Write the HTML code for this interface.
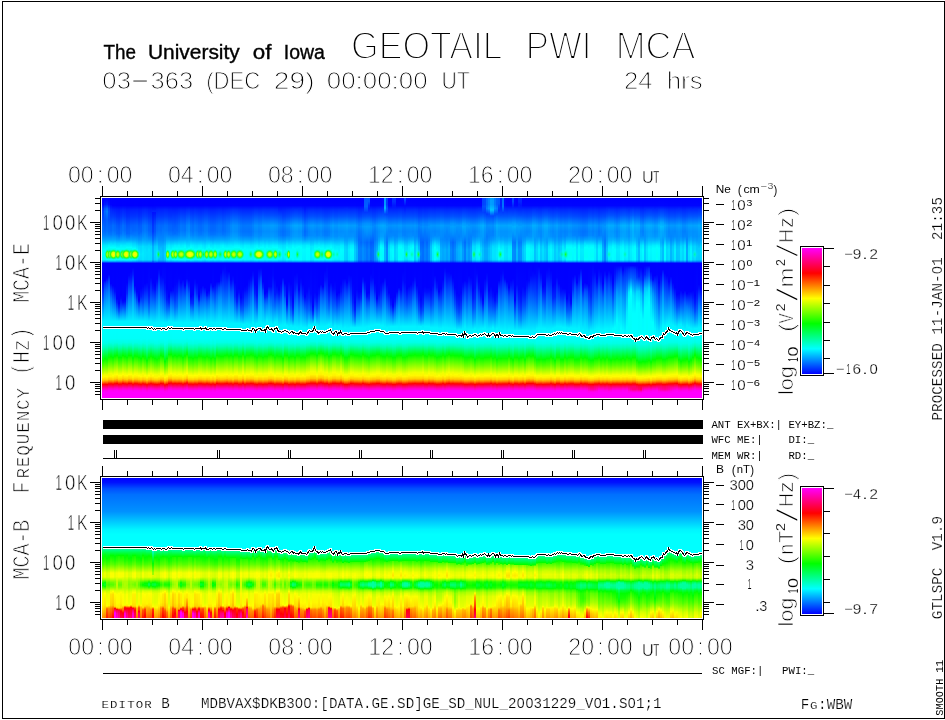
<!DOCTYPE html>
<html><head><meta charset="utf-8"><title>GEOTAIL PWI MCA</title>
<style>
html,body{margin:0;padding:0;background:#fff}
body{width:945px;height:720px;position:relative;overflow:hidden;font-family:"Liberation Sans",sans-serif}
.p{position:absolute;left:102px;width:600px;overflow:hidden}
.p i{position:absolute;top:0;width:2px;height:100%;display:block}
#p1{top:198px;height:200px}
#p2{top:478px;height:140px}
svg{position:absolute;left:0;top:0}
text{font-family:"Liberation Sans",sans-serif;fill:#000}
.m{font-family:"Liberation Mono",monospace}
</style></head><body>
<div class="p" id="p1">
<i style="left:0px;background:linear-gradient(#00f 0.5px,#0007ff 6.5px,#002eff 10.5px,#003eff 13.5px,#0048ff 19.5px,#006aff 28.5px,#006eff 33.5px,#0081ff 37.5px,#00a1ff 41.5px,#00e9ff 47.5px,#00fbff 51.5px,#00f5ff 61.5px,#00d8ff 62.5px,#009fff 63.5px,#003fff 64.5px,#00f 65.5px,#00f 82.5px,#0016ff 89.5px,#004bff 99.5px,#00f2ff 123.5px,#00f2ff 128.5px,#0ff 129.5px,#00fff9 141.5px,#00ffe8 145.5px,#00ffb2 150.5px,#00ff23 159.5px,#07ff00 162.5px,#5cff00 168.5px,#f5ff00 177.5px,#fff700 179.5px,#ffc400 182.5px,#ff7100 184.5px,#ff0800 186.5px,#ff00a9 190.5px,#ff00e4 192.5px,#ff00fe 194.5px,#f0f 199.5px)"></i>
<i style="left:2px;background:linear-gradient(#0002ff 0.5px,#001aff 6.5px,#05f 10.5px,#0069ff 13.5px,#0056ff 21.5px,#0069ff 32.5px,#0079ff 36.5px,#00a0ff 41.5px,#00e9ff 47.5px,#00feff 51.5px,#00fff4 56.5px,#00f7ff 61.5px,#00d8ff 62.5px,#009fff 63.5px,#003fff 64.5px,#00f 65.5px,#00f 82.5px,#002aff 85.5px,#0059ff 91.5px,#00c5ff 112.5px,#00f2ff 123.5px,#00f2ff 128.5px,#0ff 129.5px,#00fff8 141.5px,#00ffe5 145.5px,#00ffb5 149.5px,#00ff1f 158.5px,#00ff03 160.5px,#0bff00 161.5px,#5cff00 167.5px,#efff00 176.5px,#fffc00 178.5px,#ffd300 181.5px,#ffb600 182.5px,#ff8f00 183.5px,#ff2c00 185.5px,#ff0007 186.5px,#ff0064 188.5px,#ff00b3 190.5px,#ff00ea 192.5px,#f0f 194.5px,#f0f 199.5px)"></i>
<i style="left:4px;background:linear-gradient(#0003ff 0.5px,#0021ff 6.5px,#0064ff 10.5px,#007bff 13.5px,#005fff 21.5px,#006fff 32.5px,#0084ff 37.5px,#00a4ff 41.5px,#00ecff 47.5px,#00fffc 50.5px,#00ffd8 54.5px,#00ffd3 56.5px,#00ffdb 58.5px,#00fffc 61.5px,#00deff 62.5px,#00a2ff 63.5px,#0040ff 64.5px,#00f 65.5px,#00f 79.5px,#000dff 81.5px,#0029ff 83.5px,#04f 86.5px,#07f 94.5px,#00b5ff 107.5px,#00f2ff 123.5px,#00f2ff 128.5px,#0ff 129.5px,#00fff8 141.5px,#00ffe6 145.5px,#00ffb7 149.5px,#00ff24 158.5px,#06ff00 161.5px,#58ff00 167.5px,#edff00 176.5px,#fffd00 178.5px,#fff300 179.5px,#ffd500 181.5px,#ffba00 182.5px,#ff6400 184.5px,#ff0004 186.5px,#ff0061 188.5px,#ff00b0 190.5px,#ff00e9 192.5px,#f0f 194.5px,#f0f 199.5px)"></i>
<i style="left:6px;background:linear-gradient(#0001ff 0.5px,#0010ff 6.5px,#0040ff 10.5px,#0051ff 13.5px,#0051ff 21.5px,#06f 28.5px,#006bff 33.5px,#0079ff 36.5px,#00a4ff 41.5px,#00f4ff 47.5px,#00fffc 49.5px,#00ffc6 54.5px,#00ffc1 56.5px,#00ffc9 58.5px,#00fff2 61.5px,#00e6ff 62.5px,#00a8ff 63.5px,#0042ff 64.5px,#00f 65.5px,#00f 76.5px,#003cff 82.5px,#006aff 89.5px,#00a2ff 101.5px,#00deff 117.5px,#00f2ff 123.5px,#00f2ff 128.5px,#0ff 129.5px,#00fff9 140.5px,#00ffe7 144.5px,#00ffb7 148.5px,#00ff25 156.5px,#08ff00 159.5px,#74ff00 167.5px,#edff00 175.5px,#fff600 178.5px,#ffc700 181.5px,#ff7b00 183.5px,#ff1600 185.5px,#ff001c 186.5px,#ff0075 188.5px,#ff00c0 190.5px,#ff00f2 192.5px,#f0f 194.5px,#f0f 199.5px)"></i>
<i style="left:8px;background:linear-gradient(#00f 0.5px,#0002ff 6.5px,#0027ff 11.5px,#003bff 18.5px,#0062ff 27.5px,#0067ff 32.5px,#0078ff 36.5px,#00a3ff 41.5px,#00dbff 45.5px,#00fffe 49.5px,#00ffc5 54.5px,#00ffbf 56.5px,#00ffc8 58.5px,#00fff4 61.5px,#00e4ff 62.5px,#00a6ff 63.5px,#0041ff 64.5px,#00f 65.5px,#00f 85.5px,#0045ff 93.5px,#0076ff 100.5px,#00f2ff 123.5px,#00f2ff 128.5px,#0ff 129.5px,#00fff9 140.5px,#00ffe7 144.5px,#00ffb6 148.5px,#0f2 156.5px,#00ff05 158.5px,#0aff00 159.5px,#84ff00 168.5px,#ef0 175.5px,#fff500 178.5px,#ffc700 181.5px,#ff7900 183.5px,#ff1400 185.5px,#ff001e 186.5px,#ff0076 188.5px,#ff00c2 190.5px,#ff00f3 192.5px,#f0f 194.5px,#f0f 199.5px)"></i>
<i style="left:10px;background:linear-gradient(#00f 0.5px,#0001ff 7.5px,#0021ff 11.5px,#003cff 18.5px,#006cff 27.5px,#0070ff 32.5px,#0086ff 37.5px,#00a6ff 41.5px,#00efff 47.5px,#00feff 49.5px,#00fff6 50.5px,#00ffc0 54.5px,#00ffba 56.5px,#00ffc4 58.5px,#00fff4 61.5px,#00e3ff 62.5px,#00a5ff 63.5px,#0040ff 64.5px,#00f 65.5px,#0001ff 87.5px,#00f2ff 123.5px,#00f2ff 128.5px,#0ff 129.5px,#00fff9 140.5px,#00ffe1 145.5px,#00ffae 149.5px,#00ff64 153.5px,#00ff03 159.5px,#4cff00 165.5px,#e7ff00 175.5px,#fdff00 177.5px,#fe0 179.5px,#ffcf00 181.5px,#ff8500 183.5px,#ff2000 185.5px,#ff0013 186.5px,#ff006d 188.5px,#f0b 190.5px,#ff00ef 192.5px,#f0f 194.5px,#f0f 199.5px)"></i>
<i style="left:12px;background:linear-gradient(#00f 0.5px,#0001ff 7.5px,#001eff 11.5px,#0038ff 18.5px,#06f 27.5px,#006bff 32.5px,#007cff 36.5px,#00a5ff 41.5px,#00dbff 45.5px,#00fffe 49.5px,#00ffc2 54.5px,#0fb 56.5px,#00ffc5 58.5px,#00fff3 61.5px,#00e5ff 62.5px,#00a7ff 63.5px,#0041ff 64.5px,#00f 65.5px,#00f 74.5px,#00f 88.5px,#000dff 93.5px,#00f2ff 123.5px,#00f2ff 128.5px,#0ff 129.5px,#00fff9 140.5px,#00ffe5 144.5px,#00ffc0 147.5px,#00ff0a 157.5px,#05ff00 158.5px,#e6ff00 174.5px,#fbff00 176.5px,#fff100 178.5px,#ffd500 180.5px,#ffbe00 181.5px,#ff6f00 183.5px,#ff0b00 185.5px,#ff0026 186.5px,#ff00a3 189.5px,#ff00c6 190.5px,#ff00f4 192.5px,#f0f 194.5px,#f0f 199.5px)"></i>
<i style="left:14px;background:linear-gradient(#00f 0.5px,#00f 7.5px,#001bff 11.5px,#0030ff 18.5px,#005aff 27.5px,#006aff 35.5px,#009bff 41.5px,#00d3ff 45.5px,#00fffe 50.5px,#00ffce 54.5px,#00ffc7 56.5px,#00ffd1 58.5px,#00fffd 61.5px,#00dcff 62.5px,#00a0ff 63.5px,#003fff 64.5px,#00f 65.5px,#0002ff 100.5px,#001dff 104.5px,#00f2ff 123.5px,#00f2ff 128.5px,#0ff 129.5px,#00fff8 140.5px,#00ffe4 144.5px,#00ffab 148.5px,#00ff31 154.5px,#02ff00 157.5px,#d3ff00 172.5px,#ff0 176.5px,#ffd100 180.5px,#ff8f00 182.5px,#ff3100 184.5px,#f00 185.5px,#f0a 189.5px,#ff00e4 191.5px,#ff00f6 192.5px,#ff00fe 193.5px,#f0f 199.5px)"></i>
<i style="left:16px;background:linear-gradient(#00f 0.5px,#00f 7.5px,#0019ff 11.5px,#002eff 18.5px,#05f 27.5px,#06f 35.5px,#007aff 38.5px,#09f 41.5px,#00d4ff 45.5px,#00fffe 50.5px,#00ffd4 54.5px,#00ffcd 56.5px,#00ffd7 58.5px,#00fffe 61.5px,#00dcff 62.5px,#00a1ff 63.5px,#003fff 64.5px,#00f 65.5px,#0001ff 105.5px,#0026ff 109.5px,#0058ff 113.5px,#00f2ff 123.5px,#00f2ff 128.5px,#0ff 129.5px,#00fff9 140.5px,#00ffe1 145.5px,#00ffad 149.5px,#00ff2f 156.5px,#00ff02 159.5px,#4eff00 165.5px,#e8ff00 175.5px,#fdff00 177.5px,#ffed00 179.5px,#ffce00 181.5px,#ff8400 183.5px,#ff1f00 185.5px,#ff0015 186.5px,#ff006f 188.5px,#ff00bc 190.5px,#ff00f0 192.5px,#f0f 194.5px,#f0f 199.5px)"></i>
<i style="left:18px;background:linear-gradient(#00f 0.5px,#00f 7.5px,#001dff 11.5px,#0034ff 18.5px,#0060ff 27.5px,#0071ff 35.5px,#00a1ff 41.5px,#00f0ff 47.5px,#00fff9 50.5px,#00ffd1 54.5px,#00ffcb 56.5px,#00ffd5 58.5px,#00fff9 61.5px,#00e1ff 62.5px,#00a5ff 63.5px,#0041ff 64.5px,#00f 65.5px,#00f 97.5px,#0008ff 100.5px,#002aff 105.5px,#0057ff 110.5px,#00f2ff 123.5px,#00f2ff 128.5px,#0ff 129.5px,#00fff9 140.5px,#00ffe0 145.5px,#0fa 149.5px,#00ff2b 156.5px,#02ff00 159.5px,#7dff00 168.5px,#eaff00 175.5px,#feff00 177.5px,#ffeb00 179.5px,#ffcb00 181.5px,#ff8000 183.5px,#ff1b00 185.5px,#ff0018 186.5px,#ff0071 188.5px,#ff00be 190.5px,#ff00f1 192.5px,#f0f 194.5px,#f0f 199.5px)"></i>
<i style="left:20px;background:linear-gradient(#00f 0.5px,#0001ff 7.5px,#0021ff 11.5px,#003cff 18.5px,#006eff 27.5px,#0072ff 32.5px,#08f 37.5px,#00a6ff 41.5px,#00ecff 47.5px,#00fffa 50.5px,#00ffc8 54.5px,#00ffc2 56.5px,#0fc 58.5px,#00fff9 61.5px,#00dfff 62.5px,#00a2ff 63.5px,#0040ff 64.5px,#00f 65.5px,#00f 75.5px,#0003ff 102.5px,#01f 104.5px,#006fff 111.5px,#00f2ff 123.5px,#00f2ff 128.5px,#0ff 129.5px,#00fff9 140.5px,#00ffe4 144.5px,#00ffbc 147.5px,#00ff01 157.5px,#ecff00 174.5px,#feff00 176.5px,#ffd100 180.5px,#ff9100 182.5px,#ff0200 185.5px,#ff00a9 189.5px,#ff00ca 190.5px,#ff00f6 192.5px,#ff00fe 193.5px,#f0f 199.5px)"></i>
<i style="left:22px;background:linear-gradient(#00f 0.5px,#0001ff 7.5px,#001eff 11.5px,#0038ff 18.5px,#06f 27.5px,#006bff 32.5px,#007cff 36.5px,#00a3ff 41.5px,#0ef 47.5px,#00fff7 50.5px,#00ffc2 54.5px,#0fb 56.5px,#00ffc5 58.5px,#00fff5 61.5px,#00e2ff 62.5px,#00a5ff 63.5px,#0040ff 64.5px,#00f 65.5px,#0001ff 101.5px,#000cff 103.5px,#00f2ff 123.5px,#00f2ff 128.5px,#0ff 129.5px,#00fff9 140.5px,#00ffe7 144.5px,#00ffb4 148.5px,#00ff2f 155.5px,#0f0 158.5px,#f1ff00 175.5px,#fffc00 177.5px,#ffe600 179.5px,#ffc300 181.5px,#ff7500 183.5px,#ff1000 185.5px,#f02 186.5px,#ff0079 188.5px,#ff00c4 190.5px,#ff00f4 192.5px,#f0f 194.5px,#f0f 199.5px)"></i>
<i style="left:24px;background:linear-gradient(#00f 0.5px,#00f 7.5px,#0019ff 11.5px,#002dff 18.5px,#05f 27.5px,#0065ff 35.5px,#0086ff 39.5px,#0af 42.5px,#00dcff 45.5px,#00fffd 49.5px,#00ffc8 53.5px,#00ffb8 55.5px,#00ffc1 58.5px,#00fff1 61.5px,#00e6ff 62.5px,#00a7ff 63.5px,#0041ff 64.5px,#00f 65.5px,#00f 84.5px,#0026ff 95.5px,#00f2ff 123.5px,#00f2ff 128.5px,#0ff 129.5px,#00fff9 140.5px,#00ffe8 144.5px,#00ffb9 148.5px,#00ff2a 156.5px,#03ff00 159.5px,#7eff00 168.5px,#eaff00 175.5px,#ff0 177.5px,#fc0 181.5px,#ff8000 183.5px,#ff1b00 185.5px,#ff0018 186.5px,#ff0072 188.5px,#ff00bf 190.5px,#ff00f2 192.5px,#f0f 194.5px,#f0f 199.5px)"></i>
<i style="left:26px;background:linear-gradient(#00f 0.5px,#00f 7.5px,#001aff 11.5px,#002eff 18.5px,#0057ff 27.5px,#0067ff 35.5px,#007cff 38.5px,#009eff 41.5px,#0df 45.5px,#00fffc 49.5px,#00ffc8 54.5px,#00ffc1 56.5px,#00ffcb 58.5px,#00fff3 61.5px,#00e5ff 62.5px,#00a8ff 63.5px,#0042ff 64.5px,#00f 65.5px,#00f 74.5px,#0003ff 77.5px,#0067ff 95.5px,#00f2ff 123.5px,#00f2ff 128.5px,#0ff 129.5px,#00fff9 140.5px,#00ffe4 144.5px,#00ffbc 147.5px,#00ff20 155.5px,#0f0 157.5px,#d2ff00 172.5px,#feff00 176.5px,#ffd100 180.5px,#ff9000 182.5px,#ff0100 185.5px,#ff00a9 189.5px,#ff00ca 190.5px,#ff00f6 192.5px,#ff00fe 193.5px,#f0f 199.5px)"></i>
<i style="left:28px;background:linear-gradient(#00f 0.5px,#00f 7.5px,#001cff 11.5px,#0034ff 18.5px,#005fff 27.5px,#0070ff 35.5px,#00a1ff 41.5px,#00dbff 45.5px,#00fffe 49.5px,#00ffc7 54.5px,#00ffc1 56.5px,#00ffca 58.5px,#00fff4 61.5px,#00e4ff 62.5px,#00a6ff 63.5px,#0041ff 64.5px,#00f 65.5px,#00f 73.5px,#0012ff 79.5px,#00f2ff 123.5px,#00f2ff 128.5px,#0ff 129.5px,#00fff9 140.5px,#00ffe4 144.5px,#00ffbd 147.5px,#00ff03 157.5px,#ebff00 174.5px,#feff00 176.5px,#ffe100 179.5px,#ffd200 180.5px,#ffb700 181.5px,#ff6700 183.5px,#ff0400 185.5px,#ff00a7 189.5px,#ff00c9 190.5px,#ff00f5 192.5px,#ff00fe 193.5px,#f0f 199.5px)"></i>
<i style="left:30px;background:linear-gradient(#00f 0.5px,#00f 7.5px,#001dff 11.5px,#0034ff 18.5px,#0060ff 27.5px,#0065ff 32.5px,#0076ff 36.5px,#009dff 41.5px,#00d2ff 45.5px,#0ff 50.5px,#00ffcd 54.5px,#00ffc7 56.5px,#00ffd1 58.5px,#00fffd 61.5px,#00dcff 62.5px,#00a0ff 63.5px,#003eff 64.5px,#00f 65.5px,#00f 69.5px,#0019ff 76.5px,#005aff 85.5px,#00a7ff 102.5px,#00f2ff 123.5px,#00f2ff 128.5px,#0ff 129.5px,#00fff9 140.5px,#00ffe3 145.5px,#00ffb1 149.5px,#00ff08 159.5px,#06ff00 160.5px,#48ff00 165.5px,#e4ff00 175.5px,#fcff00 177.5px,#fff000 179.5px,#ffd000 181.5px,#ff8900 183.5px,#ff2400 185.5px,#ff000f 186.5px,#ff006a 188.5px,#ff00b8 190.5px,#f0e 192.5px,#f0f 194.5px,#f0f 199.5px)"></i>
<i style="left:32px;background:linear-gradient(#00f 0.5px,#0001ff 7.5px,#001dff 11.5px,#0035ff 18.5px,#0062ff 27.5px,#0067ff 32.5px,#007cff 37.5px,#009eff 41.5px,#00d1ff 45.5px,#0ff 50.5px,#00ffc9 54.5px,#00ffc3 56.5px,#0fc 58.5px,#00fffd 61.5px,#00dbff 62.5px,#009fff 63.5px,#003eff 64.5px,#00f 65.5px,#00f 75.5px,#00f 87.5px,#0023ff 92.5px,#0052ff 96.5px,#0080ff 102.5px,#00f2ff 123.5px,#00f2ff 128.5px,#0ff 129.5px,#00fff9 140.5px,#00ffe6 144.5px,#00ffb1 148.5px,#00ff09 157.5px,#06ff00 158.5px,#e7ff00 174.5px,#fcff00 176.5px,#fff200 178.5px,#ffd500 180.5px,#ffbd00 181.5px,#ff6e00 183.5px,#ff0a00 185.5px,#ff0026 186.5px,#ff00a3 189.5px,#ff00c6 190.5px,#ff00f4 192.5px,#f0f 194.5px,#f0f 199.5px)"></i>
<i style="left:34px;background:linear-gradient(#00f 0.5px,#0001ff 7.5px,#001eff 11.5px,#0037ff 18.5px,#0064ff 27.5px,#0069ff 32.5px,#007dff 37.5px,#009aff 41.5px,#00daff 47.5px,#00fffb 52.5px,#00ffe6 54.5px,#00ffdf 56.5px,#00fff5 59.5px,#00efff 61.5px,#00ceff 62.5px,#0096ff 63.5px,#003bff 64.5px,#00f 65.5px,#00f 93.5px,#0019ff 97.5px,#007cff 107.5px,#00d6ff 119.5px,#00f2ff 123.5px,#00f2ff 128.5px,#0ff 129.5px,#00fff9 140.5px,#00ffe6 144.5px,#00ffb3 148.5px,#00ff2d 155.5px,#03ff00 158.5px,#f2ff00 175.5px,#fffb00 177.5px,#ffe500 179.5px,#ffc000 181.5px,#ff7200 183.5px,#ff0d00 185.5px,#ff0024 186.5px,#ff007b 188.5px,#ff00c5 190.5px,#ff00f4 192.5px,#f0f 194.5px,#f0f 199.5px)"></i>
<i style="left:36px;background:linear-gradient(#00f 0.5px,#00f 7.5px,#001bff 11.5px,#0030ff 18.5px,#005aff 27.5px,#006aff 35.5px,#0090ff 41.5px,#00d8ff 48.5px,#00f5ff 56.5px,#00deff 61.5px,#00c2ff 62.5px,#008fff 63.5px,#0038ff 64.5px,#00f 65.5px,#00f 101.5px,#0015ff 103.5px,#0038ff 105.5px,#006bff 109.5px,#00c6ff 118.5px,#00f2ff 123.5px,#00f2ff 128.5px,#0ff 129.5px,#00fff9 140.5px,#00ffe0 145.5px,#00ffab 149.5px,#00ff1c 157.5px,#01ff00 159.5px,#0fff00 160.5px,#7cff00 168.5px,#e9ff00 175.5px,#feff00 177.5px,#fff700 178.5px,#fc0 181.5px,#ff8100 183.5px,#ff1d00 185.5px,#ff0016 186.5px,#ff0070 188.5px,#ff00bd 190.5px,#ff00f0 192.5px,#f0f 194.5px,#f0f 199.5px)"></i>
<i style="left:38px;background:linear-gradient(#00f 0.5px,#00f 7.5px,#001cff 11.5px,#03f 18.5px,#005eff 27.5px,#0065ff 33.5px,#0092ff 41.5px,#00d7ff 48.5px,#00e4ff 56.5px,#00dcff 61.5px,#00c1ff 62.5px,#008eff 63.5px,#0038ff 64.5px,#00f 65.5px,#0001ff 90.5px,#001fff 98.5px,#0069ff 106.5px,#00f2ff 123.5px,#00f2ff 128.5px,#0ff 129.5px,#00fff8 141.5px,#00ffe4 145.5px,#00ffb3 149.5px,#00ff2a 157.5px,#01ff00 160.5px,#60ff00 167.5px,#f1ff00 176.5px,#fffb00 178.5px,#ffd200 181.5px,#ff8c00 183.5px,#ff2800 185.5px,#ff000b 186.5px,#ff0067 188.5px,#ff00b5 190.5px,#ff00ec 192.5px,#f0f 194.5px,#f0f 199.5px)"></i>
<i style="left:40px;background:linear-gradient(#00f 0.5px,#0001ff 7.5px,#0021ff 11.5px,#003dff 18.5px,#006fff 27.5px,#0073ff 32.5px,#008bff 38.5px,#00a7ff 42.5px,#00e0ff 48.5px,#00eaff 55.5px,#00e4ff 61.5px,#00c9ff 62.5px,#0094ff 63.5px,#003bff 64.5px,#00f 65.5px,#0003ff 88.5px,#001bff 95.5px,#004fff 104.5px,#0095ff 113.5px,#00f2ff 123.5px,#00f2ff 128.5px,#0ff 129.5px,#00fff9 140.5px,#00ffe7 144.5px,#00ffb5 148.5px,#00ff30 155.5px,#00ff01 158.5px,#1cff00 160.5px,#f0ff00 175.5px,#fff400 178.5px,#ffc400 181.5px,#ff7600 183.5px,#f10 185.5px,#ff0021 186.5px,#ff0079 188.5px,#ff00c3 190.5px,#ff00f4 192.5px,#f0f 194.5px,#f0f 199.5px)"></i>
<i style="left:42px;background:linear-gradient(#00f 0.5px,#0001ff 7.5px,#0023ff 11.5px,#0040ff 18.5px,#0074ff 27.5px,#007bff 33.5px,#009eff 41.5px,#00d9ff 48.5px,#00e2ff 51.5px,#00e3ff 57.5px,#0df 61.5px,#00c3ff 62.5px,#0090ff 63.5px,#0039ff 64.5px,#00f 65.5px,#00f 85.5px,#0018ff 91.5px,#004cff 100.5px,#00f2ff 123.5px,#00f2ff 128.5px,#0ff 129.5px,#00fff9 140.5px,#00ffe1 145.5px,#00ffad 149.5px,#0f1 158.5px,#0bff00 160.5px,#78ff00 168.5px,#e7ff00 175.5px,#fdff00 177.5px,#fff800 178.5px,#ffcd00 181.5px,#ff8400 183.5px,#ff2000 185.5px,#ff0013 186.5px,#ff006e 188.5px,#f0b 190.5px,#ff00ef 192.5px,#f0f 194.5px,#f0f 199.5px)"></i>
<i style="left:44px;background:linear-gradient(#00f 0.5px,#0001ff 7.5px,#0021ff 11.5px,#003cff 18.5px,#006eff 27.5px,#0072ff 32.5px,#0089ff 38.5px,#00a1ff 42.5px,#00d7ff 48.5px,#00e1ff 54.5px,#00dbff 61.5px,#00c1ff 62.5px,#008eff 63.5px,#0038ff 64.5px,#00f 65.5px,#0001ff 84.5px,#001dff 91.5px,#0054ff 101.5px,#0ef 123.5px,#00f2ff 128.5px,#0ff 130.5px,#00fff9 141.5px,#00ffe0 146.5px,#00ffb2 150.5px,#00ff25 159.5px,#05ff00 162.5px,#5aff00 168.5px,#f4ff00 177.5px,#fff700 179.5px,#ffc600 182.5px,#ff7200 184.5px,#ff0900 186.5px,#ff0029 187.5px,#ff00a8 190.5px,#ff00e3 192.5px,#ff00fe 194.5px,#f0f 199.5px)"></i>
<i style="left:46px;background:linear-gradient(#00f 0.5px,#00f 7.5px,#001cff 11.5px,#03f 18.5px,#005fff 27.5px,#0063ff 32.5px,#07f 37.5px,#0094ff 41.5px,#00d4ff 47.5px,#00e4ff 51.5px,#00dfff 61.5px,#00c4ff 62.5px,#0091ff 63.5px,#0039ff 64.5px,#00f 65.5px,#0007ff 89.5px,#001fff 97.5px,#0042ff 104.5px,#008eff 114.5px,#00ecff 123.5px,#00f2ff 128.5px,#0ff 130.5px,#00fff9 140.5px,#00ffe0 145.5px,#0fa 149.5px,#00ff2a 156.5px,#02ff00 159.5px,#7dff00 168.5px,#eaff00 175.5px,#ff0 177.5px,#fff700 178.5px,#ffcb00 181.5px,#ff8000 183.5px,#ff1b00 185.5px,#ff0018 186.5px,#ff0071 188.5px,#ff00be 190.5px,#ff00f1 192.5px,#f0f 194.5px,#f0f 199.5px)"></i>
<i style="left:48px;background:linear-gradient(#00f 0.5px,#00f 7.5px,#001aff 11.5px,#0030ff 18.5px,#0059ff 27.5px,#0061ff 33.5px,#0072ff 37.5px,#0090ff 41.5px,#00d7ff 48.5px,#00e1ff 55.5px,#00dcff 61.5px,#00c1ff 62.5px,#008fff 63.5px,#0038ff 64.5px,#00f 65.5px,#0001ff 79.5px,#003eff 95.5px,#0087ff 108.5px,#0ef 123.5px,#00f2ff 128.5px,#0ff 130.5px,#00fff9 140.5px,#00ffe6 144.5px,#00ffb2 148.5px,#00ff29 155.5px,#06ff00 158.5px,#f3ff00 175.5px,#fff200 178.5px,#ffbd00 181.5px,#ff6f00 183.5px,#ff0a00 185.5px,#ff0026 186.5px,#ff00a3 189.5px,#ff00c6 190.5px,#ff00f4 192.5px,#f0f 194.5px,#f0f 199.5px)"></i>
<i style="left:50px;background:linear-gradient(#00f 0.5px,#00f 7.5px,#0023ff 13.5px,#0010ff 14.5px,#0038ff 28.5px,#003dff 33.5px,#0069ff 41.5px,#00adff 48.5px,#00b6ff 51.5px,#00b7ff 58.5px,#00b1ff 61.5px,#0097ff 62.5px,#00f 65.5px,#00f 84.5px,#0013ff 90.5px,#00efff 124.5px,#00f2ff 129.5px,#0ff 131.5px,#00fff9 140.5px,#00ffe8 144.5px,#0fa 149.5px,#00ff0c 158.5px,#02ff00 159.5px,#2bff00 162.5px,#eaff00 175.5px,#ff0 177.5px,#fff700 178.5px,#fc0 181.5px,#ff8100 183.5px,#ff1b00 185.5px,#ff0018 186.5px,#ff0071 188.5px,#ff00be 190.5px,#ff00f1 192.5px,#f0f 194.5px,#f0f 199.5px)"></i>
<i style="left:52px;background:linear-gradient(#00f 0.5px,#0001ff 7.5px,#0023ff 13.5px,#0013ff 14.5px,#0015ff 15.5px,#004bff 27.5px,#0053ff 33.5px,#0065ff 37.5px,#0083ff 41.5px,#0cf 48.5px,#00d6ff 51.5px,#00d7ff 56.5px,#00d1ff 61.5px,#00b5ff 62.5px,#0080ff 63.5px,#00f 65.5px,#00f 87.5px,#000fff 91.5px,#00efff 124.5px,#00f2ff 129.5px,#0ff 131.5px,#00fff8 141.5px,#00ffe5 145.5px,#00ffb4 149.5px,#00ff2b 157.5px,#0f0 160.5px,#1cff00 162.5px,#6fff00 168.5px,#f1ff00 176.5px,#fff200 179.5px,#ffd200 181.5px,#ffb400 182.5px,#ff8d00 183.5px,#ff2900 185.5px,#ff000a 186.5px,#f06 188.5px,#ff00b5 190.5px,#ff00ec 192.5px,#f0f 194.5px,#f0f 199.5px)"></i>
<i style="left:54px;background:linear-gradient(#00f 0.5px,#0001ff 7.5px,#001eff 11.5px,#0037ff 18.5px,#0065ff 27.5px,#006aff 32.5px,#007dff 37.5px,#0094ff 41.5px,#00d4ff 48.5px,#00eaff 56.5px,#00daff 61.5px,#00bfff 62.5px,#008cff 63.5px,#0037ff 64.5px,#00f 65.5px,#00f 80.5px,#000aff 83.5px,#00f2ff 124.5px,#00f2ff 129.5px,#0ff 130.5px,#00fff8 141.5px,#00ffe6 145.5px,#00ffb6 149.5px,#00ff21 158.5px,#08ff00 161.5px,#5aff00 167.5px,#ef0 176.5px,#fff300 179.5px,#ffd400 181.5px,#ffb800 182.5px,#ff9100 183.5px,#ff0005 186.5px,#ff0062 188.5px,#ff00b2 190.5px,#ff00e9 192.5px,#f0f 194.5px,#f0f 199.5px)"></i>
<i style="left:56px;background:linear-gradient(#00f 0.5px,#0001ff 7.5px,#0020ff 11.5px,#003aff 18.5px,#006bff 27.5px,#006fff 32.5px,#008aff 41.5px,#00b5ff 48.5px,#00d1ff 56.5px,#00bdff 61.5px,#00a4ff 62.5px,#0078ff 63.5px,#002fff 64.5px,#00f 65.5px,#00f 70.5px,#0010ff 75.5px,#0052ff 87.5px,#00acff 107.5px,#00f2ff 124.5px,#00f2ff 129.5px,#0ff 130.5px,#00fff9 140.5px,#00ffe2 145.5px,#00ffae 149.5px,#00ff14 158.5px,#08ff00 160.5px,#67ff00 167.5px,#e5ff00 175.5px,#fff900 178.5px,#ffce00 181.5px,#ff8600 183.5px,#ff2300 185.5px,#ff0010 186.5px,#ff006b 188.5px,#ff00b9 190.5px,#f0e 192.5px,#f0f 194.5px,#f0f 199.5px)"></i>
<i style="left:58px;background:linear-gradient(#00f 0.5px,#0001ff 7.5px,#001fff 11.5px,#0039ff 18.5px,#0068ff 27.5px,#006cff 32.5px,#0089ff 41.5px,#00beff 50.5px,#00c3ff 56.5px,#0bf 61.5px,#00a5ff 62.5px,#0079ff 63.5px,#0030ff 64.5px,#00f 65.5px,#00f 76.5px,#001eff 85.5px,#00efff 124.5px,#00f2ff 129.5px,#0ff 131.5px,#00fff9 140.5px,#00ffe5 144.5px,#00ffae 148.5px,#00ff23 155.5px,#00ff03 157.5px,#0cff00 158.5px,#eaff00 174.5px,#fdff00 176.5px,#fff000 178.5px,#ffd300 180.5px,#ffb800 181.5px,#ff6800 183.5px,#ff0500 185.5px,#ff00a7 189.5px,#ff00c8 190.5px,#ff00f5 192.5px,#ff00fe 193.5px,#f0f 199.5px)"></i>
<i style="left:60px;background:linear-gradient(#00f 0.5px,#0001ff 7.5px,#0020ff 11.5px,#003aff 18.5px,#006aff 27.5px,#0080ff 38.5px,#008dff 42.5px,#00b3ff 48.5px,#0bf 54.5px,#00b7ff 61.5px,#00a1ff 62.5px,#07f 63.5px,#002fff 64.5px,#00f 65.5px,#0007ff 79.5px,#0049ff 96.5px,#0096ff 110.5px,#00f2ff 124.5px,#00f2ff 129.5px,#0ff 130.5px,#00fff9 140.5px,#00ffe6 144.5px,#00ffb3 148.5px,#00ff2c 155.5px,#03ff00 158.5px,#f2ff00 175.5px,#fff300 178.5px,#ffc000 181.5px,#ff7200 183.5px,#ff0d00 185.5px,#ff0024 186.5px,#ff007b 188.5px,#ff00c5 190.5px,#ff00f4 192.5px,#f0f 194.5px,#f0f 199.5px)"></i>
<i style="left:62px;background:linear-gradient(#00f 0.5px,#0001ff 7.5px,#02f 11.5px,#003eff 18.5px,#0071ff 27.5px,#0075ff 32.5px,#08f 38.5px,#0097ff 42.5px,#00c1ff 48.5px,#00d3ff 56.5px,#00c7ff 61.5px,#00aeff 62.5px,#0080ff 63.5px,#03f 64.5px,#00f 65.5px,#0008ff 84.5px,#001fff 92.5px,#0043ff 100.5px,#008dff 112.5px,#0ef 124.5px,#00f2ff 129.5px,#0ff 131.5px,#00fff9 141.5px,#00ffe4 146.5px,#00ffab 151.5px,#00ff23 160.5px,#07ff00 163.5px,#50ff00 168.5px,#f0ff00 177.5px,#fffa00 179.5px,#fc0 182.5px,#ff7c00 184.5px,#ff1300 186.5px,#ff0021 187.5px,#ff007a 189.5px,#ff00c5 191.5px,#ff00f4 193.5px,#f0f 195.5px,#f0f 199.5px)"></i>
<i style="left:64px;background:linear-gradient(#00f 0.5px,#0001ff 7.5px,#0021ff 11.5px,#003dff 18.5px,#006fff 27.5px,#0073ff 32.5px,#0087ff 37.5px,#00a2ff 41.5px,#00e2ff 47.5px,#00fff9 52.5px,#00ffe5 56.5px,#00ffec 58.5px,#00feff 60.5px,#00f5ff 61.5px,#00d4ff 62.5px,#009bff 63.5px,#003dff 64.5px,#00f 65.5px,#00f 90.5px,#001aff 101.5px,#006aff 111.5px,#0ef 124.5px,#00f2ff 129.5px,#0ff 131.5px,#00fff8 141.5px,#00ffe5 145.5px,#00ffb7 149.5px,#00ff06 160.5px,#59ff00 167.5px,#edff00 176.5px,#fffc00 178.5px,#ffd400 181.5px,#ffb900 182.5px,#ff9100 183.5px,#ff2f00 185.5px,#ff0005 186.5px,#ff0062 188.5px,#ff00b1 190.5px,#ff00e9 192.5px,#f0f 194.5px,#f0f 199.5px)"></i>
<i style="left:66px;background:linear-gradient(#00f 0.5px,#0001ff 7.5px,#001eff 11.5px,#0038ff 18.5px,#06f 27.5px,#006bff 32.5px,#007bff 36.5px,#00a2ff 41.5px,#00ebff 47.5px,#00fff9 51.5px,#00ffe0 56.5px,#00fdff 61.5px,#00dcff 62.5px,#00a1ff 63.5px,#003fff 64.5px,#00f 65.5px,#0003ff 98.5px,#02f 104.5px,#0ef 123.5px,#00f2ff 128.5px,#0ff 130.5px,#00fff7 140.5px,#00ffe0 144.5px,#00ffa5 148.5px,#00ff06 156.5px,#daff00 172.5px,#fffc00 176.5px,#ffe900 178.5px,#ffc700 180.5px,#ff8500 182.5px,#ff2800 184.5px,#ff0009 185.5px,#ff00b0 189.5px,#ff00e8 191.5px,#ff00fe 193.5px,#f0f 199.5px)"></i>
<i style="left:68px;background:linear-gradient(#00f 0.5px,#0001ff 7.5px,#001eff 11.5px,#0036ff 18.5px,#0064ff 27.5px,#0068ff 32.5px,#007dff 37.5px,#009dff 41.5px,#00e2ff 47.5px,#00fffd 52.5px,#00ffec 56.5px,#00fffa 59.5px,#00f3ff 61.5px,#00d3ff 62.5px,#009bff 63.5px,#003dff 64.5px,#00f 65.5px,#0003ff 92.5px,#0056ff 101.5px,#00c8ff 117.5px,#00efff 123.5px,#00f2ff 128.5px,#0ff 130.5px,#00fff7 140.5px,#00ffde 144.5px,#00ffb3 147.5px,#00ff35 153.5px,#02ff00 156.5px,#bf0 169.5px,#fdff00 175.5px,#ffe500 178.5px,#ffc400 180.5px,#ff7e00 182.5px,#ff2000 184.5px,#f01 185.5px,#ff00b5 189.5px,#ff00eb 191.5px,#f0f 193.5px,#f0f 199.5px)"></i>
<i style="left:70px;background:linear-gradient(#00f 0.5px,#0001ff 7.5px,#001cff 11.5px,#005fff 27.5px,#0063ff 32.5px,#0073ff 36.5px,#009cff 41.5px,#00e7ff 47.5px,#00fdff 50.5px,#00fff7 51.5px,#00ffd9 54.5px,#00ffd4 56.5px,#00ffdc 58.5px,#00feff 61.5px,#00daff 62.5px,#009fff 63.5px,#003eff 64.5px,#00f 65.5px,#00f 88.5px,#000aff 92.5px,#00f2ff 124.5px,#00f2ff 129.5px,#0ff 130.5px,#00fff9 140.5px,#00ffe6 144.5px,#00ffb2 148.5px,#00ff2a 155.5px,#05ff00 158.5px,#f3ff00 175.5px,#fffb00 177.5px,#ffd500 180.5px,#ffbe00 181.5px,#ff7000 183.5px,#ff0b00 185.5px,#ff0026 186.5px,#ff007c 188.5px,#ff00c5 190.5px,#ff00f4 192.5px,#f0f 194.5px,#f0f 199.5px)"></i>
<i style="left:72px;background:linear-gradient(#00f 0.5px,#0001ff 7.5px,#001cff 11.5px,#005dff 27.5px,#006cff 35.5px,#009eff 41.5px,#00efff 47.5px,#00fff9 50.5px,#00ffcf 54.5px,#00ffc9 56.5px,#00ffd1 58.5px,#00fff8 61.5px,#00e1ff 62.5px,#00a4ff 63.5px,#0040ff 64.5px,#00f 65.5px,#00f 75.5px,#0003ff 86.5px,#001aff 95.5px,#003cff 102.5px,#0069ff 109.5px,#00a2ff 116.5px,#00f2ff 124.5px,#00f2ff 129.5px,#0ff 130.5px,#00fff9 140.5px,#00ffe5 144.5px,#00ffbd 147.5px,#00ff04 157.5px,#eaff00 174.5px,#fdff00 176.5px,#fff000 178.5px,#ffd300 180.5px,#ffb900 181.5px,#ff6900 183.5px,#ff0500 185.5px,#ff00a6 189.5px,#ff00c8 190.5px,#ff00f5 192.5px,#ff00fe 193.5px,#f0f 199.5px)"></i>
<i style="left:74px;background:linear-gradient(#00f 0.5px,#0001ff 7.5px,#001dff 11.5px,#0062ff 27.5px,#06f 32.5px,#0076ff 36.5px,#009fff 41.5px,#00ecff 47.5px,#00fffd 50.5px,#00ffda 54.5px,#00ffd4 56.5px,#00ffdc 58.5px,#00fffe 61.5px,#0df 62.5px,#00a2ff 63.5px,#0040ff 64.5px,#00f 65.5px,#0002ff 83.5px,#001cff 93.5px,#006dff 108.5px,#00f2ff 124.5px,#00f2ff 129.5px,#0ff 130.5px,#00fff9 140.5px,#00ffe6 144.5px,#00ffb2 148.5px,#00ff2c 155.5px,#04ff00 158.5px,#e5ff00 174.5px,#fffb00 177.5px,#ffd600 180.5px,#ffbf00 181.5px,#ff7100 183.5px,#ff0c00 185.5px,#ff0025 186.5px,#ff007c 188.5px,#ff00c5 190.5px,#ff00f4 192.5px,#f0f 194.5px,#f0f 199.5px)"></i>
<i style="left:76px;background:linear-gradient(#00f 0.5px,#0001ff 7.5px,#0020ff 11.5px,#006aff 27.5px,#0070ff 33.5px,#0083ff 37.5px,#00a5ff 41.5px,#00f1ff 47.5px,#00fff7 50.5px,#00ffcd 54.5px,#00ffc6 56.5px,#00ffd0 58.5px,#00fff7 61.5px,#00e3ff 62.5px,#00a5ff 63.5px,#0041ff 64.5px,#00f 65.5px,#00f 75.5px,#0003ff 80.5px,#0023ff 87.5px,#00f2ff 124.5px,#00f2ff 129.5px,#0ff 130.5px,#00fff9 140.5px,#00ffe6 144.5px,#00ffbe 147.5px,#00ff05 157.5px,#e9ff00 174.5px,#fdff00 176.5px,#fff000 178.5px,#ffd300 180.5px,#ffba00 181.5px,#ff6a00 183.5px,#ff0600 185.5px,#ff00a6 189.5px,#ff00c8 190.5px,#ff00f5 192.5px,#f0f 194.5px,#f0f 199.5px)"></i>
<i style="left:78px;background:linear-gradient(#00f 0.5px,#0002ff 7.5px,#0024ff 11.5px,#0076ff 27.5px,#0079ff 32.5px,#008dff 37.5px,#00a8ff 41.5px,#00eaff 47.5px,#00fffb 50.5px,#00ffc6 54.5px,#00ffc0 56.5px,#00ffca 58.5px,#00fff9 61.5px,#00dfff 62.5px,#00a2ff 63.5px,#003fff 64.5px,#00f 65.5px,#00f 75.5px,#0003ff 84.5px,#00f2ff 124.5px,#00f2ff 129.5px,#0ff 130.5px,#00fff9 140.5px,#00ffe6 144.5px,#00ffbf 147.5px,#00ff09 157.5px,#06ff00 158.5px,#e7ff00 174.5px,#fcff00 176.5px,#fff100 178.5px,#ffd500 180.5px,#ffbd00 181.5px,#ff6e00 183.5px,#ff0a00 185.5px,#ff0027 186.5px,#ff00a3 189.5px,#ff00c6 190.5px,#ff00f4 192.5px,#f0f 194.5px,#f0f 199.5px)"></i>
<i style="left:80px;background:linear-gradient(#00f 0.5px,#0002ff 7.5px,#0023ff 11.5px,#0073ff 27.5px,#0076ff 32.5px,#008aff 37.5px,#00a8ff 41.5px,#0ef 47.5px,#00fff9 50.5px,#00ffcb 54.5px,#00ffc4 56.5px,#00ffcf 58.5px,#00fff8 61.5px,#00e1ff 62.5px,#00a4ff 63.5px,#0040ff 64.5px,#00f 65.5px,#00f 81.5px,#00f0ff 124.5px,#00f2ff 129.5px,#0ff 131.5px,#00fff9 140.5px,#00ffe1 145.5px,#00ffae 149.5px,#00ff63 153.5px,#00ff03 159.5px,#4cff00 165.5px,#e7ff00 175.5px,#fdff00 177.5px,#fe0 179.5px,#ffce00 181.5px,#ff8500 183.5px,#ff2000 185.5px,#ff0013 186.5px,#ff006e 188.5px,#f0b 190.5px,#ff00ef 192.5px,#f0f 194.5px,#f0f 199.5px)"></i>
<i style="left:82px;background:linear-gradient(#00f 0.5px,#0002ff 7.5px,#02f 11.5px,#0071ff 27.5px,#0073ff 32.5px,#08f 37.5px,#00a9ff 41.5px,#00f4ff 47.5px,#00fffd 49.5px,#00ffd4 54.5px,#00ffcd 56.5px,#00ffd7 58.5px,#00fff8 61.5px,#00e4ff 62.5px,#00a7ff 63.5px,#0042ff 64.5px,#00f 65.5px,#00f 74.5px,#0002ff 87.5px,#002cff 91.5px,#0067ff 99.5px,#00f2ff 124.5px,#00f2ff 129.5px,#0ff 130.5px,#00fff9 140.5px,#00ffe5 144.5px,#00ffbf 147.5px,#00ff08 157.5px,#07ff00 158.5px,#e7ff00 174.5px,#fcff00 176.5px,#fff100 178.5px,#ffd500 180.5px,#ffbc00 181.5px,#ff6d00 183.5px,#ff0900 185.5px,#ff0027 186.5px,#ff00a4 189.5px,#ff00c6 190.5px,#ff00f5 192.5px,#f0f 194.5px,#f0f 199.5px)"></i>
<i style="left:84px;background:linear-gradient(#00f 0.5px,#0002ff 7.5px,#0027ff 11.5px,#0082ff 27.5px,#0084ff 32.5px,#009aff 38.5px,#00b2ff 42.5px,#00e4ff 47.5px,#00fffb 51.5px,#00ffd9 54.5px,#00ffd2 56.5px,#00ffdc 58.5px,#00faff 61.5px,#00d7ff 62.5px,#009dff 63.5px,#003dff 64.5px,#00f 65.5px,#0003ff 80.5px,#0047ff 88.5px,#0087ff 99.5px,#00e7ff 121.5px,#00f2ff 124.5px,#00f2ff 129.5px,#0ff 130.5px,#00fff9 139.5px,#00ffe8 143.5px,#00ffb2 147.5px,#00ff1d 154.5px,#05ff00 156.5px,#bfff00 169.5px,#feff00 175.5px,#fff000 177.5px,#ffc300 180.5px,#ff7c00 182.5px,#ff1c00 184.5px,#ff0014 185.5px,#ff00b7 189.5px,#ff00ec 191.5px,#f0f 193.5px,#f0f 199.5px)"></i>
<i style="left:86px;background:linear-gradient(#00f 0.5px,#0003ff 7.5px,#0029ff 11.5px,#08f 27.5px,#008cff 33.5px,#00aeff 41.5px,#00feff 50.5px,#00fff3 51.5px,#00ffca 54.5px,#00ffc3 56.5px,#00ffcd 58.5px,#00fffe 61.5px,#00daff 62.5px,#009eff 63.5px,#003eff 64.5px,#00f 65.5px,#0002ff 82.5px,#001eff 88.5px,#0059ff 95.5px,#00a5ff 108.5px,#00f2ff 124.5px,#00f2ff 129.5px,#0ff 130.5px,#00fff9 140.5px,#00ffe2 145.5px,#00ffae 149.5px,#00ff05 159.5px,#59ff00 166.5px,#e6ff00 175.5px,#fdff00 177.5px,#fe0 179.5px,#ffce00 181.5px,#ff8600 183.5px,#ff2100 185.5px,#ff0012 186.5px,#ff006c 188.5px,#ff00ba 190.5px,#ff00ef 192.5px,#f0f 194.5px,#f0f 199.5px)"></i>
<i style="left:88px;background:linear-gradient(#00f 0.5px,#0002ff 7.5px,#0023ff 11.5px,#0075ff 27.5px,#07f 32.5px,#008bff 37.5px,#0af 41.5px,#00f2ff 47.5px,#00fffd 49.5px,#00ffc6 53.5px,#00ffb6 55.5px,#00ffbf 58.5px,#00fff0 61.5px,#00e6ff 62.5px,#00a7ff 63.5px,#0041ff 64.5px,#00f 65.5px,#00f 98.5px,#0031ff 105.5px,#0080ff 111.5px,#00dbff 121.5px,#00f2ff 124.5px,#00f2ff 129.5px,#0ff 130.5px,#00fff9 140.5px,#00ffe1 145.5px,#00ffae 149.5px,#00ff64 153.5px,#00ff03 159.5px,#4cff00 165.5px,#e7ff00 175.5px,#fdff00 177.5px,#fe0 179.5px,#ffcf00 181.5px,#ff8500 183.5px,#ff2000 185.5px,#ff0013 186.5px,#ff006d 188.5px,#f0b 190.5px,#ff00ef 192.5px,#f0f 194.5px,#f0f 199.5px)"></i>
<i style="left:90px;background:linear-gradient(#00f 0.5px,#0002ff 7.5px,#02f 11.5px,#006fff 27.5px,#0074ff 33.5px,#0085ff 37.5px,#00a5ff 41.5px,#00efff 47.5px,#00fff9 50.5px,#00ffce 54.5px,#00ffc7 56.5px,#00ffd1 58.5px,#00fff9 61.5px,#00e1ff 62.5px,#00a4ff 63.5px,#0040ff 64.5px,#00f 65.5px,#00f 96.5px,#002fff 105.5px,#008eff 113.5px,#00f2ff 124.5px,#00f2ff 129.5px,#0ff 130.5px,#00fff8 141.5px,#00ffe4 145.5px,#00ffb2 149.5px,#00ff29 157.5px,#02ff00 160.5px,#52ff00 166.5px,#fbff00 177.5px,#fff100 179.5px,#ffd200 181.5px,#ff8c00 183.5px,#ff2800 185.5px,#ff000c 186.5px,#ff0067 188.5px,#ff00b6 190.5px,#ff00ec 192.5px,#f0f 194.5px,#f0f 199.5px)"></i>
<i style="left:92px;background:linear-gradient(#00f 0.5px,#0002ff 7.5px,#0025ff 11.5px,#0079ff 27.5px,#007bff 32.5px,#008dff 37.5px,#00a7ff 41.5px,#00e9ff 47.5px,#00fffc 51.5px,#00ffe1 56.5px,#00f9ff 61.5px,#00d9ff 62.5px,#009fff 63.5px,#003fff 64.5px,#00f 65.5px,#00f 80.5px,#000dff 85.5px,#00efff 124.5px,#00f2ff 129.5px,#0ff 131.5px,#00fff9 140.5px,#00ffe0 145.5px,#0fa 149.5px,#00ff2a 156.5px,#03ff00 159.5px,#6fff00 167.5px,#eaff00 175.5px,#ff0 177.5px,#ffeb00 179.5px,#ffca00 181.5px,#ff7f00 183.5px,#ff1b00 185.5px,#ff0018 186.5px,#ff0071 188.5px,#ff00bd 190.5px,#ff00f0 192.5px,#f0f 194.5px,#f0f 199.5px)"></i>
<i style="left:94px;background:linear-gradient(#00f 0.5px,#0002ff 7.5px,#0023ff 11.5px,#0074ff 27.5px,#0076ff 32.5px,#08f 37.5px,#00a4ff 41.5px,#00e7ff 47.5px,#00fffa 51.5px,#00ffe0 54.5px,#00ffdb 56.5px,#00ffe2 58.5px,#00fbff 61.5px,#00d9ff 62.5px,#009fff 63.5px,#003eff 64.5px,#00f 65.5px,#00f 84.5px,#0028ff 95.5px,#06f 102.5px,#00bdff 115.5px,#00f2ff 124.5px,#00f2ff 129.5px,#0ff 130.5px,#00fff9 140.5px,#00ffe1 145.5px,#00ffad 149.5px,#00ff04 159.5px,#5aff00 166.5px,#e6ff00 175.5px,#fdff00 177.5px,#ffed00 179.5px,#ffcd00 181.5px,#ff8400 183.5px,#ff2100 185.5px,#ff0012 186.5px,#ff006d 188.5px,#ff00ba 190.5px,#f0e 192.5px,#f0f 194.5px,#f0f 199.5px)"></i>
<i style="left:96px;background:linear-gradient(#00f 0.5px,#0002ff 7.5px,#0021ff 11.5px,#006cff 27.5px,#0070ff 33.5px,#0081ff 37.5px,#00a2ff 41.5px,#00ecff 47.5px,#00fffb 50.5px,#00ffcf 54.5px,#00ffca 56.5px,#00ffd2 58.5px,#00fffa 61.5px,#00dfff 62.5px,#00a3ff 63.5px,#0040ff 64.5px,#00f 65.5px,#00f 75.5px,#00f 98.5px,#0017ff 101.5px,#0046ff 104.5px,#007bff 109.5px,#00f2ff 124.5px,#00f2ff 129.5px,#0ff 130.5px,#00fff9 140.5px,#00ffe6 144.5px,#00ffbf 147.5px,#00ff09 157.5px,#06ff00 158.5px,#e6ff00 174.5px,#fbff00 176.5px,#fff200 178.5px,#ffd500 180.5px,#ffbe00 181.5px,#ff6f00 183.5px,#ff0a00 185.5px,#ff0026 186.5px,#ff00a3 189.5px,#ff00c6 190.5px,#ff00f4 192.5px,#f0f 194.5px,#f0f 199.5px)"></i>
<i style="left:98px;background:linear-gradient(#00f 0.5px,#0002ff 7.5px,#0020ff 11.5px,#006aff 27.5px,#006cff 32.5px,#007aff 36.5px,#00a2ff 41.5px,#00efff 47.5px,#00fff8 50.5px,#00ffcf 54.5px,#00ffca 56.5px,#00ffd2 58.5px,#00fff8 61.5px,#00e1ff 62.5px,#00a5ff 63.5px,#0040ff 64.5px,#00f 65.5px,#00f 89.5px,#0016ff 94.5px,#006bff 104.5px,#00ecff 123.5px,#0ff 131.5px,#00fff9 140.5px,#00ffe6 144.5px,#00ffb2 148.5px,#00ff2b 155.5px,#05ff00 158.5px,#e6ff00 174.5px,#fffb00 177.5px,#ffd500 180.5px,#ffbf00 181.5px,#ff7000 183.5px,#ff0b00 185.5px,#ff0025 186.5px,#ff007c 188.5px,#ff00c5 190.5px,#ff00f4 192.5px,#f0f 194.5px,#f0f 199.5px)"></i>
<i style="left:100px;background:linear-gradient(#00f 0.5px,#0002ff 7.5px,#02f 11.5px,#0071ff 27.5px,#0072ff 32.5px,#0084ff 37.5px,#00a1ff 41.5px,#00e6ff 47.5px,#00fffc 51.5px,#00ffe4 54.5px,#00ffe0 56.5px,#00f9ff 61.5px,#00d8ff 62.5px,#009eff 63.5px,#003eff 64.5px,#00f 65.5px,#00f 87.5px,#00f2ff 124.5px,#00f2ff 129.5px,#0ff 130.5px,#00fff9 140.5px,#00ffe8 144.5px,#00ffb8 148.5px,#00ff08 158.5px,#06ff00 159.5px,#56ff00 165.5px,#ecff00 175.5px,#fffe00 177.5px,#ffea00 179.5px,#ffc800 181.5px,#ff7c00 183.5px,#ff1700 185.5px,#ff001b 186.5px,#ff0074 188.5px,#ff00bf 190.5px,#ff00f2 192.5px,#f0f 194.5px,#f0f 199.5px)"></i>
<i style="left:102px;background:linear-gradient(#00f 0.5px,#0003ff 7.5px,#0025ff 11.5px,#0079ff 27.5px,#007cff 33.5px,#008fff 38.5px,#00abff 42.5px,#00e0ff 47.5px,#00fff9 52.5px,#00ffe4 56.5px,#00ffec 58.5px,#00fdff 60.5px,#00f3ff 61.5px,#00d2ff 62.5px,#009aff 63.5px,#003cff 64.5px,#00f 65.5px,#00f 89.5px,#0061ff 101.5px,#00bfff 115.5px,#00efff 123.5px,#00f2ff 128.5px,#0ff 130.5px,#00fff9 140.5px,#00ffe1 145.5px,#00ffac 149.5px,#00ff2e 156.5px,#00ff01 159.5px,#6cff00 167.5px,#e8ff00 175.5px,#feff00 177.5px,#ffec00 179.5px,#ffce00 181.5px,#ff8300 183.5px,#ff1e00 185.5px,#ff0016 186.5px,#ff006f 188.5px,#ff00bd 190.5px,#ff00f0 192.5px,#f0f 194.5px,#f0f 199.5px)"></i>
<i style="left:104px;background:linear-gradient(#00f 0.5px,#0003ff 7.5px,#0025ff 11.5px,#007aff 27.5px,#007bff 32.5px,#008cff 37.5px,#00a8ff 41.5px,#00ecff 47.5px,#00fffc 50.5px,#00ffd6 54.5px,#00ffd1 56.5px,#00ffd8 58.5px,#00fffc 61.5px,#00deff 62.5px,#00a2ff 63.5px,#0040ff 64.5px,#00f 65.5px,#00f 94.5px,#0016ff 97.5px,#0034ff 99.5px,#005cff 103.5px,#00a1ff 112.5px,#00f2ff 125.5px,#00f2ff 130.5px,#0ff 131.5px,#00fff9 140.5px,#00ffe7 144.5px,#00ffb4 148.5px,#00ff2f 155.5px,#01ff00 158.5px,#f1ff00 175.5px,#fffc00 177.5px,#ffe600 179.5px,#ffc200 181.5px,#ff7400 183.5px,#ff0f00 185.5px,#f02 186.5px,#ff007a 188.5px,#ff00c4 190.5px,#ff00f4 192.5px,#f0f 194.5px,#f0f 199.5px)"></i>
<i style="left:106px;background:linear-gradient(#00f 0.5px,#0002ff 7.5px,#02f 11.5px,#006fff 27.5px,#0071ff 33.5px,#0082ff 37.5px,#00a5ff 41.5px,#00f3ff 47.5px,#00fffe 49.5px,#00ffd0 54.5px,#00ffca 56.5px,#00ffd3 58.5px,#00fff6 61.5px,#00e4ff 62.5px,#00a7ff 63.5px,#0041ff 64.5px,#00f 65.5px,#00f 92.5px,#0016ff 95.5px,#0061ff 102.5px,#00a3ff 111.5px,#00f0ff 124.5px,#00f2ff 129.5px,#0ff 131.5px,#00fff9 140.5px,#00ffdf 145.5px,#00ffa9 149.5px,#00ff29 156.5px,#04ff00 159.5px,#7fff00 168.5px,#ebff00 175.5px,#ff0 177.5px,#fc0 181.5px,#ff8000 183.5px,#ff1a00 185.5px,#ff0019 186.5px,#ff0073 188.5px,#ff00bf 190.5px,#ff00f2 192.5px,#f0f 194.5px,#f0f 199.5px)"></i>
<i style="left:108px;background:linear-gradient(#00f 0.5px,#0002ff 7.5px,#001fff 11.5px,#0067ff 27.5px,#0067ff 32.5px,#0074ff 36.5px,#009dff 41.5px,#00d4ff 45.5px,#00fffe 50.5px,#00ffd1 54.5px,#00ffcb 56.5px,#00ffd4 58.5px,#00fffd 61.5px,#00dcff 62.5px,#00a0ff 63.5px,#003fff 64.5px,#00f 65.5px,#00f 84.5px,#004eff 93.5px,#008cff 103.5px,#00f2ff 124.5px,#00f2ff 129.5px,#0ff 130.5px,#00fff8 141.5px,#00ffe4 145.5px,#00ffb3 149.5px,#00ff2a 157.5px,#01ff00 160.5px,#52ff00 166.5px,#fbff00 177.5px,#fff100 179.5px,#ffd200 181.5px,#ff8c00 183.5px,#ff2800 185.5px,#ff000b 186.5px,#ff0067 188.5px,#ff00b6 190.5px,#ff00ec 192.5px,#f0f 194.5px,#f0f 199.5px)"></i>
<i style="left:110px;background:linear-gradient(#00f 0.5px,#0002ff 7.5px,#001fff 11.5px,#06f 27.5px,#0067ff 32.5px,#0074ff 36.5px,#009bff 41.5px,#00e6ff 47.5px,#00fffa 51.5px,#0fd 54.5px,#00ffd8 56.5px,#00ffe0 58.5px,#00fbff 61.5px,#00d8ff 62.5px,#009eff 63.5px,#003eff 64.5px,#00f 65.5px,#0004ff 88.5px,#0048ff 95.5px,#0092ff 106.5px,#00f0ff 124.5px,#00f2ff 129.5px,#0ff 131.5px,#00fff9 140.5px,#00ffdf 145.5px,#00ffb9 148.5px,#00ff28 156.5px,#05ff00 159.5px,#7fff00 168.5px,#ebff00 175.5px,#ff0 177.5px,#ffcb00 181.5px,#ff7f00 183.5px,#ff1900 185.5px,#ff001a 186.5px,#ff0073 188.5px,#ff00c0 190.5px,#ff00f2 192.5px,#f0f 194.5px,#f0f 199.5px)"></i>
<i style="left:112px;background:linear-gradient(#00f 0.5px,#0002ff 7.5px,#0020ff 11.5px,#0068ff 27.5px,#0069ff 32.5px,#0076ff 36.5px,#009fff 41.5px,#0ef 47.5px,#00fffa 50.5px,#00ffd4 54.5px,#00ffcf 56.5px,#00ffd7 58.5px,#00fffb 61.5px,#00e0ff 62.5px,#00a3ff 63.5px,#0040ff 64.5px,#00f 65.5px,#00f 84.5px,#0007ff 87.5px,#00efff 124.5px,#00f2ff 129.5px,#0ff 131.5px,#00fff8 141.5px,#00ffe6 145.5px,#00ffb7 149.5px,#00ff06 160.5px,#4bff00 166.5px,#ef0 176.5px,#fffc00 178.5px,#ffd400 181.5px,#ffb900 182.5px,#ff9100 183.5px,#ff2f00 185.5px,#ff0005 186.5px,#ff0062 188.5px,#ff00b1 190.5px,#ff00e9 192.5px,#f0f 194.5px,#f0f 199.5px)"></i>
<i style="left:114px;background:linear-gradient(#00f 0.5px,#0003ff 7.5px,#02f 11.5px,#006fff 27.5px,#0071ff 33.5px,#0081ff 37.5px,#00a1ff 41.5px,#00eaff 47.5px,#00fffb 51.5px,#00ffe5 56.5px,#00fbff 61.5px,#00dbff 62.5px,#00a0ff 63.5px,#003fff 64.5px,#00f 65.5px,#00f 83.5px,#0061ff 97.5px,#00f2ff 124.5px,#00f2ff 129.5px,#0ff 130.5px,#00fff8 140.5px,#00ffe3 144.5px,#0fb 147.5px,#00ff30 154.5px,#02ff00 157.5px,#d4ff00 172.5px,#ff0 176.5px,#ffd100 180.5px,#ff8f00 182.5px,#f00 185.5px,#ff0084 188.5px,#ff00ca 190.5px,#ff00e4 191.5px,#ff00fe 193.5px,#f0f 199.5px)"></i>
<i style="left:116px;background:linear-gradient(#00f 0.5px,#0003ff 7.5px,#0024ff 11.5px,#0074ff 27.5px,#0075ff 33.5px,#0084ff 37.5px,#00a2ff 41.5px,#00e9ff 47.5px,#00fffe 51.5px,#00ffed 56.5px,#00f9ff 61.5px,#00d9ff 62.5px,#009fff 63.5px,#003fff 64.5px,#00f 65.5px,#00f 83.5px,#0043ff 89.5px,#0084ff 99.5px,#00dbff 118.5px,#00f2ff 124.5px,#00f2ff 129.5px,#0ff 130.5px,#00fff9 140.5px,#00ffe6 144.5px,#00ffb2 148.5px,#00ff09 157.5px,#07ff00 158.5px,#e7ff00 174.5px,#fbff00 176.5px,#fff200 178.5px,#ffbe00 181.5px,#ff7000 183.5px,#ff0c00 185.5px,#ff0025 186.5px,#ff007c 188.5px,#ff00c5 190.5px,#ff00f4 192.5px,#f0f 194.5px,#f0f 199.5px)"></i>
<i style="left:118px;background:linear-gradient(#00f 0.5px,#0003ff 7.5px,#0023ff 11.5px,#0061ff 23.5px,#0072ff 27.5px,#0073ff 33.5px,#0082ff 37.5px,#00a4ff 41.5px,#00f0ff 47.5px,#00fffb 50.5px,#00ffe5 56.5px,#00fffe 61.5px,#00dfff 62.5px,#00a4ff 63.5px,#0041ff 64.5px,#00f 65.5px,#00f 74.5px,#001aff 82.5px,#0050ff 89.5px,#0090ff 101.5px,#00f2ff 124.5px,#00f2ff 129.5px,#0ff 130.5px,#00fff9 140.5px,#00ffe7 144.5px,#00ffb5 148.5px,#00ff30 155.5px,#0f0 158.5px,#f0ff00 175.5px,#fffc00 177.5px,#ffe700 179.5px,#ffc500 181.5px,#ff7800 183.5px,#ff1300 185.5px,#ff001f 186.5px,#f07 188.5px,#ff00c2 190.5px,#ff00f3 192.5px,#f0f 194.5px,#f0f 199.5px)"></i>
<i style="left:120px;background:linear-gradient(#00f 0.5px,#0003ff 7.5px,#0020ff 11.5px,#005aff 23.5px,#006aff 27.5px,#0069ff 32.5px,#0076ff 36.5px,#00a2ff 41.5px,#00f4ff 47.5px,#00fffd 49.5px,#00ffe3 56.5px,#00fffb 61.5px,#00e3ff 62.5px,#00a7ff 63.5px,#0042ff 64.5px,#00f 65.5px,#0003ff 70.5px,#002eff 83.5px,#0084ff 103.5px,#00f2ff 125.5px,#00f2ff 130.5px,#0ff 131.5px,#00fff9 140.5px,#00ffe7 144.5px,#00ffb4 148.5px,#00ff2d 155.5px,#02ff00 158.5px,#f1ff00 175.5px,#fffc00 177.5px,#ffe600 179.5px,#ffc300 181.5px,#ff7600 183.5px,#ff1200 185.5px,#ff0020 186.5px,#ff0078 188.5px,#ff00c2 190.5px,#ff00f3 192.5px,#f0f 194.5px,#f0f 199.5px)"></i>
<i style="left:122px;background:linear-gradient(#00f 0.5px,#0003ff 7.5px,#02f 11.5px,#005eff 23.5px,#006eff 27.5px,#006eff 33.5px,#007eff 37.5px,#00a0ff 41.5px,#00ecff 47.5px,#00fffc 50.5px,#00ffd9 54.5px,#00ffd4 56.5px,#00ffdb 58.5px,#00fffd 61.5px,#00deff 62.5px,#00a2ff 63.5px,#0040ff 64.5px,#00f 65.5px,#000bff 74.5px,#0036ff 87.5px,#08f 105.5px,#00f2ff 124.5px,#00f2ff 129.5px,#0ff 130.5px,#00fff9 140.5px,#00ffe6 144.5px,#00ffb0 148.5px,#00ff05 157.5px,#e8ff00 174.5px,#fcff00 176.5px,#fff100 178.5px,#ffd500 180.5px,#ffbd00 181.5px,#ff6f00 183.5px,#ff0b00 185.5px,#ff0025 186.5px,#ff007c 188.5px,#ff00c5 190.5px,#ff00f4 192.5px,#f0f 194.5px,#f0f 199.5px)"></i>
<i style="left:124px;background:linear-gradient(#00f 0.5px,#0003ff 7.5px,#0024ff 11.5px,#0065ff 23.5px,#0076ff 27.5px,#07f 33.5px,#0085ff 37.5px,#00a2ff 41.5px,#00e8ff 47.5px,#00feff 50.5px,#00fff5 51.5px,#00ffd6 54.5px,#00ffd0 56.5px,#00ffd9 58.5px,#0ff 61.5px,#00dbff 62.5px,#00a0ff 63.5px,#003fff 64.5px,#00f 65.5px,#0001ff 72.5px,#0010ff 78.5px,#006aff 98.5px,#00f2ff 125.5px,#00f2ff 130.5px,#0ff 131.5px,#00fff9 140.5px,#00ffe4 144.5px,#0fb 147.5px,#00ff0b 156.5px,#05ff00 157.5px,#c8ff00 171.5px,#ff0 176.5px,#ffd100 180.5px,#ff9000 182.5px,#ff0200 185.5px,#ff00a8 189.5px,#ff00c9 190.5px,#ff00f5 192.5px,#ff00fe 193.5px,#f0f 199.5px)"></i>
<i style="left:126px;background:linear-gradient(#00f 0.5px,#0004ff 7.5px,#0026ff 11.5px,#007bff 27.5px,#007bff 33.5px,#0089ff 37.5px,#00a6ff 41.5px,#00ecff 47.5px,#00fffc 50.5px,#00ffd2 54.5px,#00ffcd 56.5px,#00ffd5 58.5px,#00fffb 61.5px,#00dfff 62.5px,#00a2ff 63.5px,#0040ff 64.5px,#00f 65.5px,#00f 73.5px,#003eff 84.5px,#008eff 101.5px,#00f2ff 125.5px,#00f2ff 130.5px,#0ff 131.5px,#00fff9 140.5px,#00ffe7 144.5px,#00ffb3 148.5px,#00ff0a 157.5px,#06ff00 158.5px,#e5ff00 174.5px,#fffb00 177.5px,#ffe600 179.5px,#ffc200 181.5px,#ff7600 183.5px,#ff1200 185.5px,#ff0020 186.5px,#f07 188.5px,#ff00c2 190.5px,#ff00f3 192.5px,#f0f 194.5px,#f0f 199.5px)"></i>
<i style="left:128px;background:linear-gradient(#00f 0.5px,#0004ff 7.5px,#002aff 11.5px,#08f 27.5px,#0087ff 33.5px,#09f 38.5px,#00b6ff 42.5px,#0ef 47.5px,#00fffb 50.5px,#00ffd7 54.5px,#00ffd1 56.5px,#00ffda 58.5px,#00fffc 61.5px,#00dfff 62.5px,#00a3ff 63.5px,#0040ff 64.5px,#00f 65.5px,#0001ff 81.5px,#0014ff 85.5px,#0056ff 94.5px,#09f 106.5px,#00f2ff 125.5px,#00f2ff 130.5px,#0ff 131.5px,#00fff9 140.5px,#00ffe6 144.5px,#00ffaf 148.5px,#0f2 155.5px,#00ff02 157.5px,#cfff00 172.5px,#fdff00 176.5px,#fff100 178.5px,#ffd400 180.5px,#ffbc00 181.5px,#ff6f00 183.5px,#ff0b00 185.5px,#ff0025 186.5px,#ff007c 188.5px,#ff00c5 190.5px,#ff00f4 192.5px,#f0f 194.5px,#f0f 199.5px)"></i>
<i style="left:130px;background:linear-gradient(#00f 0.5px,#0005ff 7.5px,#002dff 11.5px,#0091ff 27.5px,#0090ff 33.5px,#009fff 38.5px,#00b9ff 42.5px,#00f6ff 48.5px,#00fff9 50.5px,#00ffc8 54.5px,#00ffc2 56.5px,#00ffcb 58.5px,#00fff8 61.5px,#00e1ff 62.5px,#00a3ff 63.5px,#0040ff 64.5px,#00f 65.5px,#00f 77.5px,#000cff 81.5px,#004fff 92.5px,#00b0ff 111.5px,#00f2ff 125.5px,#00f2ff 130.5px,#0ff 131.5px,#00fff9 140.5px,#00ffe0 145.5px,#00ffa8 149.5px,#00ff06 158.5px,#4aff00 164.5px,#ecff00 175.5px,#ff0 177.5px,#ffcd00 181.5px,#ff8300 183.5px,#ff1f00 185.5px,#ff0014 186.5px,#ff006e 188.5px,#f0b 190.5px,#ff00ef 192.5px,#f0f 194.5px,#f0f 199.5px)"></i>
<i style="left:132px;background:linear-gradient(#00f 0.5px,#0005ff 7.5px,#002cff 11.5px,#008fff 27.5px,#008dff 33.5px,#009eff 38.5px,#00b1ff 41.5px,#00f3ff 47.5px,#00fffd 49.5px,#00ffc5 54.5px,#00ffbf 56.5px,#00ffc9 58.5px,#00fff3 61.5px,#00e5ff 62.5px,#00a7ff 63.5px,#0041ff 64.5px,#00f 65.5px,#00f 84.5px,#002aff 98.5px,#00f2ff 125.5px,#00f2ff 130.5px,#0ff 131.5px,#00fff9 140.5px,#00ffe5 144.5px,#0fb 147.5px,#00ff0a 156.5px,#06ff00 157.5px,#c9ff00 171.5px,#ff0 176.5px,#ffd100 180.5px,#ffb600 181.5px,#ff6800 183.5px,#ff0600 185.5px,#ff00a5 189.5px,#ff00c7 190.5px,#ff00f5 192.5px,#f0f 194.5px,#f0f 199.5px)"></i>
<i style="left:134px;background:linear-gradient(#00f 0.5px,#0005ff 7.5px,#002bff 11.5px,#008eff 27.5px,#008bff 33.5px,#009cff 38.5px,#00baff 42.5px,#00f4ff 47.5px,#00fffc 49.5px,#00ffcd 54.5px,#00ffc6 56.5px,#00ffd1 58.5px,#00fff5 61.5px,#00e5ff 62.5px,#00a7ff 63.5px,#0042ff 64.5px,#00f 65.5px,#0003ff 96.5px,#0020ff 103.5px,#00f2ff 125.5px,#00f2ff 130.5px,#0ff 131.5px,#00fff9 140.5px,#00ffe4 144.5px,#0fb 147.5px,#00ff09 156.5px,#07ff00 157.5px,#caff00 171.5px,#f0ff00 174.5px,#fffe00 176.5px,#ffd100 180.5px,#ffb600 181.5px,#ff6700 183.5px,#ff0500 185.5px,#ff00a5 189.5px,#ff00c7 190.5px,#ff00f5 192.5px,#f0f 194.5px,#f0f 199.5px)"></i>
<i style="left:136px;background:linear-gradient(#00f 0.5px,#0004ff 7.5px,#0028ff 11.5px,#0084ff 27.5px,#0081ff 33.5px,#008dff 37.5px,#0af 41.5px,#00f1ff 47.5px,#00fffe 49.5px,#00ffc3 54.5px,#00ffbd 56.5px,#00ffc7 58.5px,#00fff4 61.5px,#00e4ff 62.5px,#00a6ff 63.5px,#0041ff 64.5px,#00f 65.5px,#00f 90.5px,#000cff 94.5px,#00f2ff 125.5px,#00f2ff 130.5px,#0ff 131.5px,#00fff9 140.5px,#00ffdf 145.5px,#00ffb8 148.5px,#0f3 155.5px,#00ff03 158.5px,#edff00 175.5px,#fffe00 177.5px,#ffea00 179.5px,#ffca00 181.5px,#ff8100 183.5px,#ff1e00 185.5px,#ff0014 186.5px,#ff006d 188.5px,#ff00ba 190.5px,#ff00ef 192.5px,#f0f 194.5px,#f0f 199.5px)"></i>
<i style="left:138px;background:linear-gradient(#00f 0.5px,#0004ff 7.5px,#0025ff 11.5px,#007bff 27.5px,#07f 33.5px,#0083ff 37.5px,#00a2ff 41.5px,#00eaff 47.5px,#00fffc 50.5px,#00ffcd 54.5px,#00ffc6 56.5px,#00ffd0 58.5px,#00fffb 61.5px,#00deff 62.5px,#00a1ff 63.5px,#003fff 64.5px,#00f 65.5px,#0003ff 99.5px,#001eff 104.5px,#05f 111.5px,#00ebff 125.5px,#00f2ff 130.5px,#0ff 132.5px,#00fff9 140.5px,#00ffde 145.5px,#00ffb6 148.5px,#00ff2e 155.5px,#02ff00 158.5px,#e2ff00 174.5px,#fffd00 177.5px,#ffe800 179.5px,#ffc700 181.5px,#ff7e00 183.5px,#ff1b00 185.5px,#ff0017 186.5px,#ff0070 188.5px,#ff00bc 190.5px,#ff00f0 192.5px,#f0f 194.5px,#f0f 199.5px)"></i>
<i style="left:140px;background:linear-gradient(#00f 0.5px,#0004ff 7.5px,#0023ff 11.5px,#0076ff 27.5px,#0072ff 33.5px,#007eff 37.5px,#009dff 41.5px,#00e6ff 47.5px,#0ff 51.5px,#00ffe5 56.5px,#0ff 60.5px,#00f7ff 61.5px,#00d7ff 62.5px,#009dff 63.5px,#003eff 64.5px,#00f 65.5px,#0001ff 91.5px,#01f 99.5px,#002eff 105.5px,#005fff 112.5px,#00a1ff 119.5px,#00f2ff 126.5px,#00f2ff 131.5px,#0ff 132.5px,#00fff8 140.5px,#00ffe0 144.5px,#00ffb6 147.5px,#00ff1e 154.5px,#05ff00 156.5px,#b1ff00 168.5px,#ef0 173.5px,#fdff00 175.5px,#fff300 177.5px,#ffcb00 180.5px,#ff8700 182.5px,#ff2a00 184.5px,#ff0006 185.5px,#ff00ac 189.5px,#ff00e5 191.5px,#ff00f6 192.5px,#f0f 193.5px,#f0f 199.5px)"></i>
<i style="left:142px;background:linear-gradient(#00f 0.5px,#0004ff 7.5px,#0023ff 11.5px,#07f 27.5px,#0072ff 33.5px,#007eff 37.5px,#00a1ff 41.5px,#00f0ff 47.5px,#00fffd 50.5px,#00fff3 56.5px,#00fdff 61.5px,#00deff 62.5px,#00a4ff 63.5px,#0041ff 64.5px,#00f 65.5px,#00f 88.5px,#000aff 92.5px,#005eff 107.5px,#00f2ff 126.5px,#00f2ff 131.5px,#0ff 132.5px,#00fff7 141.5px,#00ffe2 145.5px,#00ffab 149.5px,#00ff08 158.5px,#07ff00 159.5px,#eaff00 175.5px,#feff00 177.5px,#ffed00 179.5px,#ffcf00 181.5px,#f80 183.5px,#ff2600 185.5px,#ff000d 186.5px,#ff0067 188.5px,#ff00b5 190.5px,#ff00eb 192.5px,#f0f 194.5px,#f0f 199.5px)"></i>
<i style="left:144px;background:linear-gradient(#00f 0.5px,#0004ff 7.5px,#0023ff 11.5px,#0078ff 27.5px,#0072ff 33.5px,#007eff 37.5px,#00a0ff 41.5px,#0ef 47.5px,#00fffe 51.5px,#00faff 61.5px,#00dcff 62.5px,#00a2ff 63.5px,#0040ff 64.5px,#00f 65.5px,#00f 86.5px,#000cff 91.5px,#005eff 106.5px,#0ef 125.5px,#00f2ff 130.5px,#0ff 132.5px,#00fff9 140.5px,#00ffe5 144.5px,#00ffac 148.5px,#00ff2e 154.5px,#05ff00 157.5px,#c8ff00 171.5px,#ff0 176.5px,#ffe100 179.5px,#ffba00 181.5px,#ff6d00 183.5px,#ff0b00 185.5px,#ff0025 186.5px,#ff007b 188.5px,#ff00c4 190.5px,#ff00f4 192.5px,#f0f 194.5px,#f0f 199.5px)"></i>
<i style="left:146px;background:linear-gradient(#00f 0.5px,#0004ff 7.5px,#0023ff 11.5px,#0078ff 27.5px,#0071ff 33.5px,#007cff 37.5px,#009fff 41.5px,#00edff 47.5px,#00fffb 51.5px,#00ffef 56.5px,#00fcff 61.5px,#00dcff 62.5px,#00a2ff 63.5px,#0040ff 64.5px,#00f 65.5px,#00f 80.5px,#0013ff 87.5px,#006cff 105.5px,#00f2ff 126.5px,#00f2ff 131.5px,#0ff 132.5px,#00fff9 140.5px,#00ffe5 144.5px,#00ffad 148.5px,#00ff30 154.5px,#03ff00 157.5px,#c6ff00 171.5px,#feff00 176.5px,#fff000 178.5px,#ffd400 180.5px,#ffbc00 181.5px,#ff6f00 183.5px,#ff0d00 185.5px,#ff0024 186.5px,#ff007a 188.5px,#ff00c4 190.5px,#ff00f4 192.5px,#f0f 194.5px,#f0f 199.5px)"></i>
<i style="left:148px;background:linear-gradient(#00f 0.5px,#0004ff 7.5px,#0023ff 11.5px,#0079ff 27.5px,#0072ff 33.5px,#007bff 37.5px,#009bff 41.5px,#00e4ff 47.5px,#00feff 51.5px,#00ffe8 56.5px,#0ff 60.5px,#00f6ff 61.5px,#00d5ff 62.5px,#009cff 63.5px,#003dff 64.5px,#00f 65.5px,#00f 77.5px,#000dff 82.5px,#00f0ff 126.5px,#00f2ff 131.5px,#00fffe 133.5px,#00fff9 140.5px,#00ffe4 144.5px,#00ffba 147.5px,#00ff27 154.5px,#00ff04 156.5px,#0cff00 157.5px,#e6ff00 173.5px,#faff00 175.5px,#fff600 177.5px,#ffd000 180.5px,#ffb300 181.5px,#ff6500 183.5px,#ff0400 185.5px,#ff00a6 189.5px,#ff00c7 190.5px,#ff00f5 192.5px,#f0f 194.5px,#f0f 199.5px)"></i>
<i style="left:150px;background:linear-gradient(#00f 0.5px,#0004ff 7.5px,#0026ff 11.5px,#0083ff 27.5px,#007bff 33.5px,#0085ff 37.5px,#00a1ff 41.5px,#00e7ff 47.5px,#00fdff 51.5px,#00ffef 56.5px,#00f6ff 61.5px,#00d7ff 62.5px,#009eff 63.5px,#003eff 64.5px,#00f 65.5px,#00f 72.5px,#000eff 77.5px,#006cff 94.5px,#00f2ff 124.5px,#00f2ff 129.5px,#0ff 130.5px,#00fff9 140.5px,#00ffe5 144.5px,#00ffbc 147.5px,#00ff1a 155.5px,#07ff00 157.5px,#e3ff00 173.5px,#ff0 176.5px,#fff700 177.5px,#ffd200 180.5px,#ffb800 181.5px,#ff6b00 183.5px,#ff0900 185.5px,#ff0026 186.5px,#ff007c 188.5px,#ff00c5 190.5px,#ff00f4 192.5px,#f0f 194.5px,#f0f 199.5px)"></i>
<i style="left:152px;background:linear-gradient(#00f 0.5px,#0005ff 7.5px,#002aff 11.5px,#0090ff 27.5px,#0087ff 33.5px,#0095ff 38.5px,#00b4ff 42.5px,#0ef 47.5px,#00fffd 50.5px,#00ffde 54.5px,#00ffd8 56.5px,#00ffe1 58.5px,#00fffe 61.5px,#00deff 62.5px,#00a3ff 63.5px,#0040ff 64.5px,#00f 65.5px,#00f 74.5px,#00f 86.5px,#001fff 95.5px,#00eaff 125.5px,#0ff 133.5px,#00fff9 140.5px,#00ffe0 145.5px,#00ffa7 149.5px,#00ff20 156.5px,#00ff02 158.5px,#0dff00 159.5px,#edff00 175.5px,#fff600 178.5px,#ffcd00 181.5px,#ff8400 183.5px,#ff2100 185.5px,#ff0012 186.5px,#ff006b 188.5px,#ff00b9 190.5px,#f0e 192.5px,#f0f 194.5px,#f0f 199.5px)"></i>
<i style="left:154px;background:linear-gradient(#00f 0.5px,#0005ff 7.5px,#002aff 11.5px,#0091ff 27.5px,#08f 33.5px,#0095ff 38.5px,#00abff 41.5px,#00f2ff 47.5px,#00fffe 49.5px,#00ffc4 54.5px,#00ffbd 56.5px,#00ffc7 58.5px,#00fff4 61.5px,#00e4ff 62.5px,#00a6ff 63.5px,#0041ff 64.5px,#00f 65.5px,#00f 66.5px,#00f 89.5px,#0012ff 97.5px,#005eff 109.5px,#00f2ff 125.5px,#00f2ff 130.5px,#0ff 131.5px,#00fff8 141.5px,#00ffe3 145.5px,#00ffbd 148.5px,#00ff2d 156.5px,#0f0 159.5px,#7bff00 168.5px,#e6ff00 175.5px,#fff900 178.5px,#ffd100 181.5px,#ff8d00 183.5px,#ff2c00 185.5px,#ff0007 186.5px,#ff0062 188.5px,#ff00b1 190.5px,#ff00e9 192.5px,#f0f 194.5px,#f0f 199.5px)"></i>
<i style="left:156px;background:linear-gradient(#00f 0.5px,#0005ff 7.5px,#0027ff 11.5px,#008aff 27.5px,#0081ff 33.5px,#008eff 38.5px,#00a4ff 41.5px,#00e8ff 47.5px,#00fffd 50.5px,#00ffc5 54.5px,#00ffc0 56.5px,#00ffc9 58.5px,#00fffb 61.5px,#0df 62.5px,#00a0ff 63.5px,#003eff 64.5px,#00f 65.5px,#00f 70.5px,#001cff 78.5px,#007cff 97.5px,#00f2ff 124.5px,#00f2ff 129.5px,#0ff 130.5px,#00fff9 140.5px,#00ffe7 144.5px,#00ffc1 147.5px,#00ff27 155.5px,#00ff07 157.5px,#09ff00 158.5px,#f3ff00 175.5px,#fff300 178.5px,#ffc500 181.5px,#ff7a00 183.5px,#ff1600 185.5px,#ff001b 186.5px,#ff0073 188.5px,#ff00bf 190.5px,#ff00f1 192.5px,#f0f 194.5px,#f0f 199.5px)"></i>
<i style="left:158px;background:linear-gradient(#00f 0.5px,#0005ff 7.5px,#0028ff 11.5px,#008cff 27.5px,#0082ff 33.5px,#008aff 37.5px,#00a8ff 41.5px,#00dbff 45.5px,#00feff 49.5px,#00ffc7 54.5px,#00ffc0 56.5px,#00ffcb 58.5px,#00fff6 61.5px,#00e2ff 62.5px,#00a5ff 63.5px,#0041ff 64.5px,#00f 65.5px,#00f 69.5px,#001dff 76.5px,#003dff 80.5px,#0067ff 88.5px,#00bcff 109.5px,#00efff 124.5px,#00f2ff 129.5px,#0ff 132.5px,#00fff9 140.5px,#00ffe7 144.5px,#00ffb5 148.5px,#00ff2a 155.5px,#06ff00 158.5px,#f2ff00 175.5px,#fff400 178.5px,#ffc700 181.5px,#ff7d00 183.5px,#ff1900 185.5px,#ff0019 186.5px,#ff0071 188.5px,#ff00be 190.5px,#ff00f1 192.5px,#f0f 194.5px,#f0f 199.5px)"></i>
<i style="left:160px;background:linear-gradient(#00f 0.5px,#0005ff 7.5px,#002bff 11.5px,#0097ff 27.5px,#008cff 33.5px,#0098ff 38.5px,#00aeff 41.5px,#00f3ff 47.5px,#0ff 49.5px,#00ffd6 56.5px,#00ffdf 58.5px,#00fffa 61.5px,#00e2ff 62.5px,#00a6ff 63.5px,#0041ff 64.5px,#00f 65.5px,#00f 83.5px,#0021ff 89.5px,#04f 92.5px,#006fff 98.5px,#00bcff 113.5px,#00f2ff 126.5px,#00f2ff 131.5px,#0ff 132.5px,#00fff9 140.5px,#00ffe2 145.5px,#0fb 148.5px,#00ff29 156.5px,#05ff00 159.5px,#e9ff00 175.5px,#fff800 178.5px,#ffd000 181.5px,#ff8a00 183.5px,#ff2800 185.5px,#ff000b 186.5px,#f06 188.5px,#ff00b4 190.5px,#ff00eb 192.5px,#f0f 194.5px,#f0f 199.5px)"></i>
<i style="left:162px;background:linear-gradient(#00f 0.5px,#0005ff 7.5px,#002bff 11.5px,#004eff 17.5px,#09f 27.5px,#008eff 33.5px,#0098ff 38.5px,#00b4ff 42.5px,#00ecff 47.5px,#00fdff 50.5px,#0fe 56.5px,#00fff9 59.5px,#00f9ff 61.5px,#00dbff 62.5px,#00a1ff 63.5px,#003fff 64.5px,#00f 65.5px,#00f 95.5px,#02f 99.5px,#004dff 102.5px,#0072ff 106.5px,#00d7ff 121.5px,#00edff 125.5px,#0ff 133.5px,#00fff9 140.5px,#00ffe8 144.5px,#00ffb6 148.5px,#00ff2d 155.5px,#03ff00 158.5px,#f0ff00 175.5px,#fff500 178.5px,#ffc900 181.5px,#ff7f00 183.5px,#ff1c00 185.5px,#ff0016 186.5px,#ff006f 188.5px,#f0b 190.5px,#ff00f0 192.5px,#f0f 194.5px,#f0f 199.5px)"></i>
<i style="left:164px;background:linear-gradient(#00f 0.5px,#0005ff 7.5px,#002aff 11.5px,#004dff 17.5px,#0098ff 27.5px,#008dff 33.5px,#0098ff 38.5px,#00adff 41.5px,#00f3ff 47.5px,#00fffe 49.5px,#00ffda 54.5px,#00ffd5 56.5px,#0fd 58.5px,#00fff9 61.5px,#00e2ff 62.5px,#00a6ff 63.5px,#0041ff 64.5px,#00f 65.5px,#00f 93.5px,#0021ff 98.5px,#004bff 101.5px,#0084ff 107.5px,#00efff 122.5px,#00f2ff 127.5px,#0ff 129.5px,#00fff9 140.5px,#00ffe8 144.5px,#00ffb6 148.5px,#00ff2d 155.5px,#03ff00 158.5px,#f0ff00 175.5px,#fff500 178.5px,#ffca00 181.5px,#ff7f00 183.5px,#ff1c00 185.5px,#ff0017 186.5px,#ff006f 188.5px,#ff00bc 190.5px,#ff00f0 192.5px,#f0f 194.5px,#f0f 199.5px)"></i>
<i style="left:166px;background:linear-gradient(#00f 0.5px,#0005ff 7.5px,#002aff 11.5px,#004dff 17.5px,#09f 27.5px,#008dff 33.5px,#0097ff 38.5px,#00b4ff 42.5px,#00ecff 47.5px,#00fffb 50.5px,#00ffcb 54.5px,#00ffc5 56.5px,#00ffce 58.5px,#00fffa 61.5px,#00dfff 62.5px,#00a2ff 63.5px,#003fff 64.5px,#00f 65.5px,#00f 74.5px,#0004ff 88.5px,#0038ff 93.5px,#006eff 100.5px,#00e2ff 121.5px,#00f2ff 125.5px,#00f2ff 129.5px,#0ff 131.5px,#00fff9 140.5px,#00ffe4 144.5px,#0fb 147.5px,#00ff2b 154.5px,#00ff07 156.5px,#09ff00 157.5px,#e4ff00 173.5px,#f9ff00 175.5px,#fff700 177.5px,#ffd100 180.5px,#ffb600 181.5px,#ff6900 183.5px,#ff0700 185.5px,#ff00a3 189.5px,#ff00c6 190.5px,#ff00f4 192.5px,#f0f 194.5px,#f0f 199.5px)"></i>
<i style="left:168px;background:linear-gradient(#00f 0.5px,#0005ff 7.5px,#002cff 11.5px,#004fff 17.5px,#009eff 27.5px,#0091ff 33.5px,#009bff 38.5px,#00b7ff 42.5px,#00efff 47.5px,#00fff8 50.5px,#00ffcb 54.5px,#00ffc4 56.5px,#00ffce 58.5px,#00fff8 61.5px,#00e1ff 62.5px,#00a4ff 63.5px,#0040ff 64.5px,#00f 65.5px,#00f 74.5px,#0006ff 88.5px,#0061ff 101.5px,#00f0ff 124.5px,#00f2ff 129.5px,#0ff 131.5px,#00fff9 140.5px,#00ffe2 144.5px,#00ffb7 147.5px,#0f2 154.5px,#01ff00 156.5px,#c7ff00 170.5px,#f5ff00 174.5px,#fff400 177.5px,#ffce00 180.5px,#ff8b00 182.5px,#ff0001 185.5px,#ff00a9 189.5px,#ff00ca 190.5px,#ff00f6 192.5px,#ff00fe 193.5px,#f0f 199.5px)"></i>
<i style="left:170px;background:linear-gradient(#00f 0.5px,#0005ff 7.5px,#002cff 11.5px,#004fff 17.5px,#009fff 27.5px,#0091ff 33.5px,#009cff 38.5px,#00baff 42.5px,#00f4ff 47.5px,#00fffd 49.5px,#00ffd6 54.5px,#00ffd0 56.5px,#00ffd8 58.5px,#00fff7 61.5px,#00e4ff 62.5px,#00a7ff 63.5px,#0042ff 64.5px,#00f 65.5px,#0006ff 77.5px,#0024ff 89.5px,#0074ff 107.5px,#00efff 126.5px,#00f2ff 131.5px,#00fffe 133.5px,#00fff9 140.5px,#00ffe5 144.5px,#00ffbd 147.5px,#00ff30 154.5px,#04ff00 157.5px,#e1ff00 173.5px,#f7ff00 175.5px,#fff800 177.5px,#ffd300 180.5px,#fb0 181.5px,#ff6e00 183.5px,#ff0c00 185.5px,#ff0024 186.5px,#ff007b 188.5px,#ff00c4 190.5px,#ff00f4 192.5px,#f0f 194.5px,#f0f 199.5px)"></i>
<i style="left:172px;background:linear-gradient(#00f 0.5px,#0005ff 7.5px,#002aff 11.5px,#004dff 17.5px,#009bff 27.5px,#008eff 33.5px,#0097ff 38.5px,#00acff 41.5px,#00f1ff 47.5px,#0ff 49.5px,#00ffd3 54.5px,#00ffce 56.5px,#00ffd5 58.5px,#00fff8 61.5px,#00e2ff 62.5px,#00a5ff 63.5px,#0041ff 64.5px,#00f 65.5px,#00f 80.5px,#001dff 96.5px,#006fff 108.5px,#00f2ff 124.5px,#00f2ff 129.5px,#0ff 130.5px,#00fff9 140.5px,#00ffe2 145.5px,#00ffba 148.5px,#00ff26 156.5px,#07ff00 159.5px,#eaff00 175.5px,#feff00 177.5px,#fff800 178.5px,#ffcf00 181.5px,#f80 183.5px,#ff2600 185.5px,#ff000d 186.5px,#ff0067 188.5px,#ff00b5 190.5px,#ff00eb 192.5px,#f0f 194.5px,#f0f 199.5px)"></i>
<i style="left:174px;background:linear-gradient(#00f 0.5px,#0005ff 7.5px,#0029ff 11.5px,#004bff 17.5px,#0097ff 27.5px,#0089ff 33.5px,#0094ff 38.5px,#00abff 41.5px,#00f2ff 47.5px,#0ff 49.5px,#00ffdb 54.5px,#00ffd6 56.5px,#0fd 58.5px,#00fffa 61.5px,#00e2ff 62.5px,#00a5ff 63.5px,#0041ff 64.5px,#00f 65.5px,#00f 87.5px,#001aff 94.5px,#00ecff 123.5px,#0ff 131.5px,#00fff9 140.5px,#00ffe7 144.5px,#00ffc1 147.5px,#00ff26 155.5px,#00ff06 157.5px,#0aff00 158.5px,#f3ff00 175.5px,#fff300 178.5px,#ffc400 181.5px,#ff7900 183.5px,#ff1600 185.5px,#ff001c 186.5px,#ff0074 188.5px,#ff00bf 190.5px,#ff00f2 192.5px,#f0f 194.5px,#f0f 199.5px)"></i>
<i style="left:176px;background:linear-gradient(#00f 0.5px,#0004ff 7.5px,#008bff 27.5px,#007dff 33.5px,#0083ff 37.5px,#009fff 41.5px,#00e6ff 47.5px,#00fffe 51.5px,#00ffe7 56.5px,#00fffe 60.5px,#00f7ff 61.5px,#00d6ff 62.5px,#009dff 63.5px,#003eff 64.5px,#00f 65.5px,#00f 91.5px,#0018ff 96.5px,#0070ff 107.5px,#00f2ff 127.5px,#00f2ff 132.5px,#0ff 133.5px,#00fff9 140.5px,#00ffe7 144.5px,#00ffb5 148.5px,#00ff2a 155.5px,#06ff00 158.5px,#f2ff00 175.5px,#fff400 178.5px,#ffc800 181.5px,#ff7d00 183.5px,#ff1900 185.5px,#ff0019 186.5px,#ff0071 188.5px,#ff00bd 190.5px,#ff00f1 192.5px,#f0f 194.5px,#f0f 199.5px)"></i>
<i style="left:178px;background:linear-gradient(#00f 0.5px,#0004ff 7.5px,#0083ff 27.5px,#0074ff 33.5px,#007aff 37.5px,#09f 41.5px,#00e2ff 47.5px,#00feff 52.5px,#00fff4 56.5px,#00fffe 59.5px,#00f2ff 61.5px,#00d3ff 62.5px,#009bff 63.5px,#003dff 64.5px,#00f 65.5px,#00f 85.5px,#001cff 93.5px,#0078ff 106.5px,#00f0ff 127.5px,#00f2ff 132.5px,#00fffe 134.5px,#00fff9 140.5px,#00ffe8 144.5px,#00ffb7 148.5px,#00ff30 155.5px,#0f0 158.5px,#ef0 175.5px,#fff600 178.5px,#ffca00 181.5px,#ff8100 183.5px,#ff1f00 185.5px,#ff0014 186.5px,#ff006d 188.5px,#ff00ba 190.5px,#f0e 192.5px,#f0f 194.5px,#f0f 199.5px)"></i>
<i style="left:180px;background:linear-gradient(#00f 0.5px,#0004ff 7.5px,#0020ff 11.5px,#0040ff 18.5px,#007dff 27.5px,#006eff 33.5px,#0073ff 37.5px,#0093ff 41.5px,#00dcff 47.5px,#00efff 51.5px,#00f4ff 57.5px,#00e8ff 61.5px,#0cf 62.5px,#0096ff 63.5px,#003bff 64.5px,#00f 65.5px,#00f 79.5px,#002eff 85.5px,#005dff 93.5px,#00caff 117.5px,#00f2ff 127.5px,#00f2ff 132.5px,#0ff 133.5px,#00fff9 141.5px,#00ffe6 145.5px,#00ffb6 149.5px,#00ff1b 158.5px,#01ff00 160.5px,#0fff00 161.5px,#6eff00 168.5px,#ef0 176.5px,#fff400 179.5px,#ffbe00 182.5px,#ff6c00 184.5px,#ff0500 186.5px,#ff00a9 190.5px,#ff00e4 192.5px,#ff00fe 194.5px,#f0f 199.5px)"></i>
<i style="left:182px;background:linear-gradient(#00f 0.5px,#0004ff 7.5px,#0021ff 11.5px,#0042ff 18.5px,#0081ff 27.5px,#0072ff 33.5px,#07f 37.5px,#0096ff 41.5px,#00e0ff 47.5px,#00feff 54.5px,#00fdff 58.5px,#0ef 61.5px,#00d0ff 62.5px,#09f 63.5px,#003cff 64.5px,#00f 65.5px,#00f 85.5px,#001aff 89.5px,#0037ff 97.5px,#005aff 100.5px,#008cff 107.5px,#00f2ff 126.5px,#00f2ff 131.5px,#0ff 132.5px,#00fff9 140.5px,#00ffe5 144.5px,#00ffbc 147.5px,#00ff1a 155.5px,#07ff00 157.5px,#e3ff00 173.5px,#ff0 176.5px,#fff700 177.5px,#ffd200 180.5px,#ffb800 181.5px,#ff6b00 183.5px,#ff0900 185.5px,#ff0027 186.5px,#ff007c 188.5px,#ff00c5 190.5px,#ff00f4 192.5px,#f0f 194.5px,#f0f 199.5px)"></i>
<i style="left:184px;background:linear-gradient(#00f 0.5px,#0004ff 7.5px,#0024ff 11.5px,#0048ff 18.5px,#008bff 27.5px,#007bff 33.5px,#0080ff 37.5px,#00a1ff 41.5px,#00daff 45.5px,#00fcff 49.5px,#00ffe1 56.5px,#00ffe6 58.5px,#00fffd 61.5px,#00dfff 62.5px,#00a4ff 63.5px,#0040ff 64.5px,#00f 65.5px,#00f 103.5px,#000fff 106.5px,#006eff 114.5px,#00f2ff 127.5px,#00f2ff 132.5px,#0ff 133.5px,#00fff9 140.5px,#00ffe6 144.5px,#00ffbf 147.5px,#0f2 155.5px,#00ff02 157.5px,#0eff00 158.5px,#e9ff00 174.5px,#fcff00 176.5px,#fff200 178.5px,#ffc000 181.5px,#ff7500 183.5px,#ff1200 185.5px,#ff001f 186.5px,#f07 188.5px,#ff00c1 190.5px,#ff00f3 192.5px,#f0f 194.5px,#f0f 199.5px)"></i>
<i style="left:186px;background:linear-gradient(#00f 0.5px,#0004ff 7.5px,#0025ff 11.5px,#004aff 18.5px,#008fff 27.5px,#007eff 33.5px,#0082ff 37.5px,#009fff 41.5px,#00e7ff 47.5px,#00fffb 51.5px,#00ffe5 54.5px,#00ffe1 56.5px,#00faff 61.5px,#00d8ff 62.5px,#009eff 63.5px,#003eff 64.5px,#00f 65.5px,#00f 75.5px,#00f 83.5px,#001aff 92.5px,#00f0ff 128.5px,#00f2ff 133.5px,#00fffd 135.5px,#00fff8 141.5px,#00ffe4 145.5px,#00ffaf 149.5px,#00ff2e 156.5px,#0f0 159.5px,#1cff00 161.5px,#7bff00 168.5px,#f4ff00 176.5px,#fff000 179.5px,#ffd200 181.5px,#ffb400 182.5px,#ff8d00 183.5px,#ff0007 186.5px,#ff0062 188.5px,#ff00b1 190.5px,#ff00e9 192.5px,#f0f 194.5px,#f0f 199.5px)"></i>
<i style="left:188px;background:linear-gradient(#00f 0.5px,#0005ff 7.5px,#0028ff 11.5px,#0050ff 18.5px,#009aff 27.5px,#0089ff 33.5px,#0091ff 38.5px,#00a6ff 41.5px,#00eaff 47.5px,#00fdff 51.5px,#0ff 59.5px,#00f7ff 61.5px,#00d8ff 62.5px,#009fff 63.5px,#003fff 64.5px,#00f 65.5px,#00f 85.5px,#0016ff 97.5px,#0040ff 107.5px,#0087ff 117.5px,#0ef 127.5px,#00f2ff 132.5px,#00fffe 134.5px,#00fff9 140.5px,#00ffdf 145.5px,#00ffa6 149.5px,#00ff20 156.5px,#00ff01 158.5px,#0dff00 159.5px,#ef0 175.5px,#fff600 178.5px,#fc0 181.5px,#ff8300 183.5px,#ff2000 185.5px,#ff0012 186.5px,#ff006c 188.5px,#ff00b9 190.5px,#f0e 192.5px,#f0f 194.5px,#f0f 199.5px)"></i>
<i style="left:190px;background:linear-gradient(#00f 0.5px,#0005ff 7.5px,#0023ff 10.5px,#0056ff 18.5px,#00a3ff 27.5px,#0092ff 33.5px,#009aff 38.5px,#00aeff 41.5px,#00f3ff 47.5px,#0ff 49.5px,#00fff8 56.5px,#0ff 61.5px,#00e1ff 62.5px,#00a6ff 63.5px,#0041ff 64.5px,#00f 65.5px,#0003ff 103.5px,#001bff 109.5px,#0049ff 115.5px,#008cff 121.5px,#00e6ff 127.5px,#00f2ff 129.5px,#00f2ff 132.5px,#00fffd 135.5px,#00fff9 140.5px,#00ffe8 144.5px,#00ffb5 148.5px,#00ff2c 155.5px,#04ff00 158.5px,#f1ff00 175.5px,#fff500 178.5px,#ffc900 181.5px,#ff7e00 183.5px,#ff1b00 185.5px,#ff0018 186.5px,#ff0070 188.5px,#ff00bd 190.5px,#ff00f0 192.5px,#f0f 194.5px,#f0f 199.5px)"></i>
<i style="left:192px;background:linear-gradient(#00f 0.5px,#0005ff 7.5px,#002cff 11.5px,#0059ff 18.5px,#00a8ff 27.5px,#0097ff 33.5px,#009dff 38.5px,#00b7ff 42.5px,#0ef 47.5px,#0ff 50.5px,#00fff7 56.5px,#00fbff 61.5px,#0df 62.5px,#00a3ff 63.5px,#0040ff 64.5px,#00f 65.5px,#00f 76.5px,#0020ff 91.5px,#00f0ff 128.5px,#00f2ff 133.5px,#00fffd 135.5px,#00fff8 141.5px,#00ffe4 145.5px,#00ffbd 148.5px,#00ff2d 156.5px,#0f0 159.5px,#7bff00 168.5px,#f4ff00 176.5px,#fff900 178.5px,#ffd100 181.5px,#ff8d00 183.5px,#ff2c00 185.5px,#ff0007 186.5px,#ff0062 188.5px,#ff00b1 190.5px,#ff00e9 192.5px,#f0f 194.5px,#f0f 199.5px)"></i>
<i style="left:194px;background:linear-gradient(#00f 0.5px,#0005ff 7.5px,#002cff 11.5px,#0059ff 18.5px,#00a8ff 27.5px,#0097ff 33.5px,#009dff 38.5px,#00b0ff 41.5px,#00f1ff 47.5px,#00feff 49.5px,#00ffe1 56.5px,#00ffe6 58.5px,#00fffc 61.5px,#00e0ff 62.5px,#00a5ff 63.5px,#0041ff 64.5px,#00f 65.5px,#00f 74.5px,#0013ff 84.5px,#00f2ff 129.5px,#00fff9 140.5px,#00ffe7 144.5px,#00ffc0 147.5px,#00ff23 155.5px,#00ff03 157.5px,#0dff00 158.5px,#e9ff00 174.5px,#fcff00 176.5px,#fff200 178.5px,#ffc100 181.5px,#ff7600 183.5px,#ff1300 185.5px,#ff001f 186.5px,#ff0076 188.5px,#ff00c1 190.5px,#ff00f3 192.5px,#f0f 194.5px,#f0f 199.5px)"></i>
<i style="left:196px;background:linear-gradient(#00f 0.5px,#0005ff 7.5px,#0023ff 10.5px,#05f 18.5px,#00a2ff 27.5px,#0091ff 33.5px,#09f 38.5px,#00aeff 41.5px,#00fcff 48.5px,#00ffe9 56.5px,#00fffb 61.5px,#00e2ff 62.5px,#00a7ff 63.5px,#0042ff 64.5px,#00f 65.5px,#00f 91.5px,#00ecff 128.5px,#00fffc 136.5px,#00fff9 140.5px,#00ffe7 144.5px,#00ffc1 147.5px,#00ff27 155.5px,#00ff06 157.5px,#0aff00 158.5px,#f3ff00 175.5px,#fff300 178.5px,#ffc400 181.5px,#ff7900 183.5px,#ff1600 185.5px,#ff001c 186.5px,#ff0074 188.5px,#ff00bf 190.5px,#ff00f2 192.5px,#f0f 194.5px,#f0f 199.5px)"></i>
<i style="left:198px;background:linear-gradient(#00f 0.5px,#0005ff 7.5px,#0023ff 10.5px,#05f 18.5px,#00a2ff 27.5px,#0091ff 33.5px,#09f 38.5px,#00aeff 41.5px,#00f2ff 47.5px,#00feff 49.5px,#00fff8 56.5px,#00feff 61.5px,#00e0ff 62.5px,#00a5ff 63.5px,#0041ff 64.5px,#00f 65.5px,#00f 79.5px,#000aff 84.5px,#0037ff 94.5px,#00edff 127.5px,#00fffd 135.5px,#00fff9 140.5px,#00ffe2 145.5px,#0fb 148.5px,#00ff28 156.5px,#06ff00 159.5px,#e9ff00 175.5px,#fff800 178.5px,#ffcf00 181.5px,#ff8900 183.5px,#ff2700 185.5px,#ff000c 186.5px,#f06 188.5px,#ff00b5 190.5px,#ff00eb 192.5px,#f0f 194.5px,#f0f 199.5px)"></i>
<i style="left:200px;background:linear-gradient(#00f 0.5px,#0004ff 7.5px,#0024ff 11.5px,#0049ff 18.5px,#008fff 27.5px,#007eff 33.5px,#0082ff 37.5px,#00a0ff 41.5px,#00eaff 47.5px,#00fbff 51.5px,#00f5ff 61.5px,#00d8ff 62.5px,#009fff 63.5px,#003fff 64.5px,#00f 65.5px,#00f 86.5px,#001eff 96.5px,#0071ff 108.5px,#00f2ff 129.5px,#00fff9 140.5px,#00ffe9 144.5px,#00ffd3 146.5px,#00ffa9 149.5px,#00ff24 156.5px,#00ff05 158.5px,#0aff00 159.5px,#ecff00 175.5px,#ff0 177.5px,#fff700 178.5px,#ffce00 181.5px,#ff8600 183.5px,#ff2300 185.5px,#ff000f 186.5px,#ff0069 188.5px,#ff00b7 190.5px,#ff00ed 192.5px,#f0f 194.5px,#f0f 199.5px)"></i>
<i style="left:202px;background:linear-gradient(#00f 0.5px,#0004ff 7.5px,#003eff 18.5px,#007cff 27.5px,#006bff 33.5px,#0071ff 37.5px,#0096ff 41.5px,#00d3ff 45.5px,#00e8ff 47.5px,#00faff 51.5px,#00f4ff 61.5px,#00d6ff 62.5px,#009eff 63.5px,#003eff 64.5px,#00f 65.5px,#0002ff 98.5px,#0075ff 112.5px,#00f2ff 129.5px,#00fff9 140.5px,#00ffe2 145.5px,#0fb 148.5px,#00ff29 156.5px,#05ff00 159.5px,#e9ff00 175.5px,#fff800 178.5px,#ffd000 181.5px,#ff8a00 183.5px,#ff2800 185.5px,#ff000b 186.5px,#f06 188.5px,#ff00b4 190.5px,#ff00eb 192.5px,#f0f 194.5px,#f0f 199.5px)"></i>
<i style="left:204px;background:linear-gradient(#00f 0.5px,#0004ff 7.5px,#02f 11.5px,#0045ff 18.5px,#0087ff 27.5px,#0076ff 33.5px,#007cff 37.5px,#009fff 41.5px,#00f1ff 47.5px,#00fffd 50.5px,#00fdff 61.5px,#00dfff 62.5px,#00a4ff 63.5px,#0041ff 64.5px,#00f 65.5px,#0003ff 93.5px,#0020ff 101.5px,#0054ff 110.5px,#0096ff 119.5px,#0ef 129.5px,#00f2ff 134.5px,#00fffc 136.5px,#00fff9 140.5px,#00ffe5 144.5px,#00ffbd 147.5px,#00ff30 154.5px,#03ff00 157.5px,#e0ff00 173.5px,#f6ff00 175.5px,#fff800 177.5px,#ffd400 180.5px,#ffbc00 181.5px,#ff6f00 183.5px,#ff0d00 185.5px,#ff0024 186.5px,#ff007a 188.5px,#ff00c3 190.5px,#ff00f3 192.5px,#f0f 194.5px,#f0f 199.5px)"></i>
<i style="left:206px;background:linear-gradient(#00f 0.5px,#0004ff 7.5px,#0026ff 11.5px,#004cff 18.5px,#0094ff 27.5px,#0083ff 33.5px,#0087ff 37.5px,#00a5ff 41.5px,#00f0ff 47.5px,#00fffe 50.5px,#00fcff 61.5px,#00deff 62.5px,#00a4ff 63.5px,#0041ff 64.5px,#00f 65.5px,#00f 74.5px,#0004ff 88.5px,#0020ff 99.5px,#006aff 112.5px,#00f2ff 127.5px,#00f2ff 131.5px,#00fffe 133.5px,#00fff9 140.5px,#00ffe5 144.5px,#0fb 147.5px,#00ff2b 154.5px,#00ff07 156.5px,#09ff00 157.5px,#f1ff00 174.5px,#fff700 177.5px,#ffd100 180.5px,#ffb600 181.5px,#ff6900 183.5px,#ff0700 185.5px,#ff00a3 189.5px,#ff00c6 190.5px,#ff00f4 192.5px,#f0f 194.5px,#f0f 199.5px)"></i>
<i style="left:208px;background:linear-gradient(#00f 0.5px,#0005ff 7.5px,#0028ff 11.5px,#0050ff 18.5px,#009aff 27.5px,#0089ff 33.5px,#008bff 37.5px,#00a2ff 41.5px,#00e7ff 48.5px,#00f2ff 55.5px,#00ecff 61.5px,#00cfff 62.5px,#09f 63.5px,#003cff 64.5px,#00f 65.5px,#0008ff 95.5px,#0020ff 103.5px,#004eff 111.5px,#0094ff 119.5px,#00f2ff 127.5px,#00f2ff 132.5px,#00fffe 133.5px,#00fff9 139.5px,#00ffe8 143.5px,#00ffc1 146.5px,#00ff17 154.5px,#00ff05 155.5px,#0dff00 156.5px,#bcff00 168.5px,#f2ff00 173.5px,#fff700 176.5px,#ffc300 180.5px,#ff7e00 182.5px,#f20 184.5px,#ff000e 185.5px,#ff00b2 189.5px,#ff00e8 191.5px,#f0f 193.5px,#f0f 199.5px)"></i>
<i style="left:210px;background:linear-gradient(#00f 0.5px,#0005ff 7.5px,#0029ff 11.5px,#0051ff 18.5px,#009cff 27.5px,#008bff 33.5px,#008dff 37.5px,#00a4ff 41.5px,#00eaff 48.5px,#0ff 56.5px,#00efff 61.5px,#00d2ff 62.5px,#009bff 63.5px,#003dff 64.5px,#00f 65.5px,#0004ff 108.5px,#0019ff 112.5px,#0041ff 116.5px,#007cff 120.5px,#0df 125.5px,#00f2ff 127.5px,#00f2ff 130.5px,#00fffe 133.5px,#00fff9 139.5px,#00ffe8 143.5px,#00ffc1 146.5px,#00ffb2 147.5px,#00ff17 154.5px,#00ff05 155.5px,#0dff00 156.5px,#c7ff00 169.5px,#f3ff00 173.5px,#fff700 176.5px,#ffc400 180.5px,#ff8000 182.5px,#f20 184.5px,#ff000e 185.5px,#ff00b1 189.5px,#ff00e8 191.5px,#f0f 193.5px,#f0f 199.5px)"></i>
<i style="left:212px;background:linear-gradient(#00f 0.5px,#0005ff 7.5px,#0027ff 11.5px,#004fff 18.5px,#0097ff 27.5px,#0087ff 33.5px,#0090ff 38.5px,#00a7ff 41.5px,#00f0ff 47.5px,#00fffa 50.5px,#00ffdb 54.5px,#00ffd5 56.5px,#0fd 58.5px,#00fffc 61.5px,#00e0ff 62.5px,#00a4ff 63.5px,#0041ff 64.5px,#00f 65.5px,#0005ff 94.5px,#0015ff 99.5px,#0041ff 106.5px,#0086ff 114.5px,#00e4ff 123.5px,#0ff 132.5px,#00fff9 139.5px,#00ffe8 143.5px,#00ffc2 146.5px,#00ffb3 147.5px,#00ff1a 154.5px,#0aff00 156.5px,#c4ff00 169.5px,#f1ff00 173.5px,#fff800 176.5px,#ffc700 180.5px,#ff8300 182.5px,#ff2600 184.5px,#ff000b 185.5px,#ff00af 189.5px,#ff00e7 191.5px,#f0f 193.5px,#f0f 199.5px)"></i>
<i style="left:214px;background:linear-gradient(#00f 0.5px,#0004ff 7.5px,#0026ff 11.5px,#004cff 18.5px,#0092ff 27.5px,#0081ff 33.5px,#0086ff 37.5px,#00a3ff 41.5px,#00edff 47.5px,#00fff9 50.5px,#00ffc9 54.5px,#00ffc3 56.5px,#0fc 58.5px,#00fff8 61.5px,#00e0ff 62.5px,#00a3ff 63.5px,#0040ff 64.5px,#00f 65.5px,#0003ff 96.5px,#001dff 103.5px,#004bff 110.5px,#0090ff 118.5px,#00f2ff 127.5px,#00f2ff 132.5px,#0ff 133.5px,#00fff9 140.5px,#00ffe6 144.5px,#00ffbf 147.5px,#00ff21 155.5px,#00ff01 157.5px,#0fff00 158.5px,#eaff00 174.5px,#fdff00 176.5px,#fff100 178.5px,#ffbf00 181.5px,#ff7300 183.5px,#f10 185.5px,#ff0020 186.5px,#f07 188.5px,#ff00c2 190.5px,#ff00f3 192.5px,#f0f 194.5px,#f0f 199.5px)"></i>
<i style="left:216px;background:linear-gradient(#00f 0.5px,#0005ff 7.5px,#0027ff 11.5px,#004eff 18.5px,#0096ff 27.5px,#0085ff 33.5px,#008aff 37.5px,#00a8ff 41.5px,#0df 45.5px,#00fffe 49.5px,#00ffca 54.5px,#00ffc4 56.5px,#00ffcd 58.5px,#00fff5 61.5px,#00e4ff 62.5px,#00a6ff 63.5px,#0041ff 64.5px,#00f 65.5px,#00f 73.5px,#00f 88.5px,#0012ff 95.5px,#06f 110.5px,#00edff 128.5px,#00f2ff 133.5px,#00fffc 135.5px,#00fff9 139.5px,#00ffe7 143.5px,#00ffce 145.5px,#00ffae 147.5px,#00ff13 154.5px,#0f0 155.5px,#12ff00 156.5px,#c1ff00 168.5px,#f5ff00 173.5px,#fff500 176.5px,#ffd400 179.5px,#ffbe00 180.5px,#ff7900 182.5px,#ff1d00 184.5px,#ff0013 185.5px,#ff00b5 189.5px,#ff00eb 191.5px,#f0f 193.5px,#f0f 199.5px)"></i>
<i style="left:218px;background:linear-gradient(#00f 0.5px,#0005ff 7.5px,#0028ff 11.5px,#004fff 18.5px,#09f 27.5px,#08f 33.5px,#0090ff 38.5px,#00a6ff 41.5px,#00ecff 47.5px,#00fffe 50.5px,#00ffe1 54.5px,#00ffdc 56.5px,#00ffe3 58.5px,#00feff 61.5px,#0df 62.5px,#00a2ff 63.5px,#0040ff 64.5px,#00f 65.5px,#00f 73.5px,#0003ff 86.5px,#0026ff 90.5px,#0060ff 99.5px,#00e7ff 125.5px,#00f2ff 128.5px,#00f2ff 132.5px,#00fffd 134.5px,#00fff9 139.5px,#00ffe6 143.5px,#0fb 146.5px,#00ff1c 153.5px,#0aff00 155.5px,#6dff00 161.5px,#c2ff00 167.5px,#f4ff00 172.5px,#fff200 176.5px,#ffce00 179.5px,#ffb300 180.5px,#ff6d00 182.5px,#f10 184.5px,#ff001e 185.5px,#ff00bc 189.5px,#ff00ef 191.5px,#f0f 193.5px,#f0f 199.5px)"></i>
<i style="left:220px;background:linear-gradient(#00f 0.5px,#0004ff 7.5px,#0025ff 11.5px,#004bff 18.5px,#0091ff 27.5px,#0080ff 33.5px,#0085ff 37.5px,#00a3ff 41.5px,#00efff 47.5px,#00fffc 50.5px,#00ffe2 56.5px,#00ffe7 58.5px,#00fffe 61.5px,#00dfff 62.5px,#00a3ff 63.5px,#0040ff 64.5px,#00f 65.5px,#00f 73.5px,#0001ff 88.5px,#0028ff 92.5px,#005eff 100.5px,#00dcff 123.5px,#00f2ff 128.5px,#00fff9 139.5px,#00ffe8 143.5px,#00ffc1 146.5px,#00ff16 154.5px,#00ff04 155.5px,#0eff00 156.5px,#bdff00 168.5px,#f3ff00 173.5px,#fff700 176.5px,#ffc200 180.5px,#ff7e00 182.5px,#ff2100 184.5px,#ff000f 185.5px,#ff00b2 189.5px,#ff00e9 191.5px,#f0f 193.5px,#f0f 199.5px)"></i>
<i style="left:222px;background:linear-gradient(#00f 0.5px,#0004ff 7.5px,#0023ff 11.5px,#0046ff 18.5px,#0089ff 27.5px,#0078ff 33.5px,#007dff 37.5px,#009bff 41.5px,#00e5ff 47.5px,#00feff 51.5px,#00ffe5 56.5px,#00feff 60.5px,#00f5ff 61.5px,#00d5ff 62.5px,#009cff 63.5px,#003eff 64.5px,#00f 65.5px,#00f 72.5px,#0013ff 82.5px,#00f2ff 128.5px,#00f2ff 133.5px,#00fffe 134.5px,#00fff9 140.5px,#00ffe5 144.5px,#0fb 147.5px,#00ff19 155.5px,#08ff00 157.5px,#f0ff00 174.5px,#fff700 177.5px,#ffd200 180.5px,#ffb700 181.5px,#ff6a00 183.5px,#ff0800 185.5px,#ff0027 186.5px,#ff00a3 189.5px,#ff00c5 190.5px,#ff00f4 192.5px,#f0f 194.5px,#f0f 199.5px)"></i>
<i style="left:224px;background:linear-gradient(#00f 0.5px,#0004ff 7.5px,#0023ff 11.5px,#0046ff 18.5px,#0089ff 27.5px,#0079ff 33.5px,#007dff 37.5px,#009dff 41.5px,#00e9ff 47.5px,#00fffd 50.5px,#00ffcd 54.5px,#00ffc6 56.5px,#00ffd0 58.5px,#00fffc 61.5px,#0df 62.5px,#00a1ff 63.5px,#003fff 64.5px,#00f 65.5px,#000bff 78.5px,#002fff 92.5px,#0081ff 110.5px,#00f2ff 127.5px,#00f2ff 132.5px,#00fffe 133.5px,#00fff8 140.5px,#00ffe1 144.5px,#00ffb7 147.5px,#00ff20 154.5px,#02ff00 156.5px,#c8ff00 170.5px,#f5ff00 174.5px,#fff400 177.5px,#ffcd00 180.5px,#ff8a00 182.5px,#ff0003 185.5px,#f0a 189.5px,#ff00e4 191.5px,#ff00f6 192.5px,#ff00fe 193.5px,#f0f 199.5px)"></i>
<i style="left:226px;background:linear-gradient(#00f 0.5px,#0004ff 7.5px,#0024ff 11.5px,#0049ff 18.5px,#008eff 27.5px,#007dff 33.5px,#0082ff 37.5px,#00a1ff 41.5px,#00ecff 47.5px,#00fff9 50.5px,#00ffc5 54.5px,#00ffbf 56.5px,#00ffc8 58.5px,#00fff8 61.5px,#00e0ff 62.5px,#00a3ff 63.5px,#0040ff 64.5px,#00f 65.5px,#00f 74.5px,#0002ff 87.5px,#0016ff 94.5px,#003cff 102.5px,#006eff 110.5px,#00f2ff 126.5px,#00f2ff 131.5px,#0ff 132.5px,#00fff9 140.5px,#00ffe8 144.5px,#00ffb7 148.5px,#00ff30 155.5px,#0f0 158.5px,#ef0 175.5px,#fff600 178.5px,#ffcb00 181.5px,#ff8200 183.5px,#ff1f00 185.5px,#ff0014 186.5px,#ff006d 188.5px,#ff00ba 190.5px,#ff00ef 192.5px,#f0f 194.5px,#f0f 199.5px)"></i>
<i style="left:228px;background:linear-gradient(#00f 0.5px,#0005ff 7.5px,#0028ff 11.5px,#0050ff 18.5px,#09f 27.5px,#08f 33.5px,#0091ff 38.5px,#00a8ff 41.5px,#00f1ff 47.5px,#00feff 49.5px,#00ffd6 54.5px,#00ffd0 56.5px,#00ffd9 58.5px,#00fffa 61.5px,#00e1ff 62.5px,#00a5ff 63.5px,#0041ff 64.5px,#00f 65.5px,#00f 84.5px,#0040ff 97.5px,#00e9ff 125.5px,#00fffe 134.5px,#00fff9 140.5px,#00ffe6 144.5px,#00ffbe 147.5px,#0f0 157.5px,#ebff00 174.5px,#fff900 177.5px,#ffd500 180.5px,#ffbf00 181.5px,#ff7300 183.5px,#ff1000 185.5px,#ff0021 186.5px,#ff0078 188.5px,#ff00c2 190.5px,#ff00f3 192.5px,#f0f 194.5px,#f0f 199.5px)"></i>
<i style="left:230px;background:linear-gradient(#00f 0.5px,#0005ff 7.5px,#002aff 11.5px,#05f 18.5px,#00a1ff 27.5px,#0090ff 33.5px,#0097ff 38.5px,#00b3ff 42.5px,#00eaff 47.5px,#00fffd 51.5px,#0fe 56.5px,#00f9ff 61.5px,#00daff 62.5px,#00a0ff 63.5px,#003fff 64.5px,#00f 65.5px,#00f 74.5px,#0001ff 87.5px,#000cff 91.5px,#0062ff 108.5px,#0ef 129.5px,#00f2ff 134.5px,#00fffc 136.5px,#00fff8 140.5px,#00ffe0 144.5px,#00ffb4 147.5px,#00ff1b 154.5px,#08ff00 156.5px,#71ff00 163.5px,#ceff00 170.5px,#f7ff00 174.5px,#fff200 177.5px,#ffc900 180.5px,#ff8500 182.5px,#ff2800 184.5px,#ff0009 185.5px,#ff00ae 189.5px,#ff00e6 191.5px,#f0f 193.5px,#f0f 199.5px)"></i>
<i style="left:232px;background:linear-gradient(#00f 0.5px,#0005ff 7.5px,#0028ff 11.5px,#0050ff 18.5px,#009aff 27.5px,#0089ff 33.5px,#0090ff 38.5px,#00acff 42.5px,#00e3ff 47.5px,#00fdff 53.5px,#0ff 58.5px,#00f1ff 61.5px,#00d3ff 62.5px,#009bff 63.5px,#003dff 64.5px,#00f 65.5px,#00f 82.5px,#000aff 90.5px,#0034ff 100.5px,#0083ff 113.5px,#0ef 127.5px,#00f2ff 132.5px,#00fffd 134.5px,#00fff8 140.5px,#00ffe0 144.5px,#00ffb4 147.5px,#00ff1b 154.5px,#08ff00 156.5px,#71ff00 163.5px,#ceff00 170.5px,#f8ff00 174.5px,#fff100 177.5px,#ffc800 180.5px,#ff8400 182.5px,#ff2800 184.5px,#ff0009 185.5px,#ff00ae 189.5px,#ff00e6 191.5px,#f0f 193.5px,#f0f 199.5px)"></i>
<i style="left:234px;background:linear-gradient(#00f 0.5px,#0005ff 7.5px,#0028ff 11.5px,#0050ff 18.5px,#09f 27.5px,#08f 33.5px,#008fff 38.5px,#00a3ff 41.5px,#00ebff 48.5px,#00fffe 54.5px,#0ff 58.5px,#00f2ff 61.5px,#00d4ff 62.5px,#009cff 63.5px,#003dff 64.5px,#00f 65.5px,#0001ff 96.5px,#0047ff 107.5px,#00e7ff 127.5px,#00fffc 136.5px,#00fff9 140.5px,#00ffe4 144.5px,#00ffba 147.5px,#00ff2a 154.5px,#00ff06 156.5px,#0aff00 157.5px,#e5ff00 173.5px,#f9ff00 175.5px,#fff700 177.5px,#ffd100 180.5px,#ffb500 181.5px,#ff6800 183.5px,#ff0600 185.5px,#ff00a4 189.5px,#ff00c6 190.5px,#ff00f4 192.5px,#f0f 194.5px,#f0f 199.5px)"></i>
<i style="left:236px;background:linear-gradient(#00f 0.5px,#0005ff 7.5px,#002aff 11.5px,#0054ff 18.5px,#00a1ff 27.5px,#008fff 33.5px,#0092ff 37.5px,#00a7ff 41.5px,#00ebff 48.5px,#00fbff 56.5px,#00f1ff 61.5px,#00d3ff 62.5px,#009cff 63.5px,#003dff 64.5px,#00f 65.5px,#00f 94.5px,#002bff 101.5px,#00efff 128.5px,#00f2ff 133.5px,#00fffd 135.5px,#00fff8 140.5px,#00ffe4 144.5px,#00ffbc 147.5px,#00ff2d 154.5px,#07ff00 157.5px,#e3ff00 173.5px,#ff0 176.5px,#fff700 177.5px,#ffd200 180.5px,#ffb800 181.5px,#ff6b00 183.5px,#ff0900 185.5px,#ff0026 186.5px,#ff00a2 189.5px,#ff00c5 190.5px,#ff00f4 192.5px,#f0f 194.5px,#f0f 199.5px)"></i>
<i style="left:238px;background:linear-gradient(#00f 0.5px,#0005ff 7.5px,#0029ff 11.5px,#0053ff 18.5px,#009eff 27.5px,#008dff 33.5px,#0094ff 38.5px,#00b3ff 42.5px,#00ecff 47.5px,#00feff 51.5px,#00f8ff 61.5px,#00daff 62.5px,#00a1ff 63.5px,#0040ff 64.5px,#00f 65.5px,#00f 85.5px,#0014ff 93.5px,#00ecff 127.5px,#00fffd 135.5px,#00fff9 139.5px,#00ffe8 143.5px,#00ffc1 146.5px,#00ff16 154.5px,#00ff04 155.5px,#0dff00 156.5px,#bcff00 168.5px,#f3ff00 173.5px,#fff700 176.5px,#ffc300 180.5px,#ff7e00 182.5px,#f20 184.5px,#ff000e 185.5px,#ff00b2 189.5px,#ff00e9 191.5px,#f0f 193.5px,#f0f 199.5px)"></i>
<i style="left:240px;background:linear-gradient(#00f 0.5px,#0005ff 7.5px,#002aff 11.5px,#0054ff 18.5px,#00a0ff 27.5px,#008fff 33.5px,#0095ff 38.5px,#00b2ff 42.5px,#00ebff 47.5px,#00fcff 51.5px,#00f6ff 61.5px,#00d9ff 62.5px,#00a0ff 63.5px,#003fff 64.5px,#00f 65.5px,#00f 80.5px,#0019ff 89.5px,#004dff 101.5px,#00f2ff 130.5px,#00f2ff 135.5px,#00fffc 136.5px,#00fff9 140.5px,#00ffe6 144.5px,#00ffc0 147.5px,#00ff24 155.5px,#00ff03 157.5px,#0dff00 158.5px,#e9ff00 174.5px,#fffa00 177.5px,#ffe400 179.5px,#ffc100 181.5px,#ff7500 183.5px,#ff1300 185.5px,#ff001e 186.5px,#ff0076 188.5px,#ff00c0 190.5px,#ff00f2 192.5px,#f0f 194.5px,#f0f 199.5px)"></i>
<i style="left:242px;background:linear-gradient(#00f 0.5px,#0005ff 7.5px,#0023ff 10.5px,#05f 18.5px,#00a2ff 27.5px,#0091ff 33.5px,#0091ff 38.5px,#00a1ff 42.5px,#00d0ff 48.5px,#00d9ff 51.5px,#00d4ff 61.5px,#0bf 62.5px,#008aff 63.5px,#0036ff 64.5px,#00f 65.5px,#00f 80.5px,#00f2ff 129.5px,#00f2ff 134.5px,#00fffd 135.5px,#00fff8 141.5px,#00ffe5 145.5px,#00ffb3 149.5px,#00ff14 158.5px,#00ff05 159.5px,#17ff00 161.5px,#84ff00 169.5px,#f2ff00 176.5px,#fff200 179.5px,#ffd300 181.5px,#ffb800 182.5px,#ff6400 184.5px,#ff0002 186.5px,#ff005e 188.5px,#ff00ae 190.5px,#ff00e7 192.5px,#f0f 194.5px,#f0f 199.5px)"></i>
<i style="left:244px;background:linear-gradient(#00f 0.5px,#0005ff 7.5px,#0024ff 10.5px,#0057ff 18.5px,#00a5ff 27.5px,#0094ff 33.5px,#0093ff 38.5px,#009fff 42.5px,#00caff 48.5px,#00d3ff 51.5px,#00ceff 61.5px,#00b5ff 62.5px,#0086ff 63.5px,#0035ff 64.5px,#00f 65.5px,#0002ff 84.5px,#006fff 102.5px,#00e7ff 127.5px,#00f2ff 130.5px,#00f2ff 134.5px,#00fffd 136.5px,#00fff9 141.5px,#00ffe6 145.5px,#00ffb3 149.5px,#00ff15 158.5px,#00ff06 159.5px,#16ff00 161.5px,#83ff00 169.5px,#f1ff00 176.5px,#fff200 179.5px,#ffd400 181.5px,#ffb900 182.5px,#ff6500 184.5px,#ff0001 186.5px,#ff005e 188.5px,#ff00ad 190.5px,#ff00e6 192.5px,#f0f 194.5px,#f0f 199.5px)"></i>
<i style="left:246px;background:linear-gradient(#00f 0.5px,#0005ff 7.5px,#002aff 11.5px,#0053ff 18.5px,#009fff 27.5px,#008eff 33.5px,#0092ff 38.5px,#00abff 42.5px,#0df 47.5px,#0ef 51.5px,#00e8ff 61.5px,#00cdff 62.5px,#0097ff 63.5px,#003cff 64.5px,#00f 65.5px,#00f 76.5px,#0010ff 82.5px,#0072ff 100.5px,#00f2ff 130.5px,#00f2ff 135.5px,#00fffc 136.5px,#00fff9 140.5px,#00ffe0 145.5px,#00ffa7 149.5px,#00ff21 156.5px,#00ff02 158.5px,#0dff00 159.5px,#edff00 175.5px,#fff600 178.5px,#fc0 181.5px,#ff8300 183.5px,#ff2100 185.5px,#ff0012 186.5px,#ff006b 188.5px,#ff00b9 190.5px,#f0e 192.5px,#f0f 194.5px,#f0f 199.5px)"></i>
<i style="left:248px;background:linear-gradient(#00f 0.5px,#0005ff 7.5px,#0028ff 11.5px,#0051ff 18.5px,#009bff 27.5px,#008aff 33.5px,#0091ff 38.5px,#00a6ff 41.5px,#00e9ff 47.5px,#00fbff 51.5px,#00f4ff 61.5px,#00d7ff 62.5px,#009fff 63.5px,#003fff 64.5px,#00f 65.5px,#00f 77.5px,#001bff 88.5px,#004fff 101.5px,#09f 115.5px,#00f2ff 129.5px,#00fff8 140.5px,#00ffe2 144.5px,#00ffb8 147.5px,#00ff23 154.5px,#0f0 156.5px,#1f0 157.5px,#eaff00 173.5px,#fbff00 175.5px,#fff500 177.5px,#ffce00 180.5px,#ff8c00 182.5px,#f00 185.5px,#ff00a8 189.5px,#ff00c9 190.5px,#ff00f5 192.5px,#ff00fe 193.5px,#f0f 199.5px)"></i>
<i style="left:250px;background:linear-gradient(#00f 0.5px,#0005ff 7.5px,#0029ff 11.5px,#0052ff 18.5px,#009dff 27.5px,#008cff 33.5px,#0093ff 38.5px,#00b1ff 42.5px,#00eaff 47.5px,#00fbff 51.5px,#00f5ff 61.5px,#00d8ff 62.5px,#009fff 63.5px,#003fff 64.5px,#00f 65.5px,#0001ff 85.5px,#000aff 95.5px,#0026ff 104.5px,#0052ff 112.5px,#009bff 121.5px,#00f2ff 129.5px,#00fff9 140.5px,#00ffe4 144.5px,#00ffba 147.5px,#00ff29 154.5px,#00ff06 156.5px,#0aff00 157.5px,#f2ff00 174.5px,#fff600 177.5px,#ffd100 180.5px,#ffb500 181.5px,#ff6700 183.5px,#ff0600 185.5px,#ff00a4 189.5px,#ff00c7 190.5px,#ff00f5 192.5px,#f0f 194.5px,#f0f 199.5px)"></i>
<i style="left:252px;background:linear-gradient(#00f 0.5px,#0005ff 7.5px,#0029ff 11.5px,#0053ff 18.5px,#009eff 27.5px,#008dff 33.5px,#008dff 38.5px,#009bff 42.5px,#00c6ff 48.5px,#00cfff 51.5px,#00caff 61.5px,#00b2ff 62.5px,#0083ff 63.5px,#0034ff 64.5px,#00f 65.5px,#0002ff 104.5px,#001cff 111.5px,#004bff 117.5px,#0092ff 123.5px,#00f2ff 129.5px,#00fff9 140.5px,#00ffe6 144.5px,#00ffbf 147.5px,#0f2 155.5px,#00ff02 157.5px,#0eff00 158.5px,#e9ff00 174.5px,#fcff00 176.5px,#fff200 178.5px,#ffc000 181.5px,#ff7500 183.5px,#ff1200 185.5px,#ff001f 186.5px,#f07 188.5px,#ff00c1 190.5px,#ff00f3 192.5px,#f0f 194.5px,#f0f 199.5px)"></i>
<i style="left:254px;background:linear-gradient(#00f 0.5px,#0004ff 7.5px,#0026ff 11.5px,#004cff 18.5px,#0092ff 27.5px,#0081ff 33.5px,#007fff 38.5px,#0089ff 42.5px,#00acff 48.5px,#00b4ff 51.5px,#00afff 61.5px,#009aff 62.5px,#0072ff 63.5px,#002dff 64.5px,#00f 65.5px,#0003ff 91.5px,#0016ff 97.5px,#004dff 107.5px,#00f2ff 129.5px,#00fff9 140.5px,#00ffe7 144.5px,#00ffbf 147.5px,#00ff23 155.5px,#00ff02 157.5px,#0dff00 158.5px,#e9ff00 174.5px,#fcff00 176.5px,#fff200 178.5px,#ffc100 181.5px,#ff7500 183.5px,#ff1200 185.5px,#ff001f 186.5px,#ff0076 188.5px,#ff00c1 190.5px,#ff00f3 192.5px,#f0f 194.5px,#f0f 199.5px)"></i>
<i style="left:256px;background:linear-gradient(#00f 0.5px,#0004ff 7.5px,#0021ff 11.5px,#0043ff 18.5px,#007aff 25.5px,#0086ff 28.5px,#0074ff 33.5px,#006aff 41.5px,#0082ff 51.5px,#007fff 61.5px,#0070ff 62.5px,#0052ff 63.5px,#0021ff 64.5px,#00f 65.5px,#00f 93.5px,#0013ff 99.5px,#00f2ff 129.5px,#00fff9 140.5px,#00ffe7 144.5px,#00ffb4 148.5px,#00ff28 155.5px,#00ff07 157.5px,#08ff00 158.5px,#f3ff00 175.5px,#fff400 178.5px,#ffc500 181.5px,#ff7a00 183.5px,#ff1700 185.5px,#ff001b 186.5px,#ff0073 188.5px,#ff00bf 190.5px,#ff00f1 192.5px,#f0f 194.5px,#f0f 199.5px)"></i>
<i style="left:258px;background:linear-gradient(#00f 0.5px,#0004ff 7.5px,#0023ff 11.5px,#0047ff 18.5px,#007fff 25.5px,#008cff 28.5px,#007aff 33.5px,#0069ff 44.5px,#007eff 50.5px,#007bff 61.5px,#006dff 62.5px,#0050ff 63.5px,#0020ff 64.5px,#00f 65.5px,#00f 93.5px,#0026ff 100.5px,#05f 105.5px,#0090ff 113.5px,#00f2ff 129.5px,#00fff9 140.5px,#00ffe8 144.5px,#00ffb6 148.5px,#00ff2d 155.5px,#03ff00 158.5px,#f0ff00 175.5px,#fff500 178.5px,#ffc900 181.5px,#ff7f00 183.5px,#ff1c00 185.5px,#ff0016 186.5px,#ff006f 188.5px,#ff00bc 190.5px,#ff00f0 192.5px,#f0f 194.5px,#f0f 199.5px)"></i>
<i style="left:260px;background:linear-gradient(#0001ff 0.5px,#0006ff 7.5px,#0028ff 11.5px,#004fff 18.5px,#008bff 25.5px,#09f 28.5px,#0086ff 33.5px,#0076ff 44.5px,#008dff 50.5px,#008bff 61.5px,#007aff 62.5px,#005aff 63.5px,#0024ff 64.5px,#00f 65.5px,#00f 78.5px,#0019ff 83.5px,#0037ff 86.5px,#005dff 92.5px,#009fff 106.5px,#00f2ff 129.5px,#00fff9 140.5px,#00ffe3 144.5px,#00ffb9 147.5px,#00ff27 154.5px,#00ff04 156.5px,#0dff00 157.5px,#e7ff00 173.5px,#faff00 175.5px,#fff600 177.5px,#ffd000 180.5px,#ffb300 181.5px,#ff6500 183.5px,#ff0300 185.5px,#ff00a6 189.5px,#ff00c8 190.5px,#ff00f5 192.5px,#f0f 194.5px,#f0f 199.5px)"></i>
<i style="left:262px;background:linear-gradient(#0057ff 0.5px,#005eff 8.5px,#0039ff 14.5px,#0051ff 18.5px,#008fff 25.5px,#009dff 28.5px,#006eff 44.5px,#0082ff 50.5px,#0083ff 59.5px,#0080ff 61.5px,#0071ff 62.5px,#0053ff 63.5px,#0021ff 64.5px,#00f 65.5px,#00f 82.5px,#001fff 90.5px,#07f 104.5px,#00f2ff 129.5px,#00fff9 140.5px,#00ffe7 144.5px,#00ffb3 148.5px,#00ff27 155.5px,#00ff06 157.5px,#09ff00 158.5px,#f3ff00 175.5px,#fff300 178.5px,#ffc500 181.5px,#ff7a00 183.5px,#ff1600 185.5px,#ff001c 186.5px,#ff0073 188.5px,#ff00bf 190.5px,#ff00f2 192.5px,#f0f 194.5px,#f0f 199.5px)"></i>
<i style="left:264px;background:linear-gradient(#0059ff 0.5px,#005fff 8.5px,#003aff 14.5px,#0053ff 18.5px,#0091ff 25.5px,#009fff 28.5px,#008aff 36.5px,#06f 44.5px,#07f 51.5px,#0074ff 61.5px,#06f 62.5px,#004cff 63.5px,#001eff 64.5px,#00f 65.5px,#00f 95.5px,#000fff 98.5px,#003cff 102.5px,#007dff 110.5px,#00efff 128.5px,#00f2ff 133.5px,#00fffd 135.5px,#00fff9 140.5px,#00ffe0 145.5px,#00ffa7 149.5px,#00ff20 156.5px,#00ff02 158.5px,#0dff00 159.5px,#edff00 175.5px,#fff600 178.5px,#ffcd00 181.5px,#ff8400 183.5px,#ff2100 185.5px,#ff0012 186.5px,#ff006b 188.5px,#ff00b9 190.5px,#f0e 192.5px,#f0f 194.5px,#f0f 199.5px)"></i>
<i style="left:266px;background:linear-gradient(#0057ff 0.5px,#0057ff 3.5px,#002aff 7.5px,#02f 10.5px,#004bff 17.5px,#0090ff 25.5px,#009eff 28.5px,#006dff 44.5px,#0082ff 51.5px,#007eff 61.5px,#006fff 62.5px,#0052ff 63.5px,#0020ff 64.5px,#00f 65.5px,#00f 94.5px,#0024ff 100.5px,#0053ff 104.5px,#008bff 111.5px,#00f2ff 128.5px,#00f2ff 133.5px,#00fffe 134.5px,#00fff8 141.5px,#00ffe3 145.5px,#00ffbd 148.5px,#00ff2c 156.5px,#02ff00 159.5px,#7cff00 168.5px,#e7ff00 175.5px,#fff900 178.5px,#ffd100 181.5px,#ff8c00 183.5px,#ff2b00 185.5px,#ff0008 186.5px,#ff0063 188.5px,#ff00b2 190.5px,#ff00e9 192.5px,#f0f 194.5px,#f0f 199.5px)"></i>
<i style="left:268px;background:linear-gradient(#0002ff 0.5px,#0005ff 7.5px,#0027ff 11.5px,#004eff 18.5px,#008aff 25.5px,#0098ff 28.5px,#0082ff 36.5px,#005bff 44.5px,#006bff 51.5px,#0068ff 61.5px,#04f 63.5px,#001bff 64.5px,#00f 65.5px,#00f 75.5px,#000fff 82.5px,#00f2ff 127.5px,#00f2ff 132.5px,#0ff 133.5px,#00fff9 140.5px,#00ffe7 144.5px,#00ffc1 147.5px,#00ff28 155.5px,#00ff07 157.5px,#08ff00 158.5px,#e6ff00 174.5px,#fbff00 176.5px,#fff300 178.5px,#ffc500 181.5px,#ff7a00 183.5px,#ff1700 185.5px,#ff001a 186.5px,#ff0072 188.5px,#ff00be 190.5px,#ff00f1 192.5px,#f0f 194.5px,#f0f 199.5px)"></i>
<i style="left:270px;background:linear-gradient(#00f 0.5px,#0004ff 7.5px,#0023ff 11.5px,#0047ff 18.5px,#007fff 25.5px,#008cff 28.5px,#005eff 44.5px,#0070ff 51.5px,#006dff 61.5px,#0060ff 62.5px,#0047ff 63.5px,#001cff 64.5px,#00f 65.5px,#0005ff 79.5px,#0057ff 97.5px,#00f2ff 127.5px,#00f2ff 132.5px,#0ff 133.5px,#00fff9 140.5px,#00ffe6 144.5px,#00ffbe 147.5px,#00ff1f 155.5px,#01ff00 157.5px,#ebff00 174.5px,#fdff00 176.5px,#fff100 178.5px,#ffbe00 181.5px,#ff7200 183.5px,#ff0f00 185.5px,#ff0021 186.5px,#ff0078 188.5px,#ff00c2 190.5px,#ff00f3 192.5px,#f0f 194.5px,#f0f 199.5px)"></i>
<i style="left:272px;background:linear-gradient(#00f 0.5px,#0004ff 7.5px,#0023ff 11.5px,#0047ff 18.5px,#008aff 27.5px,#007aff 33.5px,#0075ff 41.5px,#0094ff 50.5px,#0097ff 56.5px,#0092ff 61.5px,#0080ff 62.5px,#005fff 63.5px,#0025ff 64.5px,#00f 65.5px,#0001ff 85.5px,#001aff 93.5px,#006eff 105.5px,#00f0ff 126.5px,#00f2ff 131.5px,#0ff 133.5px,#00fff9 140.5px,#00ffe6 144.5px,#00ffbe 147.5px,#00ff20 155.5px,#01ff00 157.5px,#ebff00 174.5px,#fdff00 176.5px,#fff100 178.5px,#ffbe00 181.5px,#ff7200 183.5px,#ff0f00 185.5px,#ff0021 186.5px,#ff0078 188.5px,#ff00c2 190.5px,#ff00f3 192.5px,#f0f 194.5px,#f0f 199.5px)"></i>
<i style="left:274px;background:linear-gradient(#00f 0.5px,#0005ff 7.5px,#0027ff 11.5px,#004eff 18.5px,#0096ff 27.5px,#0085ff 33.5px,#0083ff 41.5px,#00abff 50.5px,#00b7ff 56.5px,#00a9ff 61.5px,#0093ff 62.5px,#006cff 63.5px,#002bff 64.5px,#00f 65.5px,#0001ff 100.5px,#0067ff 110.5px,#00f2ff 126.5px,#00f2ff 131.5px,#0ff 132.5px,#00fff9 140.5px,#00ffe3 144.5px,#00ffb9 147.5px,#00ff25 154.5px,#00ff02 156.5px,#0fff00 157.5px,#e8ff00 173.5px,#faff00 175.5px,#fff500 177.5px,#ffcf00 180.5px,#ffb100 181.5px,#ff6300 183.5px,#ff0200 185.5px,#ff00a7 189.5px,#ff00c8 190.5px,#ff00f5 192.5px,#f0f 194.5px,#f0f 199.5px)"></i>
<i style="left:276px;background:linear-gradient(#00f 0.5px,#0005ff 7.5px,#002aff 11.5px,#0054ff 18.5px,#00a0ff 27.5px,#008fff 33.5px,#0091ff 38.5px,#00a3ff 42.5px,#00d4ff 48.5px,#00edff 56.5px,#00dbff 61.5px,#00bfff 62.5px,#008cff 63.5px,#0037ff 64.5px,#00f 65.5px,#0005ff 93.5px,#000eff 96.5px,#0048ff 105.5px,#00f2ff 126.5px,#00f2ff 131.5px,#0ff 132.5px,#00fff9 140.5px,#00ffe3 144.5px,#00ffb9 147.5px,#00ff26 154.5px,#00ff03 156.5px,#0eff00 157.5px,#e8ff00 173.5px,#faff00 175.5px,#fff500 177.5px,#ffd000 180.5px,#ffb200 181.5px,#ff6400 183.5px,#ff0300 185.5px,#ff00a6 189.5px,#ff00c8 190.5px,#ff00f5 192.5px,#f0f 194.5px,#f0f 199.5px)"></i>
<i style="left:278px;background:linear-gradient(#00f 0.5px,#0005ff 7.5px,#0024ff 10.5px,#0058ff 18.5px,#00a7ff 27.5px,#0096ff 33.5px,#009dff 38.5px,#00b1ff 41.5px,#00f4ff 47.5px,#00fffe 49.5px,#00fff4 56.5px,#00fffd 61.5px,#00e2ff 62.5px,#00a6ff 63.5px,#0042ff 64.5px,#00f 65.5px,#00f 84.5px,#01f 92.5px,#0062ff 108.5px,#00f2ff 127.5px,#00f2ff 132.5px,#0ff 133.5px,#00fff9 140.5px,#00ffe7 144.5px,#00ffb3 148.5px,#00ff26 155.5px,#00ff05 157.5px,#0aff00 158.5px,#f4ff00 175.5px,#fff300 178.5px,#ffc400 181.5px,#ff7800 183.5px,#ff1500 185.5px,#ff001d 186.5px,#ff0074 188.5px,#ff00c0 190.5px,#ff00f2 192.5px,#f0f 194.5px,#f0f 199.5px)"></i>
<i style="left:280px;background:linear-gradient(#0007ff 0.5px,#000cff 7.5px,#0032ff 11.5px,#005aff 18.5px,#0af 27.5px,#09f 33.5px,#009eff 38.5px,#00b8ff 42.5px,#00edff 47.5px,#00fdff 50.5px,#00f9ff 61.5px,#00dbff 62.5px,#00a2ff 63.5px,#0040ff 64.5px,#00f 65.5px,#00f 83.5px,#00f2ff 127.5px,#00f2ff 132.5px,#0ff 133.5px,#00fff9 140.5px,#00ffe0 145.5px,#00ffa7 149.5px,#00ff21 156.5px,#00ff02 158.5px,#0dff00 159.5px,#edff00 175.5px,#fff600 178.5px,#fc0 181.5px,#ff8400 183.5px,#ff2100 185.5px,#ff0012 186.5px,#ff006b 188.5px,#ff00b8 190.5px,#f0e 192.5px,#f0f 194.5px,#f0f 199.5px)"></i>
<i style="left:282px;background:linear-gradient(#09f 0.5px,#09f 6.5px,#00b3ff 9.5px,#00b0ff 10.5px,#0050ff 15.5px,#004aff 16.5px,#00a6ff 27.5px,#0090ff 38.5px,#09f 44.5px,#00b9ff 50.5px,#00b6ff 61.5px,#00a0ff 62.5px,#0076ff 63.5px,#002fff 64.5px,#00f 65.5px,#00f 79.5px,#0073ff 101.5px,#00f0ff 128.5px,#00f2ff 133.5px,#00fffd 135.5px,#00fff9 140.5px,#00ffe9 144.5px,#00ffc7 147.5px,#00ffa9 149.5px,#00ff24 156.5px,#00ff05 158.5px,#09ff00 159.5px,#ebff00 175.5px,#ff0 177.5px,#fff700 178.5px,#ffce00 181.5px,#ff8600 183.5px,#ff2400 185.5px,#ff000f 186.5px,#ff0069 188.5px,#ff00b7 190.5px,#ff00ec 192.5px,#f0f 194.5px,#f0f 199.5px)"></i>
<i style="left:284px;background:linear-gradient(#0039ff 0.5px,#0039ff 6.5px,#05f 10.5px,#0043ff 16.5px,#008dff 25.5px,#009bff 28.5px,#0089ff 33.5px,#07f 44.5px,#008dff 50.5px,#008eff 58.5px,#008bff 61.5px,#007aff 62.5px,#005aff 63.5px,#0024ff 64.5px,#00f 65.5px,#00f 86.5px,#0021ff 96.5px,#00f2ff 129.5px,#00fff9 140.5px,#00ffe6 144.5px,#00ffbe 147.5px,#00ff1e 155.5px,#02ff00 157.5px,#ecff00 174.5px,#feff00 176.5px,#fff000 178.5px,#ffd400 180.5px,#ffbc00 181.5px,#ff7000 183.5px,#ff0e00 185.5px,#ff0023 186.5px,#ff0079 188.5px,#ff00c3 190.5px,#ff00f3 192.5px,#f0f 194.5px,#f0f 199.5px)"></i>
<i style="left:286px;background:linear-gradient(#00f 0.5px,#0005ff 7.5px,#0026ff 11.5px,#004dff 18.5px,#0094ff 27.5px,#0083ff 33.5px,#0087ff 38.5px,#009eff 42.5px,#00cdff 47.5px,#0df 51.5px,#00d7ff 61.5px,#00bdff 62.5px,#008cff 63.5px,#0037ff 64.5px,#00f 65.5px,#0001ff 94.5px,#0058ff 108.5px,#0ef 128.5px,#00f2ff 133.5px,#00fffd 135.5px,#00fff9 140.5px,#00ffe7 144.5px,#00ffb4 148.5px,#00ff2a 155.5px,#06ff00 158.5px,#f2ff00 175.5px,#fff400 178.5px,#ffc700 181.5px,#ff7c00 183.5px,#ff1900 185.5px,#ff0019 186.5px,#ff0072 188.5px,#ff00be 190.5px,#ff00f1 192.5px,#f0f 194.5px,#f0f 199.5px)"></i>
<i style="left:288px;background:linear-gradient(#00f 0.5px,#0004ff 7.5px,#0026ff 11.5px,#004cff 18.5px,#0092ff 27.5px,#0081ff 33.5px,#008aff 38.5px,#00a1ff 41.5px,#00e7ff 47.5px,#00f9ff 51.5px,#00f2ff 61.5px,#00d5ff 62.5px,#009eff 63.5px,#003eff 64.5px,#00f 65.5px,#0001ff 99.5px,#001dff 106.5px,#00f2ff 128.5px,#00f2ff 133.5px,#00fffe 134.5px,#00fff9 140.5px,#00ffe8 144.5px,#00ffb6 148.5px,#00ff2d 155.5px,#03ff00 158.5px,#f0ff00 175.5px,#fff500 178.5px,#ffca00 181.5px,#ff8000 183.5px,#ff1c00 185.5px,#ff0016 186.5px,#ff006f 188.5px,#ff00bc 190.5px,#ff00f0 192.5px,#f0f 194.5px,#f0f 199.5px)"></i>
<i style="left:290px;background:linear-gradient(#002dff 0.5px,#002dff 3.5px,#0017ff 7.5px,#001aff 9.5px,#004dff 18.5px,#0095ff 27.5px,#0084ff 33.5px,#08f 37.5px,#00a4ff 41.5px,#00f1ff 48.5px,#00fcff 51.5px,#00fcff 58.5px,#00f6ff 61.5px,#00d8ff 62.5px,#00a0ff 63.5px,#003fff 64.5px,#00f 65.5px,#0001ff 106.5px,#0009ff 108.5px,#0032ff 112.5px,#00f2ff 128.5px,#00f2ff 133.5px,#00fffe 134.5px,#00fff8 141.5px,#00ffe4 145.5px,#00ffbe 148.5px,#00ff21 157.5px,#00ff03 159.5px,#0bff00 160.5px,#78ff00 168.5px,#f2ff00 176.5px,#fff000 179.5px,#ffd300 181.5px,#ffb600 182.5px,#ff9000 183.5px,#ff0004 186.5px,#ff0060 188.5px,#ff00af 190.5px,#ff00e8 192.5px,#f0f 194.5px,#f0f 199.5px)"></i>
<i style="left:292px;background:linear-gradient(#002dff 0.5px,#002dff 3.5px,#0017ff 7.5px,#001aff 9.5px,#004eff 18.5px,#0096ff 27.5px,#0085ff 33.5px,#0085ff 37.5px,#0094ff 41.5px,#0cf 48.5px,#00d5ff 51.5px,#00d5ff 58.5px,#00cfff 61.5px,#00b7ff 62.5px,#0087ff 63.5px,#0035ff 64.5px,#00f 65.5px,#00f 98.5px,#0014ff 103.5px,#0032ff 107.5px,#00f2ff 128.5px,#00f2ff 133.5px,#00fffe 134.5px,#00fff8 141.5px,#00ffe4 145.5px,#00ffbd 148.5px,#00ff1e 157.5px,#00ff01 159.5px,#0eff00 160.5px,#7aff00 168.5px,#f3ff00 176.5px,#fff000 179.5px,#ffd200 181.5px,#ffb400 182.5px,#ff8e00 183.5px,#ff0006 186.5px,#ff0062 188.5px,#ff00b1 190.5px,#ff00e9 192.5px,#f0f 194.5px,#f0f 199.5px)"></i>
<i style="left:294px;background:linear-gradient(#00f 0.5px,#0005ff 7.5px,#0026ff 11.5px,#004dff 18.5px,#0094ff 27.5px,#0084ff 33.5px,#08f 38.5px,#00a1ff 42.5px,#00d3ff 47.5px,#00e3ff 51.5px,#0df 61.5px,#00c2ff 62.5px,#0090ff 63.5px,#0039ff 64.5px,#00f 65.5px,#0002ff 93.5px,#0074ff 108.5px,#00f2ff 128.5px,#00f2ff 133.5px,#00fffe 134.5px,#00fff9 140.5px,#00ffe7 144.5px,#00ffc1 147.5px,#00ff26 155.5px,#00ff06 157.5px,#0aff00 158.5px,#f3ff00 175.5px,#fff300 178.5px,#ffc400 181.5px,#ff7900 183.5px,#ff1600 185.5px,#ff001c 186.5px,#ff0074 188.5px,#ff00bf 190.5px,#ff00f2 192.5px,#f0f 194.5px,#f0f 199.5px)"></i>
<i style="left:296px;background:linear-gradient(#00f 0.5px,#0005ff 7.5px,#0028ff 11.5px,#0050ff 18.5px,#009aff 27.5px,#0089ff 33.5px,#0093ff 38.5px,#0af 41.5px,#00f4ff 47.5px,#00fffe 49.5px,#00fff7 58.5px,#00fffe 61.5px,#00e1ff 62.5px,#00a6ff 63.5px,#0042ff 64.5px,#00f 65.5px,#00f 85.5px,#00f 89.5px,#002dff 93.5px,#005aff 99.5px,#00d1ff 121.5px,#00f0ff 128.5px,#00f2ff 133.5px,#00fffd 135.5px,#00fff9 140.5px,#00ffe6 144.5px,#00ffbd 147.5px,#00ff1d 155.5px,#03ff00 157.5px,#edff00 174.5px,#fff900 177.5px,#ffd400 180.5px,#ffbc00 181.5px,#ff6f00 183.5px,#ff0d00 185.5px,#ff0023 186.5px,#ff007a 188.5px,#ff00c3 190.5px,#ff00f4 192.5px,#f0f 194.5px,#f0f 199.5px)"></i>
<i style="left:298px;background:linear-gradient(#00f 0.5px,#0005ff 7.5px,#0029ff 11.5px,#0052ff 18.5px,#009cff 27.5px,#008bff 33.5px,#0094ff 38.5px,#00abff 41.5px,#00f4ff 47.5px,#00fffe 49.5px,#00fff7 56.5px,#00fffe 61.5px,#00e1ff 62.5px,#00a6ff 63.5px,#0042ff 64.5px,#00f 65.5px,#00f 85.5px,#0003ff 91.5px,#0064ff 105.5px,#00f0ff 128.5px,#00f2ff 133.5px,#00fffd 135.5px,#00fff9 140.5px,#00ffe6 144.5px,#00ffbf 147.5px,#00ff21 155.5px,#0f0 157.5px,#0fff00 158.5px,#eaff00 174.5px,#fdff00 176.5px,#fff100 178.5px,#ffbf00 181.5px,#ff7300 183.5px,#ff1000 185.5px,#ff0020 186.5px,#f07 188.5px,#ff00c2 190.5px,#ff00f3 192.5px,#f0f 194.5px,#f0f 199.5px)"></i>
<i style="left:300px;background:linear-gradient(#0005ff 0.5px,#0005ff 7.5px,#0026ff 11.5px,#004bff 18.5px,#0092ff 27.5px,#0081ff 33.5px,#0085ff 37.5px,#00a3ff 41.5px,#00ecff 47.5px,#00feff 51.5px,#00f8ff 61.5px,#00daff 62.5px,#00a1ff 63.5px,#003fff 64.5px,#00f 65.5px,#00f 73.5px,#000aff 82.5px,#0036ff 94.5px,#0086ff 110.5px,#00f2ff 128.5px,#00f2ff 133.5px,#00fffe 134.5px,#00fff9 140.5px,#00ffe2 145.5px,#0fb 148.5px,#00ff28 156.5px,#05ff00 159.5px,#e9ff00 175.5px,#fff800 178.5px,#ffd000 181.5px,#ff8a00 183.5px,#ff2800 185.5px,#ff000b 186.5px,#f06 188.5px,#ff00b4 190.5px,#ff00eb 192.5px,#f0f 194.5px,#f0f 199.5px)"></i>
<i style="left:302px;background:linear-gradient(#0046ff 0.5px,#0040ff 2.5px,#000aff 7.5px,#000dff 8.5px,#004bff 18.5px,#0091ff 27.5px,#0080ff 33.5px,#0082ff 37.5px,#0098ff 41.5px,#00daff 48.5px,#00edff 57.5px,#00e0ff 61.5px,#00c4ff 62.5px,#0091ff 63.5px,#0039ff 64.5px,#00f 65.5px,#0007ff 84.5px,#0021ff 93.5px,#0054ff 104.5px,#009dff 116.5px,#00f2ff 128.5px,#00f2ff 133.5px,#00fffe 134.5px,#00fff9 140.5px,#00ffe2 145.5px,#00ffbc 148.5px,#00ff2a 156.5px,#04ff00 159.5px,#7eff00 168.5px,#e8ff00 175.5px,#fff900 178.5px,#ffd000 181.5px,#ff8b00 183.5px,#ff2900 185.5px,#ff000a 186.5px,#ff0065 188.5px,#ff00b3 190.5px,#ff00ea 192.5px,#f0f 194.5px,#f0f 199.5px)"></i>
<i style="left:304px;background:linear-gradient(#0005ff 0.5px,#0005ff 7.5px,#0027ff 11.5px,#004dff 18.5px,#0095ff 27.5px,#0084ff 33.5px,#08f 38.5px,#00a0ff 42.5px,#00d8ff 48.5px,#00f1ff 56.5px,#00dfff 61.5px,#00c2ff 62.5px,#008fff 63.5px,#0038ff 64.5px,#00f 65.5px,#00f 90.5px,#0019ff 96.5px,#0053ff 106.5px,#00f2ff 128.5px,#00f2ff 133.5px,#00fffe 134.5px,#00fff9 140.5px,#00ffe8 144.5px,#00ffb7 148.5px,#00ff2f 155.5px,#01ff00 158.5px,#efff00 175.5px,#fff500 178.5px,#ffcb00 181.5px,#ff8100 183.5px,#ff1e00 185.5px,#ff0015 186.5px,#ff006e 188.5px,#f0b 190.5px,#ff00ef 192.5px,#f0f 194.5px,#f0f 199.5px)"></i>
<i style="left:306px;background:linear-gradient(#00f 0.5px,#0005ff 7.5px,#0027ff 11.5px,#004eff 18.5px,#0096ff 27.5px,#0085ff 33.5px,#008cff 38.5px,#00a1ff 41.5px,#00ecff 48.5px,#00fbff 56.5px,#00f1ff 61.5px,#00d3ff 62.5px,#009cff 63.5px,#003eff 64.5px,#00f 65.5px,#0001ff 88.5px,#0054ff 104.5px,#00f2ff 128.5px,#00f2ff 133.5px,#00fffe 134.5px,#00fff9 140.5px,#00ffe6 144.5px,#00ffbe 147.5px,#00ff1e 155.5px,#02ff00 157.5px,#ecff00 174.5px,#feff00 176.5px,#fff000 178.5px,#ffd400 180.5px,#ffbd00 181.5px,#ff7000 183.5px,#ff0e00 185.5px,#ff0023 186.5px,#ff0079 188.5px,#ff00c3 190.5px,#ff00f3 192.5px,#f0f 194.5px,#f0f 199.5px)"></i>
<i style="left:308px;background:linear-gradient(#00f 0.5px,#0005ff 7.5px,#0027ff 11.5px,#004fff 18.5px,#0097ff 27.5px,#0087ff 33.5px,#008fff 38.5px,#00a6ff 41.5px,#00edff 47.5px,#00feff 50.5px,#00fff8 56.5px,#00faff 61.5px,#00dbff 62.5px,#00a2ff 63.5px,#0040ff 64.5px,#00f 65.5px,#00f 86.5px,#004aff 101.5px,#00f2ff 128.5px,#00f2ff 133.5px,#00fffe 134.5px,#00fff9 140.5px,#00ffe6 144.5px,#00ffbe 147.5px,#00ff20 155.5px,#01ff00 157.5px,#ebff00 174.5px,#fff900 177.5px,#ffd500 180.5px,#ffbe00 181.5px,#ff7100 183.5px,#ff0f00 185.5px,#f02 186.5px,#ff0079 188.5px,#ff00c3 190.5px,#ff00f3 192.5px,#f0f 194.5px,#f0f 199.5px)"></i>
<i style="left:310px;background:linear-gradient(#00f 0.5px,#0005ff 7.5px,#0027ff 11.5px,#004eff 18.5px,#0096ff 27.5px,#0085ff 33.5px,#008aff 37.5px,#00a8ff 41.5px,#00f4ff 47.5px,#00fffe 49.5px,#00fff1 56.5px,#00fffd 61.5px,#00e2ff 62.5px,#00a6ff 63.5px,#0042ff 64.5px,#00f 65.5px,#0001ff 82.5px,#0018ff 88.5px,#07f 103.5px,#00f2ff 128.5px,#00f2ff 133.5px,#00fffe 134.5px,#00fff9 140.5px,#00ffe5 144.5px,#00ffbc 147.5px,#00ff1b 155.5px,#06ff00 157.5px,#efff00 174.5px,#fff800 177.5px,#ffd300 180.5px,#ffb900 181.5px,#ff6c00 183.5px,#ff0a00 185.5px,#ff0026 186.5px,#ff007c 188.5px,#ff00c5 190.5px,#ff00f4 192.5px,#f0f 194.5px,#f0f 199.5px)"></i>
<i style="left:312px;background:linear-gradient(#00f 0.5px,#0005ff 7.5px,#0028ff 11.5px,#0050ff 18.5px,#009aff 27.5px,#0089ff 33.5px,#008aff 38.5px,#009aff 42.5px,#00c8ff 48.5px,#00d3ff 56.5px,#0cf 61.5px,#00b3ff 62.5px,#0084ff 63.5px,#0034ff 64.5px,#00f 65.5px,#0002ff 78.5px,#0010ff 82.5px,#0081ff 103.5px,#00f2ff 128.5px,#00f2ff 133.5px,#00fffe 134.5px,#00fff9 140.5px,#00ffe4 144.5px,#00ffba 147.5px,#00ff2a 154.5px,#00ff06 156.5px,#0aff00 157.5px,#f1ff00 174.5px,#fff600 177.5px,#ffd100 180.5px,#ffb500 181.5px,#ff6800 183.5px,#ff0600 185.5px,#ff00a4 189.5px,#ff00c6 190.5px,#ff00f5 192.5px,#f0f 194.5px,#f0f 199.5px)"></i>
<i style="left:314px;background:linear-gradient(#00f 0.5px,#0004ff 7.5px,#0026ff 11.5px,#004cff 18.5px,#0093ff 27.5px,#0083ff 33.5px,#08f 38.5px,#009aff 41.5px,#00deff 48.5px,#00f8ff 56.5px,#00e5ff 61.5px,#00c8ff 62.5px,#0093ff 63.5px,#003aff 64.5px,#00f 65.5px,#0001ff 87.5px,#003fff 99.5px,#00efff 128.5px,#00f2ff 133.5px,#00fffd 135.5px,#00fff9 140.5px,#00ffe5 144.5px,#00ffbc 147.5px,#00ff1c 155.5px,#05ff00 157.5px,#ef0 174.5px,#fff800 177.5px,#ffd300 180.5px,#ffba00 181.5px,#ff6d00 183.5px,#ff0b00 185.5px,#ff0025 186.5px,#ff007b 188.5px,#ff00c4 190.5px,#ff00f4 192.5px,#f0f 194.5px,#f0f 199.5px)"></i>
<i style="left:316px;background:linear-gradient(#00f 0.5px,#0004ff 7.5px,#0021ff 11.5px,#0043ff 18.5px,#0084ff 27.5px,#0074ff 33.5px,#0075ff 38.5px,#0087ff 42.5px,#00b4ff 48.5px,#00d3ff 56.5px,#0bf 61.5px,#00a3ff 62.5px,#07f 63.5px,#002fff 64.5px,#00f 65.5px,#0003ff 94.5px,#001eff 102.5px,#0053ff 111.5px,#0094ff 119.5px,#00f2ff 128.5px,#00f2ff 133.5px,#00fffe 134.5px,#00fff9 140.5px,#00ffe6 144.5px,#00ffbc 147.5px,#00ff1b 155.5px,#05ff00 157.5px,#ef0 174.5px,#fff800 177.5px,#ffd300 180.5px,#ffba00 181.5px,#ff6d00 183.5px,#ff0b00 185.5px,#ff0025 186.5px,#ff007b 188.5px,#ff00c4 190.5px,#ff00f4 192.5px,#f0f 194.5px,#f0f 199.5px)"></i>
<i style="left:318px;background:linear-gradient(#00f 0.5px,#0004ff 7.5px,#02f 11.5px,#0045ff 18.5px,#007cff 25.5px,#08f 28.5px,#0076ff 33.5px,#0063ff 44.5px,#007bff 54.5px,#0074ff 61.5px,#06f 62.5px,#004bff 63.5px,#001eff 64.5px,#00f 65.5px,#0005ff 101.5px,#001dff 108.5px,#004eff 115.5px,#009aff 122.5px,#00f2ff 128.5px,#00f2ff 133.5px,#00fffe 134.5px,#00fff9 140.5px,#00ffe5 144.5px,#00ffbc 147.5px,#00ff1a 155.5px,#07ff00 157.5px,#efff00 174.5px,#fff700 177.5px,#ffd200 180.5px,#ffb800 181.5px,#ff6b00 183.5px,#ff0900 185.5px,#ff0027 186.5px,#ff007c 188.5px,#ff00c5 190.5px,#ff00f4 192.5px,#f0f 194.5px,#f0f 199.5px)"></i>
<i style="left:320px;background:linear-gradient(#00f 0.5px,#0004ff 7.5px,#0025ff 11.5px,#004aff 18.5px,#0084ff 25.5px,#0091ff 28.5px,#005fff 44.5px,#0070ff 51.5px,#006dff 61.5px,#0060ff 62.5px,#0047ff 63.5px,#001cff 64.5px,#00f 65.5px,#00f 89.5px,#0009ff 97.5px,#02f 105.5px,#004bff 112.5px,#0093ff 120.5px,#00e9ff 127.5px,#00fffd 135.5px,#00fff8 140.5px,#00ffe1 144.5px,#00ffb6 147.5px,#00ff1f 154.5px,#04ff00 156.5px,#caff00 170.5px,#f6ff00 174.5px,#fff300 177.5px,#fc0 180.5px,#f80 182.5px,#ff0005 185.5px,#ff00ab 189.5px,#ff00e4 191.5px,#ff00fe 193.5px,#f0f 199.5px)"></i>
<i style="left:322px;background:linear-gradient(#00f 0.5px,#0004ff 7.5px,#0023ff 11.5px,#0047ff 18.5px,#007fff 25.5px,#008cff 28.5px,#007aff 33.5px,#006dff 42.5px,#0083ff 51.5px,#0080ff 61.5px,#0070ff 62.5px,#0053ff 63.5px,#0021ff 64.5px,#00f 65.5px,#0001ff 88.5px,#000eff 93.5px,#00f2ff 128.5px,#00f2ff 133.5px,#00fffe 134.5px,#00fff9 140.5px,#00ffe7 144.5px,#00ffc1 147.5px,#00ff28 155.5px,#00ff06 157.5px,#09ff00 158.5px,#e6ff00 174.5px,#fffb00 177.5px,#ffe600 179.5px,#ffc300 181.5px,#ff7900 183.5px,#ff1600 185.5px,#ff001b 186.5px,#ff0073 188.5px,#ff00be 190.5px,#ff00f0 192.5px,#f0f 194.5px,#f0f 199.5px)"></i>
<i style="left:324px;background:linear-gradient(#00f 0.5px,#0004ff 7.5px,#0024ff 11.5px,#0048ff 18.5px,#0080ff 25.5px,#008dff 28.5px,#06f 44.5px,#007aff 51.5px,#07f 61.5px,#0069ff 62.5px,#004dff 63.5px,#001eff 64.5px,#00f 65.5px,#00f 89.5px,#01f 94.5px,#00f2ff 128.5px,#00f2ff 133.5px,#00fffe 134.5px,#00fff9 140.5px,#00ffe7 144.5px,#00ffc3 147.5px,#00ff2c 155.5px,#05ff00 158.5px,#e3ff00 174.5px,#fffd00 177.5px,#ffe800 179.5px,#ffc600 181.5px,#ff7c00 183.5px,#ff1a00 185.5px,#ff0017 186.5px,#ff0070 188.5px,#ff00bc 190.5px,#ff00ef 192.5px,#f0f 194.5px,#f0f 199.5px)"></i>
<i style="left:326px;background:linear-gradient(#00f 0.5px,#0004ff 7.5px,#0026ff 11.5px,#004cff 18.5px,#08f 25.5px,#0095ff 28.5px,#0083ff 33.5px,#0076ff 42.5px,#008eff 51.5px,#008bff 61.5px,#007aff 62.5px,#005aff 63.5px,#0024ff 64.5px,#00f 65.5px,#0001ff 89.5px,#000eff 93.5px,#003cff 101.5px,#00f2ff 128.5px,#00f2ff 133.5px,#00fffe 134.5px,#00fff8 140.5px,#00ffe3 144.5px,#00ffb9 147.5px,#00ff27 154.5px,#00ff04 156.5px,#0dff00 157.5px,#e7ff00 173.5px,#faff00 175.5px,#fff600 177.5px,#ffd000 180.5px,#ffb300 181.5px,#ff6500 183.5px,#ff0300 185.5px,#ff00a6 189.5px,#ff00c8 190.5px,#ff00f5 192.5px,#f0f 194.5px,#f0f 199.5px)"></i>
<i style="left:328px;background:linear-gradient(#00f 0.5px,#0005ff 7.5px,#0028ff 11.5px,#004fff 18.5px,#0098ff 27.5px,#08f 33.5px,#0087ff 38.5px,#0093ff 42.5px,#00bcff 48.5px,#00c4ff 51.5px,#00bfff 61.5px,#00a8ff 62.5px,#007cff 63.5px,#0031ff 64.5px,#00f 65.5px,#0002ff 91.5px,#001dff 98.5px,#004fff 107.5px,#00f2ff 129.5px,#00fff9 140.5px,#00ffe5 144.5px,#00ffbd 147.5px,#00ff31 154.5px,#03ff00 157.5px,#ecff00 174.5px,#fff900 177.5px,#ffd400 180.5px,#ffbc00 181.5px,#ff7000 183.5px,#ff0d00 185.5px,#ff0023 186.5px,#ff007a 188.5px,#ff00c3 190.5px,#ff00f3 192.5px,#f0f 194.5px,#f0f 199.5px)"></i>
<i style="left:330px;background:linear-gradient(#00f 0.5px,#0005ff 7.5px,#0027ff 11.5px,#004eff 18.5px,#0096ff 27.5px,#0086ff 33.5px,#008cff 38.5px,#00a0ff 41.5px,#00e0ff 47.5px,#00f1ff 51.5px,#00ebff 61.5px,#00cfff 62.5px,#0098ff 63.5px,#003cff 64.5px,#00f 65.5px,#0006ff 87.5px,#02f 95.5px,#05f 105.5px,#00f2ff 129.5px,#00fff9 140.5px,#00ffe5 144.5px,#00ffbc 147.5px,#00ff1a 155.5px,#07ff00 157.5px,#efff00 174.5px,#fff800 177.5px,#ffd200 180.5px,#ffb900 181.5px,#ff6b00 183.5px,#ff0a00 185.5px,#ff0026 186.5px,#ff007c 188.5px,#ff00c5 190.5px,#ff00f4 192.5px,#f0f 194.5px,#f0f 199.5px)"></i>
<i style="left:332px;background:linear-gradient(#00f 0.5px,#0004ff 7.5px,#0026ff 11.5px,#004dff 18.5px,#0095ff 27.5px,#0084ff 33.5px,#08f 37.5px,#00a7ff 41.5px,#0df 45.5px,#0ff 49.5px,#00fff5 56.5px,#0ff 61.5px,#00e0ff 62.5px,#00a5ff 63.5px,#0041ff 64.5px,#00f 65.5px,#00f 77.5px,#0051ff 96.5px,#00f2ff 129.5px,#00fff9 140.5px,#00ffe7 144.5px,#00ffb5 148.5px,#00ff2b 155.5px,#06ff00 158.5px,#f2ff00 175.5px,#fff400 178.5px,#ffc800 181.5px,#ff7d00 183.5px,#ff1a00 185.5px,#ff0019 186.5px,#ff0071 188.5px,#ff00bd 190.5px,#ff00f1 192.5px,#f0f 194.5px,#f0f 199.5px)"></i>
<i style="left:334px;background:linear-gradient(#00f 0.5px,#0005ff 7.5px,#0028ff 11.5px,#0050ff 18.5px,#09f 27.5px,#08f 33.5px,#008fff 38.5px,#00a3ff 41.5px,#00e4ff 47.5px,#00fdff 52.5px,#00fff9 56.5px,#00feff 59.5px,#00f3ff 61.5px,#00d4ff 62.5px,#009cff 63.5px,#003dff 64.5px,#00f 65.5px,#00f 82.5px,#0016ff 89.5px,#003fff 94.5px,#0075ff 103.5px,#00f2ff 129.5px,#00fff9 140.5px,#00ffe2 145.5px,#00ffbc 148.5px,#00ff2a 156.5px,#03ff00 159.5px,#70ff00 167.5px,#e8ff00 175.5px,#fff900 178.5px,#ffd000 181.5px,#ff8b00 183.5px,#ff2900 185.5px,#ff000a 186.5px,#ff0065 188.5px,#ff00b3 190.5px,#ff00ea 192.5px,#f0f 194.5px,#f0f 199.5px)"></i>
<i style="left:336px;background:linear-gradient(#00f 0.5px,#0005ff 7.5px,#0028ff 11.5px,#0050ff 18.5px,#009aff 27.5px,#0089ff 33.5px,#008bff 37.5px,#00a0ff 41.5px,#00e3ff 48.5px,#00f8ff 56.5px,#00e9ff 61.5px,#0cf 62.5px,#0096ff 63.5px,#003bff 64.5px,#00f 65.5px,#00f 93.5px,#005bff 104.5px,#00d2ff 124.5px,#00f2ff 130.5px,#00f2ff 135.5px,#00fffc 136.5px,#00fff9 140.5px,#00ffe9 144.5px,#00ffc7 147.5px,#00ffa9 149.5px,#00ff24 156.5px,#00ff06 158.5px,#09ff00 159.5px,#ebff00 175.5px,#ff0 177.5px,#fff700 178.5px,#ffce00 181.5px,#ff8700 183.5px,#ff2400 185.5px,#ff000f 186.5px,#ff0069 188.5px,#ff00b6 190.5px,#ff00ec 192.5px,#f0f 194.5px,#f0f 199.5px)"></i>
<i style="left:338px;background:linear-gradient(#00f 0.5px,#0005ff 7.5px,#002aff 11.5px,#0054ff 18.5px,#009fff 27.5px,#008eff 33.5px,#008aff 41.5px,#00afff 50.5px,#00b2ff 56.5px,#00adff 61.5px,#0098ff 62.5px,#0070ff 63.5px,#002cff 64.5px,#00f 65.5px,#0002ff 90.5px,#00f2ff 130.5px,#00f2ff 135.5px,#00fffc 136.5px,#00fff9 140.5px,#00ffe8 144.5px,#00ffb6 148.5px,#00ff2f 155.5px,#02ff00 158.5px,#efff00 175.5px,#fff500 178.5px,#ffcb00 181.5px,#ff8100 183.5px,#ff1d00 185.5px,#ff0015 186.5px,#ff006e 188.5px,#f0b 190.5px,#ff00ef 192.5px,#f0f 194.5px,#f0f 199.5px)"></i>
<i style="left:340px;background:linear-gradient(#00f 0.5px,#0005ff 7.5px,#0029ff 11.5px,#0053ff 18.5px,#009eff 27.5px,#008dff 33.5px,#0087ff 41.5px,#00a9ff 51.5px,#00a5ff 61.5px,#0091ff 62.5px,#006bff 63.5px,#002aff 64.5px,#00f 65.5px,#0001ff 81.5px,#0018ff 88.5px,#00f2ff 129.5px,#00fff9 140.5px,#00ffe5 144.5px,#00ffbc 147.5px,#00ff1a 155.5px,#07ff00 157.5px,#efff00 174.5px,#fff700 177.5px,#ffd200 180.5px,#ffb800 181.5px,#ff6b00 183.5px,#ff0900 185.5px,#ff0026 186.5px,#ff007c 188.5px,#ff00c5 190.5px,#ff00f4 192.5px,#f0f 194.5px,#f0f 199.5px)"></i>
<i style="left:342px;background:linear-gradient(#00f 0.5px,#0005ff 7.5px,#0027ff 11.5px,#004eff 18.5px,#0096ff 27.5px,#0081ff 38.5px,#0087ff 42.5px,#00afff 51.5px,#0af 61.5px,#0096ff 62.5px,#006fff 63.5px,#002cff 64.5px,#00f 65.5px,#0001ff 69.5px,#000bff 73.5px,#0064ff 93.5px,#00f0ff 129.5px,#00fff9 140.5px,#00ffe0 145.5px,#00ffa7 149.5px,#00ff20 156.5px,#00ff02 158.5px,#0dff00 159.5px,#edff00 175.5px,#fff600 178.5px,#fc0 181.5px,#ff8300 183.5px,#ff2000 185.5px,#ff0012 186.5px,#ff006c 188.5px,#ff00b9 190.5px,#f0e 192.5px,#f0f 194.5px,#f0f 199.5px)"></i>
<i style="left:344px;background:linear-gradient(#00f 0.5px,#0004ff 7.5px,#0026ff 11.5px,#004dff 18.5px,#0095ff 27.5px,#0084ff 33.5px,#0080ff 41.5px,#00a3ff 51.5px,#009fff 61.5px,#008cff 62.5px,#0067ff 63.5px,#0029ff 64.5px,#00f 65.5px,#0001ff 73.5px,#001dff 83.5px,#00f0ff 129.5px,#00fff9 140.5px,#00ffe5 144.5px,#00ffbc 147.5px,#00ff2e 154.5px,#06ff00 157.5px,#e2ff00 173.5px,#ff0 176.5px,#fff800 177.5px,#ffd300 180.5px,#ffb900 181.5px,#ff6c00 183.5px,#ff0a00 185.5px,#ff0026 186.5px,#ff007c 188.5px,#ff00c5 190.5px,#ff00f4 192.5px,#f0f 194.5px,#f0f 199.5px)"></i>
<i style="left:346px;background:linear-gradient(#00f 0.5px,#0005ff 7.5px,#0027ff 11.5px,#004eff 18.5px,#0096ff 27.5px,#0081ff 38.5px,#08f 42.5px,#00a8ff 48.5px,#00b0ff 51.5px,#00abff 61.5px,#0097ff 62.5px,#006fff 63.5px,#002cff 64.5px,#00f 65.5px,#0001ff 73.5px,#000eff 78.5px,#00f2ff 130.5px,#00f2ff 135.5px,#00fffc 136.5px,#00fff8 140.5px,#00ffe2 144.5px,#00ffb7 147.5px,#00ff21 154.5px,#02ff00 156.5px,#c8ff00 170.5px,#f5ff00 174.5px,#fff400 177.5px,#ffcd00 180.5px,#ff8a00 182.5px,#ff0003 185.5px,#f0a 189.5px,#ff00ca 190.5px,#ff00f6 192.5px,#ff00fe 193.5px,#f0f 199.5px)"></i>
<i style="left:348px;background:linear-gradient(#00f 0.5px,#0005ff 7.5px,#0029ff 11.5px,#0052ff 18.5px,#0091ff 25.5px,#009fff 28.5px,#0070ff 44.5px,#0086ff 51.5px,#0082ff 61.5px,#0073ff 62.5px,#05f 63.5px,#0021ff 64.5px,#00f 65.5px,#0001ff 75.5px,#0072ff 99.5px,#00f2ff 130.5px,#00f2ff 135.5px,#00fffc 136.5px,#00fff9 140.5px,#00ffe6 144.5px,#00ffbe 147.5px,#00ff1f 155.5px,#01ff00 157.5px,#ecff00 174.5px,#fdff00 176.5px,#fff100 178.5px,#ffd400 180.5px,#ffbd00 181.5px,#ff7100 183.5px,#ff0e00 185.5px,#f02 186.5px,#ff0079 188.5px,#ff00c3 190.5px,#ff00f3 192.5px,#f0f 194.5px,#f0f 199.5px)"></i>
<i style="left:350px;background:linear-gradient(#00f 0.5px,#0005ff 7.5px,#002aff 11.5px,#0054ff 18.5px,#0093ff 25.5px,#00a1ff 28.5px,#008cff 36.5px,#06f 44.5px,#0078ff 51.5px,#0075ff 61.5px,#0067ff 62.5px,#004cff 63.5px,#001eff 64.5px,#00f 65.5px,#00f 79.5px,#000cff 83.5px,#00f2ff 130.5px,#00f2ff 135.5px,#00fffc 136.5px,#00fff9 140.5px,#00ffe5 144.5px,#00ffbc 147.5px,#00ff1b 155.5px,#06ff00 157.5px,#efff00 174.5px,#fff800 177.5px,#ffd200 180.5px,#ffb800 181.5px,#ff6b00 183.5px,#ff0900 185.5px,#ff0027 186.5px,#ff00a2 189.5px,#ff00c5 190.5px,#ff00f4 192.5px,#f0f 194.5px,#f0f 199.5px)"></i>
<i style="left:352px;background:linear-gradient(#00f 0.5px,#0005ff 7.5px,#0029ff 11.5px,#0051ff 18.5px,#008fff 25.5px,#009dff 28.5px,#0073ff 44.5px,#0089ff 51.5px,#0086ff 61.5px,#0076ff 62.5px,#0057ff 63.5px,#02f 64.5px,#00f 65.5px,#0003ff 89.5px,#001dff 96.5px,#0052ff 106.5px,#00f2ff 130.5px,#00f2ff 135.5px,#00fffc 136.5px,#00fff9 140.5px,#00ffe6 144.5px,#00ffc0 147.5px,#00ff24 155.5px,#00ff04 157.5px,#0cff00 158.5px,#e8ff00 174.5px,#fcff00 176.5px,#fff200 178.5px,#ffc100 181.5px,#ff7500 183.5px,#f10 185.5px,#ff0020 186.5px,#f07 188.5px,#ff00c2 190.5px,#ff00f3 192.5px,#f0f 194.5px,#f0f 199.5px)"></i>
<i style="left:354px;background:linear-gradient(#00f 0.5px,#0005ff 7.5px,#0028ff 11.5px,#0050ff 18.5px,#09f 27.5px,#08f 33.5px,#0083ff 41.5px,#00a7ff 51.5px,#00a2ff 61.5px,#008fff 62.5px,#006aff 63.5px,#002aff 64.5px,#00f 65.5px,#0003ff 95.5px,#0019ff 102.5px,#0041ff 110.5px,#08f 120.5px,#00edff 131.5px,#00faff 137.5px,#00fff5 141.5px,#00ffda 145.5px,#00ffb1 148.5px,#00ff24 155.5px,#00ff04 157.5px,#0cff00 158.5px,#e8ff00 174.5px,#fcff00 176.5px,#fff200 178.5px,#ffc000 181.5px,#ff7400 183.5px,#ff1000 185.5px,#ff0021 186.5px,#ff0078 188.5px,#ff00c2 190.5px,#ff00f3 192.5px,#f0f 194.5px,#f0f 199.5px)"></i>
<i style="left:356px;background:linear-gradient(#00f 0.5px,#0005ff 7.5px,#0027ff 11.5px,#004eff 18.5px,#0097ff 27.5px,#0082ff 38.5px,#008aff 42.5px,#00acff 48.5px,#00b3ff 51.5px,#00afff 61.5px,#009aff 62.5px,#0071ff 63.5px,#002dff 64.5px,#00f 65.5px,#0006ff 97.5px,#0021ff 106.5px,#004dff 114.5px,#0098ff 123.5px,#00f2ff 131.5px,#00f2ff 136.5px,#00fffb 137.5px,#00fff9 140.5px,#00ffe7 144.5px,#00ffb3 148.5px,#00ff27 155.5px,#00ff07 157.5px,#08ff00 158.5px,#f3ff00 175.5px,#fff300 178.5px,#ffc200 181.5px,#ff7600 183.5px,#ff1200 185.5px,#ff001f 186.5px,#f07 188.5px,#ff00c1 190.5px,#ff00f3 192.5px,#f0f 194.5px,#f0f 199.5px)"></i>
<i style="left:358px;background:linear-gradient(#00f 0.5px,#0005ff 7.5px,#0028ff 11.5px,#0051ff 18.5px,#009bff 27.5px,#008aff 33.5px,#08f 38.5px,#0090ff 42.5px,#00b4ff 48.5px,#00bcff 51.5px,#00b7ff 61.5px,#00a1ff 62.5px,#07f 63.5px,#002fff 64.5px,#00f 65.5px,#0005ff 94.5px,#001cff 102.5px,#0043ff 110.5px,#08f 120.5px,#0ef 131.5px,#00f2ff 136.5px,#00faff 137.5px,#00fff5 141.5px,#00ffd9 145.5px,#00ffaf 148.5px,#0f1 156.5px,#00ff01 157.5px,#0eff00 158.5px,#eaff00 174.5px,#fff900 177.5px,#ffd400 180.5px,#ffbc00 181.5px,#ff6f00 183.5px,#ff0c00 185.5px,#ff0024 186.5px,#ff007b 188.5px,#ff00c4 190.5px,#ff00f4 192.5px,#f0f 194.5px,#f0f 199.5px)"></i>
<i style="left:360px;background:linear-gradient(#00f 0.5px,#0005ff 7.5px,#002cff 11.5px,#0059ff 18.5px,#009bff 25.5px,#0af 28.5px,#0097ff 33.5px,#0082ff 44.5px,#009cff 51.5px,#09f 61.5px,#0086ff 62.5px,#0063ff 63.5px,#0027ff 64.5px,#00f 65.5px,#00f 83.5px,#000eff 88.5px,#002fff 95.5px,#00edff 130.5px,#00fbff 137.5px,#00fff6 141.5px,#0fd 145.5px,#00ffb4 148.5px,#00ff2e 155.5px,#02ff00 158.5px,#e3ff00 174.5px,#fffd00 177.5px,#ffe700 179.5px,#ffc500 181.5px,#ff7a00 183.5px,#ff1600 185.5px,#ff001b 186.5px,#ff0073 188.5px,#ff00bf 190.5px,#ff00f1 192.5px,#f0f 194.5px,#f0f 199.5px)"></i>
<i style="left:362px;background:linear-gradient(#00f 0.5px,#0005ff 7.5px,#002cff 11.5px,#0058ff 18.5px,#09f 25.5px,#00a8ff 28.5px,#0093ff 36.5px,#006dff 44.5px,#0080ff 51.5px,#007cff 61.5px,#006dff 62.5px,#0051ff 63.5px,#0020ff 64.5px,#00f 65.5px,#0001ff 82.5px,#005fff 99.5px,#00edff 128.5px,#00f2ff 133.5px,#00fffc 136.5px,#00fff8 141.5px,#00ffe4 145.5px,#00ffb1 149.5px,#00ff14 158.5px,#00ff06 159.5px,#16ff00 161.5px,#75ff00 168.5px,#f3ff00 176.5px,#fffa00 178.5px,#ffd100 181.5px,#ff8c00 183.5px,#ff2a00 185.5px,#ff0009 186.5px,#ff0065 188.5px,#ff00b3 190.5px,#ff00ea 192.5px,#f0f 194.5px,#f0f 199.5px)"></i>
<i style="left:364px;background:linear-gradient(#00f 0.5px,#0005ff 7.5px,#002aff 11.5px,#0054ff 18.5px,#00a0ff 27.5px,#008fff 33.5px,#0087ff 41.5px,#008aff 44.5px,#00a7ff 51.5px,#00a3ff 61.5px,#008fff 62.5px,#006aff 63.5px,#002aff 64.5px,#00f 65.5px,#0003ff 83.5px,#004aff 100.5px,#00eaff 130.5px,#00fbff 138.5px,#00ffe4 145.5px,#00ffb1 149.5px,#00ff14 158.5px,#00ff06 159.5px,#16ff00 161.5px,#75ff00 168.5px,#f3ff00 176.5px,#fffa00 178.5px,#ffd100 181.5px,#ff8c00 183.5px,#ff2900 185.5px,#ff000a 186.5px,#f06 188.5px,#ff00b4 190.5px,#ff00eb 192.5px,#f0f 194.5px,#f0f 199.5px)"></i>
<i style="left:366px;background:linear-gradient(#00f 0.5px,#0005ff 7.5px,#0028ff 11.5px,#0050ff 18.5px,#008eff 25.5px,#009cff 28.5px,#0089ff 33.5px,#007eff 41.5px,#0080ff 45.5px,#0098ff 51.5px,#0094ff 61.5px,#0082ff 62.5px,#0060ff 63.5px,#0026ff 64.5px,#00f 65.5px,#00f 77.5px,#0014ff 83.5px,#00f0ff 131.5px,#00f2ff 136.5px,#00faff 137.5px,#00fff7 141.5px,#00ffe1 145.5px,#00ffac 149.5px,#00ff2c 156.5px,#02ff00 159.5px,#7cff00 168.5px,#e8ff00 175.5px,#feff00 177.5px,#fff800 178.5px,#ffce00 181.5px,#ff8500 183.5px,#ff2100 185.5px,#ff0012 186.5px,#ff006c 188.5px,#ff00b9 190.5px,#f0e 192.5px,#f0f 194.5px,#f0f 199.5px)"></i>
<i style="left:368px;background:linear-gradient(#00f 0.5px,#0005ff 7.5px,#0027ff 11.5px,#004eff 18.5px,#0096ff 27.5px,#0080ff 38.5px,#008aff 44.5px,#00a8ff 50.5px,#00abff 56.5px,#00a5ff 61.5px,#0091ff 62.5px,#006bff 63.5px,#002aff 64.5px,#00f 65.5px,#0001ff 79.5px,#0013ff 85.5px,#00f0ff 131.5px,#00f2ff 136.5px,#00faff 137.5px,#00fff6 141.5px,#00ffde 145.5px,#00ffb7 148.5px,#00ff23 156.5px,#00ff04 158.5px,#0bff00 159.5px,#ef0 175.5px,#fff500 178.5px,#ffc800 181.5px,#ff7c00 183.5px,#ff1800 185.5px,#ff001a 186.5px,#ff0073 188.5px,#ff00bf 190.5px,#ff00f1 192.5px,#f0f 194.5px,#f0f 199.5px)"></i>
<i style="left:370px;background:linear-gradient(#00f 0.5px,#0004ff 7.5px,#0026ff 11.5px,#004dff 18.5px,#0094ff 27.5px,#0083ff 33.5px,#0085ff 37.5px,#09f 41.5px,#00dbff 48.5px,#00f1ff 56.5px,#00e1ff 61.5px,#00c5ff 62.5px,#0091ff 63.5px,#0039ff 64.5px,#00f 65.5px,#0003ff 92.5px,#001cff 100.5px,#0050ff 110.5px,#0095ff 120.5px,#00f2ff 131.5px,#00f2ff 136.5px,#00fffb 137.5px,#00fff9 140.5px,#00ffe8 144.5px,#00ffba 148.5px,#00ff29 156.5px,#04ff00 159.5px,#7eff00 168.5px,#eaff00 175.5px,#ff0 177.5px,#fff700 178.5px,#fc0 181.5px,#ff8100 183.5px,#ff1d00 185.5px,#ff0016 186.5px,#ff0070 188.5px,#ff00bd 190.5px,#ff00f0 192.5px,#f0f 194.5px,#f0f 199.5px)"></i>
<i style="left:372px;background:linear-gradient(#00f 0.5px,#0004ff 7.5px,#0026ff 11.5px,#004dff 18.5px,#0095ff 27.5px,#0084ff 33.5px,#08f 38.5px,#00a0ff 42.5px,#00d8ff 48.5px,#0ef 56.5px,#00deff 61.5px,#00c2ff 62.5px,#008fff 63.5px,#0038ff 64.5px,#00f 65.5px,#000cff 89.5px,#0028ff 99.5px,#0057ff 109.5px,#0098ff 119.5px,#00f2ff 130.5px,#00fff9 141.5px,#00ffe7 145.5px,#00ffba 149.5px,#0f0 161.5px,#53ff00 167.5px,#e9ff00 176.5px,#fffe00 178.5px,#fff500 179.5px,#ffbf00 182.5px,#ff6b00 184.5px,#ff0200 186.5px,#ff00ac 190.5px,#ff00e6 192.5px,#f0f 194.5px,#f0f 199.5px)"></i>
<i style="left:374px;background:linear-gradient(#00f 0.5px,#0005ff 7.5px,#0028ff 11.5px,#0050ff 18.5px,#009aff 27.5px,#0089ff 33.5px,#0090ff 38.5px,#00acff 42.5px,#00e3ff 47.5px,#00f5ff 51.5px,#00f8ff 57.5px,#00efff 61.5px,#00d2ff 62.5px,#009bff 63.5px,#003dff 64.5px,#00f 65.5px,#00f 70.5px,#0004ff 75.5px,#0020ff 83.5px,#00f0ff 131.5px,#00f2ff 136.5px,#00faff 137.5px,#00fff7 141.5px,#00ffe1 145.5px,#00ffad 149.5px,#0f1 158.5px,#0bff00 160.5px,#69ff00 167.5px,#e7ff00 175.5px,#fdff00 177.5px,#fff800 178.5px,#ffcd00 181.5px,#ff8400 183.5px,#ff2000 185.5px,#ff0013 186.5px,#ff006e 188.5px,#f0b 190.5px,#ff00ef 192.5px,#f0f 194.5px,#f0f 199.5px)"></i>
<i style="left:376px;background:linear-gradient(#00f 0.5px,#0005ff 7.5px,#0023ff 10.5px,#05f 18.5px,#00a2ff 27.5px,#0091ff 33.5px,#0097ff 38.5px,#00b1ff 42.5px,#00e7ff 47.5px,#00fbff 51.5px,#0ff 58.5px,#00f4ff 61.5px,#00d6ff 62.5px,#009eff 63.5px,#003eff 64.5px,#00f 65.5px,#00f 83.5px,#0012ff 90.5px,#00f2ff 131.5px,#00f2ff 136.5px,#00fffb 137.5px,#00fff9 140.5px,#00ffe8 144.5px,#00ffb8 148.5px,#00ff27 156.5px,#05ff00 159.5px,#80ff00 168.5px,#ecff00 175.5px,#fffe00 177.5px,#fff600 178.5px,#ffc800 181.5px,#ff7c00 183.5px,#ff1600 185.5px,#ff001c 186.5px,#ff0075 188.5px,#ff00c1 190.5px,#ff00f2 192.5px,#f0f 194.5px,#f0f 199.5px)"></i>
<i style="left:378px;background:linear-gradient(#0001ff 0.5px,#0006ff 7.5px,#0026ff 10.5px,#0053ff 17.5px,#00abff 27.5px,#009aff 33.5px,#09f 38.5px,#00a4ff 42.5px,#00d6ff 50.5px,#00dcff 56.5px,#00d2ff 61.5px,#00b9ff 62.5px,#08f 63.5px,#0036ff 64.5px,#00f 65.5px,#00f 93.5px,#0014ff 98.5px,#0070ff 110.5px,#00efff 130.5px,#00fff9 140.5px,#00ffe1 145.5px,#00ffbc 148.5px,#0f2 157.5px,#08ff00 160.5px,#58ff00 166.5px,#f4ff00 176.5px,#fff800 178.5px,#ffce00 181.5px,#ff8400 183.5px,#ff1f00 185.5px,#ff0014 186.5px,#ff006f 188.5px,#ff00bc 190.5px,#ff00f0 192.5px,#f0f 194.5px,#f0f 199.5px)"></i>
<i style="left:380px;background:linear-gradient(#0043ff 0.5px,#0043ff 6.5px,#004eff 8.5px,#0042ff 14.5px,#005eff 18.5px,#00b0ff 27.5px,#009fff 33.5px,#09f 41.5px,#009eff 44.5px,#00beff 50.5px,#00c1ff 58.5px,#0bf 61.5px,#00a5ff 62.5px,#007aff 63.5px,#0030ff 64.5px,#00f 65.5px,#00f 101.5px,#0013ff 105.5px,#006dff 114.5px,#00f2ff 130.5px,#00f2ff 135.5px,#00fffc 136.5px,#00fff9 140.5px,#00ffe2 145.5px,#00ffbd 148.5px,#00ff25 157.5px,#05ff00 160.5px,#64ff00 167.5px,#f3ff00 176.5px,#fff900 178.5px,#ffcf00 181.5px,#ff8700 183.5px,#ff2100 185.5px,#ff0012 186.5px,#ff006d 188.5px,#f0b 190.5px,#ff00ef 192.5px,#f0f 194.5px,#f0f 199.5px)"></i>
<i style="left:382px;background:linear-gradient(#0048ff 0.5px,#0048ff 6.5px,#0052ff 8.5px,#003dff 14.5px,#05f 18.5px,#00a2ff 27.5px,#0091ff 33.5px,#0089ff 41.5px,#008dff 44.5px,#00a9ff 50.5px,#0af 59.5px,#00a7ff 61.5px,#0093ff 62.5px,#006cff 63.5px,#002bff 64.5px,#00f 65.5px,#00f 80.5px,#001fff 91.5px,#00f0ff 129.5px,#00fff9 140.5px,#00ffe8 144.5px,#00ffb9 148.5px,#00ff2c 156.5px,#01ff00 159.5px,#7cff00 168.5px,#eaff00 175.5px,#ff0 177.5px,#fff700 178.5px,#ffcb00 181.5px,#ff7e00 183.5px,#ff1800 185.5px,#ff001b 186.5px,#ff0074 188.5px,#ff00c0 190.5px,#ff00f2 192.5px,#f0f 194.5px,#f0f 199.5px)"></i>
<i style="left:384px;background:linear-gradient(#006aff 0.5px,#006aff 6.5px,#007fff 10.5px,#0042ff 15.5px,#003eff 16.5px,#008fff 27.5px,#007bff 38.5px,#0083ff 42.5px,#00a9ff 50.5px,#00a9ff 59.5px,#00a6ff 61.5px,#0092ff 62.5px,#006cff 63.5px,#002bff 64.5px,#00f 65.5px,#00f 74.5px,#0013ff 82.5px,#00f0ff 131.5px,#00f2ff 136.5px,#00faff 137.5px,#00fff6 141.5px,#00ffde 145.5px,#00ffb8 148.5px,#00ff29 156.5px,#03ff00 159.5px,#7eff00 168.5px,#ebff00 175.5px,#ff0 177.5px,#fff600 178.5px,#ffc900 181.5px,#ff7c00 183.5px,#ff1500 185.5px,#ff001d 186.5px,#ff0076 188.5px,#ff00c2 190.5px,#ff00f3 192.5px,#f0f 194.5px,#f0f 199.5px)"></i>
<i style="left:386px;background:linear-gradient(#0083ff 0.5px,#0083ff 6.5px,#09f 10.5px,#004dff 15.5px,#0046ff 16.5px,#004bff 18.5px,#0092ff 27.5px,#0081ff 33.5px,#0081ff 38.5px,#008eff 42.5px,#00beff 50.5px,#00bfff 59.5px,#0bf 61.5px,#00a5ff 62.5px,#007aff 63.5px,#0030ff 64.5px,#00f 65.5px,#00f 92.5px,#001dff 99.5px,#0050ff 108.5px,#00eaff 130.5px,#00faff 137.5px,#00fff6 141.5px,#00ffde 145.5px,#00ffa8 149.5px,#00ff19 157.5px,#04ff00 159.5px,#12ff00 160.5px,#7fff00 168.5px,#ecff00 175.5px,#fffe00 177.5px,#fff600 178.5px,#ffc900 181.5px,#ff7b00 183.5px,#ff1400 185.5px,#ff001e 186.5px,#f07 188.5px,#ff00c2 190.5px,#ff00f3 192.5px,#f0f 194.5px,#f0f 199.5px)"></i>
<i style="left:388px;background:linear-gradient(#009fff 0.5px,#009fff 6.5px,#00c4ff 11.5px,#00bcff 12.5px,#0053ff 17.5px,#004dff 18.5px,#0094ff 27.5px,#0084ff 33.5px,#0083ff 37.5px,#0091ff 41.5px,#00c1ff 47.5px,#00ceff 50.5px,#00cfff 59.5px,#00caff 61.5px,#00b2ff 62.5px,#0084ff 63.5px,#0034ff 64.5px,#00f 65.5px,#00f 88.5px,#0019ff 97.5px,#004aff 107.5px,#0091ff 118.5px,#0ef 130.5px,#00fff9 140.5px,#00ffe6 144.5px,#00ffb1 148.5px,#00ff2a 155.5px,#05ff00 158.5px,#f4ff00 175.5px,#fff200 178.5px,#ffd400 180.5px,#fb0 181.5px,#ff6a00 183.5px,#ff0600 185.5px,#ff00a7 189.5px,#ff00c8 190.5px,#ff00f5 192.5px,#ff00fe 193.5px,#f0f 199.5px)"></i>
<i style="left:390px;background:linear-gradient(#009bff 0.5px,#009bff 6.5px,#00c0ff 11.5px,#00b8ff 12.5px,#0051ff 17.5px,#004bff 18.5px,#0091ff 27.5px,#0081ff 33.5px,#0083ff 37.5px,#0098ff 41.5px,#00dbff 48.5px,#00e4ff 51.5px,#00e3ff 59.5px,#00deff 61.5px,#00c4ff 62.5px,#0090ff 63.5px,#0039ff 64.5px,#00f 65.5px,#00f 92.5px,#0010ff 98.5px,#0048ff 108.5px,#0092ff 118.5px,#00f2ff 129.5px,#00fff9 140.5px,#00ffe1 145.5px,#00ffbc 148.5px,#00ff24 157.5px,#07ff00 160.5px,#6f0 167.5px,#e6ff00 175.5px,#fdff00 177.5px,#fff800 178.5px,#ffcd00 181.5px,#ff8300 183.5px,#ff1d00 185.5px,#ff0016 186.5px,#ff0070 188.5px,#ff00bd 190.5px,#ff00f0 192.5px,#f0f 194.5px,#f0f 199.5px)"></i>
<i style="left:392px;background:linear-gradient(#0078ff 0.5px,#0078ff 6.5px,#0092ff 10.5px,#0053ff 15.5px,#004fff 17.5px,#00a0ff 27.5px,#008fff 33.5px,#0090ff 37.5px,#009fff 41.5px,#00d3ff 47.5px,#00e2ff 50.5px,#00e2ff 59.5px,#00deff 61.5px,#00c3ff 62.5px,#0090ff 63.5px,#0039ff 64.5px,#00f 65.5px,#00f 96.5px,#01f 102.5px,#00ebff 130.5px,#00faff 137.5px,#00fff6 141.5px,#00ffde 145.5px,#00ffb8 148.5px,#00ff29 156.5px,#03ff00 159.5px,#7eff00 168.5px,#ecff00 175.5px,#fffe00 177.5px,#fff600 178.5px,#ffc800 181.5px,#ff7900 183.5px,#ff1300 185.5px,#ff001f 186.5px,#ff0078 188.5px,#ff00c3 190.5px,#ff00f3 192.5px,#f0f 194.5px,#f0f 199.5px)"></i>
<i style="left:394px;background:linear-gradient(#0060ff 0.5px,#0060ff 6.5px,#007dff 10.5px,#0051ff 15.5px,#004fff 16.5px,#00b1ff 27.5px,#00a0ff 33.5px,#00a0ff 38.5px,#00b0ff 42.5px,#00daff 47.5px,#00e9ff 50.5px,#00ecff 58.5px,#00e5ff 61.5px,#00c9ff 62.5px,#0094ff 63.5px,#003bff 64.5px,#00f 65.5px,#00f 93.5px,#0031ff 103.5px,#0089ff 113.5px,#00f2ff 130.5px,#00fff8 141.5px,#00ffe5 145.5px,#00ffb7 149.5px,#00ff27 158.5px,#03ff00 161.5px,#5f0 167.5px,#ecff00 176.5px,#fffd00 178.5px,#ffd400 181.5px,#ffb700 182.5px,#ff8f00 183.5px,#ff2c00 185.5px,#ff0009 186.5px,#ff0065 188.5px,#ff00b4 190.5px,#ff00eb 192.5px,#f0f 194.5px,#f0f 199.5px)"></i>
<i style="left:396px;background:linear-gradient(#0058ff 0.5px,#0058ff 5.5px,#0048ff 7.5px,#0034ff 12.5px,#005aff 18.5px,#0af 27.5px,#09f 33.5px,#009bff 37.5px,#00aeff 41.5px,#00ecff 47.5px,#00feff 50.5px,#00ffeb 56.5px,#00fffc 60.5px,#00fbff 61.5px,#00dbff 62.5px,#00a1ff 63.5px,#003fff 64.5px,#00f 65.5px,#00f 82.5px,#0043ff 91.5px,#008bff 105.5px,#00edff 129.5px,#00faff 137.5px,#00fff6 141.5px,#00ffe1 145.5px,#00ffae 149.5px,#00ff23 157.5px,#08ff00 160.5px,#58ff00 166.5px,#f4ff00 176.5px,#fff800 178.5px,#ffcd00 181.5px,#ff8100 183.5px,#ff1b00 185.5px,#ff0019 186.5px,#ff0073 188.5px,#ff00bf 190.5px,#ff00f2 192.5px,#f0f 194.5px,#f0f 199.5px)"></i>
<i style="left:398px;background:linear-gradient(#0020ff 0.5px,#001fff 7.5px,#004fff 17.5px,#00a4ff 27.5px,#0093ff 33.5px,#0096ff 38.5px,#00a5ff 41.5px,#0df 47.5px,#00fbff 52.5px,#00fff5 55.5px,#00fffa 58.5px,#00edff 61.5px,#00ceff 62.5px,#0097ff 63.5px,#003bff 64.5px,#00f 65.5px,#0002ff 75.5px,#000dff 81.5px,#00f2ff 131.5px,#00f2ff 136.5px,#00fffb 137.5px,#00fff9 140.5px,#00ffe2 145.5px,#00ffbd 148.5px,#00ff28 157.5px,#03ff00 160.5px,#62ff00 167.5px,#f3ff00 176.5px,#fff900 178.5px,#ffcf00 181.5px,#ff8500 183.5px,#ff1e00 185.5px,#ff0015 186.5px,#ff0070 188.5px,#ff00bd 190.5px,#ff00f1 192.5px,#f0f 194.5px,#f0f 199.5px)"></i>
<i style="left:400px;background:linear-gradient(#006dff 0.5px,#0073ff 8.5px,#003dff 14.5px,#0057ff 18.5px,#00a5ff 27.5px,#0094ff 33.5px,#0095ff 37.5px,#00a8ff 41.5px,#00eaff 48.5px,#00f5ff 51.5px,#00f9ff 58.5px,#00efff 61.5px,#00d2ff 62.5px,#009bff 63.5px,#003dff 64.5px,#00f 65.5px,#00f 70.5px,#0009ff 75.5px,#00f0ff 131.5px,#00f2ff 136.5px,#00faff 137.5px,#00fff6 141.5px,#00ffe0 145.5px,#00ffad 149.5px,#00ff21 157.5px,#09ff00 160.5px,#67ff00 167.5px,#e7ff00 175.5px,#feff00 177.5px,#fff800 178.5px,#ffcd00 181.5px,#ff8000 183.5px,#ff1900 185.5px,#ff001b 186.5px,#ff0074 188.5px,#ff00c0 190.5px,#ff00f3 192.5px,#f0f 194.5px,#f0f 199.5px)"></i>
<i style="left:402px;background:linear-gradient(#0008ff 0.5px,#000dff 7.5px,#0028ff 10.5px,#0057ff 18.5px,#00a5ff 27.5px,#0093ff 33.5px,#0095ff 38.5px,#00a8ff 42.5px,#00dbff 48.5px,#00e4ff 51.5px,#00e4ff 58.5px,#00dfff 61.5px,#00c4ff 62.5px,#0091ff 63.5px,#0039ff 64.5px,#00f 65.5px,#00f 79.5px,#0008ff 81.5px,#002eff 85.5px,#004eff 90.5px,#0091ff 104.5px,#00f2ff 131.5px,#00f2ff 136.5px,#00fffb 137.5px,#00fff9 140.5px,#00ffe8 144.5px,#0fb 148.5px,#0f2 157.5px,#09ff00 160.5px,#67ff00 167.5px,#e7ff00 175.5px,#feff00 177.5px,#fff800 178.5px,#fc0 181.5px,#ff7f00 183.5px,#ff1800 185.5px,#ff001b 186.5px,#ff0075 188.5px,#ff00c1 190.5px,#ff00f3 192.5px,#f0f 194.5px,#f0f 199.5px)"></i>
<i style="left:404px;background:linear-gradient(#00f 0.5px,#0005ff 7.5px,#0023ff 10.5px,#0057ff 18.5px,#00a4ff 27.5px,#0093ff 33.5px,#0095ff 38.5px,#00a7ff 42.5px,#00d8ff 48.5px,#00e2ff 56.5px,#00dcff 61.5px,#00c2ff 62.5px,#008fff 63.5px,#0038ff 64.5px,#00f 65.5px,#00f 83.5px,#004eff 93.5px,#008cff 105.5px,#00f2ff 132.5px,#00f2ff 137.5px,#00fffb 138.5px,#00fff6 141.5px,#00ffe0 145.5px,#00ffad 149.5px,#00ff23 157.5px,#08ff00 160.5px,#58ff00 166.5px,#f5ff00 176.5px,#fff800 178.5px,#ffcb00 181.5px,#ff7e00 183.5px,#ff1800 185.5px,#ff001b 186.5px,#ff0075 188.5px,#ff00c0 190.5px,#ff00f2 192.5px,#f0f 194.5px,#f0f 199.5px)"></i>
<i style="left:406px;background:linear-gradient(#00f 0.5px,#0005ff 7.5px,#002dff 11.5px,#0059ff 18.5px,#00a9ff 27.5px,#0097ff 33.5px,#009aff 38.5px,#00afff 42.5px,#00e5ff 48.5px,#00efff 51.5px,#00efff 58.5px,#00e9ff 61.5px,#00cdff 62.5px,#0097ff 63.5px,#003cff 64.5px,#00f 65.5px,#00f 89.5px,#004aff 98.5px,#00a4ff 114.5px,#00f2ff 131.5px,#00f2ff 136.5px,#00fffb 137.5px,#00fff9 140.5px,#00ffe5 144.5px,#00ffb1 148.5px,#00ff2d 155.5px,#02ff00 158.5px,#f3ff00 175.5px,#fff200 178.5px,#ffd400 180.5px,#ffba00 181.5px,#ff6800 183.5px,#ff0300 185.5px,#ff00a9 189.5px,#ff00ca 190.5px,#ff00f6 192.5px,#ff00fe 193.5px,#f0f 199.5px)"></i>
<i style="left:408px;background:linear-gradient(#0005ff 0.5px,#0007ff 7.5px,#002dff 11.5px,#005aff 18.5px,#0af 27.5px,#09f 33.5px,#009bff 38.5px,#00aeff 42.5px,#00e2ff 48.5px,#00ebff 51.5px,#00ebff 58.5px,#00e5ff 61.5px,#00caff 62.5px,#0095ff 63.5px,#003bff 64.5px,#00f 65.5px,#00f 82.5px,#0013ff 87.5px,#0058ff 98.5px,#00abff 115.5px,#00f0ff 131.5px,#00f2ff 136.5px,#00faff 137.5px,#00fff7 141.5px,#00ffe2 145.5px,#00ffb0 149.5px,#00ff2a 157.5px,#01ff00 160.5px,#61ff00 167.5px,#f2ff00 176.5px,#fff900 178.5px,#ffce00 181.5px,#ff8300 183.5px,#ff1d00 185.5px,#ff0016 186.5px,#ff0071 188.5px,#ff00bd 190.5px,#ff00f1 192.5px,#f0f 194.5px,#f0f 199.5px)"></i>
<i style="left:410px;background:linear-gradient(#0046ff 0.5px,#0046ff 3.5px,#02f 7.5px,#0020ff 9.5px,#0053ff 17.5px,#0096ff 24.5px,#00adff 28.5px,#0078ff 44.5px,#008eff 51.5px,#008bff 61.5px,#007aff 62.5px,#005aff 63.5px,#0024ff 64.5px,#00f 65.5px,#00f 80.5px,#02f 90.5px,#0067ff 101.5px,#00bdff 119.5px,#00f0ff 131.5px,#00f2ff 136.5px,#00faff 137.5px,#00ffe6 145.5px,#00ffad 150.5px,#00ff1f 159.5px,#00ff04 161.5px,#0aff00 162.5px,#4fff00 167.5px,#eaff00 176.5px,#fffe00 178.5px,#fff400 179.5px,#ffd500 181.5px,#ffba00 182.5px,#ff9100 183.5px,#ff0007 186.5px,#ff0064 188.5px,#ff00b4 190.5px,#ff00eb 192.5px,#f0f 194.5px,#f0f 199.5px)"></i>
<i style="left:412px;background:linear-gradient(#0005ff 0.5px,#0007ff 7.5px,#002eff 11.5px,#005cff 18.5px,#00a0ff 25.5px,#00b0ff 28.5px,#009fff 32.5px,#009bff 36.5px,#0075ff 44.5px,#008aff 51.5px,#0087ff 61.5px,#0076ff 62.5px,#0057ff 63.5px,#02f 64.5px,#00f 65.5px,#0001ff 102.5px,#00f2ff 132.5px,#00f2ff 137.5px,#00fffa 138.5px,#00fff5 141.5px,#0fd 145.5px,#00ffb7 148.5px,#00ff28 156.5px,#04ff00 159.5px,#7fff00 168.5px,#edff00 175.5px,#fffe00 177.5px,#fff500 178.5px,#ffc400 181.5px,#ff7400 183.5px,#ff0e00 185.5px,#ff0024 186.5px,#ff007c 188.5px,#ff00c5 190.5px,#ff00f4 192.5px,#f0f 194.5px,#f0f 199.5px)"></i>
<i style="left:414px;background:linear-gradient(#00f 0.5px,#0005ff 7.5px,#0024ff 10.5px,#0058ff 18.5px,#00a7ff 27.5px,#0095ff 33.5px,#0092ff 41.5px,#0bf 51.5px,#00b7ff 61.5px,#00a1ff 62.5px,#07f 63.5px,#002fff 64.5px,#00f 65.5px,#0009ff 86.5px,#005bff 105.5px,#00f2ff 132.5px,#00f2ff 137.5px,#00fffa 138.5px,#00fff5 141.5px,#00ffde 145.5px,#00ffb8 148.5px,#00ff2b 156.5px,#01ff00 159.5px,#6dff00 167.5px,#ebff00 175.5px,#fffe00 177.5px,#fff600 178.5px,#ffc700 181.5px,#ff7800 183.5px,#f10 185.5px,#ff0021 186.5px,#ff007a 188.5px,#ff00c4 190.5px,#ff00f4 192.5px,#f0f 194.5px,#f0f 199.5px)"></i>
<i style="left:416px;background:linear-gradient(#02f 0.5px,#02f 3.5px,#0014ff 6.5px,#001cff 9.5px,#004eff 17.5px,#008dff 24.5px,#00a3ff 28.5px,#007aff 44.5px,#0091ff 51.5px,#008eff 61.5px,#007dff 62.5px,#005cff 63.5px,#0024ff 64.5px,#00f 65.5px,#0007ff 91.5px,#001eff 100.5px,#04f 109.5px,#0091ff 121.5px,#00f2ff 132.5px,#00f2ff 137.5px,#00fffb 138.5px,#00fff7 141.5px,#00ffe3 145.5px,#00ffb3 149.5px,#00ff1e 158.5px,#00ff03 160.5px,#0bff00 161.5px,#5dff00 167.5px,#f1ff00 176.5px,#fffa00 178.5px,#ffd000 181.5px,#ff8700 183.5px,#ff2000 185.5px,#ff0013 186.5px,#ff006f 188.5px,#ff00bc 190.5px,#ff00f0 192.5px,#f0f 194.5px,#f0f 199.5px)"></i>
<i style="left:418px;background:linear-gradient(#02f 0.5px,#02f 3.5px,#0013ff 7.5px,#001bff 9.5px,#004cff 17.5px,#0092ff 25.5px,#00a1ff 28.5px,#008eff 33.5px,#007dff 44.5px,#0095ff 50.5px,#0093ff 61.5px,#0081ff 62.5px,#005fff 63.5px,#0026ff 64.5px,#00f 65.5px,#0006ff 94.5px,#001cff 103.5px,#0040ff 111.5px,#008eff 122.5px,#00f2ff 132.5px,#00f2ff 137.5px,#00fffb 138.5px,#00fff6 141.5px,#00ffdf 145.5px,#00ffac 149.5px,#00ff20 157.5px,#00ff04 159.5px,#0aff00 160.5px,#68ff00 167.5px,#e8ff00 175.5px,#feff00 177.5px,#fff700 178.5px,#ffcb00 181.5px,#ff7d00 183.5px,#ff1600 185.5px,#ff001d 186.5px,#ff0076 188.5px,#ff00c2 190.5px,#ff00f3 192.5px,#f0f 194.5px,#f0f 199.5px)"></i>
<i style="left:420px;background:linear-gradient(#00f 0.5px,#0005ff 7.5px,#002aff 11.5px,#0053ff 18.5px,#009fff 27.5px,#008eff 33.5px,#008cff 38.5px,#0096ff 42.5px,#00bcff 48.5px,#00c5ff 51.5px,#00c0ff 61.5px,#00a9ff 62.5px,#007dff 63.5px,#0031ff 64.5px,#00f 65.5px,#0004ff 88.5px,#001fff 97.5px,#0053ff 108.5px,#009cff 120.5px,#00f2ff 132.5px,#00f2ff 137.5px,#00fffa 138.5px,#00fff5 141.5px,#00ffdc 145.5px,#00ffb6 148.5px,#00ff25 156.5px,#07ff00 159.5px,#82ff00 168.5px,#efff00 175.5px,#fff400 178.5px,#ffc200 181.5px,#ff7100 183.5px,#ff0b00 185.5px,#ff0026 186.5px,#ff00a4 189.5px,#ff00c6 190.5px,#ff00f5 192.5px,#f0f 194.5px,#f0f 199.5px)"></i>
<i style="left:422px;background:linear-gradient(#00f 0.5px,#0005ff 7.5px,#0028ff 11.5px,#0051ff 18.5px,#009bff 27.5px,#008aff 33.5px,#008bff 38.5px,#009eff 42.5px,#00cfff 48.5px,#00d8ff 51.5px,#00d2ff 61.5px,#00b9ff 62.5px,#0089ff 63.5px,#0036ff 64.5px,#00f 65.5px,#0004ff 90.5px,#0018ff 96.5px,#0050ff 107.5px,#00f2ff 132.5px,#00f2ff 137.5px,#00fffb 138.5px,#00fff8 141.5px,#00ffe5 145.5px,#00ffb7 149.5px,#00ff26 158.5px,#03ff00 161.5px,#56ff00 167.5px,#edff00 176.5px,#fffc00 178.5px,#ffd200 181.5px,#ff8c00 183.5px,#ff2700 185.5px,#ff000d 186.5px,#ff0069 188.5px,#ff00b8 190.5px,#f0e 192.5px,#f0f 194.5px,#f0f 199.5px)"></i>
<i style="left:424px;background:linear-gradient(#00f 0.5px,#0005ff 7.5px,#0027ff 11.5px,#004eff 18.5px,#0097ff 27.5px,#0086ff 33.5px,#008aff 37.5px,#00a7ff 41.5px,#00f1ff 47.5px,#00fffd 50.5px,#00fdff 61.5px,#00dfff 62.5px,#00a4ff 63.5px,#0041ff 64.5px,#00f 65.5px,#00f 81.5px,#000eff 87.5px,#0061ff 105.5px,#00f2ff 132.5px,#00f2ff 137.5px,#00fffa 138.5px,#00ffe5 144.5px,#00ffb1 148.5px,#00ff0c 157.5px,#02ff00 158.5px,#fcff00 176.5px,#fff100 178.5px,#ffd300 180.5px,#ffb900 181.5px,#ff6700 183.5px,#ff0200 185.5px,#f0a 189.5px,#ff00e4 191.5px,#ff00fe 193.5px,#f0f 199.5px)"></i>
<i style="left:426px;background:linear-gradient(#00f 0.5px,#0005ff 7.5px,#0028ff 11.5px,#0050ff 18.5px,#09f 27.5px,#08f 33.5px,#0091ff 38.5px,#00a8ff 41.5px,#00f0ff 47.5px,#00fffe 50.5px,#00fcff 61.5px,#00deff 62.5px,#00a4ff 63.5px,#0041ff 64.5px,#00f 65.5px,#0006ff 82.5px,#0050ff 96.5px,#00b4ff 118.5px,#00f0ff 132.5px,#00f2ff 137.5px,#00fbff 138.5px,#00ffea 143.5px,#00ffd6 145.5px,#00ffac 148.5px,#00ff24 155.5px,#00ff04 157.5px,#ebff00 174.5px,#feff00 176.5px,#fe0 178.5px,#ffd000 180.5px,#ff8c00 182.5px,#ff0005 185.5px,#ff0060 187.5px,#ff00af 189.5px,#ff00e7 191.5px,#f0f 193.5px,#f0f 199.5px)"></i>
<i style="left:428px;background:linear-gradient(#00f 0.5px,#0005ff 7.5px,#0029ff 11.5px,#0052ff 18.5px,#009eff 27.5px,#008dff 33.5px,#0093ff 38.5px,#00afff 42.5px,#00e7ff 47.5px,#00f9ff 51.5px,#00f2ff 61.5px,#00d5ff 62.5px,#009dff 63.5px,#003eff 64.5px,#00f 65.5px,#0006ff 77.5px,#0064ff 101.5px,#00f2ff 133.5px,#00f2ff 138.5px,#00fff9 139.5px,#00ffea 143.5px,#00ffd8 145.5px,#00ffaf 148.5px,#00ff2a 155.5px,#05ff00 158.5px,#e7ff00 174.5px,#fff900 177.5px,#ffd200 180.5px,#ffb700 181.5px,#ff6500 183.5px,#f00 185.5px,#ff0085 188.5px,#ff00cb 190.5px,#ff00e5 191.5px,#ff00fe 193.5px,#f0f 199.5px)"></i>
<i style="left:430px;background:linear-gradient(#00f 0.5px,#0005ff 7.5px,#002eff 11.5px,#05f 17.5px,#00aeff 27.5px,#009dff 33.5px,#00a0ff 38.5px,#00b3ff 42.5px,#00e9ff 48.5px,#00f4ff 51.5px,#0ef 61.5px,#00d1ff 62.5px,#009aff 63.5px,#003dff 64.5px,#00f 65.5px,#00f 71.5px,#000cff 78.5px,#0038ff 91.5px,#0087ff 110.5px,#00f0ff 132.5px,#00f2ff 137.5px,#00fbff 138.5px,#00ffe3 144.5px,#00ffac 148.5px,#00ff24 155.5px,#00ff05 157.5px,#0aff00 158.5px,#ebff00 174.5px,#fff800 177.5px,#ffd000 180.5px,#ffb200 181.5px,#ff8d00 182.5px,#ff0005 185.5px,#ff0060 187.5px,#ff00af 189.5px,#ff00e7 191.5px,#f0f 193.5px,#f0f 199.5px)"></i>
<i style="left:432px;background:linear-gradient(#00f 0.5px,#0005ff 7.5px,#002eff 11.5px,#0054ff 17.5px,#00adff 27.5px,#009cff 33.5px,#09f 41.5px,#00c4ff 51.5px,#00bfff 61.5px,#00a8ff 62.5px,#007cff 63.5px,#0031ff 64.5px,#00f 65.5px,#0004ff 75.5px,#0046ff 96.5px,#0090ff 113.5px,#00f0ff 132.5px,#00f2ff 137.5px,#00fbff 138.5px,#00ffe0 145.5px,#00ffad 149.5px,#00ff14 158.5px,#00ff06 159.5px,#15ff00 161.5px,#67ff00 167.5px,#e7ff00 175.5px,#feff00 177.5px,#fff800 178.5px,#ffcb00 181.5px,#ff7e00 183.5px,#ff1700 185.5px,#ff001c 186.5px,#ff0075 188.5px,#ff00c1 190.5px,#ff00f3 192.5px,#f0f 194.5px,#f0f 199.5px)"></i>
<i style="left:434px;background:linear-gradient(#00f 0.5px,#0005ff 7.5px,#0024ff 10.5px,#0057ff 18.5px,#00a6ff 27.5px,#0094ff 33.5px,#0094ff 38.5px,#00a2ff 42.5px,#00cfff 48.5px,#00d8ff 51.5px,#00d3ff 61.5px,#00baff 62.5px,#0089ff 63.5px,#0036ff 64.5px,#00f 65.5px,#000bff 78.5px,#0028ff 90.5px,#0059ff 103.5px,#09f 116.5px,#00efff 130.5px,#00fff8 141.5px,#00ffe7 145.5px,#0fb 149.5px,#00ff07 161.5px,#4dff00 167.5px,#f6ff00 177.5px,#fff500 179.5px,#ffd600 181.5px,#ffbc00 182.5px,#ff6500 184.5px,#ff0005 186.5px,#ff0062 188.5px,#ff00b2 190.5px,#ff00ea 192.5px,#f0f 194.5px,#f0f 199.5px)"></i>
<i style="left:436px;background:linear-gradient(#00f 0.5px,#0005ff 7.5px,#0029ff 11.5px,#0052ff 18.5px,#009cff 27.5px,#008bff 33.5px,#0091ff 38.5px,#00adff 42.5px,#00e3ff 47.5px,#00f4ff 51.5px,#0ef 61.5px,#00d2ff 62.5px,#009bff 63.5px,#003dff 64.5px,#00f 65.5px,#00f 68.5px,#0059ff 95.5px,#00f2ff 130.5px,#00fff8 141.5px,#00ffe5 145.5px,#00ffb8 149.5px,#0f0 161.5px,#53ff00 167.5px,#f8ff00 177.5px,#fff300 179.5px,#ffd300 181.5px,#ff8e00 183.5px,#ff2a00 185.5px,#ff000a 186.5px,#ff0067 188.5px,#ff00b6 190.5px,#ff00ec 192.5px,#f0f 194.5px,#f0f 199.5px)"></i>
<i style="left:438px;background:linear-gradient(#00f 0.5px,#0005ff 7.5px,#0028ff 11.5px,#0051ff 18.5px,#009bff 27.5px,#008aff 33.5px,#008aff 38.5px,#009aff 42.5px,#00c7ff 48.5px,#00d0ff 51.5px,#00cbff 61.5px,#00b3ff 62.5px,#0084ff 63.5px,#0034ff 64.5px,#00f 65.5px,#0001ff 74.5px,#0016ff 80.5px,#0063ff 93.5px,#0af 110.5px,#00f2ff 130.5px,#00f2ff 135.5px,#00fffc 136.5px,#00fff9 140.5px,#00ffe4 145.5px,#00ffb4 149.5px,#00ff21 158.5px,#09ff00 161.5px,#5bff00 167.5px,#f0ff00 176.5px,#fffb00 178.5px,#ffd100 181.5px,#f80 183.5px,#ff2300 185.5px,#f01 186.5px,#ff006d 188.5px,#f0b 190.5px,#ff00ef 192.5px,#f0f 194.5px,#f0f 199.5px)"></i>
<i style="left:440px;background:linear-gradient(#00f 0.5px,#0005ff 7.5px,#002dff 11.5px,#0059ff 18.5px,#00a9ff 27.5px,#0097ff 33.5px,#0098ff 38.5px,#00a8ff 42.5px,#00d8ff 48.5px,#00e1ff 51.5px,#00dcff 61.5px,#00c1ff 62.5px,#008fff 63.5px,#0038ff 64.5px,#00f 65.5px,#00f 88.5px,#0018ff 93.5px,#0082ff 109.5px,#00f2ff 130.5px,#00fff8 141.5px,#00ffe6 145.5px,#00ffba 149.5px,#00ff04 161.5px,#4fff00 167.5px,#f7ff00 177.5px,#fff400 179.5px,#ffd500 181.5px,#ffba00 182.5px,#ff9100 183.5px,#ff0007 186.5px,#ff0064 188.5px,#ff00b4 190.5px,#ff00eb 192.5px,#f0f 194.5px,#f0f 199.5px)"></i>
<i style="left:442px;background:linear-gradient(#00f 0.5px,#0006ff 7.5px,#002fff 11.5px,#0056ff 17.5px,#00b1ff 27.5px,#00a0ff 33.5px,#00a0ff 41.5px,#00d0ff 51.5px,#00cbff 61.5px,#00b3ff 62.5px,#0084ff 63.5px,#0034ff 64.5px,#00f 65.5px,#00f 86.5px,#0017ff 93.5px,#00f2ff 130.5px,#00fff8 141.5px,#00ffe5 145.5px,#00ffb8 149.5px,#0f0 161.5px,#52ff00 167.5px,#f8ff00 177.5px,#fff300 179.5px,#ffd400 181.5px,#ff8f00 183.5px,#ff2a00 185.5px,#ff000a 186.5px,#ff0067 188.5px,#ff00b5 190.5px,#ff00ec 192.5px,#f0f 194.5px,#f0f 199.5px)"></i>
<i style="left:444px;background:linear-gradient(#00f 0.5px,#0006ff 7.5px,#002fff 11.5px,#0056ff 17.5px,#00b1ff 27.5px,#00a0ff 33.5px,#009aff 41.5px,#00a0ff 44.5px,#00baff 48.5px,#00c2ff 51.5px,#00bdff 61.5px,#00a6ff 62.5px,#007bff 63.5px,#0030ff 64.5px,#00f 65.5px,#00f 71.5px,#0010ff 78.5px,#00f2ff 131.5px,#00f2ff 136.5px,#00fffc 137.5px,#00fff9 140.5px,#00ffe3 145.5px,#00ffc0 148.5px,#00ff06 160.5px,#59ff00 167.5px,#faff00 177.5px,#fff100 179.5px,#ffd100 181.5px,#ff8900 183.5px,#ff2400 185.5px,#ff0010 186.5px,#ff006c 188.5px,#ff00ba 190.5px,#f0e 192.5px,#f0f 194.5px,#f0f 199.5px)"></i>
<i style="left:446px;background:linear-gradient(#00f 0.5px,#0005ff 7.5px,#0024ff 10.5px,#0057ff 18.5px,#00a5ff 27.5px,#0094ff 33.5px,#0098ff 38.5px,#00aeff 42.5px,#00e6ff 48.5px,#00f0ff 51.5px,#00eaff 61.5px,#00ceff 62.5px,#0098ff 63.5px,#003cff 64.5px,#00f 65.5px,#00f 68.5px,#000dff 76.5px,#0032ff 88.5px,#0084ff 108.5px,#00efff 130.5px,#00fff9 140.5px,#00ffe3 145.5px,#00ffc0 148.5px,#00ff06 160.5px,#5aff00 167.5px,#faff00 177.5px,#fff000 179.5px,#ffd100 181.5px,#ff8900 183.5px,#ff2300 185.5px,#f01 186.5px,#ff006c 188.5px,#ff00ba 190.5px,#f0e 192.5px,#f0f 194.5px,#f0f 199.5px)"></i>
<i style="left:448px;background:linear-gradient(#00f 0.5px,#0005ff 7.5px,#0029ff 11.5px,#0052ff 18.5px,#009dff 27.5px,#008cff 33.5px,#0092ff 38.5px,#00b0ff 42.5px,#00e8ff 47.5px,#00f9ff 51.5px,#00f3ff 61.5px,#00d6ff 62.5px,#009eff 63.5px,#003eff 64.5px,#00f 65.5px,#00f 72.5px,#01f 80.5px,#0048ff 95.5px,#00f2ff 131.5px,#00f2ff 136.5px,#00fffb 137.5px,#00fff9 140.5px,#00ffe7 144.5px,#00ffb7 148.5px,#00ff0a 158.5px,#05ff00 159.5px,#54ff00 165.5px,#f8ff00 176.5px,#fff500 178.5px,#ffc400 181.5px,#ff7400 183.5px,#ff0d00 185.5px,#ff0024 186.5px,#ff007c 188.5px,#ff00c5 190.5px,#ff00f4 192.5px,#f0f 194.5px,#f0f 199.5px)"></i>
<i style="left:450px;background:linear-gradient(#00f 0.5px,#0005ff 7.5px,#0027ff 11.5px,#004fff 18.5px,#0098ff 27.5px,#0087ff 33.5px,#008cff 38.5px,#00a6ff 42.5px,#00d9ff 47.5px,#00e9ff 51.5px,#00e4ff 61.5px,#00c8ff 62.5px,#0094ff 63.5px,#003aff 64.5px,#00f 65.5px,#00f 87.5px,#0028ff 100.5px,#00f2ff 130.5px,#00f2ff 135.5px,#00fffc 136.5px,#00fff9 140.5px,#00ffe3 145.5px,#00ffb3 149.5px,#00ff02 160.5px,#4eff00 166.5px,#f2ff00 176.5px,#fbff00 177.5px,#fff000 179.5px,#ffd000 181.5px,#ff8600 183.5px,#ff2000 185.5px,#ff0014 186.5px,#ff006f 188.5px,#ff00bd 190.5px,#ff00f1 192.5px,#f0f 194.5px,#f0f 199.5px)"></i>
<i style="left:452px;background:linear-gradient(#00f 0.5px,#0005ff 7.5px,#0029ff 11.5px,#0052ff 18.5px,#009eff 27.5px,#008dff 33.5px,#008cff 38.5px,#009aff 42.5px,#00c5ff 48.5px,#00ceff 51.5px,#00c9ff 61.5px,#00b1ff 62.5px,#0082ff 63.5px,#03f 64.5px,#00f 65.5px,#00f 85.5px,#02f 98.5px,#00efff 129.5px,#00f2ff 134.5px,#00fffd 136.5px,#00fff9 141.5px,#00ffe7 145.5px,#00ffb2 150.5px,#02ff00 162.5px,#58ff00 168.5px,#f5ff00 177.5px,#fff600 179.5px,#ffc000 182.5px,#ff6a00 184.5px,#f00 186.5px,#ff005f 188.5px,#ff00af 190.5px,#ff00e8 192.5px,#f0f 194.5px,#f0f 199.5px)"></i>
<i style="left:454px;background:linear-gradient(#00f 0.5px,#0005ff 7.5px,#0023ff 10.5px,#0056ff 18.5px,#00a4ff 27.5px,#0093ff 33.5px,#0094ff 38.5px,#00a4ff 42.5px,#00d4ff 48.5px,#0df 51.5px,#00d7ff 61.5px,#00beff 62.5px,#008cff 63.5px,#0037ff 64.5px,#00f 65.5px,#0003ff 79.5px,#0053ff 99.5px,#00efff 128.5px,#00f2ff 133.5px,#00fffd 135.5px,#00fff9 140.5px,#00ffe7 144.5px,#00ffb7 148.5px,#00ff28 156.5px,#04ff00 159.5px,#7fff00 168.5px,#edff00 175.5px,#fffe00 177.5px,#fff500 178.5px,#ffc400 181.5px,#ff7500 183.5px,#ff0e00 185.5px,#ff0024 186.5px,#ff007c 188.5px,#ff00c5 190.5px,#ff00f4 192.5px,#f0f 194.5px,#f0f 199.5px)"></i>
<i style="left:456px;background:linear-gradient(#00f 0.5px,#0005ff 7.5px,#0028ff 11.5px,#0050ff 18.5px,#09f 27.5px,#08f 33.5px,#08f 38.5px,#0097ff 42.5px,#00c3ff 48.5px,#00ceff 56.5px,#00c7ff 61.5px,#00afff 62.5px,#0081ff 63.5px,#03f 64.5px,#00f 65.5px,#0002ff 85.5px,#0058ff 102.5px,#00efff 128.5px,#00f2ff 133.5px,#00fffd 135.5px,#00fff9 140.5px,#00ffe7 144.5px,#00ffb7 148.5px,#00ff28 156.5px,#04ff00 159.5px,#7fff00 168.5px,#edff00 175.5px,#fffe00 177.5px,#fff500 178.5px,#ffc500 181.5px,#ff7500 183.5px,#ff0e00 185.5px,#ff0023 186.5px,#ff007b 188.5px,#ff00c5 190.5px,#ff00f4 192.5px,#f0f 194.5px,#f0f 199.5px)"></i>
<i style="left:458px;background:linear-gradient(#00f 0.5px,#0004ff 7.5px,#0026ff 11.5px,#004cff 18.5px,#0093ff 27.5px,#0083ff 33.5px,#0085ff 38.5px,#09f 42.5px,#0cf 48.5px,#00dcff 56.5px,#00d1ff 61.5px,#00b7ff 62.5px,#0087ff 63.5px,#0035ff 64.5px,#00f 65.5px,#0001ff 88.5px,#000fff 93.5px,#002bff 98.5px,#00efff 128.5px,#00f2ff 133.5px,#00fffd 135.5px,#00fff8 141.5px,#00ffe5 145.5px,#00ffb7 149.5px,#01ff00 161.5px,#54ff00 167.5px,#f8ff00 177.5px,#fff200 179.5px,#ffd300 181.5px,#ff8e00 183.5px,#ff2900 185.5px,#ff000b 186.5px,#ff0067 188.5px,#ff00b6 190.5px,#ff00ed 192.5px,#f0f 194.5px,#f0f 199.5px)"></i>
<i style="left:460px;background:linear-gradient(#00f 0.5px,#0005ff 7.5px,#0027ff 11.5px,#004eff 18.5px,#0097ff 27.5px,#0086ff 33.5px,#008dff 38.5px,#00a0ff 41.5px,#00e8ff 48.5px,#0ff 56.5px,#0ef 61.5px,#00d0ff 62.5px,#09f 63.5px,#003cff 64.5px,#00f 65.5px,#0001ff 90.5px,#0034ff 100.5px,#00f2ff 129.5px,#00f2ff 134.5px,#00fffd 135.5px,#00fff8 141.5px,#00ffe5 145.5px,#00ffb8 149.5px,#00ff01 161.5px,#52ff00 167.5px,#f8ff00 177.5px,#fff300 179.5px,#ffd400 181.5px,#ff8f00 183.5px,#ff2b00 185.5px,#ff000a 186.5px,#f06 188.5px,#ff00b5 190.5px,#ff00eb 192.5px,#f0f 194.5px,#f0f 199.5px)"></i>
<i style="left:462px;background:linear-gradient(#00f 0.5px,#0004ff 7.5px,#0026ff 11.5px,#004cff 18.5px,#0093ff 27.5px,#0082ff 33.5px,#0087ff 38.5px,#00a0ff 42.5px,#00d1ff 47.5px,#00fffd 55.5px,#00fcff 58.5px,#00e2ff 61.5px,#00c4ff 62.5px,#008fff 63.5px,#0038ff 64.5px,#00f 65.5px,#00f 90.5px,#0012ff 94.5px,#004bff 101.5px,#0087ff 110.5px,#00f2ff 129.5px,#00fff9 140.5px,#00ffe7 144.5px,#00ffb8 148.5px,#00ff2b 156.5px,#01ff00 159.5px,#51ff00 165.5px,#f7ff00 176.5px,#fff600 178.5px,#ffc700 181.5px,#f70 183.5px,#f10 185.5px,#ff0021 186.5px,#ff0079 188.5px,#ff00c2 190.5px,#ff00f2 192.5px,#f0f 194.5px,#f0f 199.5px)"></i>
<i style="left:464px;background:linear-gradient(#00f 0.5px,#0005ff 7.5px,#0027ff 11.5px,#004eff 18.5px,#0095ff 27.5px,#0085ff 33.5px,#0089ff 37.5px,#00a8ff 41.5px,#00f4ff 47.5px,#00fffd 49.5px,#00ffe0 56.5px,#00fff9 61.5px,#00e3ff 62.5px,#00a7ff 63.5px,#0042ff 64.5px,#00f 65.5px,#00f 100.5px,#005bff 113.5px,#00ecff 129.5px,#00f2ff 134.5px,#00fffc 136.5px,#00fff9 140.5px,#00ffe4 145.5px,#00ffb5 149.5px,#00ff06 160.5px,#4bff00 166.5px,#faff00 177.5px,#fff100 179.5px,#ffd100 181.5px,#ff8900 183.5px,#ff2300 185.5px,#f01 186.5px,#ff006c 188.5px,#ff00b7 190.5px,#ff00ec 192.5px,#ff00fe 194.5px,#f0f 199.5px)"></i>
<i style="left:466px;background:linear-gradient(#00f 0.5px,#0005ff 7.5px,#0029ff 11.5px,#0052ff 18.5px,#009dff 27.5px,#008cff 33.5px,#0095ff 38.5px,#00acff 41.5px,#00f4ff 47.5px,#00fffe 49.5px,#00fff4 56.5px,#00fffd 61.5px,#00e2ff 62.5px,#00a6ff 63.5px,#0042ff 64.5px,#00f 65.5px,#0003ff 94.5px,#001eff 102.5px,#0050ff 111.5px,#008dff 119.5px,#00f2ff 130.5px,#00fff9 140.5px,#00ffe8 144.5px,#0fb 148.5px,#00ff06 159.5px,#4aff00 165.5px,#e7ff00 175.5px,#feff00 177.5px,#ffec00 179.5px,#ffcb00 181.5px,#ff7e00 183.5px,#ff1700 185.5px,#ff001c 186.5px,#ff0075 188.5px,#ff00bf 190.5px,#ff00f1 192.5px,#f0f 194.5px,#f0f 199.5px)"></i>
<i style="left:468px;background:linear-gradient(#00f 0.5px,#0005ff 7.5px,#0028ff 11.5px,#0050ff 18.5px,#009aff 27.5px,#0089ff 33.5px,#0093ff 38.5px,#0af 41.5px,#00f4ff 47.5px,#00fffe 49.5px,#00fff7 56.5px,#00fffe 61.5px,#00e1ff 62.5px,#00a6ff 63.5px,#0042ff 64.5px,#00f 65.5px,#00f 102.5px,#000cff 105.5px,#0065ff 113.5px,#00efff 129.5px,#00fff9 140.5px,#00ffe7 144.5px,#00ffb7 148.5px,#00ff29 156.5px,#03ff00 159.5px,#7fff00 168.5px,#ecff00 175.5px,#fffe00 177.5px,#fff500 178.5px,#ffc500 181.5px,#ff7500 183.5px,#ff0f00 185.5px,#ff0023 186.5px,#ff007b 188.5px,#ff00c5 190.5px,#ff00f4 192.5px,#f0f 194.5px,#f0f 199.5px)"></i>
<i style="left:470px;background:linear-gradient(#00f 0.5px,#0004ff 7.5px,#0026ff 11.5px,#004cff 18.5px,#0093ff 27.5px,#0082ff 33.5px,#0086ff 37.5px,#00a4ff 41.5px,#0ef 47.5px,#00feff 50.5px,#00f9ff 61.5px,#00dbff 62.5px,#00a2ff 63.5px,#0040ff 64.5px,#00f 65.5px,#00f 78.5px,#002dff 91.5px,#0073ff 101.5px,#00cbff 120.5px,#00f2ff 130.5px,#00f2ff 135.5px,#00fffc 136.5px,#00fff9 140.5px,#00ffe7 144.5px,#00ffb8 148.5px,#00ff2b 156.5px,#02ff00 159.5px,#6eff00 167.5px,#ebff00 175.5px,#fffe00 177.5px,#fff600 178.5px,#ffc500 181.5px,#f70 183.5px,#ff1000 185.5px,#f02 186.5px,#ff007a 188.5px,#ff00c4 190.5px,#ff00f4 192.5px,#f0f 194.5px,#f0f 199.5px)"></i>
<i style="left:472px;background:linear-gradient(#00f 0.5px,#0004ff 7.5px,#0025ff 11.5px,#004bff 18.5px,#0091ff 27.5px,#0080ff 33.5px,#0085ff 37.5px,#00a5ff 41.5px,#0df 45.5px,#0ff 49.5px,#00fff9 51.5px,#0ff 61.5px,#00e0ff 62.5px,#00a6ff 63.5px,#0041ff 64.5px,#00f 65.5px,#00f 76.5px,#0056ff 91.5px,#00a1ff 108.5px,#00f2ff 130.5px,#00f2ff 135.5px,#00fffc 136.5px,#00fff9 140.5px,#00ffe4 145.5px,#00ffb6 149.5px,#00ff26 158.5px,#04ff00 161.5px,#56ff00 167.5px,#ef0 176.5px,#fffc00 178.5px,#ffd200 181.5px,#ff8c00 183.5px,#ff2700 185.5px,#ff000d 186.5px,#ff006a 188.5px,#ff00b8 190.5px,#f0e 192.5px,#f0f 194.5px,#f0f 199.5px)"></i>
<i style="left:474px;background:linear-gradient(#00f 0.5px,#0004ff 7.5px,#0025ff 11.5px,#004aff 18.5px,#0090ff 27.5px,#0080ff 33.5px,#0086ff 38.5px,#09f 41.5px,#00d8ff 47.5px,#00e8ff 51.5px,#00e3ff 61.5px,#00c7ff 62.5px,#0093ff 63.5px,#003aff 64.5px,#00f 65.5px,#00f 84.5px,#0026ff 88.5px,#0048ff 93.5px,#009aff 109.5px,#00f0ff 130.5px,#00fff9 140.5px,#00ffe4 145.5px,#00ffb7 149.5px,#00ff0b 160.5px,#03ff00 161.5px,#47ff00 166.5px,#f9ff00 177.5px,#fff200 179.5px,#ffd300 181.5px,#ff8c00 183.5px,#ff2700 185.5px,#ff000d 186.5px,#ff0069 188.5px,#ff00b7 190.5px,#ff00ed 192.5px,#f0f 194.5px,#f0f 199.5px)"></i>
<i style="left:476px;background:linear-gradient(#00f 0.5px,#0004ff 7.5px,#0024ff 11.5px,#0048ff 18.5px,#008cff 27.5px,#007bff 33.5px,#0081ff 37.5px,#00a3ff 41.5px,#00f4ff 47.5px,#00fffe 49.5px,#00fff7 58.5px,#00fffe 61.5px,#00e1ff 62.5px,#00a6ff 63.5px,#0042ff 64.5px,#00f 65.5px,#00f 75.5px,#0019ff 82.5px,#0072ff 98.5px,#00c3ff 117.5px,#00f0ff 129.5px,#00fff9 140.5px,#00ffe5 145.5px,#00ffb6 149.5px,#00ff09 160.5px,#05ff00 161.5px,#48ff00 166.5px,#f9ff00 177.5px,#fff200 179.5px,#ffd200 181.5px,#ff8b00 183.5px,#ff2600 185.5px,#ff000e 186.5px,#ff006a 188.5px,#ff00b8 190.5px,#ff00ed 192.5px,#f0f 194.5px,#f0f 199.5px)"></i>
<i style="left:478px;background:linear-gradient(#00f 0.5px,#0004ff 7.5px,#02f 11.5px,#0045ff 18.5px,#0087ff 27.5px,#0076ff 33.5px,#007aff 37.5px,#0096ff 41.5px,#00dcff 47.5px,#00edff 51.5px,#00e7ff 61.5px,#00cbff 62.5px,#0096ff 63.5px,#003bff 64.5px,#00f 65.5px,#00f 70.5px,#004bff 83.5px,#0086ff 97.5px,#00e1ff 125.5px,#00faff 137.5px,#00fff5 141.5px,#00ffdb 145.5px,#00ffb5 148.5px,#00ff24 156.5px,#08ff00 159.5px,#75ff00 167.5px,#efff00 175.5px,#fff400 178.5px,#ffc000 181.5px,#ff7000 183.5px,#ff0a00 185.5px,#ff0027 186.5px,#ff00a5 189.5px,#ff00c7 190.5px,#ff00f5 192.5px,#f0f 194.5px,#f0f 199.5px)"></i>
<i style="left:480px;background:linear-gradient(#00f 0.5px,#0004ff 7.5px,#0021ff 11.5px,#0042ff 18.5px,#0083ff 27.5px,#0072ff 33.5px,#0076ff 37.5px,#0095ff 41.5px,#0df 47.5px,#0ef 51.5px,#00e8ff 61.5px,#0cf 62.5px,#0097ff 63.5px,#003cff 64.5px,#00f 65.5px,#00f 86.5px,#001eff 92.5px,#0060ff 100.5px,#0097ff 110.5px,#00f0ff 131.5px,#00f2ff 136.5px,#00faff 137.5px,#00fff7 141.5px,#00ffe2 145.5px,#00ffb0 149.5px,#00ff19 158.5px,#02ff00 160.5px,#10ff00 161.5px,#61ff00 167.5px,#f3ff00 176.5px,#fff900 178.5px,#ffce00 181.5px,#ff8300 183.5px,#ff1c00 185.5px,#ff0017 186.5px,#ff0072 188.5px,#ff00bf 190.5px,#ff00f2 192.5px,#f0f 194.5px,#f0f 199.5px)"></i>
<i style="left:482px;background:linear-gradient(#00f 0.5px,#0004ff 7.5px,#0021ff 11.5px,#0043ff 18.5px,#0083ff 27.5px,#0073ff 33.5px,#0079ff 37.5px,#009fff 41.5px,#00deff 45.5px,#00fffe 49.5px,#00fff7 58.5px,#00fffe 61.5px,#00e1ff 62.5px,#00a6ff 63.5px,#0042ff 64.5px,#00f 65.5px,#00f 84.5px,#0023ff 89.5px,#003dff 91.5px,#05f 94.5px,#008cff 104.5px,#00e0ff 126.5px,#00fbff 138.5px,#00ffdf 145.5px,#0fa 149.5px,#00ff1e 157.5px,#00ff02 159.5px,#1aff00 161.5px,#79ff00 168.5px,#e9ff00 175.5px,#ff0 177.5px,#fff700 178.5px,#ffca00 181.5px,#ff7b00 183.5px,#ff1400 185.5px,#ff001f 186.5px,#ff0078 188.5px,#ff00c3 190.5px,#ff00f3 192.5px,#f0f 194.5px,#f0f 199.5px)"></i>
<i style="left:484px;background:linear-gradient(#00f 0.5px,#0004ff 7.5px,#02f 11.5px,#0045ff 18.5px,#0087ff 27.5px,#07f 33.5px,#007dff 37.5px,#00a1ff 41.5px,#00f4ff 47.5px,#00fffe 49.5px,#00fff7 58.5px,#00fffe 61.5px,#00e1ff 62.5px,#00a6ff 63.5px,#0042ff 64.5px,#00f 65.5px,#00f 85.5px,#0049ff 93.5px,#0089ff 105.5px,#00f2ff 133.5px,#00f2ff 138.5px,#00fffa 139.5px,#00ffe1 145.5px,#00ffae 149.5px,#00ff0a 159.5px,#03ff00 160.5px,#54ff00 166.5px,#e5ff00 175.5px,#fdff00 177.5px,#ffed00 179.5px,#ffcb00 181.5px,#ff8100 183.5px,#ff1b00 185.5px,#ff0018 186.5px,#ff0097 189.5px,#f0b 190.5px,#ff00ed 192.5px,#ff00fe 194.5px,#f0f 199.5px)"></i>
<i style="left:486px;background:linear-gradient(#00f 0.5px,#0004ff 7.5px,#0026ff 11.5px,#004dff 18.5px,#0094ff 27.5px,#0083ff 33.5px,#08f 37.5px,#00a6ff 41.5px,#00f1ff 47.5px,#00fffd 50.5px,#00fdff 61.5px,#00dfff 62.5px,#00a4ff 63.5px,#0041ff 64.5px,#00f 65.5px,#0004ff 87.5px,#006fff 110.5px,#00f2ff 134.5px,#00f2ff 139.5px,#00fff9 140.5px,#00ffe6 145.5px,#00ffb9 149.5px,#00ff04 161.5px,#4fff00 167.5px,#f7ff00 177.5px,#fff400 179.5px,#ffd500 181.5px,#ffb900 182.5px,#ff9100 183.5px,#ff0007 186.5px,#ff0060 188.5px,#ff0081 189.5px,#ff00ec 193.5px,#ff00fe 195.5px,#f0f 199.5px)"></i>
<i style="left:488px;background:linear-gradient(#00f 0.5px,#0005ff 7.5px,#0027ff 11.5px,#004eff 18.5px,#0096ff 27.5px,#0085ff 33.5px,#008aff 37.5px,#00a8ff 41.5px,#00f4ff 47.5px,#00fffe 49.5px,#00fff7 58.5px,#00fffe 61.5px,#00e1ff 62.5px,#00a6ff 63.5px,#0042ff 64.5px,#00f 65.5px,#0006ff 83.5px,#0027ff 98.5px,#0075ff 115.5px,#00f2ff 132.5px,#00f2ff 137.5px,#00fffb 138.5px,#00fff9 141.5px,#00ffe0 146.5px,#00ffb5 150.5px,#00ff04 162.5px,#53ff00 168.5px,#e3ff00 176.5px,#fdff00 178.5px,#ffea00 180.5px,#ffc400 182.5px,#ff6e00 184.5px,#ff0400 186.5px,#ff0054 188.5px,#ff00a1 191.5px,#ff00e4 193.5px,#ff00f8 194.5px,#f0f 199.5px)"></i>
<i style="left:490px;background:linear-gradient(#00f 0.5px,#0004ff 7.5px,#0025ff 11.5px,#004aff 18.5px,#0090ff 27.5px,#007fff 33.5px,#0084ff 37.5px,#00a5ff 41.5px,#00f4ff 47.5px,#00fffe 49.5px,#00fff7 58.5px,#00fffe 61.5px,#00e1ff 62.5px,#00a6ff 63.5px,#0042ff 64.5px,#00f 65.5px,#000dff 77.5px,#0038ff 92.5px,#0085ff 111.5px,#00ecff 131.5px,#00fbff 138.5px,#00ffde 146.5px,#00ffb0 150.5px,#00ff0a 161.5px,#03ff00 162.5px,#4aff00 167.5px,#e7ff00 176.5px,#ff0 178.5px,#ffe800 180.5px,#ffbf00 182.5px,#ff6800 184.5px,#ff0001 186.5px,#ff0058 188.5px,#ff009e 191.5px,#ff00e2 193.5px,#ff00f7 194.5px,#f0f 199.5px)"></i>
<i style="left:492px;background:linear-gradient(#00f 0.5px,#0005ff 7.5px,#0027ff 11.5px,#004eff 18.5px,#0096ff 27.5px,#0085ff 33.5px,#008cff 38.5px,#00a2ff 41.5px,#00e5ff 47.5px,#00f7ff 51.5px,#00f1ff 61.5px,#00d4ff 62.5px,#009cff 63.5px,#003eff 64.5px,#00f 65.5px,#00f 70.5px,#0005ff 74.5px,#0036ff 87.5px,#00f2ff 131.5px,#00f2ff 136.5px,#00fffb 137.5px,#00fff9 140.5px,#00ffe3 145.5px,#00ffb3 149.5px,#00ff03 160.5px,#4dff00 166.5px,#fbff00 177.5px,#fff000 179.5px,#ffd000 181.5px,#ff8700 183.5px,#ff2100 185.5px,#ff0013 186.5px,#ff0067 188.5px,#ff00ab 191.5px,#ff00e7 193.5px,#ff00f8 194.5px,#ff00fd 195.5px,#f0f 199.5px)"></i>
<i style="left:494px;background:linear-gradient(#00f 0.5px,#0004ff 7.5px,#0025ff 11.5px,#004bff 18.5px,#0091ff 27.5px,#0081ff 33.5px,#0084ff 38.5px,#009bff 42.5px,#00c9ff 47.5px,#00d8ff 51.5px,#00d3ff 61.5px,#00b9ff 62.5px,#0089ff 63.5px,#0036ff 64.5px,#00f 65.5px,#00f 80.5px,#000cff 84.5px,#003bff 91.5px,#007aff 103.5px,#00ebff 128.5px,#00f3ff 130.5px,#00f3ff 135.5px,#00fffc 136.5px,#00fff9 140.5px,#00ffe2 145.5px,#00ffbe 148.5px,#01ff00 160.5px,#61ff00 167.5px,#e3ff00 175.5px,#fcff00 177.5px,#fe0 179.5px,#ffcd00 181.5px,#ff8300 183.5px,#ff1d00 185.5px,#ff0016 186.5px,#ff006d 188.5px,#ff008d 189.5px,#ff00ef 193.5px,#ff00fe 195.5px,#f0f 199.5px)"></i>
<i style="left:496px;background:linear-gradient(#00f 0.5px,#0004ff 7.5px,#02f 11.5px,#0045ff 18.5px,#0087ff 27.5px,#0076ff 33.5px,#007bff 37.5px,#009cff 41.5px,#00e9ff 47.5px,#00fbff 51.5px,#00f5ff 61.5px,#00d7ff 62.5px,#009fff 63.5px,#003fff 64.5px,#00f 65.5px,#00f 70.5px,#0013ff 77.5px,#0068ff 93.5px,#00ceff 119.5px,#00f5ff 130.5px,#00fff9 140.5px,#00ffe7 144.5px,#00ffb8 148.5px,#00ff2c 156.5px,#0f0 159.5px,#5eff00 166.5px,#f7ff00 176.5px,#fff600 178.5px,#ffc700 181.5px,#ff7800 183.5px,#f10 185.5px,#ff0021 186.5px,#ff0079 188.5px,#ff00c1 190.5px,#ff00f2 192.5px,#f0f 194.5px,#f0f 199.5px)"></i>
<i style="left:498px;background:linear-gradient(#00f 0.5px,#0004ff 7.5px,#0025ff 11.5px,#004aff 18.5px,#008fff 27.5px,#007eff 33.5px,#0082ff 37.5px,#009dff 41.5px,#00e2ff 47.5px,#00f3ff 51.5px,#00edff 61.5px,#00d1ff 62.5px,#009aff 63.5px,#003dff 64.5px,#00f 65.5px,#00f 73.5px,#001dff 83.5px,#06f 96.5px,#00d2ff 122.5px,#00f4ff 131.5px,#00f4ff 136.5px,#00fffc 137.5px,#00fff9 140.5px,#00ffe5 145.5px,#00ffb6 149.5px,#00ff25 158.5px,#04ff00 161.5px,#56ff00 167.5px,#ef0 176.5px,#fffc00 178.5px,#ffd200 181.5px,#ff8c00 183.5px,#ff2700 185.5px,#ff000d 186.5px,#ff006a 188.5px,#ff00b8 190.5px,#f0e 192.5px,#f0f 194.5px,#f0f 199.5px)"></i>
<i style="left:500px;background:linear-gradient(#00f 0.5px,#0004ff 7.5px,#0026ff 11.5px,#004dff 18.5px,#0094ff 27.5px,#0081ff 38.5px,#0089ff 42.5px,#00b1ff 50.5px,#00b3ff 56.5px,#00aeff 61.5px,#09f 62.5px,#0071ff 63.5px,#002dff 64.5px,#00f 65.5px,#00f 85.5px,#001aff 90.5px,#0060ff 99.5px,#00a3ff 112.5px,#00f3ff 131.5px,#00f3ff 136.5px,#00fffb 137.5px,#00fff9 140.5px,#00ffe1 145.5px,#00ffbc 148.5px,#00ff0a 159.5px,#04ff00 160.5px,#46ff00 165.5px,#e5ff00 175.5px,#fdff00 177.5px,#ffed00 179.5px,#ffce00 181.5px,#ff8200 183.5px,#ff1b00 185.5px,#ff0019 186.5px,#ff0096 189.5px,#ff00b9 190.5px,#ff00eb 192.5px,#ff00fe 194.5px,#f0f 199.5px)"></i>
<i style="left:502px;background:linear-gradient(#00f 0.5px,#0004ff 7.5px,#0027ff 11.5px,#004dff 18.5px,#0089ff 25.5px,#0097ff 28.5px,#0084ff 33.5px,#07f 42.5px,#0079ff 45.5px,#008fff 51.5px,#008bff 61.5px,#007bff 62.5px,#005aff 63.5px,#0024ff 64.5px,#00f 65.5px,#00f 72.5px,#0010ff 76.5px,#0056ff 87.5px,#0094ff 101.5px,#00f7ff 131.5px,#00fff9 140.5px,#00ffe5 145.5px,#00ffb6 149.5px,#00ff08 160.5px,#05ff00 161.5px,#49ff00 166.5px,#f9ff00 177.5px,#fff200 179.5px,#ffd200 181.5px,#ff8b00 183.5px,#ff2500 185.5px,#ff000f 186.5px,#ff008d 189.5px,#ff00e5 192.5px,#ff00fd 194.5px,#f0f 199.5px)"></i>
<i style="left:504px;background:linear-gradient(#00f 0.5px,#0005ff 7.5px,#0023ff 10.5px,#0057ff 18.5px,#00a5ff 27.5px,#0094ff 33.5px,#0091ff 38.5px,#0098ff 42.5px,#00c4ff 50.5px,#00c8ff 56.5px,#00c1ff 61.5px,#0af 62.5px,#007dff 63.5px,#0031ff 64.5px,#00f 65.5px,#00f 76.5px,#0070ff 98.5px,#00d1ff 121.5px,#00f4ff 130.5px,#00fff9 140.5px,#00ffe8 144.5px,#0fb 148.5px,#00ff06 159.5px,#4aff00 165.5px,#e7ff00 175.5px,#feff00 177.5px,#ffec00 179.5px,#fc0 181.5px,#ff7e00 183.5px,#ff1700 185.5px,#ff001c 186.5px,#ff0073 188.5px,#ff0095 189.5px,#ff00e7 192.5px,#ff00fd 194.5px,#f0f 199.5px)"></i>
<i style="left:506px;background:linear-gradient(#00f 0.5px,#0005ff 7.5px,#002fff 11.5px,#05f 17.5px,#00afff 27.5px,#009eff 33.5px,#00a0ff 38.5px,#00b3ff 42.5px,#00e9ff 48.5px,#00f5ff 51.5px,#00f9ff 57.5px,#0ef 61.5px,#00d1ff 62.5px,#009aff 63.5px,#003dff 64.5px,#00f 65.5px,#00f 72.5px,#0061ff 92.5px,#00baff 114.5px,#00f3ff 130.5px,#00fff9 140.5px,#00ffe5 145.5px,#00ffb6 149.5px,#00ff0a 160.5px,#04ff00 161.5px,#47ff00 166.5px,#f9ff00 177.5px,#fff200 179.5px,#ffd200 181.5px,#ff8c00 183.5px,#ff2700 185.5px,#ff000d 186.5px,#f06 188.5px,#ff0087 189.5px,#ff00ef 193.5px,#ff00fe 195.5px,#f0f 199.5px)"></i>
<i style="left:508px;background:linear-gradient(#00f 0.5px,#0005ff 7.5px,#002dff 11.5px,#0053ff 17.5px,#00abff 27.5px,#009aff 33.5px,#009eff 38.5px,#00b4ff 42.5px,#00edff 48.5px,#00f8ff 51.5px,#00faff 58.5px,#00f2ff 61.5px,#00d5ff 62.5px,#009dff 63.5px,#003eff 64.5px,#00f 65.5px,#00f 74.5px,#0019ff 81.5px,#007dff 100.5px,#00e7ff 126.5px,#00f6ff 130.5px,#00fff9 141.5px,#00ffe7 145.5px,#00ffb0 150.5px,#00ff09 161.5px,#05ff00 162.5px,#4bff00 167.5px,#f6ff00 177.5px,#fff500 179.5px,#ffd600 181.5px,#ffbd00 182.5px,#f60 184.5px,#ff0003 186.5px,#ff0086 189.5px,#ff00e2 192.5px,#ff00fe 194.5px,#f0f 199.5px)"></i>
<i style="left:510px;background:linear-gradient(#00f 0.5px,#0005ff 7.5px,#002dff 11.5px,#0053ff 17.5px,#00abff 27.5px,#009aff 33.5px,#00a0ff 38.5px,#00b2ff 41.5px,#00f2ff 47.5px,#00feff 49.5px,#00feff 61.5px,#00dfff 62.5px,#00a5ff 63.5px,#0041ff 64.5px,#00f 65.5px,#00f 81.5px,#0006ff 85.5px,#0026ff 92.5px,#00fbff 130.5px,#00fff9 140.5px,#00ffe4 145.5px,#00ffb4 149.5px,#00ff20 158.5px,#09ff00 161.5px,#5bff00 167.5px,#f0ff00 176.5px,#fffb00 178.5px,#ffd100 181.5px,#f80 183.5px,#f20 185.5px,#ff0012 186.5px,#ff006d 188.5px,#f0b 190.5px,#ff00f0 192.5px,#f0f 194.5px,#f0f 199.5px)"></i>
<i style="left:512px;background:linear-gradient(#00f 0.5px,#0005ff 7.5px,#002aff 11.5px,#05f 18.5px,#00a1ff 27.5px,#0090ff 33.5px,#0097ff 38.5px,#00b4ff 42.5px,#00edff 47.5px,#0ff 51.5px,#00f9ff 61.5px,#00dbff 62.5px,#00a1ff 63.5px,#0040ff 64.5px,#00f 65.5px,#00f 67.5px,#01f 75.5px,#002bff 82.5px,#0079ff 97.5px,#00fdff 129.5px,#00fff9 140.5px,#00ffe5 145.5px,#00ffb6 149.5px,#00ff25 158.5px,#04ff00 161.5px,#56ff00 167.5px,#ef0 176.5px,#fffc00 178.5px,#ffd200 181.5px,#ff8c00 183.5px,#ff2700 185.5px,#ff000d 186.5px,#ff006a 188.5px,#ff00b8 190.5px,#f0e 192.5px,#f0f 194.5px,#f0f 199.5px)"></i>
<i style="left:514px;background:linear-gradient(#00f 0.5px,#0005ff 7.5px,#0027ff 11.5px,#004fff 18.5px,#0098ff 27.5px,#0087ff 33.5px,#008cff 38.5px,#00a7ff 42.5px,#00daff 47.5px,#00ebff 51.5px,#00e5ff 61.5px,#00caff 62.5px,#0095ff 63.5px,#003bff 64.5px,#00f 65.5px,#00f 67.5px,#003fff 80.5px,#0096ff 94.5px,#00bcff 104.5px,#00f8ff 122.5px,#00fff9 140.5px,#00ffe3 145.5px,#00ffb2 149.5px,#00ff1d 158.5px,#00ff02 160.5px,#0cff00 161.5px,#5eff00 167.5px,#f2ff00 176.5px,#fffa00 178.5px,#ffd000 181.5px,#ff8600 183.5px,#ff2000 185.5px,#ff0014 186.5px,#ff006f 188.5px,#ff00bd 190.5px,#ff00f1 192.5px,#f0f 194.5px,#f0f 199.5px)"></i>
<i style="left:516px;background:linear-gradient(#00f 0.5px,#0005ff 7.5px,#002aff 11.5px,#0054ff 18.5px,#00a0ff 27.5px,#008fff 33.5px,#0093ff 38.5px,#0af 42.5px,#00e2ff 48.5px,#00ecff 51.5px,#00e6ff 61.5px,#00caff 62.5px,#0095ff 63.5px,#003bff 64.5px,#00f 65.5px,#00f 67.5px,#002eff 74.5px,#00a8ff 100.5px,#00f4ff 125.5px,#00fff9 140.5px,#00ffe4 145.5px,#00ffb5 149.5px,#0f2 158.5px,#07ff00 161.5px,#59ff00 167.5px,#efff00 176.5px,#fffb00 178.5px,#ffd100 181.5px,#ff8a00 183.5px,#ff2400 185.5px,#ff0010 186.5px,#ff006c 188.5px,#ff00ba 190.5px,#ff00ef 192.5px,#f0f 194.5px,#f0f 199.5px)"></i>
<i style="left:518px;background:linear-gradient(#00f 0.5px,#0005ff 7.5px,#002eff 11.5px,#0054ff 17.5px,#00aeff 27.5px,#009dff 33.5px,#00a1ff 38.5px,#00b7ff 42.5px,#00f1ff 48.5px,#00fcff 51.5px,#00f6ff 61.5px,#00d8ff 62.5px,#00a0ff 63.5px,#003fff 64.5px,#00f 65.5px,#00f 67.5px,#0024ff 71.5px,#0042ff 76.5px,#00aeff 100.5px,#0ff 130.5px,#00fff8 141.5px,#00ffe5 145.5px,#00ffb7 149.5px,#00ff0b 160.5px,#02ff00 161.5px,#46ff00 166.5px,#f9ff00 177.5px,#fff300 179.5px,#ffd300 181.5px,#ff8d00 183.5px,#ff2800 185.5px,#ff000c 186.5px,#ff008f 189.5px,#ff00b4 190.5px,#ff00ea 192.5px,#ff00fe 194.5px,#f0f 199.5px)"></i>
<i style="left:520px;background:linear-gradient(#00f 0.5px,#0006ff 7.5px,#0030ff 11.5px,#0057ff 17.5px,#00b3ff 27.5px,#00a1ff 33.5px,#00a5ff 38.5px,#00b5ff 41.5px,#00f0ff 47.5px,#00fffe 50.5px,#00fcff 61.5px,#00deff 62.5px,#00a3ff 63.5px,#0040ff 64.5px,#00f 65.5px,#00f 71.5px,#0036ff 79.5px,#009bff 101.5px,#00faff 131.5px,#00fdff 137.5px,#00fff7 141.5px,#00ffe2 145.5px,#00ffb1 149.5px,#00ff1a 158.5px,#01ff00 160.5px,#0fff00 161.5px,#61ff00 167.5px,#f3ff00 176.5px,#fff900 178.5px,#ffcf00 181.5px,#ff8400 183.5px,#ff1d00 185.5px,#ff0017 186.5px,#ff0071 188.5px,#ff00bf 190.5px,#ff00f2 192.5px,#f0f 194.5px,#f0f 199.5px)"></i>
<i style="left:522px;background:linear-gradient(#00f 0.5px,#0006ff 7.5px,#0030ff 11.5px,#0058ff 17.5px,#00b3ff 27.5px,#00a2ff 33.5px,#00a3ff 38.5px,#00b3ff 42.5px,#00e5ff 48.5px,#00f0ff 51.5px,#00f5ff 57.5px,#00eaff 61.5px,#00cdff 62.5px,#0097ff 63.5px,#003cff 64.5px,#00f 65.5px,#00f 67.5px,#003fff 79.5px,#008bff 99.5px,#00f2ff 131.5px,#00f2ff 136.5px,#00fffc 137.5px,#00fff9 140.5px,#00ffe5 145.5px,#00ffb6 149.5px,#00ff24 158.5px,#05ff00 161.5px,#57ff00 167.5px,#ef0 176.5px,#fffb00 178.5px,#ffd200 181.5px,#ff8b00 183.5px,#ff2600 185.5px,#ff000e 186.5px,#ff006a 188.5px,#ff00b9 190.5px,#f0e 192.5px,#f0f 194.5px,#f0f 199.5px)"></i>
<i style="left:524px;background:linear-gradient(#00f 0.5px,#0005ff 7.5px,#002dff 11.5px,#0053ff 17.5px,#00abff 27.5px,#009aff 33.5px,#009dff 38.5px,#00b2ff 42.5px,#00eaff 48.5px,#00f5ff 51.5px,#00f6ff 58.5px,#0ef 61.5px,#00d2ff 62.5px,#009bff 63.5px,#003dff 64.5px,#00f 65.5px,#00f 67.5px,#0025ff 72.5px,#05f 82.5px,#00a9ff 95.5px,#00bfff 100.5px,#00e9ff 114.5px,#00feff 129.5px,#0ff 137.5px,#00fff6 141.5px,#00ffe0 145.5px,#00ffad 149.5px,#00ff14 158.5px,#00ff06 159.5px,#15ff00 161.5px,#67ff00 167.5px,#f5ff00 176.5px,#fff800 178.5px,#ffcb00 181.5px,#ff7e00 183.5px,#ff1700 185.5px,#ff001c 186.5px,#ff0075 188.5px,#ff00c1 190.5px,#ff00f3 192.5px,#f0f 194.5px,#f0f 199.5px)"></i>
<i style="left:526px;background:linear-gradient(#00f 0.5px,#0005ff 7.5px,#0023ff 10.5px,#0056ff 18.5px,#00a3ff 27.5px,#0092ff 33.5px,#0094ff 38.5px,#00a7ff 42.5px,#00daff 48.5px,#00e3ff 51.5px,#00deff 61.5px,#00c3ff 62.5px,#0090ff 63.5px,#0039ff 64.5px,#00f 65.5px,#00f 67.5px,#0029ff 71.5px,#005cff 80.5px,#00eaff 94.5px,#0ff 102.5px,#00fff9 140.5px,#00ffe3 145.5px,#00ffbf 148.5px,#00ff04 160.5px,#5cff00 167.5px,#fbff00 177.5px,#fff000 179.5px,#ffd000 181.5px,#ff8700 183.5px,#ff2100 185.5px,#ff0012 186.5px,#ff0068 188.5px,#ff00e9 193.5px,#ff00fe 195.5px,#f0f 199.5px)"></i>
<i style="left:528px;background:linear-gradient(#00f 0.5px,#0006ff 7.5px,#0030ff 11.5px,#0058ff 17.5px,#00b5ff 27.5px,#00a4ff 33.5px,#00a4ff 38.5px,#00b4ff 42.5px,#00e6ff 48.5px,#00f0ff 51.5px,#00eaff 61.5px,#00ceff 62.5px,#0098ff 63.5px,#003cff 64.5px,#00f 65.5px,#00f 67.5px,#001fff 69.5px,#0031ff 71.5px,#0062ff 79.5px,#00f1ff 91.5px,#00feff 93.5px,#00fff9 140.5px,#00ffe5 145.5px,#00ffb6 149.5px,#00ff09 160.5px,#04ff00 161.5px,#48ff00 166.5px,#f9ff00 177.5px,#fff200 179.5px,#ffd200 181.5px,#ff8b00 183.5px,#ff2600 185.5px,#ff000d 186.5px,#ff0060 188.5px,#ff0093 191.5px,#f0d 193.5px,#ff00f5 194.5px,#f0f 199.5px)"></i>
<i style="left:530px;background:linear-gradient(#00f 0.5px,#0006ff 7.5px,#0034ff 11.5px,#005fff 17.5px,#00a1ff 23.5px,#00c1ff 27.5px,#00b0ff 33.5px,#00b1ff 38.5px,#00bfff 42.5px,#00f2ff 48.5px,#00fdff 51.5px,#00f6ff 61.5px,#00d9ff 62.5px,#00a0ff 63.5px,#003fff 64.5px,#00f 65.5px,#00f 67.5px,#001eff 69.5px,#0030ff 71.5px,#0061ff 80.5px,#00d7ff 94.5px,#00e6ff 97.5px,#0ff 115.5px,#0ff 138.5px,#00ffdf 145.5px,#00ffac 149.5px,#00ff05 159.5px,#4bff00 165.5px,#e8ff00 175.5px,#feff00 177.5px,#ffeb00 179.5px,#ffca00 181.5px,#ff7c00 183.5px,#ff1600 185.5px,#ff001c 186.5px,#ff0068 188.5px,#ff007e 191.5px,#ff00d3 193.5px,#ff00f1 194.5px,#ff00fc 195.5px,#f0f 199.5px)"></i>
<i style="left:532px;background:linear-gradient(#00f 0.5px,#0006ff 7.5px,#002fff 11.5px,#0056ff 17.5px,#00b1ff 27.5px,#00a0ff 33.5px,#00a5ff 38.5px,#00bcff 42.5px,#00f9ff 48.5px,#00fffd 50.5px,#00fdff 61.5px,#00dfff 62.5px,#00a4ff 63.5px,#0041ff 64.5px,#00f 65.5px,#00f 67.5px,#002cff 71.5px,#0064ff 82.5px,#00cbff 95.5px,#00daff 98.5px,#0ff 115.5px,#0ff 139.5px,#00ffe8 144.5px,#0fb 148.5px,#00ff06 159.5px,#58ff00 166.5px,#e7ff00 175.5px,#feff00 177.5px,#ffec00 179.5px,#ffca00 181.5px,#ff7e00 183.5px,#ff1700 185.5px,#ff001b 186.5px,#f06 188.5px,#ff007d 191.5px,#ff00d2 193.5px,#ff00f0 194.5px,#ff00fc 195.5px,#f0f 199.5px)"></i>
<i style="left:534px;background:linear-gradient(#00f 0.5px,#0006ff 7.5px,#0030ff 11.5px,#0058ff 17.5px,#00b4ff 27.5px,#00a3ff 33.5px,#00a1ff 38.5px,#0af 42.5px,#00dbff 50.5px,#00d8ff 61.5px,#00beff 62.5px,#008cff 63.5px,#0037ff 64.5px,#00f 65.5px,#00f 67.5px,#003aff 79.5px,#00d3ff 93.5px,#00dfff 95.5px,#0ff 105.5px,#0ff 139.5px,#00ffe8 145.5px,#00ffc0 149.5px,#00ff05 162.5px,#53ff00 168.5px,#e3ff00 176.5px,#fdff00 178.5px,#ffea00 180.5px,#ffc400 182.5px,#ff6f00 184.5px,#ff0500 186.5px,#ff0050 188.5px,#f08 191.5px,#ff00d9 193.5px,#ff00f4 194.5px,#ff00fd 195.5px,#f0f 199.5px)"></i>
<i style="left:536px;background:linear-gradient(#00f 0.5px,#0006ff 7.5px,#002fff 11.5px,#0056ff 17.5px,#00b1ff 27.5px,#00a0ff 33.5px,#0098ff 41.5px,#009cff 44.5px,#00bcff 50.5px,#00b9ff 61.5px,#00a3ff 62.5px,#0078ff 63.5px,#002fff 64.5px,#00f 65.5px,#00f 69.5px,#0020ff 78.5px,#00cfff 93.5px,#00fcff 105.5px,#00fffc 140.5px,#00ffe6 146.5px,#00ffb5 151.5px,#00ff0a 163.5px,#05ff00 164.5px,#43ff00 168.5px,#f9ff00 178.5px,#fff100 180.5px,#ffcf00 182.5px,#ff8000 184.5px,#ff1500 186.5px,#ff001c 187.5px,#ff0041 188.5px,#ff0074 191.5px,#ff00d1 193.5px,#ff00f0 194.5px,#ff00fc 195.5px,#f0f 199.5px)"></i>
<i style="left:538px;background:linear-gradient(#00f 0.5px,#0005ff 7.5px,#0027ff 11.5px,#004fff 18.5px,#0098ff 27.5px,#0087ff 33.5px,#008eff 38.5px,#00abff 42.5px,#00e2ff 47.5px,#00f3ff 51.5px,#00edff 61.5px,#00d1ff 62.5px,#009aff 63.5px,#003dff 64.5px,#00f 65.5px,#00f 69.5px,#003eff 81.5px,#00c1ff 95.5px,#00e1ff 103.5px,#0ff 116.5px,#00fff9 141.5px,#00ffe6 146.5px,#00ffb4 151.5px,#00ff09 163.5px,#06ff00 164.5px,#43ff00 168.5px,#f9ff00 178.5px,#fff100 180.5px,#ffcf00 182.5px,#ff8000 184.5px,#ff1500 186.5px,#ff001c 187.5px,#ff003e 188.5px,#ff005e 191.5px,#ff008b 192.5px,#ff00c7 193.5px,#ff00ed 194.5px,#ff00fb 195.5px,#f0f 199.5px)"></i>
<i style="left:540px;background:linear-gradient(#00f 0.5px,#0004ff 7.5px,#0026ff 11.5px,#004bff 18.5px,#0092ff 27.5px,#0081ff 33.5px,#0086ff 37.5px,#00a3ff 41.5px,#00edff 47.5px,#0ff 51.5px,#00f9ff 61.5px,#00dbff 62.5px,#00a1ff 63.5px,#0040ff 64.5px,#00f 65.5px,#00f 70.5px,#0004ff 73.5px,#0029ff 82.5px,#009cff 97.5px,#00fbff 121.5px,#0ff 138.5px,#00ffe4 146.5px,#00ffaf 151.5px,#0f0 163.5px,#4aff00 168.5px,#f0ff00 177.5px,#fbff00 178.5px,#fe0 180.5px,#ffcb00 182.5px,#ff7800 184.5px,#ff0d00 186.5px,#ff0025 187.5px,#ff0072 189.5px,#ff00e9 193.5px,#ff00f9 194.5px,#ff00fe 195.5px,#f0f 199.5px)"></i>
<i style="left:542px;background:linear-gradient(#00f 0.5px,#0005ff 7.5px,#0023ff 10.5px,#05f 18.5px,#00a2ff 27.5px,#0091ff 33.5px,#0090ff 38.5px,#009bff 42.5px,#00c4ff 48.5px,#00cdff 51.5px,#00c7ff 61.5px,#00b0ff 62.5px,#0082ff 63.5px,#03f 64.5px,#00f 65.5px,#00f 67.5px,#0023ff 76.5px,#00c3ff 90.5px,#00eaff 99.5px,#0ff 110.5px,#0ff 139.5px,#00ffe5 146.5px,#00ffb2 151.5px,#00ff04 163.5px,#0bff00 164.5px,#58ff00 169.5px,#ef0 177.5px,#fffa00 179.5px,#ffcd00 182.5px,#ff7c00 184.5px,#f10 186.5px,#ff0023 187.5px,#ff007d 189.5px,#ff00c7 191.5px,#ff00f5 193.5px,#ff00fd 194.5px,#f0f 199.5px)"></i>
<i style="left:544px;background:linear-gradient(#00f 0.5px,#0005ff 7.5px,#002eff 11.5px,#0053ff 17.5px,#00acff 27.5px,#009aff 33.5px,#009cff 38.5px,#00adff 42.5px,#00dfff 48.5px,#00e9ff 51.5px,#00e3ff 61.5px,#00c8ff 62.5px,#0093ff 63.5px,#003aff 64.5px,#00f 65.5px,#00f 67.5px,#0021ff 71.5px,#0043ff 77.5px,#00c4ff 90.5px,#00deff 94.5px,#00f2ff 100.5px,#0ff 109.5px,#00fff9 141.5px,#00ffe2 146.5px,#00ffb7 150.5px,#00ff16 161.5px,#06ff00 163.5px,#4fff00 168.5px,#f2ff00 177.5px,#fff800 179.5px,#ffc700 182.5px,#ff7300 184.5px,#ff0800 186.5px,#ff002a 187.5px,#ff00a9 190.5px,#ff00e4 192.5px,#ff00fe 194.5px,#f0f 199.5px)"></i>
<i style="left:546px;background:linear-gradient(#00f 0.5px,#0005ff 7.5px,#002fff 11.5px,#0056ff 17.5px,#00b0ff 27.5px,#009fff 33.5px,#00a3ff 38.5px,#00b9ff 42.5px,#00f3ff 48.5px,#00feff 51.5px,#00f7ff 61.5px,#00daff 62.5px,#00a1ff 63.5px,#003fff 64.5px,#00f 65.5px,#00f 67.5px,#0023ff 70.5px,#0052ff 77.5px,#00cfff 89.5px,#00e3ff 92.5px,#0ff 104.5px,#0ff 140.5px,#00ffe7 145.5px,#00ffbd 149.5px,#03ff00 162.5px,#59ff00 168.5px,#e6ff00 176.5px,#ff0 178.5px,#fff600 179.5px,#ffbf00 182.5px,#ff6900 184.5px,#ff0001 186.5px,#ff005f 188.5px,#ff00b0 190.5px,#ff00e8 192.5px,#f0f 194.5px,#f0f 199.5px)"></i>
<i style="left:548px;background:linear-gradient(#00f 0.5px,#0005ff 7.5px,#002eff 11.5px,#0054ff 17.5px,#00adff 27.5px,#009cff 33.5px,#00a0ff 38.5px,#00b6ff 42.5px,#00efff 48.5px,#00f9ff 51.5px,#00f3ff 61.5px,#00d6ff 62.5px,#009eff 63.5px,#003eff 64.5px,#00f 65.5px,#00f 73.5px,#002cff 80.5px,#0060ff 84.5px,#009bff 90.5px,#00c5ff 98.5px,#00e4ff 107.5px,#00feff 123.5px,#00fffc 141.5px,#00ffe6 146.5px,#00ffb4 151.5px,#00ff07 163.5px,#08ff00 164.5px,#5f0 169.5px,#ecff00 177.5px,#f9ff00 178.5px,#fff100 180.5px,#ffce00 182.5px,#ff7f00 184.5px,#ff1300 186.5px,#ff0021 187.5px,#ff007b 189.5px,#ff00c6 191.5px,#ff00f4 193.5px,#f0f 195.5px,#f0f 199.5px)"></i>
<i style="left:550px;background:linear-gradient(#00f 0.5px,#0005ff 7.5px,#0024ff 10.5px,#0058ff 18.5px,#00a7ff 27.5px,#0096ff 33.5px,#009cff 38.5px,#00b8ff 42.5px,#00efff 47.5px,#0ff 50.5px,#00fbff 61.5px,#0df 62.5px,#00a3ff 63.5px,#0040ff 64.5px,#00f 65.5px,#00f 77.5px,#000bff 81.5px,#0034ff 84.5px,#006bff 90.5px,#0093ff 95.5px,#00a9ff 100.5px,#0ff 124.5px,#0ff 137.5px,#00ffe6 145.5px,#00ffac 150.5px,#00ff04 161.5px,#0aff00 162.5px,#5fff00 168.5px,#eaff00 176.5px,#fffd00 178.5px,#ffd500 181.5px,#ffb900 182.5px,#ff9100 183.5px,#ff2d00 185.5px,#ff0007 186.5px,#ff0064 188.5px,#ff00b4 190.5px,#ff00eb 192.5px,#f0f 194.5px,#f0f 199.5px)"></i>
<i style="left:552px;background:linear-gradient(#00f 0.5px,#0005ff 7.5px,#002aff 11.5px,#0054ff 18.5px,#009fff 27.5px,#008eff 33.5px,#0096ff 38.5px,#00b4ff 42.5px,#0ef 47.5px,#00feff 50.5px,#00faff 61.5px,#00dcff 62.5px,#00a2ff 63.5px,#0040ff 64.5px,#00f 65.5px,#00f 77.5px,#0048ff 87.5px,#008bff 99.5px,#00f6ff 130.5px,#00feff 139.5px,#00ffdc 146.5px,#00ffad 150.5px,#00ff1f 159.5px,#00ff04 161.5px,#0aff00 162.5px,#4fff00 167.5px,#eaff00 176.5px,#fffe00 178.5px,#fff400 179.5px,#ffd500 181.5px,#ffba00 182.5px,#ff9200 183.5px,#ff0007 186.5px,#ff0064 188.5px,#ff00b3 190.5px,#ff00eb 192.5px,#f0f 194.5px,#f0f 199.5px)"></i>
<i style="left:554px;background:linear-gradient(#00f 0.5px,#0005ff 7.5px,#0023ff 10.5px,#0056ff 18.5px,#00a3ff 27.5px,#0092ff 33.5px,#009aff 38.5px,#00b9ff 42.5px,#00f4ff 47.5px,#00fffe 49.5px,#00fff7 58.5px,#00fffe 61.5px,#00e1ff 62.5px,#00a6ff 63.5px,#0042ff 64.5px,#00f 65.5px,#0002ff 76.5px,#008cff 106.5px,#00f2ff 134.5px,#00fcff 140.5px,#00ffe2 145.5px,#00ffbd 148.5px,#00ff1a 158.5px,#01ff00 160.5px,#0fff00 161.5px,#61ff00 167.5px,#f3ff00 176.5px,#fff900 178.5px,#ffcf00 181.5px,#ff8400 183.5px,#ff1d00 185.5px,#ff0017 186.5px,#ff0071 188.5px,#ff00be 190.5px,#ff00f1 192.5px,#f0f 194.5px,#f0f 199.5px)"></i>
<i style="left:556px;background:linear-gradient(#00f 0.5px,#0006ff 7.5px,#002fff 11.5px,#0056ff 17.5px,#00b2ff 27.5px,#00a0ff 33.5px,#00a4ff 38.5px,#00b4ff 41.5px,#00efff 47.5px,#0ff 50.5px,#00faff 61.5px,#00dcff 62.5px,#00a3ff 63.5px,#0040ff 64.5px,#00f 65.5px,#0001ff 84.5px,#00f0ff 135.5px,#00f2ff 140.5px,#00fcff 141.5px,#00ffe1 145.5px,#00ffaf 149.5px,#00ff0a 159.5px,#04ff00 160.5px,#46ff00 165.5px,#e5ff00 175.5px,#fdff00 177.5px,#fe0 179.5px,#ffcd00 181.5px,#ff8100 183.5px,#ff1b00 185.5px,#ff0018 186.5px,#ff006d 188.5px,#ff00ed 193.5px,#ff00fe 195.5px,#f0f 199.5px)"></i>
<i style="left:558px;background:linear-gradient(#00f 0.5px,#0006ff 7.5px,#03f 11.5px,#0065ff 18.5px,#00a5ff 24.5px,#00beff 28.5px,#0af 33.5px,#00a8ff 41.5px,#00b0ff 44.5px,#00d5ff 50.5px,#00d2ff 61.5px,#00b8ff 62.5px,#08f 63.5px,#0036ff 64.5px,#00f 65.5px,#00f 76.5px,#0016ff 82.5px,#006dff 98.5px,#00a8ff 112.5px,#00f6ff 133.5px,#00f6ff 138.5px,#00fffa 139.5px,#00ffe1 145.5px,#00ffaf 149.5px,#00ff0a 159.5px,#04ff00 160.5px,#46ff00 165.5px,#e5ff00 175.5px,#fdff00 177.5px,#ffed00 179.5px,#ffce00 181.5px,#ff8200 183.5px,#ff1b00 185.5px,#ff0018 186.5px,#ff006a 188.5px,#ff00a1 191.5px,#ff00e2 193.5px,#ff00f6 194.5px,#f0f 199.5px)"></i>
<i style="left:560px;background:linear-gradient(#00f 0.5px,#0006ff 7.5px,#0032ff 11.5px,#0063ff 18.5px,#00a2ff 24.5px,#00baff 28.5px,#00a7ff 33.5px,#009dff 41.5px,#009fff 44.5px,#00b8ff 48.5px,#00c0ff 51.5px,#0bf 61.5px,#00a5ff 62.5px,#0079ff 63.5px,#0030ff 64.5px,#00f 65.5px,#00f 71.5px,#0029ff 76.5px,#008aff 94.5px,#00f9ff 128.5px,#00fffd 138.5px,#00fff8 141.5px,#00ffdc 146.5px,#00ffac 150.5px,#00ff03 161.5px,#50ff00 167.5px,#f7ff00 177.5px,#fff400 179.5px,#ffd500 181.5px,#ffb900 182.5px,#ff9100 183.5px,#ff0007 186.5px,#ff005c 188.5px,#f09 191.5px,#ff00e0 193.5px,#ff00f6 194.5px,#f0f 199.5px)"></i>
<i style="left:562px;background:linear-gradient(#00f 0.5px,#0005ff 7.5px,#002eff 11.5px,#0053ff 17.5px,#00acff 27.5px,#009bff 33.5px,#00a0ff 38.5px,#00b2ff 41.5px,#00f1ff 47.5px,#00fdff 49.5px,#00fdff 61.5px,#00dfff 62.5px,#00a4ff 63.5px,#0041ff 64.5px,#00f 65.5px,#00f 75.5px,#00f9ff 129.5px,#00fff8 141.5px,#00ffe6 145.5px,#0fb 149.5px,#00ff06 161.5px,#4dff00 167.5px,#f6ff00 177.5px,#fff500 179.5px,#ffd600 181.5px,#fb0 182.5px,#ff6400 184.5px,#ff0005 186.5px,#ff0059 188.5px,#ff0091 191.5px,#ff00dc 193.5px,#ff00f5 194.5px,#f0f 199.5px)"></i>
<i style="left:564px;background:linear-gradient(#00f 0.5px,#0005ff 7.5px,#002aff 11.5px,#0054ff 18.5px,#00a0ff 27.5px,#008fff 33.5px,#0090ff 38.5px,#00a0ff 42.5px,#00cfff 48.5px,#00d8ff 51.5px,#00d2ff 61.5px,#00b9ff 62.5px,#0089ff 63.5px,#0036ff 64.5px,#00f 65.5px,#00f 77.5px,#006eff 101.5px,#00faff 127.5px,#00fff9 140.5px,#00ffe3 145.5px,#00ffb3 149.5px,#00ff03 160.5px,#4eff00 166.5px,#f1ff00 176.5px,#fbff00 177.5px,#fff000 179.5px,#ffd000 181.5px,#ff8700 183.5px,#ff2100 185.5px,#ff0013 186.5px,#ff0065 188.5px,#ff009d 191.5px,#ff00e1 193.5px,#ff00f6 194.5px,#f0f 199.5px)"></i>
<i style="left:566px;background:linear-gradient(#00f 0.5px,#0004ff 7.5px,#0026ff 11.5px,#004dff 18.5px,#0095ff 27.5px,#0084ff 33.5px,#08f 38.5px,#00a0ff 42.5px,#00d1ff 47.5px,#00e1ff 51.5px,#00dcff 61.5px,#00c1ff 62.5px,#008fff 63.5px,#0038ff 64.5px,#00f 65.5px,#0002ff 83.5px,#0070ff 100.5px,#00f0ff 124.5px,#0ff 132.5px,#00fff9 140.5px,#00ffe8 144.5px,#00ffba 148.5px,#00ff05 159.5px,#59ff00 166.5px,#e8ff00 175.5px,#feff00 177.5px,#ffeb00 179.5px,#ffc900 181.5px,#ff7c00 183.5px,#ff1600 185.5px,#ff001c 186.5px,#ff006e 188.5px,#f0a 191.5px,#ff00e6 193.5px,#ff00fd 195.5px,#f0f 199.5px)"></i>
<i style="left:568px;background:linear-gradient(#00f 0.5px,#0005ff 7.5px,#0028ff 11.5px,#0050ff 18.5px,#009aff 27.5px,#0089ff 33.5px,#0086ff 38.5px,#008eff 42.5px,#00b2ff 48.5px,#00b9ff 51.5px,#00b5ff 61.5px,#009fff 62.5px,#0075ff 63.5px,#002eff 64.5px,#00f 65.5px,#00f 78.5px,#0060ff 93.5px,#00c5ff 115.5px,#00f0ff 126.5px,#00f2ff 131.5px,#00fffe 133.5px,#00fff9 140.5px,#00ffe7 144.5px,#00ffb9 148.5px,#0f0 159.5px,#4fff00 165.5px,#f6ff00 176.5px,#fff600 178.5px,#ffc800 181.5px,#ff7900 183.5px,#ff1200 185.5px,#ff0020 186.5px,#ff0074 188.5px,#ff0092 189.5px,#ff00ef 193.5px,#ff00fe 195.5px,#f0f 199.5px)"></i>
<i style="left:570px;background:linear-gradient(#00f 0.5px,#0005ff 7.5px,#0028ff 11.5px,#0050ff 18.5px,#09f 27.5px,#08f 33.5px,#0089ff 38.5px,#09f 42.5px,#00c7ff 48.5px,#00cfff 51.5px,#00caff 61.5px,#00b2ff 62.5px,#0083ff 63.5px,#0034ff 64.5px,#00f 65.5px,#0001ff 84.5px,#0018ff 89.5px,#0084ff 106.5px,#00f1ff 127.5px,#00f4ff 132.5px,#00fffe 134.5px,#00fff9 140.5px,#00ffe7 144.5px,#00ffb7 148.5px,#00ff0b 158.5px,#03ff00 159.5px,#53ff00 165.5px,#f8ff00 176.5px,#fff500 178.5px,#ffc500 181.5px,#ff7500 183.5px,#ff0f00 185.5px,#ff0023 186.5px,#ff009b 189.5px,#ff00e7 192.5px,#ff00fd 194.5px,#f0f 199.5px)"></i>
<i style="left:572px;background:linear-gradient(#00f 0.5px,#0005ff 7.5px,#0027ff 11.5px,#004eff 18.5px,#0097ff 27.5px,#0086ff 33.5px,#008cff 38.5px,#00a9ff 42.5px,#00dfff 47.5px,#00f0ff 51.5px,#00eaff 61.5px,#00ceff 62.5px,#0098ff 63.5px,#003cff 64.5px,#00f 65.5px,#0001ff 89.5px,#0034ff 99.5px,#00f0ff 128.5px,#00f3ff 133.5px,#00fffd 135.5px,#00fff9 140.5px,#00ffe6 144.5px,#00ffb4 148.5px,#00ff31 155.5px,#00ff02 158.5px,#faff00 176.5px,#fff300 178.5px,#ffd500 180.5px,#ffbd00 181.5px,#ff6c00 183.5px,#ff0700 185.5px,#ff00a4 189.5px,#ff00f0 192.5px,#ff00fe 194.5px,#f0f 199.5px)"></i>
<i style="left:574px;background:linear-gradient(#00f 0.5px,#0005ff 7.5px,#0029ff 11.5px,#0053ff 18.5px,#009eff 27.5px,#008dff 33.5px,#008cff 38.5px,#0097ff 42.5px,#00beff 48.5px,#00c7ff 51.5px,#00c2ff 61.5px,#00abff 62.5px,#007eff 63.5px,#0032ff 64.5px,#00f 65.5px,#0003ff 96.5px,#004fff 109.5px,#00eaff 128.5px,#00fffc 136.5px,#00fff9 140.5px,#00ffe5 144.5px,#00ffbe 147.5px,#00ff0a 157.5px,#05ff00 158.5px,#e8ff00 174.5px,#fcff00 176.5px,#fff000 178.5px,#ffd200 180.5px,#ffb700 181.5px,#ff6500 183.5px,#f00 185.5px,#ff0085 188.5px,#ff00ca 190.5px,#ff00e3 191.5px,#ff00fe 193.5px,#f0f 199.5px)"></i>
<i style="left:576px;background:linear-gradient(#00f 0.5px,#0005ff 7.5px,#0023ff 10.5px,#0056ff 18.5px,#00a3ff 27.5px,#0091ff 33.5px,#0090ff 38.5px,#009aff 42.5px,#00c2ff 48.5px,#00caff 51.5px,#00c5ff 61.5px,#00adff 62.5px,#0080ff 63.5px,#03f 64.5px,#00f 65.5px,#0001ff 95.5px,#0018ff 100.5px,#004eff 108.5px,#00eaff 126.5px,#00fffe 134.5px,#00fff8 141.5px,#00ffe5 145.5px,#00ffb8 149.5px,#00ff01 161.5px,#62ff00 168.5px,#f8ff00 177.5px,#fff300 179.5px,#ffd400 181.5px,#ff8f00 183.5px,#ff2b00 185.5px,#ff0009 186.5px,#ff008d 189.5px,#ff00b2 190.5px,#ff00e9 192.5px,#ff00fe 194.5px,#f0f 199.5px)"></i>
<i style="left:578px;background:linear-gradient(#00f 0.5px,#0005ff 7.5px,#0029ff 11.5px,#0052ff 18.5px,#009eff 27.5px,#008dff 33.5px,#0090ff 38.5px,#00a6ff 42.5px,#00dcff 48.5px,#00e6ff 51.5px,#00e0ff 61.5px,#00c5ff 62.5px,#0091ff 63.5px,#0039ff 64.5px,#00f 65.5px,#0001ff 92.5px,#0046ff 104.5px,#00efff 126.5px,#00f3ff 131.5px,#0ff 133.5px,#00fff9 141.5px,#00ffe2 146.5px,#00ffb8 150.5px,#00ff0a 162.5px,#04ff00 163.5px,#4dff00 168.5px,#e0ff00 176.5px,#fcff00 178.5px,#ffed00 180.5px,#ffc900 182.5px,#ff7500 184.5px,#ff0a00 186.5px,#ff0029 187.5px,#ff00a6 190.5px,#ff00e1 192.5px,#ff00f4 193.5px,#ff00fe 194.5px,#f0f 199.5px)"></i>
<i style="left:580px;background:linear-gradient(#00f 0.5px,#0004ff 7.5px,#0025ff 11.5px,#004bff 18.5px,#0090ff 27.5px,#0080ff 33.5px,#0084ff 38.5px,#009bff 42.5px,#00caff 47.5px,#00d9ff 51.5px,#00d4ff 61.5px,#00baff 62.5px,#008aff 63.5px,#0036ff 64.5px,#00f 65.5px,#0001ff 94.5px,#00ecff 128.5px,#00fffd 136.5px,#00fff8 141.5px,#00ffe7 145.5px,#0fb 149.5px,#00ff24 159.5px,#06ff00 162.5px,#5bff00 168.5px,#e8ff00 176.5px,#ff0 178.5px,#fff500 179.5px,#ffd600 181.5px,#ffbd00 182.5px,#f60 184.5px,#ff0003 186.5px,#ff0061 188.5px,#ff00b1 190.5px,#ff00e9 192.5px,#f0f 194.5px,#f0f 199.5px)"></i>
<i style="left:582px;background:linear-gradient(#00f 0.5px,#0004ff 7.5px,#0025ff 11.5px,#004aff 18.5px,#0090ff 27.5px,#007fff 33.5px,#0087ff 38.5px,#009dff 41.5px,#00e1ff 47.5px,#00f2ff 51.5px,#00ecff 61.5px,#00d0ff 62.5px,#09f 63.5px,#003dff 64.5px,#00f 65.5px,#00f 92.5px,#0064ff 105.5px,#00d6ff 125.5px,#00f2ff 131.5px,#00fff8 141.5px,#00ffe6 145.5px,#00ffba 149.5px,#0f1 160.5px,#0aff00 162.5px,#5fff00 168.5px,#eaff00 176.5px,#fffe00 178.5px,#ffd500 181.5px,#ffb900 182.5px,#ff9100 183.5px,#ff2d00 185.5px,#ff0007 186.5px,#ff0064 188.5px,#ff00b4 190.5px,#ff00eb 192.5px,#f0f 194.5px,#f0f 199.5px)"></i>
<i style="left:584px;background:linear-gradient(#00f 0.5px,#0005ff 7.5px,#0028ff 11.5px,#004fff 18.5px,#0098ff 27.5px,#0087ff 33.5px,#0084ff 41.5px,#0af 51.5px,#00a6ff 61.5px,#0092ff 62.5px,#006cff 63.5px,#002bff 64.5px,#00f 65.5px,#00f 95.5px,#0074ff 108.5px,#00edff 127.5px,#00f2ff 133.5px,#00fffe 134.5px,#00fff9 140.5px,#00ffe4 145.5px,#00ffb6 149.5px,#00ff08 160.5px,#05ff00 161.5px,#49ff00 166.5px,#f9ff00 177.5px,#fff200 179.5px,#ffd200 181.5px,#ff8b00 183.5px,#ff2500 185.5px,#ff000f 186.5px,#ff006b 188.5px,#ff00b9 190.5px,#f0e 192.5px,#f0f 194.5px,#f0f 199.5px)"></i>
<i style="left:586px;background:linear-gradient(#00f 0.5px,#0005ff 7.5px,#002aff 11.5px,#05f 18.5px,#00a1ff 27.5px,#0090ff 33.5px,#0093ff 38.5px,#00a7ff 42.5px,#00dbff 48.5px,#00e5ff 55.5px,#00dfff 61.5px,#00c5ff 62.5px,#0091ff 63.5px,#0039ff 64.5px,#00f 65.5px,#00f 93.5px,#000dff 96.5px,#0082ff 111.5px,#00f2ff 129.5px,#00f2ff 134.5px,#00fffe 135.5px,#00fff9 141.5px,#00ffe5 146.5px,#00ffb2 151.5px,#00ff05 163.5px,#46ff00 168.5px,#faff00 178.5px,#fff000 180.5px,#ffce00 182.5px,#ff7d00 184.5px,#f10 186.5px,#f02 187.5px,#ff00a1 190.5px,#ff00c4 191.5px,#ff00f4 193.5px,#f0f 195.5px,#f0f 199.5px)"></i>
<i style="left:588px;background:linear-gradient(#00f 0.5px,#0005ff 7.5px,#0023ff 10.5px,#0057ff 18.5px,#00a4ff 27.5px,#0093ff 33.5px,#0095ff 37.5px,#00a8ff 41.5px,#00eaff 48.5px,#00f5ff 51.5px,#00f5ff 56.5px,#00efff 61.5px,#00d2ff 62.5px,#009bff 63.5px,#003dff 64.5px,#00f 65.5px,#0001ff 93.5px,#00f2ff 130.5px,#00fff8 141.5px,#00ffe7 145.5px,#0fb 149.5px,#00ff08 161.5px,#06ff00 162.5px,#4cff00 167.5px,#f6ff00 177.5px,#fff500 179.5px,#ffd600 181.5px,#ffbd00 182.5px,#f60 184.5px,#ff0003 186.5px,#ff0089 189.5px,#ff00af 190.5px,#ff00e7 192.5px,#f0f 194.5px,#f0f 199.5px)"></i>
<i style="left:590px;background:linear-gradient(#00f 0.5px,#0005ff 7.5px,#002aff 11.5px,#05f 18.5px,#00a1ff 27.5px,#0090ff 33.5px,#0091ff 38.5px,#00a1ff 42.5px,#00d0ff 48.5px,#0df 56.5px,#00d4ff 61.5px,#00baff 62.5px,#0089ff 63.5px,#0036ff 64.5px,#00f 65.5px,#00f 92.5px,#001bff 99.5px,#004fff 108.5px,#0ef 130.5px,#00fff9 140.5px,#00ffe8 144.5px,#0fb 148.5px,#00ff05 159.5px,#4aff00 165.5px,#e7ff00 175.5px,#feff00 177.5px,#ffec00 179.5px,#ffcb00 181.5px,#ff7d00 183.5px,#ff1700 185.5px,#ff001c 186.5px,#ff0075 188.5px,#ff00c0 190.5px,#ff00f1 192.5px,#f0f 194.5px,#f0f 199.5px)"></i>
<i style="left:592px;background:linear-gradient(#00f 0.5px,#0005ff 7.5px,#0023ff 10.5px,#0056ff 18.5px,#00a3ff 27.5px,#0091ff 33.5px,#0093ff 38.5px,#00a4ff 42.5px,#00d5ff 48.5px,#00e7ff 56.5px,#00daff 61.5px,#00c0ff 62.5px,#008dff 63.5px,#0038ff 64.5px,#00f 65.5px,#0002ff 97.5px,#001dff 105.5px,#004eff 113.5px,#0092ff 121.5px,#00f2ff 130.5px,#00f2ff 135.5px,#00fffc 136.5px,#00fff9 139.5px,#00ffe1 144.5px,#00ffb8 147.5px,#00ff0c 156.5px,#03ff00 157.5px,#f9ff00 175.5px,#fff600 177.5px,#fc0 180.5px,#ff8600 182.5px,#ff2500 184.5px,#ff000d 185.5px,#f06 187.5px,#ff00b3 189.5px,#ff00e9 191.5px,#ff00fe 193.5px,#f0f 199.5px)"></i>
<i style="left:594px;background:linear-gradient(#00f 0.5px,#0005ff 7.5px,#0023ff 10.5px,#0056ff 18.5px,#00a4ff 27.5px,#0093ff 33.5px,#0091ff 38.5px,#009dff 42.5px,#00c6ff 48.5px,#00d2ff 56.5px,#00caff 61.5px,#00b2ff 62.5px,#0083ff 63.5px,#0034ff 64.5px,#00f 65.5px,#0006ff 91.5px,#0021ff 100.5px,#0054ff 110.5px,#009bff 120.5px,#00f2ff 130.5px,#00f2ff 135.5px,#00fffc 136.5px,#00fff9 140.5px,#00ffe7 144.5px,#00ffb8 148.5px,#00ff2b 156.5px,#01ff00 159.5px,#50ff00 165.5px,#f7ff00 176.5px,#fff600 178.5px,#ffc700 181.5px,#ff7800 183.5px,#f10 185.5px,#ff0021 186.5px,#ff007a 188.5px,#ff00c4 190.5px,#ff00f3 192.5px,#f0f 194.5px,#f0f 199.5px)"></i>
<i style="left:596px;background:linear-gradient(#00f 0.5px,#0005ff 7.5px,#002eff 11.5px,#0053ff 17.5px,#00acff 27.5px,#009bff 33.5px,#0098ff 38.5px,#00a8ff 44.5px,#00cbff 50.5px,#00cdff 55.5px,#00c8ff 61.5px,#00b0ff 62.5px,#0082ff 63.5px,#03f 64.5px,#00f 65.5px,#0001ff 86.5px,#01f 90.5px,#007dff 107.5px,#00f0ff 129.5px,#00fff9 140.5px,#00ffe1 145.5px,#00ffb0 149.5px,#00ff19 158.5px,#02ff00 160.5px,#10ff00 161.5px,#62ff00 167.5px,#f3ff00 176.5px,#fff900 178.5px,#ffcd00 181.5px,#ff8200 183.5px,#ff1c00 185.5px,#ff0017 186.5px,#ff0072 188.5px,#ff00be 190.5px,#ff00f1 192.5px,#f0f 194.5px,#f0f 199.5px)"></i>
<i style="left:598px;background:linear-gradient(#00f 0.5px,#0005ff 7.5px,#002eff 11.5px,#0054ff 17.5px,#00adff 27.5px,#009cff 33.5px,#009bff 38.5px,#00a7ff 42.5px,#00d3ff 48.5px,#00dcff 51.5px,#00d6ff 61.5px,#00bdff 62.5px,#008bff 63.5px,#0037ff 64.5px,#00f 65.5px,#00f 90.5px,#00f2ff 129.5px,#00fff9 140.5px,#00ffe3 145.5px,#00ffc0 148.5px,#00ff21 158.5px,#00ff05 160.5px,#09ff00 161.5px,#5bff00 167.5px,#f0ff00 176.5px,#fffb00 178.5px,#ffd100 181.5px,#f80 183.5px,#f20 185.5px,#ff0012 186.5px,#ff006d 188.5px,#f0b 190.5px,#ff00ef 192.5px,#f0f 194.5px,#f0f 199.5px)"></i>
</div>
<div class="p" id="p2">
<i style="left:0px;background:linear-gradient(#0002ff 0.5px,#0012ff 4.5px,#004eff 10.5px,#0070ff 16.5px,#0091ff 33.5px,#00f4ff 51.5px,#0ff 56.5px,#0ff 65.5px,#0ff 68.5px,#00ffc3 69.5px,#00ff48 74.5px,#00ff18 77.5px,#02ff00 80.5px,#42ff00 86.5px,#d4ff00 94.5px,#df0 95.5px,#dbff00 98.5px,#ceff00 99.5px,#93ff00 101.5px,#19ff00 104.5px,#01ff00 105.5px,#00ff0b 106.5px,#00ff01 107.5px,#41ff00 109.5px,#bf0 112.5px,#d5ff00 113.5px,#f1ff00 115.5px,#fffa00 125.5px,#ffe300 129.5px,#ff8e00 139.5px)"></i>
<i style="left:2px;background:linear-gradient(#0002ff 0.5px,#0012ff 4.5px,#004eff 10.5px,#0070ff 16.5px,#0091ff 33.5px,#00f4ff 51.5px,#0ff 56.5px,#0ff 65.5px,#0ff 68.5px,#00ffbf 69.5px,#00ff18 76.5px,#05ff00 78.5px,#24ff00 82.5px,#54ff00 86.5px,#e5ff00 94.5px,#ef0 95.5px,#ebff00 98.5px,#dcff00 99.5px,#9aff00 101.5px,#05ff00 104.5px,#00ff2a 106.5px,#00ff1d 107.5px,#08ff00 108.5px,#c5ff00 112.5px,#e0ff00 113.5px,#ff0 115.5px,#ffe400 127.5px,#ff8100 139.5px)"></i>
<i style="left:4px;background:linear-gradient(#0002ff 0.5px,#0012ff 4.5px,#004eff 10.5px,#0070ff 16.5px,#0091ff 33.5px,#00f4ff 51.5px,#0ff 56.5px,#0ff 65.5px,#0ff 68.5px,#00ffc3 69.5px,#00ff48 74.5px,#00ff19 77.5px,#02ff00 80.5px,#41ff00 86.5px,#d1ff00 94.5px,#daff00 95.5px,#d9ff00 98.5px,#cfff00 99.5px,#61ff00 104.5px,#50ff00 106.5px,#54ff00 107.5px,#73ff00 109.5px,#beff00 112.5px,#e7ff00 115.5px,#feff00 127.5px,#ffed00 128.5px,#ff7a00 130.5px,#ff6000 131.5px,#ff1f00 139.5px)"></i>
<i style="left:6px;background:linear-gradient(#0002ff 0.5px,#0012ff 4.5px,#004eff 10.5px,#0070ff 16.5px,#0091ff 33.5px,#00f4ff 51.5px,#0ff 56.5px,#0ff 65.5px,#0ff 68.5px,#00ffc6 69.5px,#00ff61 73.5px,#00ff12 77.5px,#03ff00 79.5px,#1aff00 82.5px,#4bff00 86.5px,#daff00 94.5px,#e2ff00 95.5px,#e0ff00 98.5px,#d5ff00 99.5px,#57ff00 104.5px,#43ff00 106.5px,#48ff00 107.5px,#6dff00 109.5px,#d5ff00 113.5px,#f2ff00 116.5px,#fff900 127.5px,#ff8e00 130.5px,#ff4500 139.5px)"></i>
<i style="left:8px;background:linear-gradient(#0002ff 0.5px,#0012ff 4.5px,#004eff 10.5px,#0070ff 16.5px,#0091ff 33.5px,#00f4ff 51.5px,#0ff 56.5px,#0ff 65.5px,#0ff 68.5px,#00ffbf 69.5px,#00ff01 77.5px,#60ff00 86.5px,#f3ff00 94.5px,#fcff00 95.5px,#fbff00 98.5px,#f0ff00 99.5px,#6bff00 104.5px,#5f0 106.5px,#6fff00 108.5px,#e2ff00 112.5px,#fff900 114.5px,#ffe600 116.5px,#ffd500 126.5px,#fc0 127.5px,#ff7900 130.5px,#ff2d00 139.5px)"></i>
<i style="left:10px;background:linear-gradient(#0002ff 0.5px,#0012ff 4.5px,#004eff 10.5px,#0070ff 16.5px,#0091ff 33.5px,#00f4ff 51.5px,#0ff 56.5px,#0ff 65.5px,#0ff 68.5px,#00ffbf 69.5px,#00ff01 77.5px,#2bff00 82.5px,#5bff00 86.5px,#f1ff00 94.5px,#faff00 95.5px,#fbff00 98.5px,#f0ff00 99.5px,#6eff00 104.5px,#58ff00 106.5px,#5fff00 107.5px,#8bff00 109.5px,#e8ff00 112.5px,#feff00 113.5px,#ffde00 116.5px,#ffd200 124.5px,#ffc000 127.5px,#ff5a00 130.5px,#ff0900 139.5px)"></i>
<i style="left:12px;background:linear-gradient(#0002ff 0.5px,#0012ff 4.5px,#004eff 10.5px,#0070ff 16.5px,#0091ff 33.5px,#00f4ff 51.5px,#0ff 56.5px,#0ff 65.5px,#0ff 68.5px,#00ffc2 69.5px,#00ffa7 70.5px,#00ff48 74.5px,#00ff0e 77.5px,#00ff03 78.5px,#1cff00 82.5px,#4cff00 86.5px,#dfff00 94.5px,#e8ff00 95.5px,#e9ff00 98.5px,#dfff00 99.5px,#8bff00 103.5px,#6fff00 106.5px,#8dff00 109.5px,#d4ff00 112.5px,#feff00 115.5px,#ffe300 127.5px,#ffd300 128.5px,#ff7b00 129.5px,#ff0600 130.5px,#ff00e8 134.5px,#f0f 135.5px,#f0f 139.5px)"></i>
<i style="left:14px;background:linear-gradient(#0002ff 0.5px,#0012ff 4.5px,#004eff 10.5px,#0070ff 16.5px,#0091ff 33.5px,#00f4ff 51.5px,#0ff 56.5px,#0ff 65.5px,#0ff 68.5px,#00ffbf 69.5px,#00ff2f 75.5px,#00ff07 77.5px,#10ff00 78.5px,#2fff00 82.5px,#5fff00 86.5px,#ecff00 94.5px,#f5ff00 95.5px,#f4ff00 98.5px,#bdff00 103.5px,#baff00 109.5px,#feff00 116.5px,#fffc00 125.5px,#ffef00 128.5px,#ffd900 129.5px,#ff7a00 130.5px,#ff0600 131.5px,#ff004e 132.5px,#ff00a2 135.5px,#ff00c2 139.5px)"></i>
<i style="left:16px;background:linear-gradient(#0002ff 0.5px,#0012ff 4.5px,#004eff 10.5px,#0070ff 16.5px,#0091ff 33.5px,#00f4ff 51.5px,#0ff 56.5px,#0ff 65.5px,#0ff 68.5px,#00ffbf 69.5px,#01ff00 77.5px,#1cff00 78.5px,#3aff00 82.5px,#6bff00 86.5px,#f6ff00 94.5px,#feff00 95.5px,#fbff00 98.5px,#f0ff00 99.5px,#79ff00 104.5px,#6f0 106.5px,#6aff00 107.5px,#89ff00 109.5px,#d5ff00 112.5px,#fdff00 115.5px,#fffc00 124.5px,#fe0 128.5px,#ffe800 129.5px,#ffac00 130.5px,#f30 131.5px,#ff003a 132.5px,#ff0058 133.5px,#ff0073 135.5px,#ff0092 139.5px)"></i>
<i style="left:18px;background:linear-gradient(#0002ff 0.5px,#0012ff 4.5px,#004eff 10.5px,#0070ff 16.5px,#0091ff 33.5px,#00f4ff 51.5px,#0ff 56.5px,#0ff 65.5px,#0ff 68.5px,#00ffbf 69.5px,#01ff00 77.5px,#60ff00 86.5px,#efff00 94.5px,#f8ff00 95.5px,#f7ff00 98.5px,#ecff00 99.5px,#79ff00 104.5px,#67ff00 106.5px,#6cff00 107.5px,#8cff00 109.5px,#d9ff00 112.5px,#f8ff00 114.5px,#ffed00 125.5px,#ffd200 129.5px,#ff9800 130.5px,#ff4e00 131.5px,#ff1800 132.5px,#ff0400 133.5px,#ff001f 135.5px,#ff0040 139.5px)"></i>
<i style="left:20px;background:linear-gradient(#0002ff 0.5px,#0012ff 4.5px,#004eff 10.5px,#0070ff 16.5px,#0091ff 33.5px,#00f4ff 51.5px,#0ff 56.5px,#0ff 65.5px,#0ff 68.5px,#00ffbf 69.5px,#01ff00 77.5px,#15ff00 78.5px,#34ff00 82.5px,#64ff00 86.5px,#f0ff00 94.5px,#f8ff00 95.5px,#f6ff00 98.5px,#adff00 103.5px,#9fff00 106.5px,#a9ff00 109.5px,#e5ff00 113.5px,#fdff00 116.5px,#fffb00 126.5px,#fff400 127.5px,#ffd600 128.5px,#ff8300 130.5px,#ff7600 131.5px,#ff1000 134.5px,#ff0012 135.5px,#ff0032 139.5px)"></i>
<i style="left:22px;background:linear-gradient(#0002ff 0.5px,#0012ff 4.5px,#004eff 10.5px,#0070ff 16.5px,#0091ff 33.5px,#00f4ff 51.5px,#0ff 56.5px,#0ff 65.5px,#0ff 68.5px,#00ffbf 69.5px,#00ff2f 75.5px,#00ff0d 77.5px,#05ff00 79.5px,#26ff00 83.5px,#4dff00 86.5px,#daff00 94.5px,#e2ff00 95.5px,#e2ff00 98.5px,#adff00 103.5px,#af0 109.5px,#ecff00 116.5px,#f4ff00 126.5px,#ffe700 127.5px,#ff1a00 129.5px,#ff000b 130.5px,#ff0012 131.5px,#ff00d6 135.5px,#ff00f6 139.5px)"></i>
<i style="left:24px;background:linear-gradient(#0002ff 0.5px,#0012ff 4.5px,#004eff 10.5px,#0070ff 16.5px,#0091ff 33.5px,#00f4ff 51.5px,#0ff 56.5px,#0ff 65.5px,#0ff 68.5px,#00ffbf 69.5px,#00ff17 76.5px,#00ff03 77.5px,#08ff00 78.5px,#27ff00 82.5px,#57ff00 86.5px,#e5ff00 94.5px,#ef0 95.5px,#ef0 98.5px,#aeff00 103.5px,#a6ff00 107.5px,#b4ff00 110.5px,#e3ff00 113.5px,#fbff00 116.5px,#fffe00 125.5px,#ffea00 127.5px,#ffa100 128.5px,#ff3800 129.5px,#ff000b 130.5px,#ff0071 135.5px,#ff0092 139.5px)"></i>
<i style="left:26px;background:linear-gradient(#0002ff 0.5px,#0012ff 4.5px,#004eff 10.5px,#0070ff 16.5px,#0091ff 33.5px,#00f4ff 51.5px,#0ff 56.5px,#0ff 65.5px,#0ff 68.5px,#00ffbf 69.5px,#00ff47 74.5px,#00ff15 77.5px,#05ff00 80.5px,#45ff00 86.5px,#d3ff00 94.5px,#dbff00 95.5px,#daff00 98.5px,#8cff00 103.5px,#7bff00 106.5px,#8aff00 109.5px,#cdff00 113.5px,#e2ff00 115.5px,#f0ff00 126.5px,#fffa00 127.5px,#ffab00 128.5px,#ff3d00 129.5px,#ff0008 130.5px,#ff005f 139.5px)"></i>
<i style="left:28px;background:linear-gradient(#0002ff 0.5px,#0012ff 4.5px,#004eff 10.5px,#0070ff 16.5px,#0091ff 33.5px,#00f4ff 51.5px,#0ff 56.5px,#0ff 65.5px,#0ff 68.5px,#00ffc0 69.5px,#00ff47 74.5px,#00ff15 77.5px,#00ff02 79.5px,#15ff00 82.5px,#45ff00 86.5px,#d6ff00 94.5px,#deff00 95.5px,#dfff00 98.5px,#96ff00 103.5px,#8f0 106.5px,#96ff00 109.5px,#d8ff00 113.5px,#ecff00 115.5px,#fffe00 126.5px,#ffcd00 127.5px,#ff0300 129.5px,#ff001a 130.5px,#ff0067 139.5px)"></i>
<i style="left:30px;background:linear-gradient(#0002ff 0.5px,#0012ff 4.5px,#004eff 10.5px,#0070ff 16.5px,#0091ff 33.5px,#00f4ff 51.5px,#0ff 56.5px,#0ff 65.5px,#0ff 68.5px,#00ffbf 69.5px,#00ff01 77.5px,#0dff00 78.5px,#2bff00 82.5px,#5cff00 86.5px,#edff00 94.5px,#f6ff00 95.5px,#f5ff00 98.5px,#ecff00 99.5px,#97ff00 103.5px,#79ff00 106.5px,#97ff00 109.5px,#df0 112.5px,#fbff00 114.5px,#fff200 116.5px,#ffeb00 124.5px,#ffde00 127.5px,#ffc000 128.5px,#ff5900 129.5px,#ff001c 130.5px,#ff0053 131.5px,#ff00c8 135.5px,#ff00df 139.5px)"></i>
<i style="left:32px;background:linear-gradient(#0002ff 0.5px,#0012ff 4.5px,#004eff 10.5px,#0070ff 16.5px,#0091ff 33.5px,#00f4ff 51.5px,#0ff 56.5px,#0ff 65.5px,#0ff 68.5px,#00ffbf 69.5px,#01ff00 77.5px,#16ff00 78.5px,#35ff00 82.5px,#65ff00 86.5px,#f4ff00 94.5px,#fdff00 95.5px,#fbff00 98.5px,#f1ff00 99.5px,#80ff00 104.5px,#6fff00 106.5px,#73ff00 107.5px,#92ff00 109.5px,#deff00 112.5px,#fcff00 114.5px,#fff100 116.5px,#ffec00 124.5px,#ffe000 127.5px,#ffc800 128.5px,#ff3a00 130.5px,#ff0200 132.5px,#ff0042 135.5px,#ff0063 139.5px)"></i>
<i style="left:34px;background:linear-gradient(#0002ff 0.5px,#0012ff 4.5px,#004eff 10.5px,#0070ff 16.5px,#0091ff 33.5px,#00f4ff 51.5px,#0ff 56.5px,#0ff 65.5px,#0ff 68.5px,#00ffc0 69.5px,#00ff47 74.5px,#00ff0f 77.5px,#04ff00 79.5px,#25ff00 83.5px,#4bff00 86.5px,#d8ff00 94.5px,#e0ff00 95.5px,#dfff00 98.5px,#98ff00 103.5px,#8cff00 107.5px,#9eff00 110.5px,#cfff00 113.5px,#e2ff00 115.5px,#e8ff00 124.5px,#f5ff00 127.5px,#ffef00 128.5px,#ffb700 130.5px,#ff7200 139.5px)"></i>
<i style="left:36px;background:linear-gradient(#0002ff 0.5px,#0012ff 4.5px,#004eff 10.5px,#0070ff 16.5px,#0091ff 33.5px,#00f4ff 51.5px,#0ff 56.5px,#0ff 65.5px,#0ff 68.5px,#00ffbf 69.5px,#00ff47 74.5px,#00ff13 77.5px,#0f0 79.5px,#17ff00 82.5px,#47ff00 86.5px,#d9ff00 94.5px,#e2ff00 95.5px,#e2ff00 98.5px,#d8ff00 99.5px,#6bff00 104.5px,#5bff00 106.5px,#5fff00 107.5px,#7eff00 109.5px,#caff00 112.5px,#f4ff00 115.5px,#fff900 125.5px,#fff400 126.5px,#ffdb00 127.5px,#ff6500 129.5px,#ff4a00 130.5px,#ff4100 131.5px,#ff000a 133.5px,#f05 135.5px,#ff0071 139.5px)"></i>
<i style="left:38px;background:linear-gradient(#0002ff 0.5px,#0012ff 4.5px,#004eff 10.5px,#0070ff 16.5px,#0091ff 33.5px,#00f4ff 51.5px,#0ff 56.5px,#0ff 65.5px,#0ff 68.5px,#00ffc6 69.5px,#00ff4b 74.5px,#00ff1e 77.5px,#00ff03 80.5px,#0cff00 82.5px,#3cff00 86.5px,#cf0 94.5px,#d4ff00 95.5px,#d2ff00 98.5px,#c7ff00 99.5px,#96ff00 101.5px,#3bff00 104.5px,#21ff00 106.5px,#27ff00 107.5px,#3cff00 108.5px,#b2ff00 112.5px,#dfff00 115.5px,#ecff00 125.5px,#fff900 127.5px,#ffbf00 129.5px,#ffaf00 130.5px,#ff6700 139.5px)"></i>
<i style="left:40px;background:linear-gradient(#0002ff 0.5px,#0012ff 4.5px,#004eff 10.5px,#0070ff 16.5px,#0091ff 33.5px,#00f4ff 51.5px,#0ff 56.5px,#0ff 65.5px,#0ff 68.5px,#00ffbf 69.5px,#01ff00 77.5px,#5fff00 86.5px,#ef0 94.5px,#f6ff00 95.5px,#f3ff00 98.5px,#e6ff00 99.5px,#af0 101.5px,#2bff00 104.5px,#03ff00 106.5px,#0dff00 107.5px,#2cff00 108.5px,#cbff00 112.5px,#e3ff00 113.5px,#feff00 115.5px,#fff600 124.5px,#ffe600 128.5px,#ffd900 129.5px,#ff7200 131.5px,#ff5200 132.5px,#ff1a00 139.5px)"></i>
<i style="left:42px;background:linear-gradient(#0002ff 0.5px,#0012ff 4.5px,#004eff 10.5px,#0070ff 16.5px,#0091ff 33.5px,#00f4ff 51.5px,#0ff 56.5px,#0ff 65.5px,#0ff 68.5px,#00ffc2 69.5px,#00ff47 74.5px,#00ff13 77.5px,#0f0 79.5px,#17ff00 82.5px,#47ff00 86.5px,#daff00 94.5px,#e3ff00 96.5px,#e1ff00 98.5px,#d4ff00 99.5px,#98ff00 101.5px,#19ff00 104.5px,#00ff02 105.5px,#00ff0e 106.5px,#00ff03 107.5px,#43ff00 109.5px,#c2ff00 112.5px,#ebff00 114.5px,#ff0 116.5px,#fff200 125.5px,#ffe600 127.5px,#ffd100 128.5px,#ff3d00 131.5px,#ff0400 137.5px,#ff000d 139.5px)"></i>
<i style="left:44px;background:linear-gradient(#0002ff 0.5px,#0012ff 4.5px,#004eff 10.5px,#0070ff 16.5px,#0091ff 33.5px,#00f4ff 51.5px,#0ff 56.5px,#0ff 65.5px,#0ff 68.5px,#00ffb3 70.5px,#00ff3b 75.5px,#00ff04 78.5px,#04ff00 79.5px,#1bff00 82.5px,#4bff00 86.5px,#df0 94.5px,#e5ff00 95.5px,#e3ff00 98.5px,#d6ff00 99.5px,#9aff00 101.5px,#19ff00 104.5px,#00ff03 105.5px,#00ff0f 106.5px,#00ff04 107.5px,#1cff00 108.5px,#c1ff00 112.5px,#daff00 113.5px,#f6ff00 115.5px,#fff600 125.5px,#fe0 126.5px,#ffb700 129.5px,#ff6400 139.5px)"></i>
<i style="left:46px;background:linear-gradient(#0002ff 0.5px,#0012ff 4.5px,#004eff 10.5px,#0070ff 16.5px,#0091ff 33.5px,#00f4ff 51.5px,#0ff 56.5px,#0ff 65.5px,#0ff 68.5px,#00ffb3 70.5px,#00ff0b 77.5px,#04ff00 78.5px,#23ff00 82.5px,#54ff00 86.5px,#e5ff00 94.5px,#ef0 95.5px,#eaff00 98.5px,#dbff00 99.5px,#93ff00 101.5px,#21ff00 103.5px,#00ff18 104.5px,#00ff3f 105.5px,#00ff50 106.5px,#00ff40 107.5px,#00ff15 108.5px,#2f0 109.5px,#95ff00 111.5px,#c2ff00 112.5px,#dfff00 113.5px,#feff00 115.5px,#fff200 124.5px,#ffe300 127.5px,#ffa700 130.5px,#ff5900 139.5px)"></i>
<i style="left:48px;background:linear-gradient(#0002ff 0.5px,#0012ff 4.5px,#004eff 10.5px,#0070ff 16.5px,#0091ff 33.5px,#00f4ff 51.5px,#0ff 56.5px,#0ff 65.5px,#0ff 68.5px,#00ffb3 70.5px,#00ff23 76.5px,#04ff00 78.5px,#31ff00 83.5px,#57ff00 86.5px,#e7ff00 94.5px,#f0ff00 95.5px,#edff00 98.5px,#e0ff00 99.5px,#a3ff00 101.5px,#19ff00 104.5px,#00ff06 105.5px,#00ff14 106.5px,#00ff08 107.5px,#1bff00 108.5px,#c8ff00 112.5px,#e0ff00 113.5px,#fcff00 115.5px,#fff700 124.5px,#ffe600 128.5px,#ffd500 129.5px,#ff9500 131.5px,#ff8600 132.5px,#ff4d00 139.5px)"></i>
<i style="left:50px;background:linear-gradient(#0002ff 0.5px,#0012ff 4.5px,#004eff 10.5px,#0070ff 16.5px,#0091ff 33.5px,#00f4ff 51.5px,#0ff 56.5px,#0ff 65.5px,#0ff 69.5px,#00ffb3 71.5px,#00ff9b 72.5px,#00ffcb 73.5px,#00ff41 79.5px,#00ff04 85.5px,#19ff00 87.5px,#94ff00 94.5px,#9cff00 96.5px,#e2ff00 97.5px,#d1ff00 99.5px,#b5ff00 100.5px,#91ff00 101.5px,#00ff05 104.5px,#00ff27 105.5px,#00ff37 106.5px,#00ff2b 107.5px,#00ff06 108.5px,#b0ff00 112.5px,#d7ff00 114.5px,#e9ff00 116.5px,#e9ff00 124.5px,#feff00 128.5px,#ffc500 129.5px,#ff6e00 130.5px,#f30 131.5px,#ff0100 137.5px,#ff0010 139.5px)"></i>
<i style="left:52px;background:linear-gradient(#0002ff 0.5px,#0012ff 4.5px,#004eff 10.5px,#0070ff 16.5px,#0091ff 33.5px,#00f4ff 51.5px,#0ff 56.5px,#0ff 65.5px,#0ff 69.5px,#00ffb3 71.5px,#0f0 79.5px,#4dff00 86.5px,#d7ff00 94.5px,#dfff00 95.5px,#e1ff00 98.5px,#d2ff00 99.5px,#8fff00 101.5px,#27ff00 103.5px,#00ff0c 104.5px,#00ff30 105.5px,#00ff40 106.5px,#00ff34 107.5px,#00ff0e 108.5px,#20ff00 109.5px,#85ff00 111.5px,#acff00 112.5px,#c5ff00 113.5px,#e0ff00 115.5px,#e3ff00 124.5px,#f4ff00 128.5px,#fff500 129.5px,#ffd200 131.5px,#ff9700 139.5px)"></i>
<i style="left:54px;background:linear-gradient(#0002ff 0.5px,#0012ff 4.5px,#004eff 10.5px,#0070ff 16.5px,#0091ff 33.5px,#00f4ff 51.5px,#0ff 56.5px,#0ff 65.5px,#0ff 69.5px,#00ffbf 70.5px,#00ff19 77.5px,#00ff02 79.5px,#15ff00 82.5px,#45ff00 86.5px,#d2ff00 94.5px,#dbff00 95.5px,#d7ff00 98.5px,#caff00 99.5px,#8fff00 101.5px,#10ff00 104.5px,#00ff0a 105.5px,#00ff17 106.5px,#00ff0d 107.5px,#1f0 108.5px,#adff00 112.5px,#c5ff00 113.5px,#dfff00 115.5px,#e7ff00 124.5px,#fffc00 129.5px,#fc0 132.5px,#ff9600 139.5px)"></i>
<i style="left:56px;background:linear-gradient(#0002ff 0.5px,#0012ff 4.5px,#004eff 10.5px,#0070ff 16.5px,#0091ff 33.5px,#00f4ff 51.5px,#0ff 56.5px,#0ff 65.5px,#0ff 69.5px,#00ffbf 70.5px,#00ff30 76.5px,#00ff16 78.5px,#01ff00 81.5px,#39ff00 86.5px,#cdff00 94.5px,#d6ff00 95.5px,#d5ff00 98.5px,#caff00 99.5px,#93ff00 101.5px,#1eff00 104.5px,#06ff00 105.5px,#00ff05 106.5px,#05ff00 107.5px,#23ff00 108.5px,#bf0 112.5px,#edff00 115.5px,#fffe00 125.5px,#fe0 128.5px,#ffb900 132.5px,#ff7d00 139.5px)"></i>
<i style="left:58px;background:linear-gradient(#0002ff 0.5px,#0012ff 4.5px,#004eff 10.5px,#0070ff 16.5px,#0091ff 33.5px,#00f4ff 51.5px,#0ff 56.5px,#0ff 65.5px,#0ff 69.5px,#00ffb3 71.5px,#00ff0b 78.5px,#05ff00 79.5px,#54ff00 86.5px,#e5ff00 94.5px,#ef0 95.5px,#edff00 98.5px,#e2ff00 99.5px,#afff00 101.5px,#46ff00 104.5px,#27ff00 106.5px,#2fff00 107.5px,#49ff00 108.5px,#d1ff00 112.5px,#ff0 115.5px,#fff200 124.5px,#ffe300 127.5px,#ff8b00 130.5px,#ff3d00 139.5px)"></i>
<i style="left:60px;background:linear-gradient(#0002ff 0.5px,#0012ff 4.5px,#004eff 10.5px,#0070ff 16.5px,#0091ff 33.5px,#00f4ff 51.5px,#0ff 56.5px,#0ff 65.5px,#0ff 69.5px,#00ffbf 70.5px,#0f0 78.5px,#57ff00 86.5px,#eaff00 94.5px,#f3ff00 95.5px,#f4ff00 98.5px,#e9ff00 99.5px,#bf0 101.5px,#60ff00 104.5px,#46ff00 106.5px,#4dff00 107.5px,#64ff00 108.5px,#df0 112.5px,#feff00 114.5px,#fe0 116.5px,#ffe400 124.5px,#ffd300 127.5px,#ffaf00 128.5px,#ff4900 130.5px,#ff0700 137.5px,#ff000a 139.5px)"></i>
<i style="left:62px;background:linear-gradient(#0002ff 0.5px,#0012ff 4.5px,#004eff 10.5px,#0070ff 16.5px,#0091ff 33.5px,#00f4ff 51.5px,#0ff 56.5px,#0ff 65.5px,#0ff 69.5px,#00ffb3 71.5px,#00ff0b 78.5px,#0fff00 79.5px,#2f0 80.5px,#62ff00 86.5px,#f7ff00 94.5px,#fffe00 95.5px,#fffe00 98.5px,#f5ff00 99.5px,#bdff00 101.5px,#41ff00 104.5px,#27ff00 105.5px,#1bff00 106.5px,#26ff00 107.5px,#46ff00 108.5px,#c4ff00 111.5px,#fffe00 113.5px,#ffdb00 116.5px,#ffd000 124.5px,#ffbc00 128.5px,#ffb000 129.5px,#ff5700 132.5px,#ff4500 133.5px,#f10 139.5px)"></i>
<i style="left:64px;background:linear-gradient(#0002ff 0.5px,#0012ff 4.5px,#004eff 10.5px,#0070ff 16.5px,#0091ff 33.5px,#00f4ff 51.5px,#0ff 56.5px,#0ff 65.5px,#0ff 69.5px,#00ffb3 71.5px,#00ff0b 78.5px,#06ff00 79.5px,#51ff00 86.5px,#e4ff00 94.5px,#edff00 95.5px,#ecff00 98.5px,#e0ff00 99.5px,#abff00 101.5px,#3dff00 104.5px,#1cff00 106.5px,#26ff00 107.5px,#40ff00 108.5px,#cfff00 112.5px,#fffe00 115.5px,#ffef00 124.5px,#ffd600 129.5px,#ffc400 131.5px,#f70 134.5px,#ff4c00 139.5px)"></i>
<i style="left:66px;background:linear-gradient(#0002ff 0.5px,#0012ff 4.5px,#004eff 10.5px,#0070ff 16.5px,#0091ff 33.5px,#00f4ff 51.5px,#0ff 56.5px,#0ff 65.5px,#0ff 68.5px,#00ffe2 69.5px,#00ffb3 70.5px,#00ff54 74.5px,#00ff1d 77.5px,#00ff02 80.5px,#17ff00 83.5px,#3eff00 86.5px,#cbff00 94.5px,#d3ff00 95.5px,#d0ff00 98.5px,#c4ff00 99.5px,#90ff00 101.5px,#29ff00 104.5px,#0bff00 106.5px,#12ff00 107.5px,#2aff00 108.5px,#a9ff00 112.5px,#d6ff00 115.5px,#e0ff00 125.5px,#f6ff00 129.5px,#ffd900 132.5px,#ffa100 139.5px)"></i>
<i style="left:68px;background:linear-gradient(#0002ff 0.5px,#0012ff 4.5px,#004eff 10.5px,#0070ff 16.5px,#0091ff 33.5px,#00f4ff 51.5px,#0ff 56.5px,#0ff 65.5px,#0ff 68.5px,#00ffe2 69.5px,#00ffb3 70.5px,#00ff54 74.5px,#00ff09 78.5px,#0f0 79.5px,#2f0 83.5px,#48ff00 86.5px,#dcff00 94.5px,#e5ff00 95.5px,#e6ff00 98.5px,#df0 99.5px,#6cff00 104.5px,#5aff00 106.5px,#71ff00 108.5px,#d3ff00 112.5px,#feff00 115.5px,#ffe200 127.5px,#ffa900 130.5px,#ff5a00 139.5px)"></i>
<i style="left:70px;background:linear-gradient(#0002ff 0.5px,#0012ff 4.5px,#004eff 10.5px,#0070ff 16.5px,#0091ff 33.5px,#00f4ff 51.5px,#0ff 56.5px,#0ff 65.5px,#0ff 69.5px,#00ffbf 70.5px,#01ff00 78.5px,#15ff00 79.5px,#2cff00 82.5px,#5cff00 86.5px,#f3ff00 94.5px,#fdff00 95.5px,#f7ff00 99.5px,#a7ff00 103.5px,#8cff00 106.5px,#acff00 109.5px,#f4ff00 112.5px,#fff700 113.5px,#ffd800 116.5px,#ffc600 125.5px,#ffba00 127.5px,#ff9f00 128.5px,#ff4800 130.5px,#ff0300 137.5px,#ff000f 139.5px)"></i>
<i style="left:72px;background:linear-gradient(#0002ff 0.5px,#0012ff 4.5px,#004eff 10.5px,#0070ff 16.5px,#0091ff 33.5px,#00f4ff 51.5px,#0ff 56.5px,#0ff 65.5px,#0ff 69.5px,#00ffbf 70.5px,#01ff00 78.5px,#1dff00 79.5px,#3eff00 83.5px,#65ff00 86.5px,#f6ff00 94.5px,#ff0 95.5px,#f8ff00 99.5px,#b3ff00 103.5px,#a2ff00 106.5px,#b4ff00 109.5px,#fcff00 113.5px,#ffe600 116.5px,#ffdf00 124.5px,#ffd200 127.5px,#ffcb00 128.5px,#ffa300 129.5px,#ff6000 130.5px,#ff2d00 131.5px,#ff0005 135.5px,#ff0027 139.5px)"></i>
<i style="left:74px;background:linear-gradient(#0002ff 0.5px,#0012ff 4.5px,#004eff 10.5px,#0070ff 16.5px,#0091ff 33.5px,#00f4ff 51.5px,#0ff 56.5px,#0ff 65.5px,#0ff 69.5px,#00ffbf 70.5px,#01ff00 78.5px,#21ff00 82.5px,#51ff00 86.5px,#e4ff00 94.5px,#edff00 95.5px,#efff00 98.5px,#b5ff00 103.5px,#b1ff00 107.5px,#beff00 110.5px,#edff00 113.5px,#fffd00 115.5px,#ffed00 125.5px,#fd0 128.5px,#ff9a00 132.5px,#ff5f00 139.5px)"></i>
<i style="left:76px;background:linear-gradient(#0002ff 0.5px,#0012ff 4.5px,#004eff 10.5px,#0070ff 16.5px,#0091ff 33.5px,#00f4ff 51.5px,#0ff 56.5px,#0ff 65.5px,#0ff 69.5px,#00ffbf 70.5px,#01ff00 78.5px,#1eff00 79.5px,#35ff00 82.5px,#6f0 86.5px,#f9ff00 94.5px,#fffc00 95.5px,#fffd00 98.5px,#f5ff00 99.5px,#c0ff00 101.5px,#5aff00 104.5px,#3eff00 106.5px,#46ff00 107.5px,#5eff00 108.5px,#e6ff00 112.5px,#feff00 113.5px,#ffde00 116.5px,#ffd400 124.5px,#ffba00 129.5px,#fa0 130.5px,#ff6800 131.5px,#ff0200 132.5px,#ff0041 133.5px,#ff005e 134.5px,#ff007a 139.5px)"></i>
<i style="left:78px;background:linear-gradient(#0002ff 0.5px,#0012ff 4.5px,#004eff 10.5px,#0070ff 16.5px,#0091ff 33.5px,#00f4ff 51.5px,#0ff 56.5px,#0ff 65.5px,#0ff 69.5px,#00ffbf 70.5px,#01ff00 78.5px,#19ff00 79.5px,#2fff00 82.5px,#70ff00 87.5px,#f1ff00 94.5px,#f8ff00 97.5px,#e6ff00 99.5px,#c8ff00 100.5px,#a2ff00 101.5px,#10ff00 104.5px,#00ff0f 105.5px,#00ff1d 106.5px,#0f1 107.5px,#13ff00 108.5px,#cdff00 112.5px,#faff00 114.5px,#ffef00 116.5px,#ffe800 124.5px,#ffd200 128.5px,#ffa100 129.5px,#ff3a00 130.5px,#ff0029 131.5px,#ff008e 132.5px,#ff00ce 133.5px,#f0f 134.5px,#f0f 139.5px)"></i>
<i style="left:80px;background:linear-gradient(#0002ff 0.5px,#0012ff 4.5px,#004eff 10.5px,#0070ff 16.5px,#0091ff 33.5px,#00f4ff 51.5px,#0ff 56.5px,#0ff 65.5px,#0ff 69.5px,#00ffb3 71.5px,#00ff0b 78.5px,#05ff00 79.5px,#5f0 86.5px,#e4ff00 94.5px,#edff00 95.5px,#e9ff00 98.5px,#dcff00 99.5px,#a5ff00 101.5px,#39ff00 104.5px,#1aff00 106.5px,#2f0 107.5px,#3aff00 108.5px,#c4ff00 112.5px,#f6ff00 115.5px,#fffa00 125.5px,#ffeb00 127.5px,#ffb000 128.5px,#ff6100 129.5px,#ff2f00 130.5px,#ff2600 131.5px,#ff0017 132.5px,#ff00d0 135.5px,#ff00e3 139.5px)"></i>
<i style="left:82px;background:linear-gradient(#0002ff 0.5px,#0012ff 4.5px,#004eff 10.5px,#0070ff 16.5px,#0091ff 33.5px,#00f4ff 51.5px,#0ff 56.5px,#0ff 65.5px,#0ff 69.5px,#00ffbf 70.5px,#01ff00 78.5px,#5f0 86.5px,#e7ff00 94.5px,#f0ff00 95.5px,#ef0 98.5px,#e2ff00 99.5px,#abff00 101.5px,#41ff00 104.5px,#23ff00 106.5px,#2bff00 107.5px,#4f0 108.5px,#d0ff00 112.5px,#e8ff00 113.5px,#fffa00 115.5px,#ffcf00 127.5px,#ffbd00 128.5px,#ff6900 130.5px,#ff0005 134.5px,#ff0024 135.5px,#ff0049 139.5px)"></i>
<i style="left:84px;background:linear-gradient(#0002ff 0.5px,#0012ff 4.5px,#004eff 10.5px,#0070ff 16.5px,#0091ff 33.5px,#00f4ff 51.5px,#0ff 56.5px,#0ff 65.5px,#0ff 69.5px,#00ffbf 70.5px,#01ff00 78.5px,#59ff00 86.5px,#ecff00 94.5px,#f5ff00 95.5px,#f6ff00 98.5px,#ecff00 99.5px,#98ff00 103.5px,#7aff00 106.5px,#9aff00 109.5px,#e2ff00 112.5px,#fffe00 114.5px,#ffec00 116.5px,#ffe800 119.5px,#ffc500 121.5px,#ff7f00 127.5px,#ff3200 130.5px,#ff0500 133.5px,#ff004c 139.5px)"></i>
<i style="left:86px;background:linear-gradient(#0002ff 0.5px,#0012ff 4.5px,#004eff 10.5px,#0070ff 16.5px,#0091ff 33.5px,#00f4ff 51.5px,#0ff 56.5px,#0ff 65.5px,#0ff 69.5px,#00ffbf 70.5px,#01ff00 78.5px,#24ff00 79.5px,#3bff00 82.5px,#6bff00 86.5px,#f8ff00 94.5px,#fffe00 95.5px,#fdff00 98.5px,#f3ff00 99.5px,#9dff00 103.5px,#7fff00 106.5px,#9f0 109.5px,#dbff00 112.5px,#fffd00 115.5px,#ffec00 127.5px,#ffc000 130.5px,#ff7b00 139.5px)"></i>
<i style="left:88px;background:linear-gradient(#0002ff 0.5px,#0012ff 4.5px,#004eff 10.5px,#0070ff 16.5px,#0091ff 33.5px,#00f4ff 51.5px,#0ff 56.5px,#0ff 65.5px,#0ff 69.5px,#00ffbf 70.5px,#01ff00 78.5px,#1fff00 79.5px,#40ff00 83.5px,#67ff00 86.5px,#f2ff00 94.5px,#faff00 95.5px,#f8ff00 98.5px,#bf0 103.5px,#b4ff00 107.5px,#bcff00 110.5px,#e6ff00 113.5px,#fcff00 116.5px,#fff800 127.5px,#fff400 128.5px,#fd0 129.5px,#ff7f00 131.5px,#ff6c00 132.5px,#ff3800 139.5px)"></i>
<i style="left:90px;background:linear-gradient(#0002ff 0.5px,#0012ff 4.5px,#004eff 10.5px,#0070ff 16.5px,#0091ff 33.5px,#00f4ff 51.5px,#0ff 56.5px,#0ff 65.5px,#0ff 69.5px,#00ffbf 70.5px,#01ff00 78.5px,#1fff00 82.5px,#50ff00 86.5px,#dfff00 94.5px,#e8ff00 95.5px,#deff00 99.5px,#91ff00 103.5px,#7aff00 106.5px,#90ff00 109.5px,#ceff00 112.5px,#f4ff00 115.5px,#feff00 124.5px,#fff400 127.5px,#ffe700 128.5px,#ffab00 129.5px,#ff4b00 130.5px,#ff0600 131.5px,#ff00b9 134.5px,#ff00e8 135.5px,#ff00f8 139.5px)"></i>
<i style="left:92px;background:linear-gradient(#0002ff 0.5px,#0012ff 4.5px,#004eff 10.5px,#0070ff 16.5px,#0091ff 33.5px,#00f4ff 51.5px,#0ff 56.5px,#0ff 65.5px,#0ff 69.5px,#00ffb3 71.5px,#00ff0b 78.5px,#10ff00 79.5px,#29ff00 80.5px,#69ff00 86.5px,#faff00 94.5px,#fffb00 95.5px,#f8ff00 99.5px,#84ff00 104.5px,#72ff00 106.5px,#7f0 107.5px,#98ff00 109.5px,#fbff00 113.5px,#ffe500 116.5px,#ffde00 124.5px,#ffd200 127.5px,#fb0 128.5px,#ff2700 130.5px,#ff0600 131.5px,#ff00a9 135.5px,#ff00c5 139.5px)"></i>
<i style="left:94px;background:linear-gradient(#0002ff 0.5px,#0012ff 4.5px,#004eff 10.5px,#0070ff 16.5px,#0091ff 33.5px,#00f4ff 51.5px,#0ff 56.5px,#0ff 65.5px,#0ff 69.5px,#00ffbf 70.5px,#01ff00 78.5px,#56ff00 86.5px,#eaff00 94.5px,#f4ff00 95.5px,#f4ff00 98.5px,#ebff00 99.5px,#7fff00 104.5px,#6fff00 106.5px,#74ff00 107.5px,#94ff00 109.5px,#e1ff00 112.5px,#fffd00 114.5px,#ffeb00 116.5px,#ffe100 124.5px,#ffce00 128.5px,#ffad00 129.5px,#ff4100 131.5px,#ff0900 133.5px,#ff002a 135.5px,#ff004c 139.5px)"></i>
<i style="left:96px;background:linear-gradient(#0002ff 0.5px,#0012ff 4.5px,#004eff 10.5px,#0070ff 16.5px,#0091ff 33.5px,#00f4ff 51.5px,#0ff 56.5px,#0ff 65.5px,#0ff 69.5px,#00ffbf 70.5px,#01ff00 78.5px,#16ff00 79.5px,#2dff00 82.5px,#5dff00 86.5px,#ef0 94.5px,#f7ff00 95.5px,#f6ff00 98.5px,#ecff00 99.5px,#67ff00 104.5px,#50ff00 106.5px,#6aff00 108.5px,#dbff00 112.5px,#fcff00 114.5px,#fff000 116.5px,#ffe700 125.5px,#fd0 127.5px,#ffc300 128.5px,#ff1f00 130.5px,#ff0006 131.5px,#ff009b 134.5px,#ff00be 135.5px,#ff00cf 139.5px)"></i>
<i style="left:98px;background:linear-gradient(#0002ff 0.5px,#0012ff 4.5px,#004eff 10.5px,#0070ff 16.5px,#0091ff 33.5px,#00f4ff 51.5px,#0ff 56.5px,#0ff 65.5px,#0ff 68.5px,#00ffdf 69.5px,#00ffd3 70.5px,#00ffa7 71.5px,#00ff2f 76.5px,#00ff09 78.5px,#07ff00 79.5px,#54ff00 86.5px,#e4ff00 94.5px,#edff00 95.5px,#e8ff00 98.5px,#d9ff00 99.5px,#95ff00 101.5px,#00ff02 104.5px,#00ff23 105.5px,#00ff31 106.5px,#00ff25 107.5px,#0f0 108.5px,#bfff00 112.5px,#ebff00 114.5px,#ff0 116.5px,#fff600 125.5px,#ffe000 128.5px,#ff7300 130.5px,#ff5400 131.5px,#ff1c00 135.5px,#ff0005 139.5px)"></i>
<i style="left:100px;background:linear-gradient(#0002ff 0.5px,#0012ff 4.5px,#004eff 10.5px,#0070ff 16.5px,#0091ff 33.5px,#00f4ff 51.5px,#0ff 56.5px,#0ff 65.5px,#0ff 69.5px,#00ffbf 70.5px,#00ff02 78.5px,#1cff00 82.5px,#4dff00 86.5px,#daff00 94.5px,#e2ff00 95.5px,#df0 98.5px,#ceff00 99.5px,#8eff00 101.5px,#0aff00 104.5px,#00ff1f 106.5px,#00ff15 107.5px,#0aff00 108.5px,#afff00 112.5px,#c8ff00 113.5px,#e4ff00 115.5px,#f7ff00 127.5px,#fff400 128.5px,#f60 130.5px,#f40 131.5px,#ff0500 139.5px)"></i>
<i style="left:102px;background:linear-gradient(#0002ff 0.5px,#0012ff 4.5px,#004eff 10.5px,#0070ff 16.5px,#0091ff 33.5px,#00f4ff 51.5px,#0ff 56.5px,#0ff 65.5px,#0ff 68.5px,#00ffb3 70.5px,#00ff23 76.5px,#02ff00 79.5px,#19ff00 82.5px,#49ff00 86.5px,#d5ff00 94.5px,#df0 95.5px,#d9ff00 98.5px,#cdff00 99.5px,#4fff00 104.5px,#3aff00 106.5px,#4eff00 108.5px,#b2ff00 112.5px,#dcff00 115.5px,#e1ff00 124.5px,#f1ff00 127.5px,#ffe700 128.5px,#ffb800 129.5px,#ff9c00 130.5px,#ff5800 139.5px)"></i>
<i style="left:104px;background:linear-gradient(#0002ff 0.5px,#0012ff 4.5px,#004eff 10.5px,#0070ff 16.5px,#0091ff 33.5px,#00f4ff 51.5px,#0ff 56.5px,#0ff 65.5px,#0ff 70.5px,#00ffbf 71.5px,#01ff00 79.5px,#50ff00 86.5px,#dcff00 94.5px,#e4ff00 95.5px,#e2ff00 98.5px,#d7ff00 99.5px,#81ff00 103.5px,#62ff00 106.5px,#7dff00 109.5px,#d0ff00 113.5px,#ebff00 116.5px,#ecff00 124.5px,#fcff00 128.5px,#ffce00 131.5px,#ff8e00 139.5px)"></i>
<i style="left:106px;background:linear-gradient(#0002ff 0.5px,#0012ff 4.5px,#004eff 10.5px,#0070ff 16.5px,#0091ff 33.5px,#00f4ff 51.5px,#0ff 56.5px,#0ff 65.5px,#0ff 69.5px,#00ffb3 71.5px,#00ff0b 78.5px,#15ff00 79.5px,#5fff00 86.5px,#edff00 94.5px,#f5ff00 95.5px,#f5ff00 98.5px,#b3ff00 103.5px,#a9ff00 107.5px,#b9ff00 110.5px,#eaff00 113.5px,#fdff00 115.5px,#fff700 125.5px,#ffe400 128.5px,#ffad00 129.5px,#ff5c00 130.5px,#ff2500 131.5px,#ff0019 132.5px,#ff00c3 135.5px,#ff00d3 139.5px)"></i>
<i style="left:108px;background:linear-gradient(#0002ff 0.5px,#0012ff 4.5px,#004eff 10.5px,#0070ff 16.5px,#0091ff 33.5px,#00f4ff 51.5px,#0ff 56.5px,#0ff 65.5px,#0ff 69.5px,#00ffbf 70.5px,#00ff30 76.5px,#03ff00 79.5px,#1aff00 82.5px,#4bff00 86.5px,#dcff00 94.5px,#e5ff00 95.5px,#dcff00 99.5px,#8fff00 103.5px,#76ff00 106.5px,#8fff00 109.5px,#cfff00 112.5px,#f7ff00 115.5px,#fff800 125.5px,#ffe700 128.5px,#ff0c00 134.5px,#ff0018 135.5px,#ff003a 139.5px)"></i>
<i style="left:110px;background:linear-gradient(#0002ff 0.5px,#0012ff 4.5px,#004eff 10.5px,#0070ff 16.5px,#0091ff 33.5px,#00f4ff 51.5px,#0ff 56.5px,#0ff 65.5px,#0ff 69.5px,#00ffb3 71.5px,#00ff23 77.5px,#00ff10 78.5px,#03ff00 80.5px,#42ff00 86.5px,#d2ff00 94.5px,#dbff00 95.5px,#d8ff00 98.5px,#cbff00 99.5px,#8fff00 101.5px,#13ff00 104.5px,#00ff06 105.5px,#00ff12 106.5px,#00ff08 107.5px,#16ff00 108.5px,#b3ff00 112.5px,#cf0 113.5px,#e8ff00 115.5px,#fffe00 127.5px,#ff9400 139.5px)"></i>
<i style="left:112px;background:linear-gradient(#0002ff 0.5px,#0012ff 4.5px,#004eff 10.5px,#0070ff 16.5px,#0091ff 33.5px,#00f4ff 51.5px,#0ff 56.5px,#0ff 65.5px,#0ff 69.5px,#00ffb3 71.5px,#00ff3b 76.5px,#00ff17 78.5px,#0f0 81.5px,#38ff00 86.5px,#caff00 94.5px,#d4ff00 95.5px,#d2ff00 98.5px,#c7ff00 99.5px,#92ff00 101.5px,#28ff00 104.5px,#0aff00 106.5px,#12ff00 107.5px,#2cff00 108.5px,#b7ff00 112.5px,#e8ff00 115.5px,#fffe00 126.5px,#ffeb00 128.5px,#ff7b00 130.5px,#ff5900 131.5px,#f10 139.5px)"></i>
<i style="left:114px;background:linear-gradient(#0002ff 0.5px,#0012ff 4.5px,#004eff 10.5px,#0070ff 16.5px,#0091ff 33.5px,#00f4ff 51.5px,#0ff 56.5px,#0ff 65.5px,#0ff 69.5px,#00ffbf 70.5px,#00ff31 76.5px,#00ff14 78.5px,#02ff00 81.5px,#3bff00 86.5px,#d3ff00 94.5px,#df0 95.5px,#e1ff00 98.5px,#a0ff00 103.5px,#95ff00 106.5px,#a7ff00 109.5px,#ecff00 113.5px,#fffb00 115.5px,#ffe600 124.5px,#ffcf00 128.5px,#ff9d00 131.5px,#f50 139.5px)"></i>
<i style="left:116px;background:linear-gradient(#0002ff 0.5px,#0012ff 4.5px,#004eff 10.5px,#0070ff 16.5px,#0091ff 33.5px,#00f4ff 51.5px,#0ff 56.5px,#0ff 65.5px,#0ff 69.5px,#00ffbf 70.5px,#01ff00 78.5px,#58ff00 86.5px,#f1ff00 94.5px,#fbff00 95.5px,#f7ff00 99.5px,#b2ff00 103.5px,#9fff00 106.5px,#b9ff00 109.5px,#f8ff00 112.5px,#fff400 113.5px,#ffd600 116.5px,#ffc200 125.5px,#ffae00 128.5px,#ff7e00 129.5px,#ff3700 130.5px,#ff0500 131.5px,#ff0053 139.5px)"></i>
<i style="left:118px;background:linear-gradient(#0002ff 0.5px,#0012ff 4.5px,#004eff 10.5px,#0070ff 16.5px,#0091ff 33.5px,#00f4ff 51.5px,#0ff 56.5px,#0ff 65.5px,#0ff 69.5px,#00ffbf 70.5px,#00ff01 78.5px,#59ff00 86.5px,#edff00 94.5px,#f7ff00 95.5px,#f8ff00 98.5px,#efff00 99.5px,#a2ff00 103.5px,#89ff00 106.5px,#a5ff00 109.5px,#faff00 113.5px,#ffe600 116.5px,#ffd300 126.5px,#ffc400 127.5px,#ff8c00 128.5px,#ff4100 129.5px,#f10 130.5px,#ff0500 131.5px,#ff0075 135.5px,#ff0098 139.5px)"></i>
<i style="left:120px;background:linear-gradient(#0002ff 0.5px,#0012ff 4.5px,#004eff 10.5px,#0070ff 16.5px,#0091ff 33.5px,#00f4ff 51.5px,#0ff 56.5px,#0ff 65.5px,#0ff 70.5px,#00ffbf 71.5px,#00ff2f 77.5px,#00ff0a 79.5px,#06ff00 81.5px,#3eff00 86.5px,#ceff00 94.5px,#d6ff00 95.5px,#d7ff00 98.5px,#9fff00 103.5px,#9eff00 109.5px,#e3ff00 115.5px,#edff00 124.5px,#fffe00 127.5px,#ffc200 128.5px,#ff7100 129.5px,#ff3d00 130.5px,#f30 131.5px,#ff0600 132.5px,#ff0081 135.5px,#ff00a2 139.5px)"></i>
<i style="left:122px;background:linear-gradient(#0002ff 0.5px,#0012ff 4.5px,#004eff 10.5px,#0070ff 16.5px,#0091ff 33.5px,#00f4ff 51.5px,#0ff 56.5px,#0ff 65.5px,#0ff 69.5px,#00ffbf 70.5px,#00ff02 78.5px,#2cff00 83.5px,#52ff00 86.5px,#e2ff00 94.5px,#ebff00 95.5px,#ecff00 98.5px,#bf0 103.5px,#baff00 109.5px,#fdff00 116.5px,#fff900 125.5px,#ffe400 128.5px,#ff8400 130.5px,#ff1300 134.5px,#ff0009 135.5px,#ff002a 139.5px)"></i>
<i style="left:124px;background:linear-gradient(#0002ff 0.5px,#0012ff 4.5px,#004eff 10.5px,#0070ff 16.5px,#0091ff 33.5px,#00f4ff 51.5px,#0ff 56.5px,#0ff 65.5px,#0ff 70.5px,#00ffbf 71.5px,#01ff00 79.5px,#52ff00 86.5px,#e4ff00 94.5px,#edff00 95.5px,#f0ff00 98.5px,#c2ff00 103.5px,#c3ff00 109.5px,#fffc00 115.5px,#ffec00 125.5px,#ffe100 127.5px,#ffb600 128.5px,#ff1c00 130.5px,#ff0500 131.5px,#ff00a2 134.5px,#ff00c2 135.5px,#ff00d3 139.5px)"></i>
<i style="left:126px;background:linear-gradient(#0002ff 0.5px,#0012ff 4.5px,#004eff 10.5px,#0070ff 16.5px,#0091ff 33.5px,#00f4ff 51.5px,#0ff 56.5px,#0ff 65.5px,#0ff 70.5px,#00ffbf 71.5px,#00ff17 78.5px,#00ff02 79.5px,#15ff00 82.5px,#45ff00 86.5px,#d6ff00 94.5px,#dfff00 95.5px,#d7ff00 99.5px,#90ff00 103.5px,#7bff00 106.5px,#90ff00 109.5px,#c9ff00 112.5px,#ef0 115.5px,#fffd00 126.5px,#ffe800 127.5px,#ff7e00 128.5px,#ff0007 129.5px,#ff0050 130.5px,#ff0059 131.5px,#ff00e7 134.5px,#ff00fc 135.5px,#f0f 139.5px)"></i>
<i style="left:128px;background:linear-gradient(#0002ff 0.5px,#0012ff 4.5px,#004eff 10.5px,#0070ff 16.5px,#0091ff 33.5px,#00f4ff 51.5px,#0ff 56.5px,#0ff 65.5px,#0ff 70.5px,#00ffbf 71.5px,#01ff00 79.5px,#19ff00 80.5px,#58ff00 86.5px,#ebff00 94.5px,#f4ff00 95.5px,#f4ff00 98.5px,#ebff00 99.5px,#7fff00 104.5px,#6eff00 106.5px,#73ff00 107.5px,#94ff00 109.5px,#dfff00 112.5px,#fdff00 114.5px,#fff000 116.5px,#ffe800 124.5px,#ffda00 127.5px,#fc0 128.5px,#ff9100 129.5px,#ff3800 130.5px,#ff0005 131.5px,#ff002b 132.5px,#ff007c 135.5px,#ff009e 139.5px)"></i>
<i style="left:130px;background:linear-gradient(#0002ff 0.5px,#0012ff 4.5px,#004eff 10.5px,#0070ff 16.5px,#0091ff 33.5px,#00f4ff 51.5px,#0ff 56.5px,#0ff 65.5px,#0ff 70.5px,#00ffbf 71.5px,#01ff00 79.5px,#20ff00 80.5px,#60ff00 86.5px,#f6ff00 94.5px,#ff0 95.5px,#faff00 99.5px,#9f0 104.5px,#8bff00 106.5px,#aeff00 109.5px,#f5ff00 112.5px,#fff700 113.5px,#ffd900 116.5px,#ffcd00 124.5px,#ffb800 128.5px,#ffa800 129.5px,#ff2600 131.5px,#ff000a 132.5px,#ff003b 135.5px,#ff005e 139.5px)"></i>
<i style="left:132px;background:linear-gradient(#0002ff 0.5px,#0012ff 4.5px,#004eff 10.5px,#0070ff 16.5px,#0091ff 33.5px,#00f4ff 51.5px,#0ff 56.5px,#0ff 65.5px,#0ff 70.5px,#00ffbf 71.5px,#01ff00 79.5px,#1fff00 80.5px,#5eff00 86.5px,#ecff00 94.5px,#f5ff00 95.5px,#f3ff00 98.5px,#eaff00 99.5px,#94ff00 103.5px,#75ff00 106.5px,#92ff00 109.5px,#d6ff00 112.5px,#fcff00 115.5px,#fff700 125.5px,#fe0 127.5px,#ffca00 128.5px,#f20 130.5px,#ff0700 131.5px,#ff0045 139.5px)"></i>
<i style="left:134px;background:linear-gradient(#0002ff 0.5px,#0012ff 4.5px,#004eff 10.5px,#0070ff 16.5px,#0091ff 33.5px,#00f4ff 51.5px,#0ff 56.5px,#0ff 65.5px,#0ff 70.5px,#00ffbf 71.5px,#00ff2f 77.5px,#00ff0c 79.5px,#03ff00 81.5px,#3bff00 86.5px,#c9ff00 94.5px,#d1ff00 95.5px,#ceff00 98.5px,#c2ff00 99.5px,#34ff00 104.5px,#1bff00 106.5px,#21ff00 107.5px,#4cff00 109.5px,#a8ff00 112.5px,#d5ff00 115.5px,#e8ff00 127.5px,#ffeb00 128.5px,#ff3f00 130.5px,#ff2900 131.5px,#ff0100 136.5px,#ff0018 139.5px)"></i>
<i style="left:136px;background:linear-gradient(#0002ff 0.5px,#0012ff 4.5px,#004eff 10.5px,#0070ff 16.5px,#0091ff 33.5px,#00f4ff 51.5px,#0ff 56.5px,#0ff 65.5px,#0ff 70.5px,#00ffbf 71.5px,#00ff2f 77.5px,#00ff1b 78.5px,#00ff01 81.5px,#37ff00 86.5px,#c5ff00 94.5px,#cdff00 95.5px,#cbff00 98.5px,#c0ff00 99.5px,#4bff00 104.5px,#38ff00 106.5px,#3cff00 107.5px,#5dff00 109.5px,#abff00 112.5px,#d4ff00 115.5px,#df0 124.5px,#f0ff00 128.5px,#ffd900 129.5px,#ff7200 130.5px,#ff1b00 131.5px,#ff000a 132.5px,#ff003e 135.5px,#ff005f 139.5px)"></i>
<i style="left:138px;background:linear-gradient(#0002ff 0.5px,#0012ff 4.5px,#004eff 10.5px,#0070ff 16.5px,#0091ff 33.5px,#00f4ff 51.5px,#0ff 56.5px,#0ff 65.5px,#0ff 70.5px,#00ffb3 72.5px,#00ff0b 79.5px,#10ff00 80.5px,#2eff00 81.5px,#6f0 86.5px,#f5ff00 94.5px,#fdff00 95.5px,#feff00 98.5px,#cfff00 103.5px,#cf0 109.5px,#fff900 115.5px,#ffef00 125.5px,#ffe100 128.5px,#ffd100 129.5px,#ff8600 130.5px,#ff2900 131.5px,#ff0023 132.5px,#ff0080 135.5px,#ff00a1 139.5px)"></i>
<i style="left:140px;background:linear-gradient(#0002ff 0.5px,#0012ff 4.5px,#004eff 10.5px,#0070ff 16.5px,#0091ff 33.5px,#00f4ff 51.5px,#0ff 56.5px,#0ff 65.5px,#0ff 71.5px,#00ffbf 72.5px,#01ff00 80.5px,#20ff00 81.5px,#58ff00 86.5px,#e4ff00 94.5px,#ecff00 95.5px,#e9ff00 98.5px,#dfff00 99.5px,#6eff00 104.5px,#5cff00 106.5px,#60ff00 107.5px,#7cff00 109.5px,#c5ff00 112.5px,#ecff00 115.5px,#fdff00 127.5px,#ffe700 128.5px,#ff5e00 130.5px,#ff3800 131.5px,#ff0300 134.5px,#ff002d 139.5px)"></i>
<i style="left:142px;background:linear-gradient(#0002ff 0.5px,#0012ff 4.5px,#004eff 10.5px,#0070ff 16.5px,#0091ff 33.5px,#00f4ff 51.5px,#0ff 56.5px,#0ff 65.5px,#0ff 71.5px,#00ffbf 72.5px,#01ff00 80.5px,#28ff00 81.5px,#60ff00 86.5px,#edff00 94.5px,#f6ff00 95.5px,#f2ff00 98.5px,#e6ff00 99.5px,#b4ff00 101.5px,#53ff00 104.5px,#36ff00 106.5px,#3dff00 107.5px,#53ff00 108.5px,#cf0 112.5px,#f8ff00 115.5px,#fff600 126.5px,#ffe300 127.5px,#ff7500 129.5px,#ff5d00 130.5px,#ff1700 139.5px)"></i>
<i style="left:144px;background:linear-gradient(#0002ff 0.5px,#0012ff 4.5px,#004eff 10.5px,#0070ff 16.5px,#0091ff 33.5px,#00f4ff 51.5px,#0ff 56.5px,#0ff 65.5px,#0ff 70.5px,#00ffb3 72.5px,#00ff0b 79.5px,#0cff00 80.5px,#2cff00 81.5px,#64ff00 86.5px,#f1ff00 94.5px,#f9ff00 95.5px,#f4ff00 98.5px,#e5ff00 99.5px,#a3ff00 101.5px,#0eff00 104.5px,#0f2 106.5px,#00ff16 107.5px,#0eff00 108.5px,#c6ff00 112.5px,#e0ff00 113.5px,#fcff00 115.5px,#fffb00 119.5px,#ffd400 121.5px,#ff8900 127.5px,#ff5d00 128.5px,#ff0a00 129.5px,#ff0041 130.5px,#ff005c 131.5px,#ff00c8 139.5px)"></i>
<i style="left:146px;background:linear-gradient(#0002ff 0.5px,#0012ff 4.5px,#004eff 10.5px,#0070ff 16.5px,#0091ff 33.5px,#00f4ff 51.5px,#0ff 56.5px,#0ff 65.5px,#0ff 71.5px,#00ffbf 72.5px,#01ff00 80.5px,#4cff00 86.5px,#d9ff00 94.5px,#e1ff00 95.5px,#dbff00 98.5px,#cf0 99.5px,#8f0 101.5px,#20ff00 103.5px,#00ff12 104.5px,#00ff35 105.5px,#00ff45 106.5px,#00ff38 107.5px,#00ff13 108.5px,#1cff00 109.5px,#82ff00 111.5px,#abff00 112.5px,#c5ff00 113.5px,#e1ff00 115.5px,#efff00 124.5px,#fdff00 127.5px,#ff9b00 130.5px,#ff5100 139.5px)"></i>
<i style="left:148px;background:linear-gradient(#0002ff 0.5px,#0012ff 4.5px,#004eff 10.5px,#0070ff 16.5px,#0091ff 33.5px,#00f4ff 51.5px,#0ff 56.5px,#0ff 65.5px,#0ff 71.5px,#00ffb3 73.5px,#00ff0b 80.5px,#12ff00 81.5px,#31ff00 82.5px,#62ff00 86.5px,#deff00 93.5px,#f5ff00 95.5px,#f1ff00 98.5px,#e2ff00 99.5px,#9dff00 101.5px,#04ff00 104.5px,#00ff2d 106.5px,#00ff21 107.5px,#02ff00 108.5px,#baff00 112.5px,#d4ff00 113.5px,#f1ff00 115.5px,#fff900 127.5px,#ffea00 128.5px,#ffac00 130.5px,#ff9c00 131.5px,#ff6000 139.5px)"></i>
<i style="left:150px;background:linear-gradient(#0002ff 0.5px,#0012ff 4.5px,#004eff 10.5px,#0070ff 16.5px,#0091ff 33.5px,#00f4ff 51.5px,#0ff 56.5px,#0ff 65.5px,#0ff 69.5px,#00ffbf 70.5px,#01ff00 78.5px,#16ff00 79.5px,#2eff00 82.5px,#60ff00 86.5px,#dbff00 93.5px,#f3ff00 95.5px,#efff00 98.5px,#e3ff00 99.5px,#a8ff00 101.5px,#31ff00 104.5px,#0cff00 106.5px,#14ff00 107.5px,#2eff00 108.5px,#bdff00 112.5px,#edff00 115.5px,#ff0 127.5px,#fff500 129.5px,#ffe600 130.5px,#ffa100 132.5px,#ff8b00 133.5px,#ff5c00 139.5px)"></i>
<i style="left:152px;background:linear-gradient(#0002ff 0.5px,#0012ff 4.5px,#004eff 10.5px,#0070ff 16.5px,#0091ff 33.5px,#00f4ff 51.5px,#0ff 56.5px,#0ff 65.5px,#0ff 70.5px,#00ffdf 71.5px,#00ffd3 72.5px,#00ffa7 73.5px,#05ff00 80.5px,#5aff00 86.5px,#edff00 94.5px,#f6ff00 95.5px,#f7ff00 98.5px,#edff00 99.5px,#6aff00 104.5px,#54ff00 106.5px,#6dff00 108.5px,#dbff00 112.5px,#fdff00 114.5px,#fe0 116.5px,#ffe200 124.5px,#ffc800 129.5px,#ffb600 130.5px,#ff4800 132.5px,#ff2500 133.5px,#f00 137.5px,#f01 139.5px)"></i>
<i style="left:154px;background:linear-gradient(#0002ff 0.5px,#0012ff 4.5px,#004eff 10.5px,#0070ff 16.5px,#0091ff 33.5px,#00f4ff 51.5px,#0ff 56.5px,#0ff 65.5px,#0ff 70.5px,#00ffbf 71.5px,#01ff00 79.5px,#27ff00 80.5px,#69ff00 86.5px,#f8ff00 94.5px,#fffe00 95.5px,#faff00 99.5px,#bdff00 103.5px,#b3ff00 107.5px,#c2ff00 110.5px,#fdff00 114.5px,#fff100 116.5px,#ffea00 124.5px,#ffda00 128.5px,#ffc800 129.5px,#ff6a00 131.5px,#f50 132.5px,#ff1d00 139.5px)"></i>
<i style="left:156px;background:linear-gradient(#0002ff 0.5px,#0012ff 4.5px,#004eff 10.5px,#0070ff 16.5px,#0091ff 33.5px,#00f4ff 51.5px,#0ff 56.5px,#0ff 65.5px,#0ff 69.5px,#00ffbf 70.5px,#01ff00 78.5px,#1dff00 79.5px,#35ff00 82.5px,#67ff00 86.5px,#e4ff00 93.5px,#fdff00 95.5px,#ff0 98.5px,#c6ff00 103.5px,#c2ff00 109.5px,#fffb00 115.5px,#ffed00 125.5px,#ffdf00 128.5px,#ff9300 131.5px,#ff5200 139.5px)"></i>
<i style="left:158px;background:linear-gradient(#0002ff 0.5px,#0012ff 4.5px,#004eff 10.5px,#0070ff 16.5px,#0091ff 33.5px,#00f4ff 51.5px,#0ff 56.5px,#0ff 65.5px,#0ff 69.5px,#00ffdf 70.5px,#00ffd3 71.5px,#00ffa7 72.5px,#00ff2f 77.5px,#00ff08 79.5px,#08ff00 80.5px,#4fff00 86.5px,#e1ff00 94.5px,#eaff00 95.5px,#e2ff00 99.5px,#94ff00 103.5px,#7fff00 106.5px,#93ff00 109.5px,#e2ff00 113.5px,#ff0 116.5px,#ffed00 126.5px,#ffa400 130.5px,#ff5900 139.5px)"></i>
<i style="left:160px;background:linear-gradient(#0002ff 0.5px,#0012ff 4.5px,#004eff 10.5px,#0070ff 16.5px,#0091ff 33.5px,#00f4ff 51.5px,#0ff 56.5px,#0ff 65.5px,#0ff 71.5px,#00ffbf 72.5px,#01ff00 80.5px,#4f0 86.5px,#d8ff00 94.5px,#e1ff00 95.5px,#e1ff00 98.5px,#d7ff00 99.5px,#4dff00 104.5px,#36ff00 106.5px,#50ff00 108.5px,#c6ff00 112.5px,#f7ff00 115.5px,#fff300 124.5px,#ffeb00 125.5px,#ff9200 127.5px,#ff7400 128.5px,#ff1700 139.5px)"></i>
<i style="left:162px;background:linear-gradient(#0002ff 0.5px,#0012ff 4.5px,#004eff 10.5px,#0070ff 16.5px,#0091ff 33.5px,#00f4ff 51.5px,#0ff 56.5px,#0ff 65.5px,#0ff 70.5px,#00ffdf 71.5px,#00ffd3 72.5px,#00ffa7 73.5px,#00ff2f 78.5px,#00ff08 80.5px,#08ff00 81.5px,#1fff00 82.5px,#61ff00 87.5px,#d4ff00 93.5px,#efff00 95.5px,#f1ff00 98.5px,#e6ff00 99.5px,#5f0 104.5px,#3dff00 106.5px,#4f0 107.5px,#59ff00 108.5px,#d6ff00 112.5px,#fcff00 114.5px,#ffed00 116.5px,#ffd200 126.5px,#ff8200 130.5px,#ff3400 139.5px)"></i>
<i style="left:164px;background:linear-gradient(#0002ff 0.5px,#0012ff 4.5px,#004eff 10.5px,#0070ff 16.5px,#0091ff 33.5px,#00f4ff 51.5px,#0ff 56.5px,#0ff 65.5px,#0ff 67.5px,#00ffa1 70.5px,#00ff43 74.5px,#00ff02 79.5px,#17ff00 82.5px,#4aff00 86.5px,#cbff00 93.5px,#e5ff00 95.5px,#deff00 99.5px,#8bff00 103.5px,#74ff00 106.5px,#8aff00 109.5px,#df0 113.5px,#fcff00 116.5px,#fff500 124.5px,#ffe700 127.5px,#ffdf00 128.5px,#ff9800 131.5px,#ff5400 139.5px)"></i>
<i style="left:166px;background:linear-gradient(#0002ff 0.5px,#0012ff 4.5px,#004eff 10.5px,#0070ff 16.5px,#0091ff 33.5px,#00f4ff 51.5px,#0ff 56.5px,#0ff 65.5px,#0ff 69.5px,#00ffb3 71.5px,#00ff0b 78.5px,#0fff00 79.5px,#26ff00 80.5px,#6aff00 86.5px,#e9ff00 93.5px,#fffc00 95.5px,#feff00 99.5px,#c7ff00 103.5px,#c3ff00 109.5px,#fffd00 114.5px,#ffec00 116.5px,#ffdf00 125.5px,#ffd100 128.5px,#ffa000 131.5px,#ff5d00 139.5px)"></i>
<i style="left:168px;background:linear-gradient(#0002ff 0.5px,#0012ff 4.5px,#004eff 10.5px,#0070ff 16.5px,#0091ff 33.5px,#00f4ff 51.5px,#0ff 56.5px,#0ff 65.5px,#0ff 69.5px,#00ffb3 71.5px,#00ff0b 78.5px,#17ff00 79.5px,#35ff00 80.5px,#7aff00 86.5px,#d5ff00 91.5px,#fff800 94.5px,#fff000 97.5px,#fff800 99.5px,#beff00 103.5px,#b0ff00 107.5px,#bfff00 110.5px,#fffe00 114.5px,#fe0 116.5px,#ffe700 124.5px,#ffd800 128.5px,#f80 139.5px)"></i>
<i style="left:170px;background:linear-gradient(#0002ff 0.5px,#0012ff 4.5px,#004eff 10.5px,#0070ff 16.5px,#0091ff 33.5px,#00f4ff 51.5px,#0ff 56.5px,#0ff 65.5px,#0ff 71.5px,#00ffb3 73.5px,#00ff0b 80.5px,#18ff00 81.5px,#34ff00 82.5px,#68ff00 86.5px,#e9ff00 93.5px,#fffc00 95.5px,#fbff00 99.5px,#a1ff00 103.5px,#87ff00 106.5px,#9dff00 109.5px,#e3ff00 112.5px,#fffc00 114.5px,#ffe900 116.5px,#ffda00 124.5px,#ffc800 128.5px,#ff9300 131.5px,#ff5000 139.5px)"></i>
<i style="left:172px;background:linear-gradient(#0002ff 0.5px,#0012ff 4.5px,#004eff 10.5px,#0070ff 16.5px,#0091ff 33.5px,#00f4ff 51.5px,#0ff 56.5px,#0ff 65.5px,#0ff 69.5px,#00ffbf 70.5px,#00ff03 78.5px,#23ff00 82.5px,#56ff00 86.5px,#d6ff00 93.5px,#efff00 95.5px,#efff00 98.5px,#e4ff00 99.5px,#50ff00 104.5px,#38ff00 106.5px,#3dff00 107.5px,#64ff00 109.5px,#c5ff00 112.5px,#dbff00 113.5px,#feff00 116.5px,#ffe600 127.5px,#ffdb00 128.5px,#ff8000 130.5px,#ff6400 131.5px,#ff2400 139.5px)"></i>
<i style="left:174px;background:linear-gradient(#0002ff 0.5px,#0012ff 4.5px,#004eff 10.5px,#0070ff 16.5px,#0091ff 33.5px,#00f4ff 51.5px,#0ff 56.5px,#0ff 65.5px,#0ff 68.5px,#00ffdf 69.5px,#00ffd3 70.5px,#00ffa7 71.5px,#04ff00 78.5px,#2aff00 80.5px,#6fff00 86.5px,#fffb00 94.5px,#fff000 97.5px,#fff900 99.5px,#f0ff00 100.5px,#8fff00 104.5px,#80ff00 106.5px,#9fff00 109.5px,#efff00 112.5px,#fffb00 113.5px,#ffd800 116.5px,#ffc700 124.5px,#ffb100 128.5px,#ff7f00 129.5px,#ff3500 130.5px,#ff0100 131.5px,#ff0046 139.5px)"></i>
<i style="left:176px;background:linear-gradient(#0002ff 0.5px,#0012ff 4.5px,#004eff 10.5px,#0070ff 16.5px,#0091ff 33.5px,#00f4ff 51.5px,#0ff 56.5px,#0ff 65.5px,#0ff 72.5px,#00ffbf 73.5px,#01ff00 81.5px,#45ff00 82.5px,#79ff00 86.5px,#fbff00 93.5px,#fff300 94.5px,#ffe800 98.5px,#f8ff00 100.5px,#a9ff00 103.5px,#89ff00 106.5px,#a6ff00 109.5px,#f5ff00 112.5px,#fff600 113.5px,#ffd400 116.5px,#ffc400 124.5px,#ffb100 128.5px,#ff8a00 129.5px,#ff3e00 130.5px,#ff0003 131.5px,#ff0015 132.5px,#ff004f 139.5px)"></i>
<i style="left:178px;background:linear-gradient(#0002ff 0.5px,#0012ff 4.5px,#004eff 10.5px,#0070ff 16.5px,#0091ff 33.5px,#00f4ff 51.5px,#0ff 56.5px,#0ff 65.5px,#0ff 72.5px,#00ffb3 74.5px,#00ff0b 81.5px,#1cff00 82.5px,#daff00 93.5px,#f2ff00 95.5px,#f3ff00 98.5px,#e9ff00 99.5px,#85ff00 103.5px,#64ff00 106.5px,#7fff00 109.5px,#c9ff00 112.5px,#f5ff00 115.5px,#fff500 125.5px,#ffe600 127.5px,#ffb300 128.5px,#f60 129.5px,#ff2e00 130.5px,#f00 135.5px,#ff0020 139.5px)"></i>
<i style="left:180px;background:linear-gradient(#0002ff 0.5px,#0012ff 4.5px,#004eff 10.5px,#0070ff 16.5px,#0091ff 33.5px,#00f4ff 51.5px,#0ff 56.5px,#0ff 65.5px,#0ff 72.5px,#00ffbf 73.5px,#0f0 81.5px,#48ff00 86.5px,#c7ff00 93.5px,#e0ff00 95.5px,#dcff00 99.5px,#9fff00 103.5px,#9f0 109.5px,#a0ff00 110.5px,#d0ff00 113.5px,#ecff00 116.5px,#fffe00 126.5px,#ffe100 127.5px,#ff4a00 129.5px,#ff3000 130.5px,#ff0100 136.5px,#ff0018 139.5px)"></i>
<i style="left:182px;background:linear-gradient(#0002ff 0.5px,#0012ff 4.5px,#004eff 10.5px,#0070ff 16.5px,#0091ff 33.5px,#00f4ff 51.5px,#0ff 56.5px,#0ff 65.5px,#0ff 71.5px,#00ffbf 72.5px,#01ff00 80.5px,#1cff00 81.5px,#59ff00 86.5px,#d4ff00 93.5px,#ebff00 95.5px,#eaff00 98.5px,#dfff00 99.5px,#74ff00 103.5px,#60ff00 104.5px,#4fff00 106.5px,#6aff00 109.5px,#b7ff00 112.5px,#e2ff00 115.5px,#f1ff00 125.5px,#feff00 127.5px,#ffb500 128.5px,#ff4800 129.5px,#ff0001 130.5px,#ff0046 139.5px)"></i>
<i style="left:184px;background:linear-gradient(#0002ff 0.5px,#0012ff 4.5px,#004eff 10.5px,#0070ff 16.5px,#0091ff 33.5px,#00f4ff 51.5px,#0ff 56.5px,#0ff 65.5px,#0ff 72.5px,#00ffbf 73.5px,#01ff00 81.5px,#19ff00 82.5px,#4cff00 86.5px,#cbff00 93.5px,#e3ff00 95.5px,#df0 99.5px,#90ff00 103.5px,#81ff00 107.5px,#94ff00 110.5px,#beff00 112.5px,#e5ff00 115.5px,#feff00 126.5px,#ffe700 127.5px,#ff5400 129.5px,#ff3100 130.5px,#ff0300 136.5px,#ff0015 139.5px)"></i>
<i style="left:186px;background:linear-gradient(#0002ff 0.5px,#0012ff 4.5px,#004eff 10.5px,#0070ff 16.5px,#0091ff 33.5px,#00f4ff 51.5px,#0ff 56.5px,#0ff 65.5px,#0ff 73.5px,#00ffb3 75.5px,#00ff0b 82.5px,#1aff00 83.5px,#4fff00 84.5px,#7cff00 87.5px,#feff00 94.5px,#fff300 97.5px,#fffc00 99.5px,#80ff00 104.5px,#6fff00 106.5px,#73ff00 107.5px,#92ff00 109.5px,#fdff00 113.5px,#fd0 116.5px,#ffc900 124.5px,#ffbf00 125.5px,#ff8c00 126.5px,#ff3f00 127.5px,#ff0a00 128.5px,#ff0004 129.5px,#ff0059 139.5px)"></i>
<i style="left:188px;background:linear-gradient(#0002ff 0.5px,#0012ff 4.5px,#004eff 10.5px,#0070ff 16.5px,#0091ff 33.5px,#00f4ff 51.5px,#0ff 56.5px,#0ff 65.5px,#0ff 72.5px,#00ffb3 74.5px,#00ff0b 81.5px,#0aff00 82.5px,#24ff00 83.5px,#4dff00 86.5px,#deff00 94.5px,#e8ff00 97.5px,#d9ff00 99.5px,#bf0 100.5px,#0f0 104.5px,#00ff2b 106.5px,#00ff21 107.5px,#00ff02 108.5px,#b0ff00 112.5px,#deff00 114.5px,#f4ff00 116.5px,#fbff00 118.5px,#fff900 124.5px,#fff100 125.5px,#ffc200 126.5px,#ff7e00 127.5px,#ff5100 128.5px,#ff0600 137.5px,#ff000a 139.5px)"></i>
<i style="left:190px;background:linear-gradient(#0002ff 0.5px,#0012ff 4.5px,#004eff 10.5px,#0070ff 16.5px,#0091ff 33.5px,#00f4ff 51.5px,#0ff 56.5px,#0ff 65.5px,#0ff 72.5px,#00ffdf 73.5px,#00ffd3 74.5px,#00ffa7 75.5px,#03ff00 82.5px,#14ff00 83.5px,#3aff00 84.5px,#d5ff00 93.5px,#ebff00 95.5px,#ecff00 97.5px,#d9ff00 99.5px,#b7ff00 100.5px,#85ff00 101.5px,#04ff00 103.5px,#00ff38 104.5px,#00ff60 105.5px,#00ff73 106.5px,#0f6 107.5px,#00ff07 109.5px,#74ff00 111.5px,#a4ff00 112.5px,#d8ff00 114.5px,#efff00 116.5px,#fffe00 125.5px,#ffec00 126.5px,#ff7100 128.5px,#ff5400 129.5px,#ff0800 139.5px)"></i>
<i style="left:192px;background:linear-gradient(#0002ff 0.5px,#0012ff 4.5px,#004eff 10.5px,#0070ff 16.5px,#0091ff 33.5px,#00f4ff 51.5px,#0ff 56.5px,#0ff 65.5px,#0ff 73.5px,#00ffb3 75.5px,#00ff0b 82.5px,#25ff00 83.5px,#51ff00 84.5px,#ebff00 93.5px,#fffd00 95.5px,#ff0 98.5px,#efff00 99.5px,#cf0 100.5px,#9aff00 101.5px,#18ff00 103.5px,#00ff24 104.5px,#00ff4c 105.5px,#00ff5f 106.5px,#00ff52 107.5px,#0dff00 109.5px,#89ff00 111.5px,#b9ff00 112.5px,#d8ff00 113.5px,#fdff00 115.5px,#ffde00 127.5px,#ffa100 130.5px,#ff5800 139.5px)"></i>
<i style="left:194px;background:linear-gradient(#0002ff 0.5px,#0012ff 4.5px,#004eff 10.5px,#0070ff 16.5px,#0091ff 33.5px,#00f4ff 51.5px,#0ff 56.5px,#0ff 65.5px,#0ff 74.5px,#00ffbf 75.5px,#01ff00 83.5px,#46ff00 84.5px,#e0ff00 93.5px,#f6ff00 95.5px,#f5ff00 98.5px,#e9ff00 99.5px,#a3ff00 101.5px,#15ff00 104.5px,#00ff06 105.5px,#00ff14 106.5px,#00ff0c 107.5px,#12ff00 108.5px,#35ff00 109.5px,#b8ff00 112.5px,#f2ff00 115.5px,#fffd00 118.5px,#fd0 128.5px,#ff8d00 132.5px,#ff5400 139.5px)"></i>
<i style="left:196px;background:linear-gradient(#0002ff 0.5px,#0012ff 4.5px,#004eff 10.5px,#0070ff 16.5px,#0091ff 33.5px,#00f4ff 51.5px,#0ff 56.5px,#0ff 65.5px,#0ff 73.5px,#00ffdf 74.5px,#00ffd3 75.5px,#00ffa7 76.5px,#00ff17 82.5px,#0cff00 83.5px,#1eff00 84.5px,#4eff00 85.5px,#d8ff00 93.5px,#edff00 95.5px,#ebff00 98.5px,#dfff00 99.5px,#c4ff00 100.5px,#2bff00 104.5px,#0bff00 106.5px,#10ff00 107.5px,#3fff00 109.5px,#acff00 112.5px,#c3ff00 113.5px,#e0ff00 115.5px,#e9ff00 117.5px,#fbff00 118.5px,#ff9b00 128.5px,#ff7a00 129.5px,#ff2f00 130.5px,#ff0017 131.5px,#f03 132.5px,#f08 139.5px)"></i>
<i style="left:198px;background:linear-gradient(#0002ff 0.5px,#0012ff 4.5px,#004eff 10.5px,#0070ff 16.5px,#0091ff 33.5px,#00f4ff 51.5px,#0ff 56.5px,#0ff 65.5px,#0ff 72.5px,#00ffdf 73.5px,#00ffd3 74.5px,#00ffa7 75.5px,#04ff00 82.5px,#16ff00 83.5px,#39ff00 84.5px,#d3ff00 93.5px,#ebff00 95.5px,#ebff00 98.5px,#dfff00 99.5px,#c4ff00 100.5px,#31ff00 104.5px,#14ff00 106.5px,#1aff00 107.5px,#48ff00 109.5px,#b5ff00 112.5px,#cf0 113.5px,#f2ff00 116.5px,#fffd00 124.5px,#ffed00 128.5px,#ffd700 129.5px,#ff9500 131.5px,#ff5300 139.5px)"></i>
<i style="left:200px;background:linear-gradient(#0002ff 0.5px,#0012ff 4.5px,#004eff 10.5px,#0070ff 16.5px,#0091ff 33.5px,#00f4ff 51.5px,#0ff 56.5px,#0ff 65.5px,#0ff 74.5px,#00ffbf 75.5px,#01ff00 83.5px,#38ff00 84.5px,#d3ff00 93.5px,#eaff00 95.5px,#e5ff00 99.5px,#93ff00 103.5px,#83ff00 107.5px,#97ff00 110.5px,#c3ff00 112.5px,#ecff00 115.5px,#fffa00 125.5px,#ffe300 129.5px,#ff8e00 132.5px,#ff5600 139.5px)"></i>
<i style="left:202px;background:linear-gradient(#0002ff 0.5px,#0012ff 4.5px,#004eff 10.5px,#0070ff 16.5px,#0091ff 33.5px,#00f4ff 51.5px,#0ff 56.5px,#0ff 65.5px,#0ff 74.5px,#00ffbf 75.5px,#01ff00 83.5px,#46ff00 84.5px,#dfff00 93.5px,#f5ff00 95.5px,#f5ff00 98.5px,#ebff00 99.5px,#7f0 103.5px,#61ff00 104.5px,#4eff00 106.5px,#50ff00 107.5px,#6cff00 109.5px,#c0ff00 112.5px,#efff00 115.5px,#fffd00 124.5px,#ffe800 129.5px,#ffde00 130.5px,#ff5600 133.5px,#ff2600 139.5px)"></i>
<i style="left:204px;background:linear-gradient(#0002ff 0.5px,#0012ff 4.5px,#004eff 10.5px,#0070ff 16.5px,#0091ff 33.5px,#00f4ff 51.5px,#0ff 56.5px,#0ff 65.5px,#0ff 74.5px,#00ffb3 76.5px,#00ff0b 83.5px,#21ff00 84.5px,#49ff00 85.5px,#d4ff00 93.5px,#eaff00 95.5px,#eaff00 98.5px,#e0ff00 99.5px,#4dff00 104.5px,#36ff00 106.5px,#39ff00 107.5px,#59ff00 109.5px,#b2ff00 112.5px,#e2ff00 115.5px,#fffb00 128.5px,#ffe100 129.5px,#ff8900 130.5px,#ff1500 131.5px,#ff0031 132.5px,#ff0043 133.5px,#ff0071 139.5px)"></i>
<i style="left:206px;background:linear-gradient(#0002ff 0.5px,#0012ff 4.5px,#004eff 10.5px,#0070ff 16.5px,#0091ff 33.5px,#00f4ff 51.5px,#0ff 56.5px,#0ff 65.5px,#0ff 71.5px,#00ffb3 73.5px,#00ff0b 80.5px,#10ff00 81.5px,#2dff00 82.5px,#62ff00 86.5px,#c0ff00 91.5px,#f7ff00 95.5px,#f8ff00 98.5px,#ef0 99.5px,#d5ff00 100.5px,#4dff00 104.5px,#32ff00 106.5px,#37ff00 107.5px,#5eff00 109.5px,#c1ff00 112.5px,#f4ff00 115.5px,#fffd00 118.5px,#ffe900 127.5px,#ffe200 128.5px,#ff9800 129.5px,#ff1b00 130.5px,#ff0043 131.5px,#ff0053 132.5px,#ff008a 139.5px)"></i>
<i style="left:208px;background:linear-gradient(#0002ff 0.5px,#0012ff 4.5px,#004eff 10.5px,#0070ff 16.5px,#0091ff 33.5px,#00f4ff 51.5px,#0ff 56.5px,#0ff 65.5px,#0ff 72.5px,#00ffbf 73.5px,#01ff00 81.5px,#2fff00 82.5px,#65ff00 86.5px,#e1ff00 93.5px,#f6ff00 95.5px,#f7ff00 98.5px,#edff00 99.5px,#57ff00 104.5px,#40ff00 106.5px,#42ff00 107.5px,#61ff00 109.5px,#b9ff00 112.5px,#e9ff00 115.5px,#feff00 125.5px,#fff500 128.5px,#ffeb00 129.5px,#ff9000 131.5px,#ff7000 132.5px,#ff3b00 139.5px)"></i>
<i style="left:210px;background:linear-gradient(#0002ff 0.5px,#0012ff 4.5px,#004eff 10.5px,#0070ff 16.5px,#0091ff 33.5px,#00f4ff 51.5px,#0ff 56.5px,#0ff 65.5px,#0ff 70.5px,#00ffdf 71.5px,#00ffd3 72.5px,#00ffa7 73.5px,#02ff00 80.5px,#2cff00 82.5px,#62ff00 86.5px,#c0ff00 91.5px,#f6ff00 95.5px,#f9ff00 98.5px,#f1ff00 99.5px,#8aff00 103.5px,#6dff00 106.5px,#7dff00 109.5px,#d6ff00 113.5px,#f8ff00 116.5px,#fff600 124.5px,#ffe600 128.5px,#ffda00 129.5px,#ff9200 131.5px,#ff7f00 132.5px,#ff4800 139.5px)"></i>
<i style="left:212px;background:linear-gradient(#0002ff 0.5px,#0012ff 4.5px,#004eff 10.5px,#0070ff 16.5px,#0091ff 33.5px,#00f4ff 51.5px,#0ff 56.5px,#0ff 65.5px,#0ff 68.5px,#00ffdf 69.5px,#00ffc7 71.5px,#00ff9b 72.5px,#00ff24 77.5px,#00ff02 79.5px,#24ff00 81.5px,#65ff00 86.5px,#e3ff00 93.5px,#f9ff00 95.5px,#fbff00 98.5px,#f2ff00 99.5px,#80ff00 103.5px,#6dff00 104.5px,#5dff00 106.5px,#72ff00 109.5px,#c1ff00 112.5px,#e4ff00 114.5px,#f7ff00 116.5px,#fff700 124.5px,#ffe700 128.5px,#ffd600 129.5px,#ff8b00 131.5px,#ff7c00 132.5px,#ff4600 139.5px)"></i>
<i style="left:214px;background:linear-gradient(#0002ff 0.5px,#0012ff 4.5px,#004eff 10.5px,#0070ff 16.5px,#0091ff 33.5px,#00f4ff 51.5px,#0ff 56.5px,#0ff 65.5px,#0ff 72.5px,#00ffbf 73.5px,#01ff00 81.5px,#34ff00 82.5px,#6bff00 86.5px,#e8ff00 93.5px,#fcff00 95.5px,#fcff00 98.5px,#f0ff00 99.5px,#d4ff00 100.5px,#36ff00 104.5px,#17ff00 106.5px,#1cff00 107.5px,#47ff00 109.5px,#b7ff00 112.5px,#ceff00 113.5px,#f6ff00 116.5px,#fff900 124.5px,#ffeb00 128.5px,#ffe200 129.5px,#ffa200 131.5px,#ff8c00 132.5px,#ff5800 139.5px)"></i>
<i style="left:216px;background:linear-gradient(#0002ff 0.5px,#0012ff 4.5px,#004eff 10.5px,#0070ff 16.5px,#0091ff 33.5px,#00f4ff 51.5px,#0ff 56.5px,#0ff 65.5px,#0ff 73.5px,#00ffb3 75.5px,#00ff0b 82.5px,#18ff00 83.5px,#48ff00 84.5px,#e4ff00 93.5px,#f9ff00 95.5px,#faff00 98.5px,#efff00 99.5px,#d3ff00 100.5px,#59ff00 103.5px,#3aff00 104.5px,#1dff00 106.5px,#2f0 107.5px,#4cff00 109.5px,#b9ff00 112.5px,#d1ff00 113.5px,#f9ff00 116.5px,#ffe400 128.5px,#ffcf00 129.5px,#ff8000 131.5px,#ff3c00 139.5px)"></i>
<i style="left:218px;background:linear-gradient(#0002ff 0.5px,#0012ff 4.5px,#004eff 10.5px,#0070ff 16.5px,#0091ff 33.5px,#00f4ff 51.5px,#0ff 56.5px,#0ff 65.5px,#0ff 72.5px,#00ffb3 74.5px,#00ff0b 81.5px,#16ff00 82.5px,#30ff00 83.5px,#5aff00 86.5px,#b9ff00 91.5px,#efff00 95.5px,#f0ff00 98.5px,#e4ff00 99.5px,#c9ff00 100.5px,#32ff00 104.5px,#16ff00 106.5px,#1aff00 107.5px,#4f0 109.5px,#b0ff00 112.5px,#c7ff00 113.5px,#efff00 116.5px,#fffe00 124.5px,#fff200 127.5px,#ffe200 128.5px,#ff9000 130.5px,#ff7f00 131.5px,#ff4200 139.5px)"></i>
<i style="left:220px;background:linear-gradient(#0002ff 0.5px,#0012ff 4.5px,#004eff 10.5px,#0070ff 16.5px,#0091ff 33.5px,#00f4ff 51.5px,#0ff 56.5px,#0ff 65.5px,#0ff 72.5px,#00ffb3 74.5px,#00ff0b 81.5px,#0cff00 82.5px,#29ff00 83.5px,#53ff00 86.5px,#b4ff00 91.5px,#ecff00 95.5px,#f0ff00 98.5px,#e7ff00 99.5px,#cfff00 100.5px,#6bff00 103.5px,#53ff00 104.5px,#3eff00 106.5px,#42ff00 107.5px,#61ff00 109.5px,#beff00 112.5px,#e3ff00 114.5px,#f9ff00 116.5px,#fff000 124.5px,#fd0 128.5px,#ffd200 129.5px,#ff9300 132.5px,#ff5900 139.5px)"></i>
<i style="left:222px;background:linear-gradient(#0002ff 0.5px,#0012ff 4.5px,#004eff 10.5px,#0070ff 16.5px,#0091ff 33.5px,#00f4ff 51.5px,#0ff 56.5px,#0ff 65.5px,#0ff 73.5px,#00ffbf 74.5px,#01ff00 82.5px,#27ff00 83.5px,#51ff00 86.5px,#d2ff00 93.5px,#e9ff00 95.5px,#ebff00 98.5px,#e1ff00 99.5px,#c7ff00 100.5px,#2eff00 104.5px,#10ff00 106.5px,#16ff00 107.5px,#4f0 109.5px,#b3ff00 112.5px,#caff00 113.5px,#f2ff00 116.5px,#fff700 124.5px,#ffe500 128.5px,#ff8700 139.5px)"></i>
<i style="left:224px;background:linear-gradient(#0002ff 0.5px,#0012ff 4.5px,#004eff 10.5px,#0070ff 16.5px,#0091ff 33.5px,#00f4ff 51.5px,#0ff 56.5px,#0ff 65.5px,#0ff 72.5px,#00ffbf 73.5px,#01ff00 81.5px,#2eff00 82.5px,#65ff00 86.5px,#e2ff00 93.5px,#f7ff00 95.5px,#f7ff00 98.5px,#ecff00 99.5px,#d1ff00 100.5px,#3aff00 104.5px,#1cff00 106.5px,#20ff00 107.5px,#4aff00 109.5px,#b5ff00 112.5px,#cbff00 113.5px,#f1ff00 116.5px,#fff700 126.5px,#ffec00 127.5px,#ffb300 129.5px,#ffa300 130.5px,#ff6100 139.5px)"></i>
<i style="left:226px;background:linear-gradient(#0002ff 0.5px,#0012ff 4.5px,#004eff 10.5px,#0070ff 16.5px,#0091ff 33.5px,#00f4ff 51.5px,#0ff 56.5px,#0ff 65.5px,#0ff 71.5px,#00ffbf 72.5px,#01ff00 80.5px,#26ff00 81.5px,#58ff00 85.5px,#c6ff00 91.5px,#fbff00 95.5px,#fdff00 98.5px,#f3ff00 99.5px,#dbff00 100.5px,#76ff00 103.5px,#5fff00 104.5px,#4cff00 106.5px,#4dff00 107.5px,#6f0 109.5px,#bdff00 112.5px,#efff00 115.5px,#ff0 118.5px,#ffe800 127.5px,#ffad00 128.5px,#ff3700 129.5px,#ff002d 130.5px,#ff0048 131.5px,#ff0084 139.5px)"></i>
<i style="left:228px;background:linear-gradient(#0002ff 0.5px,#0012ff 4.5px,#004eff 10.5px,#0070ff 16.5px,#0091ff 33.5px,#00f4ff 51.5px,#0ff 56.5px,#0ff 65.5px,#0ff 70.5px,#00ffdf 71.5px,#00ffc7 73.5px,#00ff9b 74.5px,#00ff0a 80.5px,#08ff00 81.5px,#19ff00 82.5px,#3bff00 83.5px,#6f0 86.5px,#b5ff00 90.5px,#faff00 95.5px,#fdff00 98.5px,#f3ff00 99.5px,#d9ff00 100.5px,#6aff00 103.5px,#51ff00 104.5px,#3bff00 106.5px,#3dff00 107.5px,#5bff00 109.5px,#bf0 112.5px,#f1ff00 115.5px,#fffc00 118.5px,#ffde00 128.5px,#ff9c00 129.5px,#f20 130.5px,#ff0040 131.5px,#ff0056 132.5px,#ff008c 139.5px)"></i>
<i style="left:230px;background:linear-gradient(#0002ff 0.5px,#0012ff 4.5px,#004eff 10.5px,#0070ff 16.5px,#0091ff 33.5px,#00f4ff 51.5px,#0ff 56.5px,#0ff 65.5px,#0ff 74.5px,#00ffb3 76.5px,#00ff0b 83.5px,#23ff00 84.5px,#52ff00 85.5px,#9dff00 89.5px,#deff00 93.5px,#f1ff00 95.5px,#f1ff00 98.5px,#e5ff00 99.5px,#c7ff00 100.5px,#39ff00 103.5px,#14ff00 104.5px,#0f0 105.5px,#00ff0f 106.5px,#00ff0a 107.5px,#25ff00 109.5px,#9fff00 112.5px,#dbff00 115.5px,#efff00 119.5px,#fffb00 128.5px,#fff000 129.5px,#ffa000 131.5px,#f80 132.5px,#f50 139.5px)"></i>
<i style="left:232px;background:linear-gradient(#0002ff 0.5px,#0012ff 4.5px,#004eff 10.5px,#0070ff 16.5px,#0091ff 33.5px,#00f4ff 51.5px,#0ff 56.5px,#0ff 65.5px,#0ff 72.5px,#00ffb3 74.5px,#00ff0b 81.5px,#1bff00 82.5px,#3bff00 83.5px,#67ff00 86.5px,#b4ff00 90.5px,#e1ff00 93.5px,#f2ff00 95.5px,#f5ff00 97.5px,#e8ff00 99.5px,#cf0 100.5px,#51ff00 103.5px,#35ff00 104.5px,#1bff00 106.5px,#1cff00 107.5px,#38ff00 109.5px,#9aff00 112.5px,#cfff00 115.5px,#dfff00 118.5px,#f1ff00 128.5px,#ff0 129.5px,#ff7100 131.5px,#ff4800 132.5px,#ff1900 139.5px)"></i>
<i style="left:234px;background:linear-gradient(#0002ff 0.5px,#0012ff 4.5px,#004eff 10.5px,#0070ff 16.5px,#0091ff 33.5px,#00f4ff 51.5px,#0ff 56.5px,#0ff 65.5px,#0ff 72.5px,#00ffdf 73.5px,#00ffc7 75.5px,#00ff9b 76.5px,#00ff23 81.5px,#0f0 82.5px,#26ff00 84.5px,#56ff00 85.5px,#a2ff00 89.5px,#dfff00 93.5px,#f0ff00 95.5px,#f3ff00 97.5px,#e6ff00 99.5px,#caff00 100.5px,#50ff00 103.5px,#35ff00 104.5px,#1cff00 106.5px,#1dff00 107.5px,#36ff00 109.5px,#95ff00 112.5px,#caff00 115.5px,#dbff00 118.5px,#f1ff00 129.5px,#fff100 130.5px,#ff7000 132.5px,#ff5800 133.5px,#ff2f00 139.5px)"></i>
<i style="left:236px;background:linear-gradient(#0002ff 0.5px,#0012ff 4.5px,#004eff 10.5px,#0070ff 16.5px,#0091ff 33.5px,#00f4ff 51.5px,#0ff 56.5px,#0ff 65.5px,#0ff 73.5px,#00ffb3 75.5px,#00ff0b 82.5px,#15ff00 83.5px,#37ff00 84.5px,#a4ff00 90.5px,#d0ff00 93.5px,#e1ff00 95.5px,#e5ff00 97.5px,#d7ff00 99.5px,#b9ff00 100.5px,#2bff00 103.5px,#07ff00 104.5px,#00ff1b 106.5px,#00ff18 107.5px,#00ff05 108.5px,#1f0 109.5px,#86ff00 112.5px,#c0ff00 115.5px,#d5ff00 119.5px,#e3ff00 127.5px,#ff0 129.5px,#ffbd00 131.5px,#ffa800 132.5px,#ff7600 139.5px)"></i>
<i style="left:238px;background:linear-gradient(#0002ff 0.5px,#0012ff 4.5px,#004eff 10.5px,#0070ff 16.5px,#0091ff 33.5px,#00f4ff 51.5px,#0ff 56.5px,#0ff 65.5px,#0ff 72.5px,#00ffdf 73.5px,#00ffd3 74.5px,#00ffa7 75.5px,#03ff00 82.5px,#16ff00 83.5px,#37ff00 84.5px,#a7ff00 90.5px,#d7ff00 93.5px,#eaff00 95.5px,#f0ff00 97.5px,#dfff00 99.5px,#bcff00 100.5px,#01ff00 103.5px,#00ff37 104.5px,#00ff59 105.5px,#00ff6d 106.5px,#00ff63 107.5px,#00ff12 109.5px,#26ff00 110.5px,#6f0 111.5px,#96ff00 112.5px,#cdff00 114.5px,#e7ff00 116.5px,#f8ff00 119.5px,#fff300 126.5px,#ffe300 127.5px,#ff7900 129.5px,#ff6000 130.5px,#ff1c00 139.5px)"></i>
<i style="left:240px;background:linear-gradient(#0002ff 0.5px,#0012ff 4.5px,#004eff 10.5px,#0070ff 16.5px,#0091ff 33.5px,#00f4ff 51.5px,#0ff 56.5px,#0ff 65.5px,#0ff 75.5px,#00ffbf 76.5px,#01ff00 84.5px,#5f0 85.5px,#b8ff00 90.5px,#e8ff00 93.5px,#fcff00 95.5px,#ff0 98.5px,#f2ff00 99.5px,#cfff00 100.5px,#96ff00 101.5px,#10ff00 103.5px,#00ff2a 104.5px,#00ff4f 105.5px,#00ff63 106.5px,#00ff58 107.5px,#00ff02 109.5px,#7aff00 111.5px,#abff00 112.5px,#e3ff00 114.5px,#feff00 116.5px,#ffd500 127.5px,#ffc000 128.5px,#ff6f00 130.5px,#ff2100 139.5px)"></i>
<i style="left:242px;background:linear-gradient(#0002ff 0.5px,#0012ff 4.5px,#004eff 10.5px,#0070ff 16.5px,#0091ff 33.5px,#00f4ff 51.5px,#0ff 56.5px,#0ff 65.5px,#0ff 74.5px,#00ffbf 75.5px,#01ff00 83.5px,#39ff00 84.5px,#a8ff00 90.5px,#d8ff00 93.5px,#ebff00 95.5px,#f0ff00 97.5px,#e1ff00 99.5px,#bfff00 100.5px,#0bff00 103.5px,#00ff4c 105.5px,#00ff5f 106.5px,#0f5 107.5px,#00ff09 109.5px,#98ff00 112.5px,#cf0 114.5px,#e5ff00 116.5px,#fffe00 124.5px,#fff000 127.5px,#ff9c00 130.5px,#ff5700 139.5px)"></i>
<i style="left:244px;background:linear-gradient(#0002ff 0.5px,#0012ff 4.5px,#004eff 10.5px,#0070ff 16.5px,#0091ff 33.5px,#00f4ff 51.5px,#0ff 56.5px,#0ff 65.5px,#0ff 74.5px,#00ffb3 76.5px,#00ff0b 83.5px,#2f0 84.5px,#56ff00 85.5px,#a3ff00 89.5px,#e4ff00 93.5px,#f7ff00 95.5px,#fbff00 97.5px,#eaff00 99.5px,#c6ff00 100.5px,#8eff00 101.5px,#08ff00 103.5px,#00ff58 105.5px,#00ff6d 106.5px,#00ff62 107.5px,#00ff0e 109.5px,#2cff00 110.5px,#6cff00 111.5px,#9cff00 112.5px,#d2ff00 114.5px,#e2ff00 115.5px,#f9ff00 119.5px,#fff600 126.5px,#ffe600 127.5px,#ff9700 129.5px,#ff8700 130.5px,#ff4500 139.5px)"></i>
<i style="left:246px;background:linear-gradient(#0002ff 0.5px,#0012ff 4.5px,#004eff 10.5px,#0070ff 16.5px,#0091ff 33.5px,#00f4ff 51.5px,#0ff 56.5px,#0ff 65.5px,#0ff 75.5px,#00ffbf 76.5px,#01ff00 84.5px,#4eff00 85.5px,#adff00 90.5px,#dbff00 93.5px,#ef0 95.5px,#f1ff00 97.5px,#deff00 99.5px,#b9ff00 100.5px,#3dff00 102.5px,#00ff0c 103.5px,#00ff48 104.5px,#00ff6f 105.5px,#00ff84 106.5px,#00ff79 107.5px,#00ff21 109.5px,#1bff00 110.5px,#5eff00 111.5px,#8fff00 112.5px,#afff00 113.5px,#d8ff00 115.5px,#efff00 119.5px,#fdff00 126.5px,#fff200 127.5px,#ff9600 129.5px,#ff7f00 130.5px,#ff3f00 139.5px)"></i>
<i style="left:248px;background:linear-gradient(#0002ff 0.5px,#0012ff 4.5px,#004eff 10.5px,#0070ff 16.5px,#0091ff 33.5px,#00f4ff 51.5px,#0ff 56.5px,#0ff 65.5px,#0ff 74.5px,#00ffbf 75.5px,#01ff00 83.5px,#32ff00 84.5px,#a0ff00 90.5px,#d0ff00 93.5px,#e3ff00 95.5px,#e8ff00 97.5px,#d9ff00 99.5px,#b9ff00 100.5px,#1eff00 103.5px,#00ff0b 104.5px,#0f3 106.5px,#00ff2d 107.5px,#00ff13 108.5px,#0cff00 109.5px,#94ff00 112.5px,#c5ff00 114.5px,#df0 116.5px,#fffe00 127.5px,#fe0 128.5px,#ff9c00 130.5px,#ff8a00 131.5px,#ff4e00 139.5px)"></i>
<i style="left:250px;background:linear-gradient(#0002ff 0.5px,#0012ff 4.5px,#004eff 10.5px,#0070ff 16.5px,#0091ff 33.5px,#00f4ff 51.5px,#0ff 56.5px,#0ff 65.5px,#0ff 74.5px,#00ffbf 75.5px,#01ff00 83.5px,#3bff00 84.5px,#bf0 91.5px,#f0ff00 95.5px,#f6ff00 98.5px,#efff00 99.5px,#7aff00 103.5px,#6aff00 104.5px,#5dff00 107.5px,#6aff00 109.5px,#7dff00 110.5px,#b9ff00 112.5px,#deff00 114.5px,#fbff00 117.5px,#ffdb00 128.5px,#ff8600 139.5px)"></i>
<i style="left:252px;background:linear-gradient(#0002ff 0.5px,#0012ff 4.5px,#004eff 10.5px,#0070ff 16.5px,#0091ff 33.5px,#00f4ff 51.5px,#0ff 56.5px,#0ff 65.5px,#0ff 74.5px,#00ffbf 75.5px,#01ff00 83.5px,#3eff00 84.5px,#bfff00 91.5px,#f4ff00 95.5px,#fbff00 97.5px,#f1ff00 99.5px,#d7ff00 100.5px,#6f0 103.5px,#4fff00 104.5px,#3bff00 106.5px,#3cff00 107.5px,#56ff00 109.5px,#b8ff00 112.5px,#e2ff00 114.5px,#faff00 116.5px,#ffd500 128.5px,#ff7f00 139.5px)"></i>
<i style="left:254px;background:linear-gradient(#0002ff 0.5px,#0012ff 4.5px,#004eff 10.5px,#0070ff 16.5px,#0091ff 33.5px,#00f4ff 51.5px,#0ff 56.5px,#0ff 65.5px,#0ff 74.5px,#00ffbf 75.5px,#01ff00 83.5px,#3eff00 84.5px,#acff00 90.5px,#daff00 93.5px,#ecff00 95.5px,#f2ff00 97.5px,#e6ff00 99.5px,#cbff00 100.5px,#5f0 103.5px,#3cff00 104.5px,#25ff00 106.5px,#26ff00 107.5px,#3eff00 109.5px,#9fff00 112.5px,#c7ff00 114.5px,#df0 116.5px,#fffd00 127.5px,#ffce00 131.5px,#ff9400 139.5px)"></i>
<i style="left:256px;background:linear-gradient(#0002ff 0.5px,#0012ff 4.5px,#004eff 10.5px,#0070ff 16.5px,#0091ff 33.5px,#00f4ff 51.5px,#0ff 56.5px,#0ff 65.5px,#0ff 74.5px,#00ffbf 75.5px,#01ff00 83.5px,#3bff00 84.5px,#af0 90.5px,#d6ff00 93.5px,#e7ff00 95.5px,#ecff00 97.5px,#df0 99.5px,#beff00 100.5px,#25ff00 103.5px,#00ff02 104.5px,#00ff27 106.5px,#00ff23 107.5px,#00ff0d 108.5px,#0cff00 109.5px,#8aff00 112.5px,#c8ff00 115.5px,#dbff00 118.5px,#e8ff00 125.5px,#ff0 130.5px,#ffc100 139.5px)"></i>
<i style="left:258px;background:linear-gradient(#0002ff 0.5px,#0012ff 4.5px,#004eff 10.5px,#0070ff 16.5px,#0091ff 33.5px,#00f4ff 51.5px,#0ff 56.5px,#0ff 65.5px,#0ff 74.5px,#00ffbf 75.5px,#01ff00 83.5px,#2aff00 84.5px,#9bff00 90.5px,#cbff00 93.5px,#deff00 95.5px,#e5ff00 97.5px,#d5ff00 99.5px,#b3ff00 100.5px,#00ff04 103.5px,#00ff39 104.5px,#00ff6d 106.5px,#00ff64 107.5px,#00ff18 109.5px,#1eff00 110.5px,#5cff00 111.5px,#8bff00 112.5px,#c2ff00 114.5px,#dcff00 116.5px,#efff00 119.5px,#fffa00 126.5px,#ffba00 129.5px,#ff6a00 139.5px)"></i>
<i style="left:260px;background:linear-gradient(#0002ff 0.5px,#0012ff 4.5px,#004eff 10.5px,#0070ff 16.5px,#0091ff 33.5px,#00f4ff 51.5px,#0ff 56.5px,#0ff 65.5px,#0ff 74.5px,#00ffbf 75.5px,#01ff00 83.5px,#28ff00 84.5px,#98ff00 90.5px,#c6ff00 93.5px,#d8ff00 95.5px,#df0 97.5px,#cdff00 99.5px,#a9ff00 100.5px,#31ff00 102.5px,#00ff14 103.5px,#00ff4b 104.5px,#00ff81 106.5px,#00ff78 107.5px,#00ff2c 109.5px,#0bff00 110.5px,#4aff00 111.5px,#79ff00 112.5px,#b0ff00 114.5px,#c9ff00 116.5px,#f4ff00 127.5px,#fff300 128.5px,#ffb300 130.5px,#ffa500 131.5px,#ff6b00 139.5px)"></i>
<i style="left:262px;background:linear-gradient(#0002ff 0.5px,#0012ff 4.5px,#004eff 10.5px,#0070ff 16.5px,#0091ff 33.5px,#00f4ff 51.5px,#0ff 56.5px,#0ff 65.5px,#0ff 74.5px,#00ffbf 75.5px,#01ff00 83.5px,#4cff00 84.5px,#bcff00 90.5px,#e8ff00 93.5px,#f9ff00 95.5px,#feff00 97.5px,#ecff00 99.5px,#c8ff00 100.5px,#05ff00 103.5px,#00ff34 104.5px,#00ff57 105.5px,#00ff6c 106.5px,#00ff63 107.5px,#00ff15 109.5px,#2f0 110.5px,#63ff00 111.5px,#93ff00 112.5px,#caff00 114.5px,#e3ff00 116.5px,#f5ff00 119.5px,#fff300 128.5px,#ffe900 129.5px,#ffb900 131.5px,#ffac00 132.5px,#ff7a00 139.5px)"></i>
<i style="left:264px;background:linear-gradient(#0002ff 0.5px,#0012ff 4.5px,#004eff 10.5px,#0070ff 16.5px,#0091ff 33.5px,#00f4ff 51.5px,#0ff 56.5px,#0ff 65.5px,#0ff 73.5px,#00ffb3 75.5px,#00ff0b 82.5px,#1dff00 83.5px,#53ff00 84.5px,#c3ff00 90.5px,#fbff00 94.5px,#fffc00 98.5px,#f4ff00 99.5px,#cfff00 100.5px,#05ff00 103.5px,#00ff38 104.5px,#00ff5d 105.5px,#00ff73 106.5px,#00ff69 107.5px,#00ff16 109.5px,#25ff00 110.5px,#68ff00 111.5px,#9f0 112.5px,#d2ff00 114.5px,#ebff00 116.5px,#fdff00 119.5px,#ffed00 127.5px,#ffd900 128.5px,#ff9800 130.5px,#f50 139.5px)"></i>
<i style="left:266px;background:linear-gradient(#0002ff 0.5px,#0012ff 4.5px,#004eff 10.5px,#0070ff 16.5px,#0091ff 33.5px,#00f4ff 51.5px,#0ff 56.5px,#0ff 65.5px,#0ff 73.5px,#00ffbf 74.5px,#01ff00 82.5px,#36ff00 83.5px,#64ff00 86.5px,#b8ff00 90.5px,#e7ff00 93.5px,#f9ff00 95.5px,#fffe00 97.5px,#edff00 99.5px,#c5ff00 100.5px,#37ff00 102.5px,#00ff1c 103.5px,#00ff62 104.5px,#00ff8f 105.5px,#00ff9e 106.5px,#00ff97 107.5px,#00ff32 109.5px,#14ff00 110.5px,#60ff00 111.5px,#98ff00 112.5px,#bcff00 113.5px,#d8ff00 114.5px,#f5ff00 116.5px,#fff900 118.5px,#ffdf00 126.5px,#ffcb00 127.5px,#ff8000 129.5px,#ff7200 130.5px,#ff2c00 139.5px)"></i>
<i style="left:268px;background:linear-gradient(#0002ff 0.5px,#0012ff 4.5px,#004eff 10.5px,#0070ff 16.5px,#0091ff 33.5px,#00f4ff 51.5px,#0ff 56.5px,#0ff 65.5px,#0ff 72.5px,#00ffbf 73.5px,#01ff00 81.5px,#2bff00 82.5px,#67ff00 86.5px,#baff00 90.5px,#e8ff00 93.5px,#faff00 95.5px,#fcff00 98.5px,#ecff00 99.5px,#c2ff00 100.5px,#30ff00 102.5px,#00ff25 103.5px,#00ff6d 104.5px,#00ff91 105.5px,#00ff9d 106.5px,#00ff97 107.5px,#0f7 108.5px,#00ff3d 109.5px,#0bff00 110.5px,#59ff00 111.5px,#92ff00 112.5px,#d4ff00 114.5px,#f0ff00 116.5px,#fffe00 118.5px,#ffe500 126.5px,#ffd600 127.5px,#ff8b00 129.5px,#ff7900 130.5px,#ff3600 139.5px)"></i>
<i style="left:270px;background:linear-gradient(#0002ff 0.5px,#0012ff 4.5px,#004eff 10.5px,#0070ff 16.5px,#0091ff 33.5px,#00f4ff 51.5px,#0ff 56.5px,#0ff 65.5px,#0ff 72.5px,#00ffbf 73.5px,#00ff03 81.5px,#4dff00 86.5px,#9fff00 90.5px,#cbff00 93.5px,#dbff00 95.5px,#e0ff00 97.5px,#c8ff00 99.5px,#9bff00 100.5px,#00ff09 102.5px,#00ff6a 103.5px,#00ff9f 104.5px,#00ff9f 108.5px,#00ff86 109.5px,#0f3 110.5px,#24ff00 111.5px,#63ff00 112.5px,#8bff00 113.5px,#a9ff00 114.5px,#c6ff00 116.5px,#d9ff00 119.5px,#ef0 127.5px,#fff900 128.5px,#ffad00 130.5px,#ff6a00 139.5px)"></i>
<i style="left:272px;background:linear-gradient(#0002ff 0.5px,#0012ff 4.5px,#004eff 10.5px,#0070ff 16.5px,#0091ff 33.5px,#00f4ff 51.5px,#0ff 56.5px,#0ff 65.5px,#0ff 71.5px,#00ffb3 73.5px,#00ff0b 80.5px,#0aff00 81.5px,#58ff00 86.5px,#af0 90.5px,#d5ff00 93.5px,#e4ff00 95.5px,#e9ff00 97.5px,#d5ff00 99.5px,#abff00 100.5px,#1aff00 102.5px,#00ff3b 103.5px,#00ff7f 104.5px,#00ff9e 106.5px,#0f9 107.5px,#00ff86 108.5px,#00ff59 109.5px,#00ff15 110.5px,#37ff00 111.5px,#6eff00 112.5px,#90ff00 113.5px,#acff00 114.5px,#c7ff00 116.5px,#daff00 119.5px,#ecff00 127.5px,#feff00 129.5px,#ffb400 139.5px)"></i>
<i style="left:274px;background:linear-gradient(#0002ff 0.5px,#0012ff 4.5px,#004eff 10.5px,#0070ff 16.5px,#0091ff 33.5px,#00f4ff 51.5px,#0ff 56.5px,#0ff 65.5px,#0ff 71.5px,#00ffbf 72.5px,#01ff00 80.5px,#63ff00 86.5px,#b7ff00 90.5px,#e4ff00 93.5px,#f4ff00 95.5px,#fbff00 97.5px,#eaff00 99.5px,#c5ff00 100.5px,#00ff02 103.5px,#00ff39 104.5px,#00ff6f 106.5px,#00ff67 107.5px,#00ff1e 109.5px,#19ff00 110.5px,#5bff00 111.5px,#8cff00 112.5px,#c6ff00 114.5px,#e2ff00 116.5px,#f8ff00 119.5px,#fe0 127.5px,#ffb300 130.5px,#ff7200 139.5px)"></i>
<i style="left:276px;background:linear-gradient(#0002ff 0.5px,#0012ff 4.5px,#004eff 10.5px,#0070ff 16.5px,#0091ff 33.5px,#00f4ff 51.5px,#0ff 56.5px,#0ff 65.5px,#0ff 71.5px,#00ffbf 72.5px,#01ff00 80.5px,#65ff00 86.5px,#b9ff00 90.5px,#e6ff00 93.5px,#f6ff00 95.5px,#fdff00 97.5px,#ecff00 99.5px,#c5ff00 100.5px,#3dff00 102.5px,#00ff0e 103.5px,#00ff49 104.5px,#00ff82 106.5px,#00ff7a 107.5px,#00ff2b 109.5px,#10ff00 110.5px,#56ff00 111.5px,#8aff00 112.5px,#c7ff00 114.5px,#daff00 115.5px,#f6ff00 118.5px,#ffe500 128.5px,#ff9100 139.5px)"></i>
<i style="left:278px;background:linear-gradient(#0002ff 0.5px,#0012ff 4.5px,#004eff 10.5px,#0070ff 16.5px,#0091ff 33.5px,#00f4ff 51.5px,#0ff 56.5px,#0ff 65.5px,#0ff 72.5px,#00ffbf 73.5px,#00ff01 81.5px,#3dff00 85.5px,#a5ff00 90.5px,#d1ff00 93.5px,#e5ff00 96.5px,#e4ff00 98.5px,#d6ff00 99.5px,#acff00 100.5px,#15ff00 102.5px,#00ff3f 103.5px,#00ff84 104.5px,#00ff9f 105.5px,#00ff9f 107.5px,#00ff91 108.5px,#00ff5e 109.5px,#00ff1a 110.5px,#35ff00 111.5px,#6dff00 112.5px,#b0ff00 114.5px,#c4ff00 115.5px,#e1ff00 118.5px,#fdff00 126.5px,#ff9600 139.5px)"></i>
<i style="left:280px;background:linear-gradient(#0002ff 0.5px,#0012ff 4.5px,#004eff 10.5px,#0070ff 16.5px,#0091ff 33.5px,#00f4ff 51.5px,#0ff 56.5px,#0ff 65.5px,#0ff 72.5px,#00ffbf 73.5px,#00ff17 80.5px,#00ff04 81.5px,#0bff00 82.5px,#4cff00 86.5px,#a2ff00 90.5px,#cdff00 93.5px,#e6ff00 97.5px,#d8ff00 99.5px,#b5ff00 100.5px,#00ff06 103.5px,#00ff34 104.5px,#00ff60 106.5px,#00ff5b 107.5px,#00ff25 109.5px,#0aff00 110.5px,#47ff00 111.5px,#74ff00 112.5px,#adff00 114.5px,#deff00 118.5px,#fdff00 126.5px,#ffdc00 129.5px,#ff9300 139.5px)"></i>
<i style="left:282px;background:linear-gradient(#0002ff 0.5px,#0012ff 4.5px,#004eff 10.5px,#0070ff 16.5px,#0091ff 33.5px,#00f4ff 51.5px,#0ff 56.5px,#0ff 65.5px,#0ff 73.5px,#00ffb3 75.5px,#00ff0b 82.5px,#19ff00 83.5px,#45ff00 84.5px,#bdff00 90.5px,#e9ff00 93.5px,#feff00 96.5px,#f7ff00 99.5px,#d6ff00 100.5px,#31ff00 103.5px,#0dff00 104.5px,#00ff14 106.5px,#00ff13 107.5px,#0f0 108.5px,#13ff00 109.5px,#96ff00 112.5px,#cbff00 114.5px,#fbff00 118.5px,#ffdb00 127.5px,#ff7900 130.5px,#ff3600 139.5px)"></i>
<i style="left:284px;background:linear-gradient(#0002ff 0.5px,#0012ff 4.5px,#004eff 10.5px,#0070ff 16.5px,#0091ff 33.5px,#00f4ff 51.5px,#0ff 56.5px,#0ff 65.5px,#0ff 74.5px,#00ffbf 75.5px,#01ff00 83.5px,#39ff00 84.5px,#b1ff00 90.5px,#deff00 93.5px,#f8ff00 97.5px,#edff00 99.5px,#ceff00 100.5px,#31ff00 103.5px,#1f0 104.5px,#02ff00 105.5px,#00ff0c 107.5px,#14ff00 109.5px,#35ff00 110.5px,#90ff00 112.5px,#c4ff00 114.5px,#f4ff00 118.5px,#fffd00 121.5px,#ffe000 128.5px,#ff8400 131.5px,#ff4700 139.5px)"></i>
<i style="left:286px;background:linear-gradient(#0002ff 0.5px,#0012ff 4.5px,#004eff 10.5px,#0070ff 16.5px,#0091ff 33.5px,#00f4ff 51.5px,#0ff 56.5px,#0ff 65.5px,#0ff 73.5px,#00ffb3 75.5px,#00ff0b 82.5px,#1fff00 83.5px,#3fff00 84.5px,#b8ff00 90.5px,#efff00 94.5px,#ff0 97.5px,#f3ff00 99.5px,#d2ff00 100.5px,#28ff00 103.5px,#0f0 104.5px,#00ff13 105.5px,#00ff23 106.5px,#00ff21 107.5px,#0bff00 109.5px,#96ff00 112.5px,#b2ff00 113.5px,#dfff00 115.5px,#feff00 118.5px,#ffd400 128.5px,#f90 131.5px,#ff5c00 139.5px)"></i>
<i style="left:288px;background:linear-gradient(#0002ff 0.5px,#0012ff 4.5px,#004eff 10.5px,#0070ff 16.5px,#0091ff 33.5px,#00f4ff 51.5px,#0ff 56.5px,#0ff 65.5px,#0ff 73.5px,#00ffbf 74.5px,#01ff00 82.5px,#30ff00 83.5px,#62ff00 86.5px,#b7ff00 90.5px,#e3ff00 93.5px,#f6ff00 96.5px,#f6ff00 98.5px,#eaff00 99.5px,#c3ff00 100.5px,#3bff00 102.5px,#00ff0f 103.5px,#00ff48 104.5px,#00ff7f 106.5px,#00ff78 107.5px,#00ff2f 109.5px,#09ff00 110.5px,#4eff00 111.5px,#81ff00 112.5px,#beff00 114.5px,#ef0 118.5px,#ff0 123.5px,#ffeb00 128.5px,#ffa300 132.5px,#ff7000 139.5px)"></i>
<i style="left:290px;background:linear-gradient(#0002ff 0.5px,#0012ff 4.5px,#004eff 10.5px,#0070ff 16.5px,#0091ff 33.5px,#00f4ff 51.5px,#0ff 56.5px,#0ff 65.5px,#0ff 73.5px,#00ffbf 74.5px,#01ff00 82.5px,#4fff00 83.5px,#80ff00 86.5px,#d5ff00 90.5px,#fffd00 93.5px,#ffe600 97.5px,#fff700 99.5px,#e0ff00 100.5px,#0bff00 103.5px,#00ff2f 104.5px,#00ff68 106.5px,#00ff60 107.5px,#00ff14 109.5px,#26ff00 110.5px,#6cff00 111.5px,#9fff00 112.5px,#dcff00 114.5px,#f9ff00 116.5px,#ffca00 129.5px,#ffbd00 130.5px,#ff8900 132.5px,#ff7c00 133.5px,#ff5000 139.5px)"></i>
<i style="left:292px;background:linear-gradient(#0002ff 0.5px,#0012ff 4.5px,#004eff 10.5px,#0070ff 16.5px,#0091ff 33.5px,#00f4ff 51.5px,#0ff 56.5px,#0ff 65.5px,#0ff 73.5px,#00ffbf 74.5px,#01ff00 82.5px,#3f0 83.5px,#64ff00 86.5px,#a6ff00 89.5px,#e1ff00 93.5px,#efff00 95.5px,#f7ff00 97.5px,#eaff00 99.5px,#c9ff00 100.5px,#25ff00 103.5px,#0f0 104.5px,#00ff23 106.5px,#0f2 107.5px,#00ff10 108.5px,#03ff00 109.5px,#82ff00 112.5px,#b4ff00 114.5px,#dfff00 118.5px,#fffc00 128.5px,#ffd100 131.5px,#ff9a00 139.5px)"></i>
<i style="left:294px;background:linear-gradient(#0002ff 0.5px,#0012ff 4.5px,#004eff 10.5px,#0070ff 16.5px,#0091ff 33.5px,#00f4ff 51.5px,#0ff 56.5px,#0ff 65.5px,#0ff 73.5px,#00ffbf 74.5px,#01ff00 82.5px,#38ff00 83.5px,#69ff00 86.5px,#bf0 90.5px,#edff00 94.5px,#f8ff00 97.5px,#ecff00 99.5px,#ceff00 100.5px,#3eff00 103.5px,#21ff00 104.5px,#07ff00 106.5px,#05ff00 107.5px,#19ff00 109.5px,#34ff00 110.5px,#82ff00 112.5px,#afff00 114.5px,#d8ff00 118.5px,#ef0 127.5px,#fffd00 129.5px,#ffdc00 131.5px,#ffa700 139.5px)"></i>
<i style="left:296px;background:linear-gradient(#0002ff 0.5px,#0012ff 4.5px,#004eff 10.5px,#0070ff 16.5px,#0091ff 33.5px,#00f4ff 51.5px,#0ff 56.5px,#0ff 65.5px,#0ff 73.5px,#00ffb3 75.5px,#00ff0b 82.5px,#1aff00 83.5px,#46ff00 84.5px,#a9ff00 89.5px,#e5ff00 93.5px,#f3ff00 95.5px,#fbff00 97.5px,#ef0 99.5px,#cdff00 100.5px,#2eff00 103.5px,#0cff00 104.5px,#00ff15 106.5px,#00ff14 107.5px,#00ff05 108.5px,#0cff00 109.5px,#2dff00 110.5px,#86ff00 112.5px,#b7ff00 114.5px,#e2ff00 118.5px,#ff0 128.5px,#ffae00 139.5px)"></i>
<i style="left:298px;background:linear-gradient(#0002ff 0.5px,#0012ff 4.5px,#004eff 10.5px,#0070ff 16.5px,#0091ff 33.5px,#00f4ff 51.5px,#0ff 56.5px,#0ff 65.5px,#0ff 73.5px,#00ffb3 75.5px,#00ff0b 82.5px,#2dff00 83.5px,#62ff00 84.5px,#d8ff00 90.5px,#fffc00 93.5px,#ffe700 97.5px,#fff600 99.5px,#e4ff00 100.5px,#27ff00 103.5px,#00ff07 104.5px,#00ff34 106.5px,#00ff30 107.5px,#04ff00 109.5px,#31ff00 110.5px,#6dff00 111.5px,#9aff00 112.5px,#b6ff00 113.5px,#e3ff00 115.5px,#ff0 118.5px,#ffe100 128.5px,#ff9600 139.5px)"></i>
<i style="left:300px;background:linear-gradient(#0002ff 0.5px,#0012ff 4.5px,#004eff 10.5px,#0070ff 16.5px,#0091ff 33.5px,#00f4ff 51.5px,#0ff 56.5px,#0ff 65.5px,#0ff 73.5px,#00ffbf 74.5px,#01ff00 82.5px,#36ff00 83.5px,#68ff00 86.5px,#bcff00 90.5px,#efff00 94.5px,#fbff00 97.5px,#e9ff00 99.5px,#c0ff00 100.5px,#30ff00 102.5px,#00ff20 103.5px,#00ff5f 104.5px,#00ff85 105.5px,#00ff93 106.5px,#00ff90 107.5px,#00ff6f 108.5px,#00ff43 109.5px,#00ff06 110.5px,#42ff00 111.5px,#7f0 112.5px,#b5ff00 114.5px,#e3ff00 118.5px,#ff0 127.5px,#ffb200 139.5px)"></i>
<i style="left:302px;background:linear-gradient(#0002ff 0.5px,#0012ff 4.5px,#004eff 10.5px,#0070ff 16.5px,#0091ff 33.5px,#00f4ff 51.5px,#0ff 56.5px,#0ff 65.5px,#0ff 73.5px,#00ffbf 74.5px,#01ff00 82.5px,#3cff00 83.5px,#6dff00 86.5px,#c4ff00 90.5px,#f0ff00 93.5px,#ff0 95.5px,#fff500 97.5px,#f5ff00 99.5px,#caff00 100.5px,#2cff00 102.5px,#00ff30 103.5px,#00ff7a 104.5px,#00ff9f 105.5px,#00ff9f 107.5px,#00ff87 108.5px,#00ff4e 109.5px,#00ff04 110.5px,#4fff00 111.5px,#8bff00 112.5px,#b1ff00 113.5px,#e5ff00 115.5px,#faff00 117.5px,#ffd100 128.5px,#ffa000 131.5px,#ff6200 139.5px)"></i>
<i style="left:304px;background:linear-gradient(#0002ff 0.5px,#0012ff 4.5px,#004eff 10.5px,#0070ff 16.5px,#0091ff 33.5px,#00f4ff 51.5px,#0ff 56.5px,#0ff 65.5px,#0ff 73.5px,#00ffbf 74.5px,#01ff00 82.5px,#35ff00 83.5px,#67ff00 86.5px,#abff00 89.5px,#ebff00 93.5px,#fbff00 95.5px,#fffc00 98.5px,#f4ff00 99.5px,#caff00 100.5px,#30ff00 102.5px,#00ff29 103.5px,#00ff71 104.5px,#00ff9d 105.5px,#00ff9f 107.5px,#00ff7c 108.5px,#00ff45 109.5px,#03ff00 110.5px,#5f0 111.5px,#8fff00 112.5px,#b5ff00 113.5px,#e9ff00 115.5px,#feff00 117.5px,#ffbe00 129.5px,#ff7c00 130.5px,#ff2400 131.5px,#ff0013 132.5px,#ff004b 139.5px)"></i>
<i style="left:306px;background:linear-gradient(#0002ff 0.5px,#0012ff 4.5px,#004eff 10.5px,#0070ff 16.5px,#0091ff 33.5px,#00f4ff 51.5px,#0ff 56.5px,#0ff 65.5px,#0ff 73.5px,#00ffbf 74.5px,#01ff00 82.5px,#2bff00 83.5px,#5cff00 86.5px,#b4ff00 90.5px,#ecff00 94.5px,#fcff00 97.5px,#edff00 99.5px,#c7ff00 100.5px,#3cff00 102.5px,#00ff10 103.5px,#00ff4c 104.5px,#00ff85 106.5px,#00ff7c 107.5px,#00ff2c 109.5px,#10ff00 110.5px,#58ff00 111.5px,#8cff00 112.5px,#cf0 114.5px,#e0ff00 115.5px,#fffe00 118.5px,#ffd200 128.5px,#ffa700 129.5px,#ff0800 131.5px,#ff0043 139.5px)"></i>
<i style="left:308px;background:linear-gradient(#0002ff 0.5px,#0012ff 4.5px,#004eff 10.5px,#0070ff 16.5px,#0091ff 33.5px,#00f4ff 51.5px,#0ff 56.5px,#0ff 65.5px,#0ff 73.5px,#00ffbf 74.5px,#01ff00 82.5px,#26ff00 83.5px,#57ff00 86.5px,#aeff00 90.5px,#e5ff00 94.5px,#f5ff00 97.5px,#e8ff00 99.5px,#c7ff00 100.5px,#18ff00 103.5px,#0f1 104.5px,#00ff37 106.5px,#00ff34 107.5px,#00ff06 109.5px,#24ff00 110.5px,#5eff00 111.5px,#89ff00 112.5px,#c1ff00 114.5px,#f2ff00 118.5px,#fffc00 122.5px,#ffe000 128.5px,#ff9100 131.5px,#ff5400 139.5px)"></i>
<i style="left:310px;background:linear-gradient(#0002ff 0.5px,#0012ff 4.5px,#004eff 10.5px,#0070ff 16.5px,#0091ff 33.5px,#00f4ff 51.5px,#0ff 56.5px,#0ff 65.5px,#0ff 73.5px,#00ffbf 74.5px,#01ff00 82.5px,#3fff00 83.5px,#70ff00 86.5px,#c5ff00 90.5px,#f0ff00 93.5px,#feff00 95.5px,#fff600 97.5px,#fdff00 99.5px,#dfff00 100.5px,#4eff00 103.5px,#32ff00 104.5px,#1aff00 106.5px,#18ff00 107.5px,#2dff00 109.5px,#48ff00 110.5px,#9aff00 112.5px,#caff00 114.5px,#f7ff00 118.5px,#ffe900 127.5px,#ffe000 128.5px,#ffae00 130.5px,#ffa000 131.5px,#ff6800 139.5px)"></i>
<i style="left:312px;background:linear-gradient(#0002ff 0.5px,#0012ff 4.5px,#004eff 10.5px,#0070ff 16.5px,#0091ff 33.5px,#00f4ff 51.5px,#0ff 56.5px,#0ff 65.5px,#0ff 73.5px,#00ffbf 74.5px,#01ff00 82.5px,#2eff00 83.5px,#5fff00 86.5px,#b6ff00 90.5px,#edff00 94.5px,#fdff00 97.5px,#efff00 99.5px,#cdff00 100.5px,#1cff00 103.5px,#00ff0d 104.5px,#0f3 106.5px,#00ff30 107.5px,#00ff02 109.5px,#90ff00 112.5px,#adff00 113.5px,#dbff00 115.5px,#faff00 118.5px,#ffe000 127.5px,#ffa700 130.5px,#ff6100 139.5px)"></i>
<i style="left:314px;background:linear-gradient(#0002ff 0.5px,#0012ff 4.5px,#004eff 10.5px,#0070ff 16.5px,#0091ff 33.5px,#00f4ff 51.5px,#0ff 56.5px,#0ff 65.5px,#0ff 73.5px,#00ffb3 75.5px,#00ff0b 82.5px,#14ff00 83.5px,#41ff00 84.5px,#baff00 90.5px,#f0ff00 94.5px,#ff0 97.5px,#f0ff00 99.5px,#cbff00 100.5px,#06ff00 103.5px,#00ff2c 104.5px,#00ff5c 106.5px,#00ff56 107.5px,#00ff19 109.5px,#1aff00 110.5px,#5bff00 111.5px,#8bff00 112.5px,#c7ff00 114.5px,#f9ff00 118.5px,#ffe200 127.5px,#ff8300 139.5px)"></i>
<i style="left:316px;background:linear-gradient(#0002ff 0.5px,#0012ff 4.5px,#004eff 10.5px,#0070ff 16.5px,#0091ff 33.5px,#00f4ff 51.5px,#0ff 56.5px,#0ff 65.5px,#0ff 73.5px,#00ffbf 74.5px,#01ff00 82.5px,#2eff00 83.5px,#5fff00 86.5px,#b4ff00 90.5px,#dfff00 93.5px,#f2ff00 96.5px,#f1ff00 98.5px,#e3ff00 99.5px,#bf0 100.5px,#2bff00 102.5px,#00ff24 103.5px,#00ff61 104.5px,#00ff9d 106.5px,#00ff95 107.5px,#00ff71 108.5px,#00ff45 109.5px,#00ff09 110.5px,#76ff00 112.5px,#b5ff00 114.5px,#c9ff00 115.5px,#e6ff00 118.5px,#fff600 128.5px,#ffa500 139.5px)"></i>
<i style="left:318px;background:linear-gradient(#0002ff 0.5px,#0012ff 4.5px,#004eff 10.5px,#0070ff 16.5px,#0091ff 33.5px,#00f4ff 51.5px,#0ff 56.5px,#0ff 65.5px,#0ff 73.5px,#00ffbf 74.5px,#0f0 82.5px,#41ff00 86.5px,#97ff00 90.5px,#cf0 94.5px,#daff00 97.5px,#c7ff00 99.5px,#9eff00 100.5px,#0aff00 102.5px,#00ff8b 104.5px,#00ff9f 105.5px,#00ff97 108.5px,#00ff69 109.5px,#00ff28 110.5px,#24ff00 111.5px,#5bff00 112.5px,#9cff00 114.5px,#b0ff00 115.5px,#ceff00 118.5px,#fcff00 129.5px,#ffce00 132.5px,#ff9a00 139.5px)"></i>
<i style="left:320px;background:linear-gradient(#0002ff 0.5px,#0012ff 4.5px,#004eff 10.5px,#0070ff 16.5px,#0091ff 33.5px,#00f4ff 51.5px,#0ff 56.5px,#0ff 65.5px,#0ff 72.5px,#00ffdf 73.5px,#00ffd3 74.5px,#00ffa7 75.5px,#00ff01 82.5px,#94ff00 89.5px,#d9ff00 94.5px,#e4ff00 97.5px,#d0ff00 99.5px,#a6ff00 100.5px,#10ff00 102.5px,#00ff43 103.5px,#00ff86 104.5px,#00ff9f 105.5px,#00ff97 108.5px,#00ff68 109.5px,#00ff27 110.5px,#25ff00 111.5px,#5cff00 112.5px,#9cff00 114.5px,#afff00 115.5px,#cbff00 118.5px,#f7ff00 130.5px,#fd0 133.5px,#ffb300 139.5px)"></i>
<i style="left:322px;background:linear-gradient(#0002ff 0.5px,#0012ff 4.5px,#004eff 10.5px,#0070ff 16.5px,#0091ff 33.5px,#00f4ff 51.5px,#0ff 56.5px,#0ff 65.5px,#0ff 73.5px,#00ffbf 74.5px,#01ff00 82.5px,#37ff00 83.5px,#69ff00 86.5px,#bdff00 90.5px,#f1ff00 94.5px,#fdff00 97.5px,#e9ff00 99.5px,#bfff00 100.5px,#28ff00 102.5px,#00ff2c 103.5px,#00ff6f 104.5px,#00ff98 105.5px,#00ff9f 106.5px,#00ff9f 107.5px,#00ff7f 108.5px,#00ff4f 109.5px,#00ff0d 110.5px,#7f0 112.5px,#b8ff00 114.5px,#cf0 115.5px,#e9ff00 118.5px,#fff600 128.5px,#ffc300 132.5px,#ff9100 139.5px)"></i>
<i style="left:324px;background:linear-gradient(#0002ff 0.5px,#0012ff 4.5px,#004eff 10.5px,#0070ff 16.5px,#0091ff 33.5px,#00f4ff 51.5px,#0ff 56.5px,#0ff 65.5px,#0ff 73.5px,#00ffbf 74.5px,#01ff00 82.5px,#28ff00 83.5px,#59ff00 86.5px,#afff00 90.5px,#dbff00 93.5px,#ef0 96.5px,#ef0 98.5px,#dfff00 99.5px,#b4ff00 100.5px,#19ff00 102.5px,#00ff3e 103.5px,#00ff84 104.5px,#00ff9f 105.5px,#00ff9f 107.5px,#00ff92 108.5px,#00ff5e 109.5px,#00ff18 110.5px,#38ff00 111.5px,#72ff00 112.5px,#b7ff00 114.5px,#cbff00 115.5px,#e9ff00 118.5px,#fff700 126.5px,#ffc500 130.5px,#ff8200 139.5px)"></i>
<i style="left:326px;background:linear-gradient(#0002ff 0.5px,#0012ff 4.5px,#004eff 10.5px,#0070ff 16.5px,#0091ff 33.5px,#00f4ff 51.5px,#0ff 56.5px,#0ff 65.5px,#0ff 73.5px,#00ffbf 74.5px,#01ff00 82.5px,#26ff00 83.5px,#57ff00 86.5px,#9f0 89.5px,#df0 94.5px,#e8ff00 97.5px,#d5ff00 99.5px,#adff00 100.5px,#1eff00 102.5px,#00ff2f 103.5px,#00ff6c 104.5px,#00ff8f 105.5px,#00ff9f 106.5px,#00ff9c 107.5px,#00ff7d 108.5px,#00ff54 109.5px,#00ff1a 110.5px,#2dff00 111.5px,#60ff00 112.5px,#9eff00 114.5px,#b1ff00 115.5px,#cf0 118.5px,#e2ff00 126.5px,#f1ff00 128.5px,#fffa00 129.5px,#ffdf00 131.5px,#fa0 139.5px)"></i>
<i style="left:328px;background:linear-gradient(#0002ff 0.5px,#0012ff 4.5px,#004eff 10.5px,#0070ff 16.5px,#0091ff 33.5px,#00f4ff 51.5px,#0ff 56.5px,#0ff 65.5px,#0ff 74.5px,#00ffbf 75.5px,#01ff00 83.5px,#38ff00 84.5px,#adff00 90.5px,#deff00 94.5px,#e9ff00 97.5px,#d8ff00 99.5px,#b4ff00 100.5px,#00ff07 103.5px,#00ff35 104.5px,#00ff61 106.5px,#00ff5e 107.5px,#00ff48 108.5px,#00ff2e 109.5px,#00ff03 110.5px,#63ff00 112.5px,#9aff00 114.5px,#b4ff00 116.5px,#caff00 119.5px,#e3ff00 129.5px,#fffd00 131.5px,#ffc100 139.5px)"></i>
<i style="left:330px;background:linear-gradient(#0002ff 0.5px,#0012ff 4.5px,#004eff 10.5px,#0070ff 16.5px,#0091ff 33.5px,#00f4ff 51.5px,#0ff 56.5px,#0ff 65.5px,#0ff 74.5px,#00ffbf 75.5px,#01ff00 83.5px,#41ff00 84.5px,#b7ff00 90.5px,#eaff00 94.5px,#f7ff00 97.5px,#e9ff00 99.5px,#c8ff00 100.5px,#24ff00 103.5px,#0f0 104.5px,#00ff21 106.5px,#00ff21 107.5px,#0f0 109.5px,#23ff00 110.5px,#7eff00 112.5px,#b1ff00 114.5px,#df0 118.5px,#fffb00 129.5px,#ffb600 132.5px,#ff8500 139.5px)"></i>
<i style="left:332px;background:linear-gradient(#0002ff 0.5px,#0012ff 4.5px,#004eff 10.5px,#0070ff 16.5px,#0091ff 33.5px,#00f4ff 51.5px,#0ff 56.5px,#0ff 65.5px,#0ff 74.5px,#00ffbf 75.5px,#01ff00 83.5px,#4cff00 84.5px,#c3ff00 90.5px,#ef0 93.5px,#fcff00 95.5px,#faff00 99.5px,#dbff00 100.5px,#40ff00 103.5px,#21ff00 104.5px,#04ff00 106.5px,#03ff00 107.5px,#1eff00 109.5px,#3dff00 110.5px,#93ff00 112.5px,#c4ff00 114.5px,#f0ff00 118.5px,#fffd00 123.5px,#ffed00 127.5px,#ffb500 131.5px,#ff7b00 139.5px)"></i>
<i style="left:334px;background:linear-gradient(#0002ff 0.5px,#0012ff 4.5px,#004eff 10.5px,#0070ff 16.5px,#0091ff 33.5px,#00f4ff 51.5px,#0ff 56.5px,#0ff 65.5px,#0ff 74.5px,#00ffbf 75.5px,#01ff00 83.5px,#3eff00 84.5px,#b4ff00 90.5px,#e6ff00 94.5px,#f3ff00 97.5px,#e7ff00 99.5px,#c9ff00 100.5px,#37ff00 103.5px,#1bff00 104.5px,#01ff00 106.5px,#00ff02 107.5px,#0cff00 109.5px,#24ff00 110.5px,#6eff00 112.5px,#a5ff00 115.5px,#e1ff00 127.5px,#fffd00 130.5px,#ffb800 139.5px)"></i>
<i style="left:336px;background:linear-gradient(#0002ff 0.5px,#0012ff 4.5px,#004eff 10.5px,#0070ff 16.5px,#0091ff 33.5px,#00f4ff 51.5px,#0ff 56.5px,#0ff 65.5px,#0ff 75.5px,#00ffbf 76.5px,#01ff00 84.5px,#5cff00 85.5px,#c5ff00 90.5px,#f0ff00 93.5px,#ff0 95.5px,#fff500 97.5px,#ff0 99.5px,#e1ff00 100.5px,#4fff00 103.5px,#3f0 104.5px,#14ff00 107.5px,#20ff00 109.5px,#37ff00 110.5px,#7dff00 112.5px,#acff00 115.5px,#cdff00 122.5px,#fdff00 127.5px,#ffbf00 130.5px,#ff6d00 139.5px)"></i>
<i style="left:338px;background:linear-gradient(#0002ff 0.5px,#0012ff 4.5px,#004eff 10.5px,#0070ff 16.5px,#0091ff 33.5px,#00f4ff 51.5px,#0ff 56.5px,#0ff 65.5px,#0ff 75.5px,#00ffbf 76.5px,#01ff00 84.5px,#57ff00 85.5px,#c0ff00 90.5px,#ecff00 93.5px,#fcff00 95.5px,#fbff00 99.5px,#dcff00 100.5px,#42ff00 103.5px,#2f0 104.5px,#03ff00 106.5px,#0f0 107.5px,#15ff00 109.5px,#30ff00 110.5px,#7cff00 112.5px,#adff00 115.5px,#d0ff00 122.5px,#f6ff00 126.5px,#fff800 127.5px,#ffb900 130.5px,#f60 139.5px)"></i>
<i style="left:340px;background:linear-gradient(#0002ff 0.5px,#0012ff 4.5px,#004eff 10.5px,#0070ff 16.5px,#0091ff 33.5px,#00f4ff 51.5px,#0ff 56.5px,#0ff 65.5px,#0ff 74.5px,#00ffbf 75.5px,#01ff00 83.5px,#42ff00 84.5px,#a8ff00 89.5px,#e7ff00 93.5px,#fbff00 96.5px,#fdff00 98.5px,#f3ff00 99.5px,#d0ff00 100.5px,#1cff00 103.5px,#00ff10 104.5px,#00ff3a 106.5px,#00ff38 107.5px,#00ff09 109.5px,#20ff00 110.5px,#59ff00 111.5px,#82ff00 112.5px,#c3ff00 115.5px,#fdff00 125.5px,#ff9300 139.5px)"></i>
<i style="left:342px;background:linear-gradient(#0002ff 0.5px,#0012ff 4.5px,#004eff 10.5px,#0070ff 16.5px,#0091ff 33.5px,#00f4ff 51.5px,#0ff 56.5px,#0ff 65.5px,#0ff 74.5px,#00ffb3 76.5px,#00ff0b 83.5px,#2f0 84.5px,#58ff00 85.5px,#aeff00 89.5px,#ecff00 93.5px,#ff0 96.5px,#f5ff00 99.5px,#d0ff00 100.5px,#07ff00 103.5px,#00ff2e 104.5px,#00ff61 106.5px,#00ff5b 107.5px,#00ff1b 109.5px,#19ff00 110.5px,#5aff00 111.5px,#8aff00 112.5px,#c3ff00 114.5px,#f2ff00 118.5px,#fffe00 122.5px,#ffea00 127.5px,#ffca00 130.5px,#f80 139.5px)"></i>
<i style="left:344px;background:linear-gradient(#0002ff 0.5px,#0012ff 4.5px,#004eff 10.5px,#0070ff 16.5px,#0091ff 33.5px,#00f4ff 51.5px,#0ff 56.5px,#0ff 65.5px,#0ff 74.5px,#00ffb3 76.5px,#00ff0b 83.5px,#32ff00 84.5px,#74ff00 85.5px,#dbff00 90.5px,#fff800 93.5px,#ffe200 97.5px,#fff000 99.5px,#eaff00 100.5px,#31ff00 103.5px,#03ff00 104.5px,#00ff29 106.5px,#00ff25 107.5px,#00ff0d 108.5px,#0eff00 109.5px,#a2ff00 112.5px,#d9ff00 114.5px,#feff00 117.5px,#ffd500 128.5px,#ff8a00 131.5px,#ff5200 139.5px)"></i>
<i style="left:346px;background:linear-gradient(#0002ff 0.5px,#0012ff 4.5px,#004eff 10.5px,#0070ff 16.5px,#0091ff 33.5px,#00f4ff 51.5px,#0ff 56.5px,#0ff 65.5px,#0ff 75.5px,#00ffbf 76.5px,#01ff00 84.5px,#5aff00 85.5px,#c2ff00 90.5px,#ecff00 93.5px,#fbff00 95.5px,#fffd00 98.5px,#f6ff00 99.5px,#d4ff00 100.5px,#24ff00 103.5px,#00ff06 104.5px,#00ff2d 106.5px,#00ff2b 107.5px,#00ff15 108.5px,#02ff00 109.5px,#8eff00 112.5px,#c3ff00 114.5px,#f1ff00 118.5px,#fffd00 123.5px,#ffeb00 128.5px,#ffa200 132.5px,#ff7100 139.5px)"></i>
<i style="left:348px;background:linear-gradient(#0002ff 0.5px,#0012ff 4.5px,#004eff 10.5px,#0070ff 16.5px,#0091ff 33.5px,#00f4ff 51.5px,#0ff 56.5px,#0ff 65.5px,#0ff 75.5px,#00ffbf 76.5px,#01ff00 84.5px,#4cff00 85.5px,#a2ff00 89.5px,#e0ff00 93.5px,#f3ff00 96.5px,#f5ff00 98.5px,#e9ff00 99.5px,#c4ff00 100.5px,#00ff05 103.5px,#00ff3a 104.5px,#00ff6c 106.5px,#0f6 107.5px,#00ff25 109.5px,#0fff00 110.5px,#51ff00 111.5px,#81ff00 112.5px,#bcff00 114.5px,#ecff00 118.5px,#fffe00 124.5px,#ffed00 128.5px,#ffe100 129.5px,#ffb300 131.5px,#ff7400 139.5px)"></i>
<i style="left:350px;background:linear-gradient(#0002ff 0.5px,#0012ff 4.5px,#004eff 10.5px,#0070ff 16.5px,#0091ff 33.5px,#00f4ff 51.5px,#0ff 56.5px,#0ff 65.5px,#0ff 75.5px,#00ffbf 76.5px,#01ff00 84.5px,#4aff00 85.5px,#9fff00 89.5px,#dcff00 93.5px,#eaff00 95.5px,#f3ff00 97.5px,#e4ff00 99.5px,#bfff00 100.5px,#00ff09 103.5px,#00ff3d 104.5px,#00ff6f 106.5px,#00ff6b 107.5px,#00ff2e 109.5px,#04ff00 110.5px,#43ff00 111.5px,#70ff00 112.5px,#a6ff00 114.5px,#b6ff00 115.5px,#cf0 118.5px,#df0 124.5px,#fcff00 129.5px,#ffb000 139.5px)"></i>
<i style="left:352px;background:linear-gradient(#0002ff 0.5px,#0012ff 4.5px,#004eff 10.5px,#0070ff 16.5px,#0091ff 33.5px,#00f4ff 51.5px,#0ff 56.5px,#0ff 65.5px,#0ff 75.5px,#00ffbf 76.5px,#01ff00 84.5px,#43ff00 85.5px,#a9ff00 90.5px,#daff00 94.5px,#e5ff00 97.5px,#d5ff00 99.5px,#b0ff00 100.5px,#34ff00 102.5px,#00ff0c 103.5px,#00ff3a 104.5px,#00ff68 106.5px,#00ff67 107.5px,#00ff52 108.5px,#00ff3a 109.5px,#0f1 110.5px,#26ff00 111.5px,#4dff00 112.5px,#85ff00 115.5px,#9f0 124.5px,#b9ff00 128.5px,#ebff00 131.5px,#fffe00 133.5px,#fc0 139.5px)"></i>
<i style="left:354px;background:linear-gradient(#0002ff 0.5px,#0012ff 4.5px,#004eff 10.5px,#0070ff 16.5px,#0091ff 33.5px,#00f4ff 51.5px,#0ff 56.5px,#0ff 65.5px,#0ff 76.5px,#00ffb3 78.5px,#00ff0b 85.5px,#2dff00 86.5px,#75ff00 87.5px,#b1ff00 90.5px,#e2ff00 94.5px,#ef0 97.5px,#dfff00 99.5px,#bcff00 100.5px,#1f0 103.5px,#00ff16 104.5px,#00ff3c 106.5px,#00ff3c 107.5px,#00ff19 109.5px,#0aff00 110.5px,#3fff00 111.5px,#65ff00 112.5px,#a2ff00 115.5px,#b6ff00 118.5px,#bfff00 123.5px,#d6ff00 128.5px,#dfff00 129.5px,#f9ff00 130.5px,#ffd300 132.5px,#ffa000 139.5px)"></i>
<i style="left:356px;background:linear-gradient(#0002ff 0.5px,#0012ff 4.5px,#004eff 10.5px,#0070ff 16.5px,#0091ff 33.5px,#00f4ff 51.5px,#0ff 56.5px,#0ff 65.5px,#0ff 76.5px,#00ffbf 77.5px,#01ff00 85.5px,#5eff00 86.5px,#b2ff00 90.5px,#e6ff00 94.5px,#f2ff00 97.5px,#e4ff00 99.5px,#c1ff00 100.5px,#0fff00 103.5px,#00ff1b 104.5px,#00ff43 106.5px,#00ff41 107.5px,#00ff15 109.5px,#14ff00 110.5px,#4eff00 111.5px,#78ff00 112.5px,#adff00 114.5px,#daff00 118.5px,#ff0 129.5px,#ffd200 132.5px,#ff9f00 139.5px)"></i>
<i style="left:358px;background:linear-gradient(#0002ff 0.5px,#0012ff 4.5px,#004eff 10.5px,#0070ff 16.5px,#0091ff 33.5px,#00f4ff 51.5px,#0ff 56.5px,#0ff 65.5px,#0ff 76.5px,#00ffb3 78.5px,#00ff0b 85.5px,#2dff00 86.5px,#75ff00 87.5px,#b1ff00 90.5px,#e2ff00 94.5px,#ecff00 97.5px,#d9ff00 99.5px,#b2ff00 100.5px,#27ff00 102.5px,#00ff23 103.5px,#00ff5c 104.5px,#00ff94 106.5px,#00ff8e 107.5px,#00ff6f 108.5px,#00ff4a 109.5px,#00ff14 110.5px,#30ff00 111.5px,#61ff00 112.5px,#80ff00 113.5px,#9cff00 114.5px,#b7ff00 116.5px,#cdff00 119.5px,#eaff00 129.5px,#fffa00 130.5px,#ffcd00 132.5px,#ffa000 139.5px)"></i>
<i style="left:360px;background:linear-gradient(#0002ff 0.5px,#0012ff 4.5px,#004eff 10.5px,#0070ff 16.5px,#0091ff 33.5px,#00f4ff 51.5px,#0ff 56.5px,#0ff 65.5px,#0ff 75.5px,#00ffdf 76.5px,#00ffd3 77.5px,#00ffa7 78.5px,#00ff17 84.5px,#26ff00 85.5px,#3bff00 86.5px,#7fff00 87.5px,#bf0 90.5px,#ebff00 94.5px,#f6ff00 97.5px,#e5ff00 99.5px,#c1ff00 100.5px,#04ff00 103.5px,#00ff2b 104.5px,#00ff59 106.5px,#00ff56 107.5px,#00ff24 109.5px,#08ff00 110.5px,#43ff00 111.5px,#6eff00 112.5px,#a3ff00 114.5px,#bdff00 116.5px,#d2ff00 119.5px,#e4ff00 128.5px,#f5ff00 129.5px,#ffc100 131.5px,#ffb400 132.5px,#f80 139.5px)"></i>
<i style="left:362px;background:linear-gradient(#0002ff 0.5px,#0012ff 4.5px,#004eff 10.5px,#0070ff 16.5px,#0091ff 33.5px,#00f4ff 51.5px,#0ff 56.5px,#0ff 65.5px,#0ff 73.5px,#00ffdf 74.5px,#00ffd3 75.5px,#00ffa7 76.5px,#02ff00 83.5px,#15ff00 84.5px,#3aff00 85.5px,#8fff00 89.5px,#d5ff00 94.5px,#e2ff00 97.5px,#d5ff00 99.5px,#b4ff00 100.5px,#10ff00 103.5px,#00ff14 104.5px,#00ff36 106.5px,#00ff35 107.5px,#00ff13 109.5px,#10ff00 110.5px,#6cff00 112.5px,#9fff00 114.5px,#cf0 118.5px,#f3ff00 129.5px,#fff000 130.5px,#ffb200 132.5px,#ff8100 139.5px)"></i>
<i style="left:364px;background:linear-gradient(#0002ff 0.5px,#0012ff 4.5px,#004eff 10.5px,#0070ff 16.5px,#0091ff 33.5px,#00f4ff 51.5px,#0ff 56.5px,#0ff 65.5px,#0ff 75.5px,#00ffdf 76.5px,#00ffc7 78.5px,#00ff9b 79.5px,#00ff23 84.5px,#0eff00 85.5px,#3aff00 87.5px,#90ff00 88.5px,#b8ff00 90.5px,#ebff00 94.5px,#f8ff00 97.5px,#ecff00 99.5px,#cdff00 100.5px,#38ff00 103.5px,#1bff00 104.5px,#01ff00 106.5px,#00ff01 107.5px,#14ff00 109.5px,#31ff00 110.5px,#83ff00 112.5px,#b3ff00 114.5px,#deff00 118.5px,#fffb00 128.5px,#ffd300 131.5px,#ff9d00 139.5px)"></i>
<i style="left:366px;background:linear-gradient(#0002ff 0.5px,#0012ff 4.5px,#004eff 10.5px,#0070ff 16.5px,#0091ff 33.5px,#00f4ff 51.5px,#0ff 56.5px,#0ff 65.5px,#0ff 76.5px,#00ffb3 78.5px,#00ff0b 85.5px,#3bff00 86.5px,#85ff00 87.5px,#b1ff00 89.5px,#eaff00 93.5px,#ff0 97.5px,#f3ff00 99.5px,#d4ff00 100.5px,#43ff00 103.5px,#27ff00 104.5px,#0bff00 107.5px,#1cff00 109.5px,#36ff00 110.5px,#85ff00 112.5px,#b3ff00 114.5px,#df0 118.5px,#ef0 125.5px,#feff00 127.5px,#ffea00 129.5px,#ffab00 139.5px)"></i>
<i style="left:368px;background:linear-gradient(#0002ff 0.5px,#0012ff 4.5px,#004eff 10.5px,#0070ff 16.5px,#0091ff 33.5px,#00f4ff 51.5px,#0ff 56.5px,#0ff 65.5px,#0ff 76.5px,#00ffb3 78.5px,#00ff0b 85.5px,#3dff00 86.5px,#83ff00 87.5px,#c0ff00 90.5px,#e9ff00 93.5px,#feff00 97.5px,#f2ff00 99.5px,#d4ff00 100.5px,#43ff00 103.5px,#28ff00 104.5px,#0cff00 107.5px,#1eff00 109.5px,#38ff00 110.5px,#87ff00 112.5px,#b5ff00 114.5px,#e0ff00 118.5px,#f5ff00 125.5px,#ffe500 126.5px,#ffae00 127.5px,#ff8900 128.5px,#ff4200 139.5px)"></i>
<i style="left:370px;background:linear-gradient(#0002ff 0.5px,#0012ff 4.5px,#004eff 10.5px,#0070ff 16.5px,#0091ff 33.5px,#00f4ff 51.5px,#0ff 56.5px,#0ff 65.5px,#0ff 76.5px,#00ffbf 77.5px,#01ff00 85.5px,#65ff00 86.5px,#b9ff00 90.5px,#ecff00 94.5px,#faff00 97.5px,#ef0 99.5px,#d0ff00 100.5px,#3cff00 103.5px,#1fff00 104.5px,#05ff00 106.5px,#04ff00 107.5px,#19ff00 109.5px,#35ff00 110.5px,#87ff00 112.5px,#b8ff00 114.5px,#eaff00 118.5px,#fffe00 124.5px,#fff100 127.5px,#ff9f00 130.5px,#ff9000 131.5px,#ff5200 139.5px)"></i>
<i style="left:372px;background:linear-gradient(#0002ff 0.5px,#0012ff 4.5px,#004eff 10.5px,#0070ff 16.5px,#0091ff 33.5px,#00f4ff 51.5px,#0ff 56.5px,#0ff 65.5px,#0ff 75.5px,#00ffbf 76.5px,#01ff00 84.5px,#63ff00 85.5px,#caff00 90.5px,#feff00 94.5px,#fff300 97.5px,#ff0 99.5px,#dfff00 100.5px,#40ff00 103.5px,#1fff00 104.5px,#01ff00 106.5px,#0f0 107.5px,#1eff00 109.5px,#3eff00 110.5px,#97ff00 112.5px,#b0ff00 113.5px,#e1ff00 114.5px,#fff600 115.5px,#ff9f00 119.5px,#ff3700 128.5px,#ff0001 131.5px,#ff006e 139.5px)"></i>
<i style="left:374px;background:linear-gradient(#0002ff 0.5px,#0012ff 4.5px,#004eff 10.5px,#0070ff 16.5px,#0091ff 33.5px,#00f4ff 51.5px,#0ff 56.5px,#0ff 65.5px,#0ff 76.5px,#00ffb3 78.5px,#00ff0b 85.5px,#35ff00 86.5px,#76ff00 87.5px,#b3ff00 90.5px,#e4ff00 94.5px,#f0ff00 97.5px,#e2ff00 99.5px,#c0ff00 100.5px,#16ff00 103.5px,#00ff0f 104.5px,#0f3 106.5px,#00ff32 107.5px,#00ff0f 109.5px,#15ff00 110.5px,#72ff00 112.5px,#a6ff00 114.5px,#d2ff00 118.5px,#ef0 128.5px,#fcff00 130.5px,#ffba00 139.5px)"></i>
<i style="left:376px;background:linear-gradient(#0002ff 0.5px,#0012ff 4.5px,#004eff 10.5px,#0070ff 16.5px,#0091ff 33.5px,#00f4ff 51.5px,#0ff 56.5px,#0ff 65.5px,#0ff 76.5px,#00ffbf 77.5px,#01ff00 85.5px,#5eff00 86.5px,#b1ff00 90.5px,#e2ff00 94.5px,#ef0 97.5px,#e0ff00 99.5px,#bfff00 100.5px,#1eff00 103.5px,#00ff05 104.5px,#00ff25 106.5px,#00ff25 107.5px,#00ff08 109.5px,#18ff00 110.5px,#70ff00 112.5px,#a2ff00 114.5px,#cdff00 118.5px,#e7ff00 128.5px,#fbff00 130.5px,#ffc100 139.5px)"></i>
<i style="left:378px;background:linear-gradient(#0002ff 0.5px,#0012ff 4.5px,#004eff 10.5px,#0070ff 16.5px,#0091ff 33.5px,#00f4ff 51.5px,#0ff 56.5px,#0ff 65.5px,#0ff 75.5px,#00ffb3 77.5px,#00ff0b 84.5px,#27ff00 85.5px,#5fff00 86.5px,#b3ff00 90.5px,#dcff00 93.5px,#f2ff00 97.5px,#e6ff00 99.5px,#c7ff00 100.5px,#2fff00 103.5px,#1f0 104.5px,#04ff00 105.5px,#00ff0c 107.5px,#0f0 108.5px,#0cff00 109.5px,#29ff00 110.5px,#7dff00 112.5px,#adff00 114.5px,#d9ff00 118.5px,#feff00 128.5px,#ffe100 130.5px,#ffa500 139.5px)"></i>
<i style="left:380px;background:linear-gradient(#0002ff 0.5px,#0012ff 4.5px,#004eff 10.5px,#0070ff 16.5px,#0091ff 33.5px,#00f4ff 51.5px,#0ff 56.5px,#0ff 65.5px,#0ff 75.5px,#00ffbf 76.5px,#01ff00 84.5px,#58ff00 85.5px,#adff00 89.5px,#eaff00 93.5px,#fcff00 96.5px,#f5ff00 99.5px,#d7ff00 100.5px,#40ff00 103.5px,#2f0 104.5px,#08ff00 106.5px,#06ff00 107.5px,#1eff00 109.5px,#3bff00 110.5px,#90ff00 112.5px,#c1ff00 114.5px,#ef0 118.5px,#fffe00 124.5px,#fff200 127.5px,#ff9f00 130.5px,#ff6000 139.5px)"></i>
<i style="left:382px;background:linear-gradient(#0002ff 0.5px,#0012ff 4.5px,#004eff 10.5px,#0070ff 16.5px,#0091ff 33.5px,#00f4ff 51.5px,#0ff 56.5px,#0ff 65.5px,#0ff 74.5px,#00ffb3 76.5px,#00ff0b 83.5px,#23ff00 84.5px,#4eff00 85.5px,#b4ff00 90.5px,#deff00 93.5px,#f4ff00 97.5px,#e7ff00 99.5px,#c7ff00 100.5px,#28ff00 103.5px,#06ff00 104.5px,#00ff18 106.5px,#00ff19 107.5px,#00ff0b 108.5px,#04ff00 109.5px,#24ff00 110.5px,#7cff00 112.5px,#aeff00 114.5px,#daff00 118.5px,#fffa00 128.5px,#ffb000 130.5px,#ffa200 131.5px,#ff6c00 139.5px)"></i>
<i style="left:384px;background:linear-gradient(#0002ff 0.5px,#0012ff 4.5px,#004eff 10.5px,#0070ff 16.5px,#0091ff 33.5px,#00f4ff 51.5px,#0ff 56.5px,#0ff 65.5px,#0ff 76.5px,#00ffb3 78.5px,#00ff0b 85.5px,#2bff00 86.5px,#69ff00 87.5px,#a6ff00 90.5px,#d7ff00 94.5px,#e3ff00 97.5px,#d6ff00 99.5px,#b5ff00 100.5px,#13ff00 103.5px,#00ff0f 104.5px,#00ff2f 106.5px,#00ff2f 107.5px,#00ff12 109.5px,#0fff00 110.5px,#67ff00 112.5px,#9f0 114.5px,#c5ff00 118.5px,#e0ff00 128.5px,#f8ff00 130.5px,#ffdf00 132.5px,#ffaf00 139.5px)"></i>
<i style="left:386px;background:linear-gradient(#0002ff 0.5px,#0012ff 4.5px,#004eff 10.5px,#0070ff 16.5px,#0091ff 33.5px,#00f4ff 51.5px,#0ff 56.5px,#0ff 65.5px,#0ff 75.5px,#00ffdf 76.5px,#00ffd3 77.5px,#00ffa7 78.5px,#00ff17 84.5px,#17ff00 85.5px,#2dff00 86.5px,#76ff00 87.5px,#a2ff00 89.5px,#deff00 93.5px,#f4ff00 97.5px,#e8ff00 99.5px,#c9ff00 100.5px,#32ff00 103.5px,#13ff00 104.5px,#00ff09 107.5px,#0eff00 109.5px,#2cff00 110.5px,#80ff00 112.5px,#b0ff00 114.5px,#dcff00 118.5px,#fffa00 129.5px,#ffbc00 131.5px,#ffa900 132.5px,#ff7800 139.5px)"></i>
<i style="left:388px;background:linear-gradient(#0002ff 0.5px,#0012ff 4.5px,#004eff 10.5px,#0070ff 16.5px,#0091ff 33.5px,#00f4ff 51.5px,#0ff 56.5px,#0ff 65.5px,#0ff 75.5px,#00ffb3 77.5px,#00ff0b 84.5px,#2bff00 85.5px,#65ff00 86.5px,#b9ff00 90.5px,#eaff00 94.5px,#f7ff00 97.5px,#e8ff00 99.5px,#c7ff00 100.5px,#20ff00 103.5px,#00ff04 104.5px,#00ff26 106.5px,#00ff26 107.5px,#00ff05 109.5px,#1eff00 110.5px,#7aff00 112.5px,#adff00 114.5px,#d9ff00 118.5px,#f4ff00 128.5px,#ffec00 129.5px,#ff8400 131.5px,#ff4900 139.5px)"></i>
<i style="left:390px;background:linear-gradient(#0002ff 0.5px,#0012ff 4.5px,#004eff 10.5px,#0070ff 16.5px,#0091ff 33.5px,#00f4ff 51.5px,#0ff 56.5px,#0ff 65.5px,#0ff 74.5px,#00ffbf 75.5px,#01ff00 83.5px,#47ff00 84.5px,#bdff00 90.5px,#f0ff00 94.5px,#fdff00 97.5px,#f1ff00 99.5px,#d2ff00 100.5px,#3aff00 103.5px,#1bff00 104.5px,#0f0 106.5px,#00ff02 107.5px,#16ff00 109.5px,#34ff00 110.5px,#8f0 112.5px,#b9ff00 114.5px,#e5ff00 118.5px,#fffa00 128.5px,#ffcb00 131.5px,#ff9400 139.5px)"></i>
<i style="left:392px;background:linear-gradient(#0002ff 0.5px,#0012ff 4.5px,#004eff 10.5px,#0070ff 16.5px,#0091ff 33.5px,#00f4ff 51.5px,#0ff 56.5px,#0ff 65.5px,#0ff 75.5px,#00ffdf 76.5px,#00ffd3 77.5px,#00ffa7 78.5px,#00ff17 84.5px,#19ff00 85.5px,#2eff00 86.5px,#6eff00 87.5px,#adff00 90.5px,#d8ff00 93.5px,#f0ff00 97.5px,#e5ff00 99.5px,#c6ff00 100.5px,#3f0 103.5px,#17ff00 104.5px,#00ff02 106.5px,#00ff03 107.5px,#12ff00 109.5px,#2eff00 110.5px,#81ff00 112.5px,#b1ff00 114.5px,#dfff00 118.5px,#feff00 127.5px,#ffd800 130.5px,#f90 139.5px)"></i>
<i style="left:394px;background:linear-gradient(#0002ff 0.5px,#0012ff 4.5px,#004eff 10.5px,#0070ff 16.5px,#0091ff 33.5px,#00f4ff 51.5px,#0ff 56.5px,#0ff 65.5px,#0ff 75.5px,#00ffbf 76.5px,#01ff00 84.5px,#57ff00 85.5px,#adff00 89.5px,#eaff00 93.5px,#feff00 96.5px,#f8ff00 99.5px,#dbff00 100.5px,#4aff00 103.5px,#2fff00 104.5px,#17ff00 106.5px,#15ff00 107.5px,#29ff00 109.5px,#45ff00 110.5px,#97ff00 112.5px,#c7ff00 114.5px,#f5ff00 118.5px,#fffe00 121.5px,#ffe600 128.5px,#ff8f00 139.5px)"></i>
<i style="left:396px;background:linear-gradient(#0002ff 0.5px,#0012ff 4.5px,#004eff 10.5px,#0070ff 16.5px,#0091ff 33.5px,#00f4ff 51.5px,#0ff 56.5px,#0ff 65.5px,#0ff 74.5px,#00ffdf 75.5px,#00ffc7 77.5px,#00ff9b 78.5px,#00ff23 83.5px,#1f0 84.5px,#3aff00 86.5px,#89ff00 87.5px,#c8ff00 90.5px,#feff00 94.5px,#fff200 97.5px,#fffd00 99.5px,#e2ff00 100.5px,#4aff00 103.5px,#2cff00 104.5px,#1f0 106.5px,#10ff00 107.5px,#2aff00 109.5px,#49ff00 110.5px,#9fff00 112.5px,#d1ff00 114.5px,#ff0 118.5px,#ffdb00 128.5px,#ffd200 129.5px,#ff9400 131.5px,#ff8100 132.5px,#ff4e00 139.5px)"></i>
<i style="left:398px;background:linear-gradient(#0002ff 0.5px,#0012ff 4.5px,#004eff 10.5px,#0070ff 16.5px,#0091ff 33.5px,#00f4ff 51.5px,#0ff 56.5px,#0ff 65.5px,#0ff 76.5px,#00ffbf 77.5px,#01ff00 85.5px,#68ff00 86.5px,#beff00 90.5px,#ebff00 93.5px,#fbff00 95.5px,#fbff00 99.5px,#dbff00 100.5px,#3dff00 103.5px,#1bff00 104.5px,#00ff02 106.5px,#00ff01 107.5px,#1fff00 109.5px,#42ff00 110.5px,#9eff00 112.5px,#d3ff00 114.5px,#faff00 117.5px,#ffd100 128.5px,#ff9000 132.5px,#ff5a00 139.5px)"></i>
<i style="left:400px;background:linear-gradient(#0002ff 0.5px,#0012ff 4.5px,#004eff 10.5px,#0070ff 16.5px,#0091ff 33.5px,#00f4ff 51.5px,#0ff 56.5px,#0ff 65.5px,#0ff 76.5px,#00ffb3 78.5px,#00ff0b 85.5px,#29ff00 86.5px,#65ff00 87.5px,#a5ff00 90.5px,#dcff00 94.5px,#ecff00 97.5px,#e0ff00 99.5px,#bfff00 100.5px,#15ff00 103.5px,#0f1 104.5px,#0f3 106.5px,#00ff31 107.5px,#00ff08 109.5px,#1fff00 110.5px,#57ff00 111.5px,#81ff00 112.5px,#b9ff00 114.5px,#eaff00 118.5px,#fdff00 123.5px,#ffef00 127.5px,#ffba00 130.5px,#ff7400 139.5px)"></i>
<i style="left:402px;background:linear-gradient(#0002ff 0.5px,#0012ff 4.5px,#004eff 10.5px,#0070ff 16.5px,#0091ff 33.5px,#00f4ff 51.5px,#0ff 56.5px,#0ff 65.5px,#0ff 76.5px,#00ffbf 77.5px,#01ff00 85.5px,#5cff00 86.5px,#a0ff00 89.5px,#e1ff00 93.5px,#fcff00 97.5px,#f1ff00 99.5px,#d1ff00 100.5px,#2eff00 103.5px,#0bff00 104.5px,#00ff15 106.5px,#00ff13 107.5px,#00ff01 108.5px,#12ff00 109.5px,#38ff00 110.5px,#97ff00 112.5px,#ceff00 114.5px,#fffe00 118.5px,#ffd700 127.5px,#ffa500 131.5px,#f60 139.5px)"></i>
<i style="left:404px;background:linear-gradient(#0002ff 0.5px,#0012ff 4.5px,#004eff 10.5px,#0070ff 16.5px,#0091ff 33.5px,#00f4ff 51.5px,#0ff 56.5px,#0ff 65.5px,#0ff 77.5px,#00ffbf 78.5px,#01ff00 86.5px,#94ff00 87.5px,#d5ff00 90.5px,#fffc00 93.5px,#ffe200 97.5px,#ffed00 99.5px,#f1ff00 100.5px,#4fff00 103.5px,#2cff00 104.5px,#0dff00 106.5px,#0eff00 107.5px,#32ff00 109.5px,#56ff00 110.5px,#b4ff00 112.5px,#fcff00 115.5px,#fd0 119.5px,#ffb400 129.5px,#ff8500 132.5px,#ff4e00 139.5px)"></i>
<i style="left:406px;background:linear-gradient(#0002ff 0.5px,#0012ff 4.5px,#004eff 10.5px,#0070ff 16.5px,#0091ff 33.5px,#00f4ff 51.5px,#0ff 56.5px,#0ff 65.5px,#0ff 76.5px,#00ffbf 77.5px,#01ff00 85.5px,#83ff00 86.5px,#d9ff00 90.5px,#fff900 93.5px,#ffe000 97.5px,#ffeb00 99.5px,#f4ff00 100.5px,#58ff00 103.5px,#38ff00 104.5px,#1cff00 106.5px,#1cff00 107.5px,#39ff00 109.5px,#5aff00 110.5px,#b3ff00 112.5px,#e6ff00 114.5px,#fffc00 116.5px,#ffe200 119.5px,#ffc300 128.5px,#ffb800 129.5px,#ff7400 132.5px,#ff4000 139.5px)"></i>
<i style="left:408px;background:linear-gradient(#0002ff 0.5px,#0012ff 4.5px,#004eff 10.5px,#0070ff 16.5px,#0091ff 33.5px,#00f4ff 51.5px,#0ff 56.5px,#0ff 65.5px,#0ff 76.5px,#00ffb3 78.5px,#00ff0b 85.5px,#32ff00 86.5px,#6fff00 87.5px,#afff00 90.5px,#dbff00 93.5px,#f5ff00 97.5px,#ebff00 99.5px,#ceff00 100.5px,#40ff00 103.5px,#25ff00 104.5px,#0dff00 107.5px,#21ff00 109.5px,#3cff00 110.5px,#8eff00 112.5px,#bfff00 114.5px,#ef0 118.5px,#fffe00 123.5px,#ffe800 128.5px,#ffab00 131.5px,#ff6f00 139.5px)"></i>
<i style="left:410px;background:linear-gradient(#0002ff 0.5px,#0012ff 4.5px,#004eff 10.5px,#0070ff 16.5px,#0091ff 33.5px,#00f4ff 51.5px,#0ff 56.5px,#0ff 65.5px,#0ff 76.5px,#00ffb3 78.5px,#00ff0b 85.5px,#32ff00 86.5px,#89ff00 87.5px,#c9ff00 90.5px,#ff0 94.5px,#ffef00 97.5px,#fffa00 99.5px,#e5ff00 100.5px,#4eff00 103.5px,#2fff00 104.5px,#15ff00 106.5px,#14ff00 107.5px,#2fff00 109.5px,#4eff00 110.5px,#a6ff00 112.5px,#d8ff00 114.5px,#feff00 117.5px,#ffcf00 128.5px,#fa0 131.5px,#ff6d00 139.5px)"></i>
<i style="left:412px;background:linear-gradient(#0002ff 0.5px,#0012ff 4.5px,#004eff 10.5px,#0070ff 16.5px,#0091ff 33.5px,#00f4ff 51.5px,#0ff 56.5px,#0ff 65.5px,#0ff 77.5px,#00ffbf 78.5px,#01ff00 86.5px,#93ff00 87.5px,#d2ff00 90.5px,#fdff00 93.5px,#ffea00 97.5px,#fff500 99.5px,#eaff00 100.5px,#51ff00 103.5px,#3f0 104.5px,#17ff00 106.5px,#16ff00 107.5px,#30ff00 109.5px,#4eff00 110.5px,#a4ff00 112.5px,#d6ff00 114.5px,#faff00 117.5px,#ffd800 128.5px,#ffb300 131.5px,#ff7a00 139.5px)"></i>
<i style="left:414px;background:linear-gradient(#0002ff 0.5px,#0012ff 4.5px,#004eff 10.5px,#0070ff 16.5px,#0091ff 33.5px,#00f4ff 51.5px,#0ff 56.5px,#0ff 65.5px,#0ff 77.5px,#00ffbf 78.5px,#01ff00 86.5px,#8aff00 87.5px,#c9ff00 90.5px,#feff00 94.5px,#fff100 97.5px,#fffc00 99.5px,#e3ff00 100.5px,#4fff00 103.5px,#32ff00 104.5px,#18ff00 106.5px,#17ff00 107.5px,#2eff00 109.5px,#4bff00 110.5px,#9fff00 112.5px,#d0ff00 114.5px,#feff00 118.5px,#fd0 128.5px,#ffb900 131.5px,#ff8000 139.5px)"></i>
<i style="left:416px;background:linear-gradient(#0002ff 0.5px,#0012ff 4.5px,#004eff 10.5px,#0070ff 16.5px,#0091ff 33.5px,#00f4ff 51.5px,#0ff 56.5px,#0ff 65.5px,#0ff 77.5px,#00ffbf 78.5px,#01ff00 86.5px,#71ff00 87.5px,#9eff00 89.5px,#dcff00 93.5px,#f5ff00 97.5px,#e8ff00 99.5px,#c8ff00 100.5px,#25ff00 103.5px,#02ff00 104.5px,#00ff1e 106.5px,#00ff1d 107.5px,#00ff0d 108.5px,#05ff00 109.5px,#28ff00 110.5px,#85ff00 112.5px,#b9ff00 114.5px,#e9ff00 118.5px,#fffd00 125.5px,#ff9200 139.5px)"></i>
<i style="left:418px;background:linear-gradient(#0002ff 0.5px,#0012ff 4.5px,#004eff 10.5px,#0070ff 16.5px,#0091ff 33.5px,#00f4ff 51.5px,#0ff 56.5px,#0ff 65.5px,#0ff 77.5px,#00ffbf 78.5px,#01ff00 86.5px,#7cff00 87.5px,#bf0 90.5px,#e6ff00 93.5px,#faff00 96.5px,#fcff00 98.5px,#f1ff00 99.5px,#d0ff00 100.5px,#25ff00 103.5px,#00ff02 104.5px,#00ff25 106.5px,#00ff24 107.5px,#0f1 108.5px,#04ff00 109.5px,#8bff00 112.5px,#c1ff00 114.5px,#f0ff00 118.5px,#fff500 125.5px,#ffbe00 128.5px,#ff6f00 139.5px)"></i>
<i style="left:420px;background:linear-gradient(#0002ff 0.5px,#0012ff 4.5px,#004eff 10.5px,#0070ff 16.5px,#0091ff 33.5px,#00f4ff 51.5px,#0ff 56.5px,#0ff 65.5px,#0ff 77.5px,#00ffbf 78.5px,#01ff00 86.5px,#8eff00 87.5px,#ceff00 90.5px,#fcff00 93.5px,#ffe800 97.5px,#fff500 99.5px,#e6ff00 100.5px,#30ff00 103.5px,#05ff00 104.5px,#00ff24 106.5px,#00ff20 107.5px,#00ff09 108.5px,#1f0 109.5px,#a6ff00 112.5px,#e0ff00 114.5px,#fdff00 116.5px,#ffe500 119.5px,#ffc300 127.5px,#ff6800 139.5px)"></i>
<i style="left:422px;background:linear-gradient(#0002ff 0.5px,#0012ff 4.5px,#004eff 10.5px,#0070ff 16.5px,#0091ff 33.5px,#00f4ff 51.5px,#0ff 56.5px,#0ff 65.5px,#0ff 77.5px,#00ffbf 78.5px,#01ff00 86.5px,#7cff00 87.5px,#bf0 90.5px,#e6ff00 93.5px,#faff00 96.5px,#ff0 97.5px,#f2ff00 99.5px,#d1ff00 100.5px,#29ff00 103.5px,#04ff00 104.5px,#00ff20 106.5px,#00ff1f 107.5px,#00ff0e 108.5px,#05ff00 109.5px,#29ff00 110.5px,#86ff00 112.5px,#bf0 114.5px,#eaff00 118.5px,#ff0 124.5px,#fff200 127.5px,#ff9c00 139.5px)"></i>
<i style="left:424px;background:linear-gradient(#0002ff 0.5px,#0012ff 4.5px,#004eff 10.5px,#0070ff 16.5px,#0091ff 33.5px,#00f4ff 51.5px,#0ff 56.5px,#0ff 65.5px,#0ff 77.5px,#00ffbf 78.5px,#01ff00 86.5px,#61ff00 87.5px,#9fff00 90.5px,#d3ff00 94.5px,#e0ff00 97.5px,#d5ff00 99.5px,#b5ff00 100.5px,#19ff00 103.5px,#00ff07 104.5px,#00ff26 106.5px,#00ff27 107.5px,#00ff0f 109.5px,#0fff00 110.5px,#63ff00 112.5px,#94ff00 114.5px,#c0ff00 118.5px,#e0ff00 127.5px,#feff00 130.5px,#ffc200 139.5px)"></i>
<i style="left:426px;background:linear-gradient(#0002ff 0.5px,#0012ff 4.5px,#004eff 10.5px,#0070ff 16.5px,#0091ff 33.5px,#00f4ff 51.5px,#0ff 56.5px,#0ff 65.5px,#0ff 77.5px,#00ffb3 79.5px,#00ff0b 86.5px,#3dff00 87.5px,#83ff00 88.5px,#abff00 90.5px,#deff00 94.5px,#eaff00 98.5px,#e1ff00 99.5px,#c2ff00 100.5px,#2aff00 103.5px,#0aff00 104.5px,#00ff16 107.5px,#00ff01 109.5px,#1bff00 110.5px,#6cff00 112.5px,#9bff00 114.5px,#c7ff00 118.5px,#e7ff00 127.5px,#fffc00 130.5px,#fb0 139.5px)"></i>
<i style="left:428px;background:linear-gradient(#0002ff 0.5px,#0012ff 4.5px,#004eff 10.5px,#0070ff 16.5px,#0091ff 33.5px,#00f4ff 51.5px,#0ff 56.5px,#0ff 65.5px,#0ff 78.5px,#00ffbf 79.5px,#01ff00 87.5px,#84ff00 88.5px,#abff00 90.5px,#dfff00 94.5px,#edff00 97.5px,#e0ff00 99.5px,#bfff00 100.5px,#18ff00 103.5px,#00ff0e 104.5px,#00ff32 106.5px,#0f3 107.5px,#00ff15 109.5px,#0dff00 110.5px,#6f0 112.5px,#98ff00 114.5px,#c3ff00 118.5px,#e5ff00 127.5px,#f8ff00 129.5px,#ffe300 131.5px,#ffac00 139.5px)"></i>
<i style="left:430px;background:linear-gradient(#0002ff 0.5px,#0012ff 4.5px,#004eff 10.5px,#0070ff 16.5px,#0091ff 33.5px,#00f4ff 51.5px,#0ff 56.5px,#0ff 65.5px,#0ff 77.5px,#00ffb3 79.5px,#00ff0b 86.5px,#2fff00 87.5px,#79ff00 88.5px,#a1ff00 90.5px,#cdff00 93.5px,#e5ff00 97.5px,#daff00 99.5px,#bcff00 100.5px,#24ff00 103.5px,#04ff00 104.5px,#00ff1d 107.5px,#00ff08 109.5px,#14ff00 110.5px,#65ff00 112.5px,#94ff00 114.5px,#bfff00 118.5px,#e5ff00 127.5px,#eaff00 128.5px,#feff00 129.5px,#fc0 131.5px,#ff9200 139.5px)"></i>
<i style="left:432px;background:linear-gradient(#0002ff 0.5px,#0012ff 4.5px,#004eff 10.5px,#0070ff 16.5px,#0091ff 33.5px,#00f4ff 51.5px,#0ff 56.5px,#0ff 65.5px,#0ff 77.5px,#00ffb3 79.5px,#00ff0b 86.5px,#4bff00 87.5px,#a0ff00 88.5px,#c7ff00 90.5px,#fdff00 94.5px,#fff200 97.5px,#ff0 99.5px,#e0ff00 100.5px,#3dff00 103.5px,#18ff00 104.5px,#06ff00 105.5px,#00ff0d 107.5px,#10ff00 109.5px,#30ff00 110.5px,#87ff00 112.5px,#b8ff00 114.5px,#e4ff00 118.5px,#fffe00 125.5px,#fff300 127.5px,#ffa100 131.5px,#ff6700 139.5px)"></i>
<i style="left:434px;background:linear-gradient(#0002ff 0.5px,#0012ff 4.5px,#004eff 10.5px,#0070ff 16.5px,#0091ff 33.5px,#00f4ff 51.5px,#0ff 56.5px,#0ff 65.5px,#0ff 75.5px,#00ffb3 77.5px,#00ff0b 84.5px,#27ff00 85.5px,#6aff00 86.5px,#a8ff00 89.5px,#e3ff00 93.5px,#f5ff00 96.5px,#e9ff00 99.5px,#c8ff00 100.5px,#1cff00 103.5px,#00ff0d 104.5px,#00ff36 106.5px,#00ff38 107.5px,#00ff18 109.5px,#0aff00 110.5px,#62ff00 112.5px,#a3ff00 115.5px,#bfff00 119.5px,#d5ff00 126.5px,#feff00 131.5px,#fc0 139.5px)"></i>
<i style="left:436px;background:linear-gradient(#0002ff 0.5px,#0012ff 4.5px,#004eff 10.5px,#0070ff 16.5px,#0091ff 33.5px,#00f4ff 51.5px,#0ff 56.5px,#0ff 65.5px,#0ff 75.5px,#00ffbf 76.5px,#01ff00 84.5px,#32ff00 85.5px,#93ff00 90.5px,#bfff00 93.5px,#d2ff00 96.5px,#c9ff00 99.5px,#af0 100.5px,#0fff00 103.5px,#00ff14 104.5px,#00ff36 106.5px,#00ff39 107.5px,#00ff23 109.5px,#00ff07 110.5px,#49ff00 112.5px,#86ff00 115.5px,#a3ff00 119.5px,#c6ff00 128.5px,#fcff00 136.5px,#ffed00 139.5px)"></i>
<i style="left:438px;background:linear-gradient(#0002ff 0.5px,#0012ff 4.5px,#004eff 10.5px,#0070ff 16.5px,#0091ff 33.5px,#00f4ff 51.5px,#0ff 56.5px,#0ff 65.5px,#0ff 75.5px,#00ffbf 76.5px,#01ff00 84.5px,#35ff00 85.5px,#96ff00 90.5px,#c2ff00 93.5px,#d7ff00 96.5px,#cdff00 99.5px,#aeff00 100.5px,#0bff00 103.5px,#00ff1c 104.5px,#00ff43 106.5px,#00ff45 107.5px,#00ff27 109.5px,#00ff07 110.5px,#4eff00 112.5px,#8dff00 115.5px,#abff00 119.5px,#c7ff00 126.5px,#fffe00 133.5px,#ffd300 139.5px)"></i>
<i style="left:440px;background:linear-gradient(#0002ff 0.5px,#0012ff 4.5px,#004eff 10.5px,#0070ff 16.5px,#0091ff 33.5px,#00f4ff 51.5px,#0ff 56.5px,#0ff 65.5px,#0ff 75.5px,#00ffbf 76.5px,#01ff00 84.5px,#4f0 85.5px,#93ff00 89.5px,#d3ff00 93.5px,#e8ff00 96.5px,#deff00 99.5px,#bfff00 100.5px,#1dff00 103.5px,#00ff0a 104.5px,#00ff32 106.5px,#00ff34 107.5px,#00ff15 109.5px,#0bff00 110.5px,#60ff00 112.5px,#78ff00 113.5px,#a0ff00 115.5px,#a8ff00 116.5px,#dbff00 126.5px,#e5ff00 127.5px,#fdff00 128.5px,#ffd100 130.5px,#ff8e00 139.5px)"></i>
<i style="left:442px;background:linear-gradient(#0002ff 0.5px,#0012ff 4.5px,#004eff 10.5px,#0070ff 16.5px,#0091ff 33.5px,#00f4ff 51.5px,#0ff 56.5px,#0ff 65.5px,#0ff 75.5px,#00ffbf 76.5px,#01ff00 84.5px,#49ff00 85.5px,#c8ff00 92.5px,#eaff00 96.5px,#e1ff00 99.5px,#c2ff00 100.5px,#23ff00 103.5px,#00ff03 104.5px,#00ff2a 106.5px,#00ff2c 107.5px,#00ff12 109.5px,#0cff00 110.5px,#5dff00 112.5px,#9aff00 115.5px,#b7ff00 119.5px,#daff00 127.5px,#feff00 131.5px,#ffc700 139.5px)"></i>
<i style="left:444px;background:linear-gradient(#0002ff 0.5px,#0012ff 4.5px,#004eff 10.5px,#0070ff 16.5px,#0091ff 33.5px,#00f4ff 51.5px,#0ff 56.5px,#0ff 65.5px,#0ff 76.5px,#00ffbf 77.5px,#01ff00 85.5px,#5aff00 86.5px,#c9ff00 92.5px,#edff00 96.5px,#e3ff00 99.5px,#c2ff00 100.5px,#12ff00 103.5px,#00ff1a 104.5px,#00ff47 106.5px,#00ff48 107.5px,#0f2 109.5px,#03ff00 110.5px,#5eff00 112.5px,#90ff00 114.5px,#af0 116.5px,#f0ff00 128.5px,#fffa00 129.5px,#ffd600 131.5px,#ff9b00 139.5px)"></i>
<i style="left:446px;background:linear-gradient(#0002ff 0.5px,#0012ff 4.5px,#004eff 10.5px,#0070ff 16.5px,#0091ff 33.5px,#00f4ff 51.5px,#0ff 56.5px,#0ff 65.5px,#0ff 75.5px,#00ffb3 77.5px,#00ff0b 84.5px,#24ff00 85.5px,#59ff00 86.5px,#a7ff00 90.5px,#d4ff00 93.5px,#e9ff00 96.5px,#deff00 99.5px,#bdff00 100.5px,#0bff00 103.5px,#0f2 104.5px,#00ff51 106.5px,#00ff53 107.5px,#00ff2e 109.5px,#00ff0a 110.5px,#50ff00 112.5px,#93ff00 115.5px,#abff00 118.5px,#d7ff00 127.5px,#deff00 128.5px,#f5ff00 129.5px,#ffd600 131.5px,#ff9c00 139.5px)"></i>
<i style="left:448px;background:linear-gradient(#0002ff 0.5px,#0012ff 4.5px,#004eff 10.5px,#0070ff 16.5px,#0091ff 33.5px,#00f4ff 51.5px,#0ff 56.5px,#0ff 65.5px,#0ff 76.5px,#00ffbf 77.5px,#01ff00 85.5px,#5bff00 86.5px,#c6ff00 92.5px,#e8ff00 96.5px,#deff00 99.5px,#bfff00 100.5px,#18ff00 103.5px,#00ff0f 104.5px,#00ff39 106.5px,#00ff3d 107.5px,#00ff25 109.5px,#00ff07 110.5px,#4aff00 112.5px,#87ff00 115.5px,#c8ff00 127.5px,#f1ff00 129.5px,#fff300 130.5px,#ffaf00 139.5px)"></i>
<i style="left:450px;background:linear-gradient(#0002ff 0.5px,#0012ff 4.5px,#004eff 10.5px,#0070ff 16.5px,#0091ff 33.5px,#00f4ff 51.5px,#0ff 56.5px,#0ff 65.5px,#0ff 75.5px,#00ffbf 76.5px,#01ff00 84.5px,#40ff00 85.5px,#8dff00 89.5px,#cdff00 93.5px,#e2ff00 96.5px,#dbff00 99.5px,#beff00 100.5px,#28ff00 103.5px,#06ff00 104.5px,#00ff23 107.5px,#00ff15 109.5px,#03ff00 110.5px,#4cff00 112.5px,#87ff00 115.5px,#cdff00 127.5px,#f6ff00 129.5px,#fff100 130.5px,#ffad00 139.5px)"></i>
<i style="left:452px;background:linear-gradient(#0002ff 0.5px,#0012ff 4.5px,#004eff 10.5px,#0070ff 16.5px,#0091ff 33.5px,#00f4ff 51.5px,#0ff 56.5px,#0ff 65.5px,#0ff 74.5px,#00ffb3 76.5px,#00ff0b 83.5px,#19ff00 84.5px,#48ff00 85.5px,#a8ff00 90.5px,#d8ff00 93.5px,#f0ff00 96.5px,#e8ff00 99.5px,#caff00 100.5px,#23ff00 103.5px,#00ff06 104.5px,#00ff30 106.5px,#0f3 107.5px,#00ff16 109.5px,#0aff00 110.5px,#5eff00 112.5px,#7f0 113.5px,#9fff00 115.5px,#a7ff00 116.5px,#dfff00 125.5px,#fdff00 128.5px,#ffe000 130.5px,#ff9800 139.5px)"></i>
<i style="left:454px;background:linear-gradient(#0002ff 0.5px,#0012ff 4.5px,#004eff 10.5px,#0070ff 16.5px,#0091ff 33.5px,#00f4ff 51.5px,#0ff 56.5px,#0ff 65.5px,#0ff 73.5px,#00ffb3 75.5px,#00ff23 81.5px,#06ff00 83.5px,#28ff00 84.5px,#b7ff00 92.5px,#e0ff00 96.5px,#dcff00 99.5px,#c2ff00 100.5px,#36ff00 103.5px,#17ff00 104.5px,#00ff09 106.5px,#00ff0e 107.5px,#00ff02 109.5px,#14ff00 110.5px,#5aff00 112.5px,#85ff00 114.5px,#9dff00 116.5px,#d7ff00 125.5px,#f3ff00 128.5px,#fff500 129.5px,#ffd300 131.5px,#ff9100 139.5px)"></i>
<i style="left:456px;background:linear-gradient(#0002ff 0.5px,#0012ff 4.5px,#004eff 10.5px,#0070ff 16.5px,#0091ff 33.5px,#00f4ff 51.5px,#0ff 56.5px,#0ff 65.5px,#0ff 73.5px,#00ffb3 75.5px,#00ff0b 82.5px,#10ff00 83.5px,#b2ff00 92.5px,#d9ff00 96.5px,#d3ff00 99.5px,#baff00 100.5px,#36ff00 103.5px,#19ff00 104.5px,#00ff05 106.5px,#00ff06 109.5px,#0cff00 110.5px,#4aff00 112.5px,#80ff00 115.5px,#c9ff00 127.5px,#fffa00 131.5px,#ffbd00 139.5px)"></i>
<i style="left:458px;background:linear-gradient(#0002ff 0.5px,#0012ff 4.5px,#004eff 10.5px,#0070ff 16.5px,#0091ff 33.5px,#00f4ff 51.5px,#0ff 56.5px,#0ff 65.5px,#0ff 73.5px,#00ffb3 75.5px,#00ff0b 82.5px,#18ff00 83.5px,#36ff00 84.5px,#c2ff00 92.5px,#eaff00 96.5px,#e2ff00 99.5px,#c6ff00 100.5px,#2eff00 103.5px,#09ff00 104.5px,#00ff1f 106.5px,#00ff23 107.5px,#00ff0d 109.5px,#0dff00 110.5px,#57ff00 112.5px,#92ff00 115.5px,#cfff00 125.5px,#f4ff00 129.5px,#fffa00 130.5px,#ffad00 139.5px)"></i>
<i style="left:460px;background:linear-gradient(#0002ff 0.5px,#0012ff 4.5px,#004eff 10.5px,#0070ff 16.5px,#0091ff 33.5px,#00f4ff 51.5px,#0ff 56.5px,#0ff 65.5px,#0ff 74.5px,#00ffbf 75.5px,#01ff00 83.5px,#45ff00 84.5px,#e2ff00 93.5px,#fcff00 96.5px,#f7ff00 99.5px,#df0 100.5px,#53ff00 103.5px,#32ff00 104.5px,#10ff00 106.5px,#0bff00 107.5px,#17ff00 109.5px,#2dff00 110.5px,#70ff00 112.5px,#9aff00 114.5px,#b1ff00 116.5px,#fbff00 127.5px,#ff9700 139.5px)"></i>
<i style="left:462px;background:linear-gradient(#0002ff 0.5px,#0012ff 4.5px,#004eff 10.5px,#0070ff 16.5px,#0091ff 33.5px,#00f4ff 51.5px,#0ff 56.5px,#0ff 65.5px,#0ff 74.5px,#00ffbf 75.5px,#01ff00 83.5px,#2f0 84.5px,#b1ff00 92.5px,#dbff00 96.5px,#d7ff00 99.5px,#bcff00 100.5px,#2bff00 103.5px,#08ff00 104.5px,#0f2 107.5px,#0f1 109.5px,#07ff00 110.5px,#4eff00 112.5px,#7aff00 114.5px,#92ff00 116.5px,#d0ff00 125.5px,#f8ff00 129.5px,#ffa900 139.5px)"></i>
<i style="left:464px;background:linear-gradient(#0002ff 0.5px,#0012ff 4.5px,#004eff 10.5px,#0070ff 16.5px,#0091ff 33.5px,#00f4ff 51.5px,#0ff 56.5px,#0ff 65.5px,#0ff 74.5px,#00ffb3 76.5px,#00ff0b 83.5px,#0eff00 84.5px,#35ff00 85.5px,#a2ff00 91.5px,#c2ff00 93.5px,#dbff00 96.5px,#d4ff00 99.5px,#b9ff00 100.5px,#2f0 103.5px,#00ff02 104.5px,#00ff2a 106.5px,#00ff30 107.5px,#00ff20 109.5px,#00ff09 110.5px,#3dff00 112.5px,#76ff00 115.5px,#cfff00 128.5px,#feff00 131.5px,#ffd600 134.5px,#fa0 139.5px)"></i>
<i style="left:466px;background:linear-gradient(#0002ff 0.5px,#0012ff 4.5px,#004eff 10.5px,#0070ff 16.5px,#0091ff 33.5px,#00f4ff 51.5px,#0ff 56.5px,#0ff 65.5px,#0ff 74.5px,#00ffb3 76.5px,#00ff0b 83.5px,#1f0 84.5px,#37ff00 85.5px,#b7ff00 92.5px,#d0ff00 94.5px,#e3ff00 97.5px,#dbff00 99.5px,#c2ff00 100.5px,#36ff00 103.5px,#17ff00 104.5px,#07ff00 105.5px,#00ff13 107.5px,#05ff00 110.5px,#45ff00 112.5px,#7dff00 115.5px,#d3ff00 127.5px,#ff0 129.5px,#ff9b00 131.5px,#ff6200 133.5px,#ff0d00 137.5px,#ff0017 139.5px)"></i>
<i style="left:468px;background:linear-gradient(#0002ff 0.5px,#0012ff 4.5px,#004eff 10.5px,#0070ff 16.5px,#0091ff 33.5px,#00f4ff 51.5px,#0ff 56.5px,#0ff 65.5px,#0ff 74.5px,#00ffb3 76.5px,#00ff0b 83.5px,#10ff00 84.5px,#30ff00 85.5px,#aeff00 92.5px,#d5ff00 96.5px,#d0ff00 99.5px,#b6ff00 100.5px,#26ff00 103.5px,#06ff00 104.5px,#00ff27 107.5px,#00ff21 109.5px,#00ff0f 110.5px,#15ff00 111.5px,#31ff00 112.5px,#68ff00 115.5px,#b4ff00 126.5px,#f8ff00 130.5px,#ffab00 139.5px)"></i>
<i style="left:470px;background:linear-gradient(#0002ff 0.5px,#0012ff 4.5px,#004eff 10.5px,#0070ff 16.5px,#0091ff 33.5px,#00f4ff 51.5px,#0ff 56.5px,#0ff 65.5px,#0ff 75.5px,#00ffbf 76.5px,#01ff00 84.5px,#3cff00 85.5px,#bcff00 92.5px,#e5ff00 96.5px,#e2ff00 99.5px,#c8ff00 100.5px,#35ff00 103.5px,#14ff00 104.5px,#03ff00 105.5px,#00ff19 107.5px,#00ff12 109.5px,#01ff00 110.5px,#43ff00 112.5px,#7dff00 115.5px,#c7ff00 125.5px,#fdff00 130.5px,#ffb500 139.5px)"></i>
<i style="left:472px;background:linear-gradient(#0002ff 0.5px,#0012ff 4.5px,#004eff 10.5px,#0070ff 16.5px,#0091ff 33.5px,#00f4ff 51.5px,#0ff 56.5px,#0ff 65.5px,#0ff 75.5px,#00ffbf 76.5px,#01ff00 84.5px,#3aff00 85.5px,#bcff00 92.5px,#e6ff00 96.5px,#e3ff00 99.5px,#c8ff00 100.5px,#2eff00 103.5px,#0aff00 104.5px,#00ff25 107.5px,#00ff1b 109.5px,#00ff05 110.5px,#41ff00 112.5px,#7dff00 115.5px,#cbff00 125.5px,#f9ff00 129.5px,#ffa900 139.5px)"></i>
<i style="left:474px;background:linear-gradient(#0002ff 0.5px,#0012ff 4.5px,#004eff 10.5px,#0070ff 16.5px,#0091ff 33.5px,#00f4ff 51.5px,#0ff 56.5px,#0ff 65.5px,#0ff 75.5px,#00ffb3 77.5px,#00ff0b 84.5px,#27ff00 85.5px,#54ff00 86.5px,#beff00 92.5px,#e5ff00 97.5px,#daff00 99.5px,#bcff00 100.5px,#1f0 103.5px,#00ff19 104.5px,#00ff48 106.5px,#00ff50 107.5px,#00ff43 109.5px,#00ff2b 110.5px,#00ff02 111.5px,#1eff00 112.5px,#57ff00 115.5px,#af0 127.5px,#e4ff00 131.5px,#fffe00 134.5px,#ffdc00 139.5px)"></i>
<i style="left:476px;background:linear-gradient(#0002ff 0.5px,#0012ff 4.5px,#004eff 10.5px,#0070ff 16.5px,#0091ff 33.5px,#00f4ff 51.5px,#0ff 56.5px,#0ff 65.5px,#0ff 74.5px,#00ffb3 76.5px,#00ff0b 83.5px,#13ff00 84.5px,#3f0 85.5px,#aeff00 92.5px,#d2ff00 96.5px,#caff00 99.5px,#adff00 100.5px,#05ff00 103.5px,#00ff24 104.5px,#00ff53 106.5px,#00ff5d 107.5px,#00ff53 109.5px,#00ff3e 110.5px,#00ff17 111.5px,#07ff00 112.5px,#3bff00 115.5px,#68ff00 123.5px,#8dff00 127.5px,#9f0 128.5px,#d8ff00 131.5px,#f6ff00 134.5px,#ffe400 139.5px)"></i>
<i style="left:478px;background:linear-gradient(#0002ff 0.5px,#0012ff 4.5px,#004eff 10.5px,#0070ff 16.5px,#0091ff 33.5px,#00f4ff 51.5px,#0ff 56.5px,#0ff 65.5px,#0ff 75.5px,#00ffdf 76.5px,#00ffd3 77.5px,#00ffa7 78.5px,#00ff17 84.5px,#12ff00 85.5px,#26ff00 86.5px,#56ff00 87.5px,#8cff00 90.5px,#baff00 93.5px,#d0ff00 96.5px,#c5ff00 99.5px,#a6ff00 100.5px,#3f0 102.5px,#00ff10 103.5px,#00ff3f 104.5px,#00ff75 106.5px,#00ff7e 107.5px,#00ff6e 109.5px,#0f5 110.5px,#00ff0e 112.5px,#05ff00 113.5px,#21ff00 115.5px,#31ff00 120.5px,#4cff00 124.5px,#70ff00 127.5px,#b3ff00 130.5px,#c0ff00 131.5px,#ecff00 135.5px,#fff600 139.5px)"></i>
<i style="left:480px;background:linear-gradient(#0002ff 0.5px,#0012ff 4.5px,#004eff 10.5px,#0070ff 16.5px,#0091ff 33.5px,#00f4ff 51.5px,#0ff 56.5px,#0ff 65.5px,#0ff 76.5px,#00ffb3 78.5px,#00ff0b 85.5px,#26ff00 86.5px,#5bff00 87.5px,#b4ff00 92.5px,#df0 97.5px,#d1ff00 99.5px,#b2ff00 100.5px,#00ff03 103.5px,#00ff32 104.5px,#00ff68 106.5px,#00ff71 107.5px,#00ff63 109.5px,#00ff07 112.5px,#23ff00 115.5px,#2bff00 120.5px,#40ff00 123.5px,#e1ff00 134.5px,#fdff00 137.5px,#fff200 139.5px)"></i>
<i style="left:482px;background:linear-gradient(#0002ff 0.5px,#0012ff 4.5px,#004eff 10.5px,#0070ff 16.5px,#0091ff 33.5px,#00f4ff 51.5px,#0ff 56.5px,#0ff 65.5px,#0ff 76.5px,#00ffdf 77.5px,#00ffd3 78.5px,#00ffa7 79.5px,#00ff17 85.5px,#18ff00 86.5px,#2dff00 87.5px,#76ff00 88.5px,#cfff00 93.5px,#e9ff00 96.5px,#e1ff00 99.5px,#c1ff00 100.5px,#8f0 101.5px,#0f0 103.5px,#00ff35 104.5px,#00ff54 105.5px,#00ff70 106.5px,#00ff78 107.5px,#00ff5f 109.5px,#00ff42 110.5px,#00ff15 111.5px,#0aff00 112.5px,#36ff00 115.5px,#3dff00 120.5px,#5f0 123.5px,#81ff00 126.5px,#f6ff00 132.5px,#fff800 133.5px,#ffba00 139.5px)"></i>
<i style="left:484px;background:linear-gradient(#0002ff 0.5px,#0012ff 4.5px,#004eff 10.5px,#0070ff 16.5px,#0091ff 33.5px,#00f4ff 51.5px,#0ff 56.5px,#0ff 65.5px,#0ff 78.5px,#00ffbf 79.5px,#01ff00 87.5px,#7dff00 88.5px,#d9ff00 93.5px,#f6ff00 96.5px,#f1ff00 99.5px,#d4ff00 100.5px,#21ff00 103.5px,#00ff0e 104.5px,#00ff43 106.5px,#00ff4c 107.5px,#00ff3a 109.5px,#08ff00 111.5px,#26ff00 112.5px,#4aff00 114.5px,#62ff00 120.5px,#8f0 124.5px,#baff00 127.5px,#e2ff00 128.5px,#fff100 129.5px,#ffa600 131.5px,#ff5800 134.5px,#ff0002 139.5px)"></i>
<i style="left:486px;background:linear-gradient(#0002ff 0.5px,#0012ff 4.5px,#004eff 10.5px,#0070ff 16.5px,#0091ff 33.5px,#00f4ff 51.5px,#0ff 56.5px,#0ff 65.5px,#0ff 79.5px,#00ffbf 80.5px,#01ff00 88.5px,#82ff00 89.5px,#c7ff00 93.5px,#e5ff00 97.5px,#dbff00 99.5px,#bcff00 100.5px,#86ff00 101.5px,#03ff00 103.5px,#00ff2f 104.5px,#00ff4c 105.5px,#00ff67 106.5px,#00ff6f 107.5px,#00ff5a 109.5px,#00ff3f 110.5px,#00ff13 111.5px,#0dff00 112.5px,#40ff00 115.5px,#5eff00 121.5px,#86ff00 125.5px,#a3ff00 127.5px,#f3ff00 129.5px,#ffe800 130.5px,#ff8500 134.5px,#ff3100 139.5px)"></i>
<i style="left:488px;background:linear-gradient(#0002ff 0.5px,#0012ff 4.5px,#004eff 10.5px,#0070ff 16.5px,#0091ff 33.5px,#00f4ff 51.5px,#0ff 56.5px,#0ff 65.5px,#0ff 77.5px,#00ffbf 78.5px,#01ff00 86.5px,#6f0 87.5px,#c4ff00 92.5px,#efff00 96.5px,#e9ff00 99.5px,#cbff00 100.5px,#95ff00 101.5px,#12ff00 103.5px,#00ff1f 104.5px,#00ff57 106.5px,#00ff5e 107.5px,#00ff47 109.5px,#00ff2a 110.5px,#04ff00 111.5px,#26ff00 112.5px,#62ff00 115.5px,#a8ff00 124.5px,#fbff00 130.5px,#ffc700 135.5px,#ffa900 139.5px)"></i>
<i style="left:490px;background:linear-gradient(#0002ff 0.5px,#0012ff 4.5px,#004eff 10.5px,#0070ff 16.5px,#0091ff 33.5px,#00f4ff 51.5px,#0ff 56.5px,#0ff 65.5px,#0ff 76.5px,#00ffdf 77.5px,#00ffd3 78.5px,#00ffa7 79.5px,#00ff17 85.5px,#12ff00 86.5px,#27ff00 87.5px,#64ff00 88.5px,#c1ff00 93.5px,#deff00 96.5px,#dcff00 99.5px,#c1ff00 100.5px,#1aff00 103.5px,#00ff10 104.5px,#00ff3f 106.5px,#00ff48 107.5px,#00ff3d 109.5px,#00ff26 110.5px,#02ff00 111.5px,#2f0 112.5px,#5dff00 115.5px,#acff00 124.5px,#fffd00 131.5px,#ffd100 135.5px,#ffb300 139.5px)"></i>
<i style="left:492px;background:linear-gradient(#0002ff 0.5px,#0012ff 4.5px,#004eff 10.5px,#0070ff 16.5px,#0091ff 33.5px,#00f4ff 51.5px,#0ff 56.5px,#0ff 65.5px,#0ff 76.5px,#00ffbf 77.5px,#01ff00 85.5px,#35ff00 86.5px,#a6ff00 92.5px,#d3ff00 96.5px,#d2ff00 99.5px,#b8ff00 100.5px,#1eff00 103.5px,#00ff08 104.5px,#0f3 106.5px,#00ff3d 107.5px,#00ff39 109.5px,#00ff27 110.5px,#00ff02 111.5px,#54ff00 115.5px,#a4ff00 124.5px,#f7ff00 131.5px,#ffbd00 139.5px)"></i>
<i style="left:494px;background:linear-gradient(#0002ff 0.5px,#0012ff 4.5px,#004eff 10.5px,#0070ff 16.5px,#0091ff 33.5px,#00f4ff 51.5px,#0ff 56.5px,#0ff 65.5px,#0ff 75.5px,#00ffbf 76.5px,#01ff00 84.5px,#3eff00 85.5px,#bcff00 92.5px,#e7ff00 96.5px,#e3ff00 99.5px,#caff00 100.5px,#2bff00 103.5px,#03ff00 104.5px,#00ff2b 106.5px,#00ff35 107.5px,#00ff30 109.5px,#00ff1d 110.5px,#07ff00 111.5px,#24ff00 112.5px,#5cff00 115.5px,#b0ff00 125.5px,#fffd00 131.5px,#ffd400 135.5px,#ffb800 139.5px)"></i>
<i style="left:496px;background:linear-gradient(#0002ff 0.5px,#0012ff 4.5px,#004eff 10.5px,#0070ff 16.5px,#0091ff 33.5px,#00f4ff 51.5px,#0ff 56.5px,#0ff 65.5px,#0ff 75.5px,#00ffbf 76.5px,#01ff00 84.5px,#2f0 85.5px,#9cff00 92.5px,#c4ff00 96.5px,#bf0 99.5px,#9dff00 100.5px,#2dff00 102.5px,#00ff18 103.5px,#00ff49 104.5px,#00ff67 105.5px,#00ff80 106.5px,#00ff85 107.5px,#00ff79 109.5px,#00ff5f 110.5px,#00ff14 112.5px,#02ff00 113.5px,#26ff00 115.5px,#72ff00 125.5px,#9dff00 129.5px,#d0ff00 132.5px,#e5ff00 134.5px,#fff800 139.5px)"></i>
<i style="left:498px;background:linear-gradient(#0002ff 0.5px,#0012ff 4.5px,#004eff 10.5px,#0070ff 16.5px,#0091ff 33.5px,#00f4ff 51.5px,#0ff 56.5px,#0ff 65.5px,#0ff 76.5px,#00ffbf 77.5px,#01ff00 85.5px,#3eff00 86.5px,#a8ff00 92.5px,#d0ff00 96.5px,#c7ff00 99.5px,#a9ff00 100.5px,#35ff00 102.5px,#00ff12 103.5px,#00ff47 104.5px,#00ff67 105.5px,#00ff83 106.5px,#00ff8c 107.5px,#00ff74 109.5px,#00ff0a 112.5px,#32ff00 115.5px,#7fff00 125.5px,#ebff00 134.5px,#fffe00 137.5px,#fff100 139.5px)"></i>
<i style="left:500px;background:linear-gradient(#0002ff 0.5px,#0012ff 4.5px,#004eff 10.5px,#0070ff 16.5px,#0091ff 33.5px,#00f4ff 51.5px,#0ff 56.5px,#0ff 65.5px,#0ff 76.5px,#00ffbf 77.5px,#01ff00 85.5px,#36ff00 86.5px,#9fff00 92.5px,#c7ff00 96.5px,#beff00 99.5px,#a1ff00 100.5px,#32ff00 102.5px,#00ff12 103.5px,#0f4 104.5px,#00ff61 105.5px,#00ff7d 106.5px,#00ff87 107.5px,#0f7 109.5px,#00ff5e 110.5px,#00ff17 112.5px,#00ff01 113.5px,#2f0 115.5px,#65ff00 124.5px,#d4ff00 134.5px,#f5ff00 139.5px)"></i>
<i style="left:502px;background:linear-gradient(#0002ff 0.5px,#0012ff 4.5px,#004eff 10.5px,#0070ff 16.5px,#0091ff 33.5px,#00f4ff 51.5px,#0ff 56.5px,#0ff 65.5px,#0ff 76.5px,#00ffbf 77.5px,#01ff00 85.5px,#40ff00 86.5px,#abff00 92.5px,#cf0 95.5px,#d6ff00 97.5px,#caff00 99.5px,#af0 100.5px,#2dff00 102.5px,#00ff21 103.5px,#00ff5c 104.5px,#00ff81 105.5px,#00ff9e 106.5px,#00ff9f 107.5px,#00ff85 109.5px,#00ff0d 112.5px,#0cff00 113.5px,#3f0 115.5px,#85ff00 125.5px,#f4ff00 134.5px,#ffe800 139.5px)"></i>
<i style="left:504px;background:linear-gradient(#0002ff 0.5px,#0012ff 4.5px,#004eff 10.5px,#0070ff 16.5px,#0091ff 33.5px,#00f4ff 51.5px,#0ff 56.5px,#0ff 65.5px,#0ff 75.5px,#00ffbf 76.5px,#01ff00 84.5px,#21ff00 85.5px,#9dff00 92.5px,#c9ff00 97.5px,#bcff00 99.5px,#9bff00 100.5px,#1aff00 102.5px,#00ff38 103.5px,#0f7 104.5px,#00ff9e 105.5px,#00ff9f 108.5px,#00ff9d 109.5px,#00ff1d 112.5px,#00ff02 113.5px,#26ff00 115.5px,#71ff00 124.5px,#9fff00 128.5px,#e6ff00 132.5px,#fdff00 134.5px,#ffde00 139.5px)"></i>
<i style="left:506px;background:linear-gradient(#0002ff 0.5px,#0012ff 4.5px,#004eff 10.5px,#0070ff 16.5px,#0091ff 33.5px,#00f4ff 51.5px,#0ff 56.5px,#0ff 65.5px,#0ff 75.5px,#00ffbf 76.5px,#01ff00 84.5px,#20ff00 85.5px,#9cff00 92.5px,#c8ff00 97.5px,#bcff00 99.5px,#9cff00 100.5px,#1cff00 102.5px,#00ff35 103.5px,#00ff72 104.5px,#00ff98 105.5px,#00ffa0 108.5px,#00ff9d 109.5px,#00ff21 112.5px,#00ff07 113.5px,#1f0 114.5px,#79ff00 125.5px,#f5ff00 134.5px,#ffe600 139.5px)"></i>
<i style="left:508px;background:linear-gradient(#0002ff 0.5px,#0012ff 4.5px,#004eff 10.5px,#0070ff 16.5px,#0091ff 33.5px,#00f4ff 51.5px,#0ff 56.5px,#0ff 65.5px,#0ff 75.5px,#00ffbf 76.5px,#01ff00 84.5px,#30ff00 85.5px,#abff00 92.5px,#d5ff00 96.5px,#cdff00 99.5px,#afff00 100.5px,#36ff00 102.5px,#00ff16 103.5px,#00ff4d 104.5px,#00ff6f 105.5px,#00ff8d 106.5px,#00ff96 107.5px,#00ff81 109.5px,#00ff15 112.5px,#02ff00 113.5px,#27ff00 115.5px,#7eff00 125.5px,#f9ff00 134.5px,#ffe200 139.5px)"></i>
<i style="left:510px;background:linear-gradient(#0002ff 0.5px,#0012ff 4.5px,#004eff 10.5px,#0070ff 16.5px,#0091ff 33.5px,#00f4ff 51.5px,#0ff 56.5px,#0ff 65.5px,#0ff 75.5px,#00ffbf 76.5px,#01ff00 84.5px,#24ff00 85.5px,#9fff00 92.5px,#caff00 96.5px,#c3ff00 99.5px,#a7ff00 100.5px,#35ff00 102.5px,#00ff12 103.5px,#00ff45 104.5px,#00ff80 106.5px,#00ff8c 107.5px,#00ff80 109.5px,#00ff69 110.5px,#0f2 112.5px,#00ff0d 113.5px,#07ff00 114.5px,#5eff00 124.5px,#e6ff00 134.5px,#fdff00 137.5px,#fff400 139.5px)"></i>
<i style="left:512px;background:linear-gradient(#0002ff 0.5px,#0012ff 4.5px,#004eff 10.5px,#0070ff 16.5px,#0091ff 33.5px,#00f4ff 51.5px,#0ff 56.5px,#0ff 65.5px,#0ff 76.5px,#00ffbf 77.5px,#01ff00 85.5px,#37ff00 86.5px,#a3ff00 92.5px,#cfff00 96.5px,#c8ff00 99.5px,#abff00 100.5px,#36ff00 102.5px,#00ff13 103.5px,#00ff49 104.5px,#00ff69 105.5px,#0f8 106.5px,#00ff93 107.5px,#00ff83 109.5px,#00ff6a 110.5px,#00ff21 112.5px,#00ff0c 113.5px,#08ff00 114.5px,#34ff00 120.5px,#5eff00 124.5px,#8f0 127.5px,#c6ff00 130.5px,#fcff00 134.5px,#ffdb00 139.5px)"></i>
<i style="left:514px;background:linear-gradient(#0002ff 0.5px,#0012ff 4.5px,#004eff 10.5px,#0070ff 16.5px,#0091ff 33.5px,#00f4ff 51.5px,#0ff 56.5px,#0ff 65.5px,#0ff 76.5px,#00ffbf 77.5px,#01ff00 85.5px,#26ff00 86.5px,#92ff00 92.5px,#c1ff00 97.5px,#b6ff00 99.5px,#98ff00 100.5px,#1cff00 102.5px,#0f3 103.5px,#00ff6e 104.5px,#00ff91 105.5px,#00ffa1 106.5px,#00ffa3 108.5px,#00ff9f 109.5px,#0f8 110.5px,#00ff3b 112.5px,#00ff05 115.5px,#0eff00 119.5px,#41ff00 124.5px,#6fff00 127.5px,#c2ff00 131.5px,#f8ff00 135.5px,#ffe900 139.5px)"></i>
<i style="left:516px;background:linear-gradient(#0002ff 0.5px,#0012ff 4.5px,#004eff 10.5px,#0070ff 16.5px,#0091ff 33.5px,#00f4ff 51.5px,#0ff 56.5px,#0ff 65.5px,#0ff 76.5px,#00ffbf 77.5px,#01ff00 85.5px,#25ff00 86.5px,#8eff00 92.5px,#b7ff00 97.5px,#a9ff00 99.5px,#86ff00 100.5px,#00ff04 102.5px,#00ff5d 103.5px,#00ffa0 104.5px,#00ffa9 110.5px,#00ff5e 112.5px,#00ff29 115.5px,#00ff1c 119.5px,#06ff00 123.5px,#63ff00 129.5px,#b2ff00 133.5px,#e6ff00 139.5px)"></i>
<i style="left:518px;background:linear-gradient(#0002ff 0.5px,#0012ff 4.5px,#004eff 10.5px,#0070ff 16.5px,#0091ff 33.5px,#00f4ff 51.5px,#0ff 56.5px,#0ff 65.5px,#0ff 76.5px,#00ffbf 77.5px,#01ff00 85.5px,#3cff00 86.5px,#a7ff00 92.5px,#d4ff00 97.5px,#c7ff00 99.5px,#a5ff00 100.5px,#68ff00 101.5px,#1cff00 102.5px,#00ff3c 103.5px,#00ff81 104.5px,#00ffa1 105.5px,#00ffa7 109.5px,#00ff8f 110.5px,#00ff38 112.5px,#00ff01 115.5px,#15ff00 120.5px,#40ff00 124.5px,#83ff00 128.5px,#df0 132.5px,#faff00 134.5px,#ffdb00 139.5px)"></i>
<i style="left:520px;background:linear-gradient(#0002ff 0.5px,#0012ff 4.5px,#004eff 10.5px,#0070ff 16.5px,#0091ff 33.5px,#00f4ff 51.5px,#0ff 56.5px,#0ff 65.5px,#0ff 77.5px,#00ffbf 78.5px,#01ff00 86.5px,#38ff00 87.5px,#95ff00 92.5px,#c5ff00 97.5px,#b9ff00 99.5px,#9f0 100.5px,#16ff00 102.5px,#00ff3e 103.5px,#00ff7f 104.5px,#00ff9f 105.5px,#00ffa5 109.5px,#00ff90 110.5px,#00ff3c 112.5px,#00ff03 115.5px,#18ff00 120.5px,#45ff00 124.5px,#89ff00 128.5px,#d4ff00 131.5px,#fffe00 134.5px,#ffd500 139.5px)"></i>
<i style="left:522px;background:linear-gradient(#0002ff 0.5px,#0012ff 4.5px,#004eff 10.5px,#0070ff 16.5px,#0091ff 33.5px,#00f4ff 51.5px,#0ff 56.5px,#0ff 65.5px,#0ff 76.5px,#00ffbf 77.5px,#01ff00 85.5px,#39ff00 86.5px,#a2ff00 92.5px,#cdff00 97.5px,#c3ff00 99.5px,#a5ff00 100.5px,#2eff00 102.5px,#00ff1d 103.5px,#00ff54 104.5px,#00ff75 105.5px,#00ff93 106.5px,#00ff9a 107.5px,#00ff94 109.5px,#00ff7c 110.5px,#00ff37 112.5px,#00ff03 115.5px,#12ff00 119.5px,#2cff00 122.5px,#4eff00 125.5px,#d4ff00 134.5px,#f8ff00 139.5px)"></i>
<i style="left:524px;background:linear-gradient(#0002ff 0.5px,#0012ff 4.5px,#004eff 10.5px,#0070ff 16.5px,#0091ff 33.5px,#00f4ff 51.5px,#0ff 56.5px,#0ff 65.5px,#0ff 77.5px,#00ffbf 78.5px,#01ff00 86.5px,#3f0 87.5px,#90ff00 92.5px,#bcff00 96.5px,#b8ff00 99.5px,#9eff00 100.5px,#34ff00 102.5px,#00ff0e 103.5px,#00ff3c 104.5px,#00ff73 106.5px,#00ff81 107.5px,#00ff80 109.5px,#00ff6f 110.5px,#00ff32 112.5px,#00ff0b 114.5px,#02ff00 115.5px,#30ff00 121.5px,#5dff00 125.5px,#e0ff00 134.5px,#fff900 139.5px)"></i>
<i style="left:526px;background:linear-gradient(#0002ff 0.5px,#0012ff 4.5px,#004eff 10.5px,#0070ff 16.5px,#0091ff 33.5px,#00f4ff 51.5px,#0ff 56.5px,#0ff 65.5px,#0ff 76.5px,#00ffb3 78.5px,#00ff0b 85.5px,#0cff00 86.5px,#84ff00 92.5px,#b7ff00 97.5px,#b1ff00 99.5px,#98ff00 100.5px,#30ff00 102.5px,#00ff12 103.5px,#00ff3f 104.5px,#00ff75 106.5px,#00ff82 107.5px,#00ff7f 109.5px,#00ff6d 110.5px,#00ff2d 112.5px,#00ff03 114.5px,#62ff00 124.5px,#a8ff00 129.5px,#e5ff00 132.5px,#ff0 134.5px,#ffd800 139.5px)"></i>
<i style="left:528px;background:linear-gradient(#0002ff 0.5px,#0012ff 4.5px,#004eff 10.5px,#0070ff 16.5px,#0091ff 33.5px,#00f4ff 51.5px,#0ff 56.5px,#0ff 65.5px,#0ff 76.5px,#00ffbf 77.5px,#01ff00 85.5px,#38ff00 86.5px,#a8ff00 92.5px,#d7ff00 96.5px,#d5ff00 99.5px,#bcff00 100.5px,#52ff00 102.5px,#0fff00 103.5px,#00ff20 104.5px,#00ff57 106.5px,#00ff63 107.5px,#00ff5d 109.5px,#00ff49 110.5px,#00ff06 112.5px,#34ff00 115.5px,#9aff00 125.5px,#f7ff00 131.5px,#ffd400 135.5px,#ffb700 139.5px)"></i>
<i style="left:530px;background:linear-gradient(#0002ff 0.5px,#0012ff 4.5px,#004eff 10.5px,#0070ff 16.5px,#0091ff 33.5px,#00f4ff 51.5px,#0ff 56.5px,#0ff 65.5px,#0ff 78.5px,#00ffb3 80.5px,#00ff0b 87.5px,#2cff00 88.5px,#59ff00 89.5px,#95ff00 92.5px,#c7ff00 97.5px,#c1ff00 99.5px,#a7ff00 100.5px,#76ff00 101.5px,#00ff05 103.5px,#0f3 104.5px,#00ff6a 106.5px,#0f7 107.5px,#00ff72 109.5px,#00ff5f 110.5px,#00ff1e 112.5px,#00ff09 113.5px,#0dff00 114.5px,#73ff00 124.5px,#f6ff00 133.5px,#fffc00 134.5px,#ffd600 139.5px)"></i>
<i style="left:532px;background:linear-gradient(#0002ff 0.5px,#0012ff 4.5px,#004eff 10.5px,#0070ff 16.5px,#0091ff 33.5px,#00f4ff 51.5px,#0ff 56.5px,#0ff 65.5px,#0ff 79.5px,#00ffdf 80.5px,#00ffd3 81.5px,#00ffa7 82.5px,#00ff17 88.5px,#14ff00 89.5px,#2aff00 90.5px,#71ff00 91.5px,#94ff00 93.5px,#b5ff00 97.5px,#aeff00 99.5px,#93ff00 100.5px,#26ff00 102.5px,#00ff1e 103.5px,#00ff4e 104.5px,#0f8 106.5px,#00ff91 107.5px,#00ff8d 109.5px,#00ff78 110.5px,#00ff34 112.5px,#00ff09 114.5px,#05ff00 115.5px,#5aff00 124.5px,#dbff00 134.5px,#ff0 139.5px)"></i>
<i style="left:534px;background:linear-gradient(#0002ff 0.5px,#0012ff 4.5px,#004eff 10.5px,#0070ff 16.5px,#0091ff 33.5px,#00f4ff 51.5px,#0ff 56.5px,#0ff 65.5px,#0ff 79.5px,#00ffb3 81.5px,#00ff0b 88.5px,#28ff00 89.5px,#5fff00 90.5px,#85ff00 92.5px,#b3ff00 97.5px,#af0 99.5px,#8dff00 100.5px,#1aff00 102.5px,#00ff2f 103.5px,#00ff64 104.5px,#00ff84 105.5px,#00ff9a 107.5px,#00ff96 109.5px,#0f8 110.5px,#00ff40 112.5px,#00ff14 114.5px,#03ff00 116.5px,#4cff00 124.5px,#caff00 134.5px,#edff00 139.5px)"></i>
<i style="left:536px;background:linear-gradient(#0002ff 0.5px,#0012ff 4.5px,#004eff 10.5px,#0070ff 16.5px,#0091ff 33.5px,#00f4ff 51.5px,#0ff 56.5px,#0ff 65.5px,#0ff 78.5px,#00ffdf 79.5px,#00ffd3 80.5px,#00ffa7 81.5px,#00ff17 87.5px,#0bff00 88.5px,#20ff00 89.5px,#56ff00 90.5px,#7bff00 92.5px,#a5ff00 97.5px,#9f0 99.5px,#7aff00 100.5px,#00ff02 102.5px,#00ff52 103.5px,#00ff8d 104.5px,#00ff9f 105.5px,#00ff9f 110.5px,#00ff5b 112.5px,#00ff2d 114.5px,#00ff01 119.5px,#39ff00 125.5px,#b1ff00 134.5px,#d2ff00 139.5px)"></i>
<i style="left:538px;background:linear-gradient(#0002ff 0.5px,#0012ff 4.5px,#004eff 10.5px,#0070ff 16.5px,#0091ff 33.5px,#00f4ff 51.5px,#0ff 56.5px,#0ff 65.5px,#0ff 77.5px,#00ffb3 79.5px,#00ff0b 86.5px,#20ff00 87.5px,#3fff00 88.5px,#8aff00 92.5px,#b7ff00 97.5px,#acff00 99.5px,#8eff00 100.5px,#15ff00 102.5px,#00ff39 103.5px,#00ff72 104.5px,#00ff93 105.5px,#00ff9f 106.5px,#00ff9f 108.5px,#00ff8f 110.5px,#00ff42 112.5px,#00ff05 115.5px,#19ff00 119.5px,#4bff00 124.5px,#8f0 129.5px,#d0ff00 133.5px,#feff00 139.5px)"></i>
<i style="left:540px;background:linear-gradient(#0002ff 0.5px,#0012ff 4.5px,#004eff 10.5px,#0070ff 16.5px,#0091ff 33.5px,#00f4ff 51.5px,#0ff 56.5px,#0ff 65.5px,#0ff 78.5px,#00ffb3 80.5px,#00ff0b 87.5px,#2eff00 88.5px,#6eff00 89.5px,#a6ff00 92.5px,#d2ff00 97.5px,#c7ff00 99.5px,#a8ff00 100.5px,#2dff00 102.5px,#00ff21 103.5px,#00ff5c 104.5px,#00ff9f 106.5px,#00ff9f 108.5px,#00ff95 109.5px,#00ff2a 112.5px,#04ff00 114.5px,#60ff00 124.5px,#daff00 134.5px,#fbff00 139.5px)"></i>
<i style="left:542px;background:linear-gradient(#0002ff 0.5px,#0012ff 4.5px,#004eff 10.5px,#0070ff 16.5px,#0091ff 33.5px,#00f4ff 51.5px,#0ff 56.5px,#0ff 65.5px,#0ff 79.5px,#00ffb3 81.5px,#00ff0b 88.5px,#34ff00 89.5px,#7bff00 90.5px,#aeff00 93.5px,#caff00 97.5px,#bcff00 99.5px,#9aff00 100.5px,#1f0 102.5px,#00ff48 103.5px,#00ff8c 104.5px,#00ff9f 105.5px,#00ff9f 109.5px,#00ff96 110.5px,#00ff62 111.5px,#00ff20 113.5px,#00ff08 114.5px,#07ff00 115.5px,#53ff00 124.5px,#a8ff00 130.5px,#d4ff00 134.5px,#f5ff00 139.5px)"></i>
<i style="left:544px;background:linear-gradient(#0002ff 0.5px,#0012ff 4.5px,#004eff 10.5px,#0070ff 16.5px,#0091ff 33.5px,#00f4ff 51.5px,#0ff 56.5px,#0ff 65.5px,#0ff 77.5px,#00ffb3 79.5px,#00ff0b 86.5px,#24ff00 87.5px,#52ff00 88.5px,#9f0 92.5px,#c0ff00 97.5px,#b2ff00 99.5px,#92ff00 100.5px,#12ff00 102.5px,#00ff40 103.5px,#00ff7e 104.5px,#00ff9f 105.5px,#00ffa0 109.5px,#00ff9b 110.5px,#00ff4a 112.5px,#00ff1d 114.5px,#00ff01 117.5px,#42ff00 125.5px,#6aff00 128.5px,#92ff00 130.5px,#bdff00 134.5px,#dcff00 139.5px)"></i>
<i style="left:546px;background:linear-gradient(#0002ff 0.5px,#0012ff 4.5px,#004eff 10.5px,#0070ff 16.5px,#0091ff 33.5px,#00f4ff 51.5px,#0ff 56.5px,#0ff 65.5px,#0ff 80.5px,#00ffbf 81.5px,#01ff00 89.5px,#6dff00 90.5px,#a1ff00 93.5px,#bfff00 97.5px,#b5ff00 99.5px,#98ff00 100.5px,#23ff00 102.5px,#00ff27 103.5px,#00ff5d 104.5px,#00ff7e 105.5px,#00ff9b 106.5px,#00ffa0 107.5px,#00ff9d 109.5px,#00ff85 110.5px,#00ff3e 112.5px,#00ff13 114.5px,#01ff00 116.5px,#1fff00 120.5px,#54ff00 125.5px,#7cff00 128.5px,#b4ff00 131.5px,#d7ff00 134.5px,#f9ff00 139.5px)"></i>
<i style="left:548px;background:linear-gradient(#0002ff 0.5px,#0012ff 4.5px,#004eff 10.5px,#0070ff 16.5px,#0091ff 33.5px,#00f4ff 51.5px,#0ff 56.5px,#0ff 65.5px,#0ff 78.5px,#00ffdf 79.5px,#00ffc7 81.5px,#00ff9b 82.5px,#00ff23 87.5px,#13ff00 88.5px,#3eff00 90.5px,#7dff00 91.5px,#91ff00 92.5px,#c3ff00 97.5px,#bcff00 99.5px,#a2ff00 100.5px,#36ff00 102.5px,#00ff0e 103.5px,#00ff3e 104.5px,#00ff78 106.5px,#00ff83 107.5px,#00ff81 109.5px,#00ff6e 110.5px,#00ff2e 112.5px,#00ff08 114.5px,#2f0 119.5px,#50ff00 123.5px,#8bff00 127.5px,#d7ff00 131.5px,#ff0 134.5px,#ffd800 139.5px)"></i>
<i style="left:550px;background:linear-gradient(#0002ff 0.5px,#0012ff 4.5px,#004eff 10.5px,#0070ff 16.5px,#0091ff 33.5px,#00f4ff 51.5px,#0ff 56.5px,#0ff 65.5px,#0ff 77.5px,#00ffb3 79.5px,#00ff0b 86.5px,#30ff00 87.5px,#70ff00 88.5px,#bdff00 92.5px,#ecff00 97.5px,#e4ff00 99.5px,#caff00 100.5px,#5eff00 102.5px,#1aff00 103.5px,#00ff16 104.5px,#00ff51 106.5px,#00ff60 107.5px,#00ff61 109.5px,#00ff09 113.5px,#08ff00 114.5px,#3cff00 121.5px,#65ff00 124.5px,#d2ff00 130.5px,#fdff00 133.5px,#ffcd00 139.5px)"></i>
<i style="left:552px;background:linear-gradient(#0002ff 0.5px,#0012ff 4.5px,#004eff 10.5px,#0070ff 16.5px,#0091ff 33.5px,#00f4ff 51.5px,#0ff 56.5px,#0ff 65.5px,#0ff 79.5px,#00ffb3 81.5px,#00ff0b 88.5px,#35ff00 89.5px,#7cff00 90.5px,#b0ff00 93.5px,#cfff00 97.5px,#c7ff00 99.5px,#acff00 100.5px,#7aff00 101.5px,#00ff06 103.5px,#00ff37 104.5px,#00ff73 106.5px,#00ff83 107.5px,#00ff86 109.5px,#0f7 110.5px,#00ff41 112.5px,#00ff24 114.5px,#00ff02 120.5px,#34ff00 124.5px,#cfff00 133.5px,#e6ff00 135.5px,#fffc00 139.5px)"></i>
<i style="left:554px;background:linear-gradient(#0002ff 0.5px,#0012ff 4.5px,#004eff 10.5px,#0070ff 16.5px,#0091ff 33.5px,#00f4ff 51.5px,#0ff 56.5px,#0ff 65.5px,#0ff 79.5px,#00ffb3 81.5px,#00ff0b 88.5px,#39ff00 89.5px,#8fff00 90.5px,#c4ff00 93.5px,#e5ff00 97.5px,#deff00 99.5px,#c4ff00 100.5px,#5aff00 102.5px,#17ff00 103.5px,#00ff17 104.5px,#00ff51 106.5px,#00ff60 107.5px,#00ff63 109.5px,#0f5 110.5px,#00ff1e 112.5px,#02ff00 114.5px,#21ff00 119.5px,#43ff00 122.5px,#81ff00 126.5px,#d4ff00 130.5px,#fffe00 133.5px,#ffca00 139.5px)"></i>
<i style="left:556px;background:linear-gradient(#0002ff 0.5px,#0012ff 4.5px,#004eff 10.5px,#0070ff 16.5px,#0091ff 33.5px,#00f4ff 51.5px,#0ff 56.5px,#0ff 65.5px,#0ff 80.5px,#00ffb3 82.5px,#00ff0b 89.5px,#39ff00 90.5px,#95ff00 91.5px,#b7ff00 93.5px,#d8ff00 97.5px,#d1ff00 99.5px,#b6ff00 100.5px,#4aff00 102.5px,#07ff00 103.5px,#00ff29 104.5px,#00ff63 106.5px,#00ff71 107.5px,#00ff6e 109.5px,#00ff0d 113.5px,#06ff00 114.5px,#36ff00 120.5px,#74ff00 125.5px,#94ff00 127.5px,#f0ff00 130.5px,#fffb00 131.5px,#ffcb00 135.5px,#ffb000 139.5px)"></i>
<i style="left:558px;background:linear-gradient(#0002ff 0.5px,#0012ff 4.5px,#004eff 10.5px,#0070ff 16.5px,#0091ff 33.5px,#00f4ff 51.5px,#0ff 56.5px,#0ff 65.5px,#0ff 78.5px,#00ffbf 79.5px,#01ff00 87.5px,#42ff00 88.5px,#8fff00 92.5px,#bcff00 96.5px,#b8ff00 99.5px,#9eff00 100.5px,#3f0 102.5px,#00ff10 103.5px,#00ff3e 104.5px,#00ff76 106.5px,#00ff84 107.5px,#00ff80 109.5px,#00ff6e 110.5px,#00ff2f 112.5px,#00ff06 114.5px,#30ff00 120.5px,#84ff00 127.5px,#93ff00 128.5px,#ebff00 131.5px,#fcff00 132.5px,#ffc500 139.5px)"></i>
<i style="left:560px;background:linear-gradient(#0002ff 0.5px,#0012ff 4.5px,#004eff 10.5px,#0070ff 16.5px,#0091ff 33.5px,#00f4ff 51.5px,#0ff 56.5px,#0ff 65.5px,#0ff 74.5px,#00ffdf 75.5px,#0fb 78.5px,#00ff8f 79.5px,#00ff02 85.5px,#26ff00 87.5px,#54ff00 88.5px,#a1ff00 92.5px,#ceff00 96.5px,#caff00 99.5px,#afff00 100.5px,#7cff00 101.5px,#00ff06 103.5px,#00ff37 104.5px,#00ff72 106.5px,#00ff7e 107.5px,#00ff74 109.5px,#00ff03 113.5px,#21ff00 115.5px,#7f0 124.5px,#feff00 134.5px,#ffdc00 139.5px)"></i>
<i style="left:562px;background:linear-gradient(#0002ff 0.5px,#0012ff 4.5px,#004eff 10.5px,#0070ff 16.5px,#0091ff 33.5px,#00f4ff 51.5px,#0ff 56.5px,#0ff 65.5px,#0ff 74.5px,#00ffb3 76.5px,#00ff3b 81.5px,#00ff16 83.5px,#04ff00 85.5px,#91ff00 93.5px,#b3ff00 97.5px,#aeff00 99.5px,#94ff00 100.5px,#2eff00 102.5px,#00ff12 103.5px,#00ff3e 104.5px,#00ff72 106.5px,#00ff80 107.5px,#00ff80 109.5px,#00ff6f 110.5px,#00ff32 112.5px,#00ff09 114.5px,#06ff00 115.5px,#5cff00 124.5px,#e1ff00 134.5px,#fff800 139.5px)"></i>
<i style="left:564px;background:linear-gradient(#0002ff 0.5px,#0012ff 4.5px,#004eff 10.5px,#0070ff 16.5px,#0091ff 33.5px,#00f4ff 51.5px,#0ff 56.5px,#0ff 65.5px,#0ff 72.5px,#00ffbf 73.5px,#00ff4e 78.5px,#00ff1e 81.5px,#00ff01 84.5px,#94ff00 93.5px,#b4ff00 97.5px,#abff00 99.5px,#8fff00 100.5px,#1eff00 102.5px,#00ff2a 103.5px,#00ff5d 104.5px,#00ff97 106.5px,#00ff9e 107.5px,#00ff9b 109.5px,#00ff85 110.5px,#00ff40 112.5px,#00ff14 114.5px,#02ff00 116.5px,#56ff00 125.5px,#a3ff00 130.5px,#d1ff00 134.5px,#f4ff00 139.5px)"></i>
<i style="left:566px;background:linear-gradient(#0002ff 0.5px,#0012ff 4.5px,#004eff 10.5px,#0070ff 16.5px,#0091ff 33.5px,#00f4ff 51.5px,#0ff 56.5px,#0ff 65.5px,#0ff 69.5px,#00ffdf 70.5px,#00ffd3 71.5px,#00ffad 72.5px,#00ff3c 78.5px,#00ff03 82.5px,#1dff00 85.5px,#a3ff00 93.5px,#c0ff00 97.5px,#b7ff00 99.5px,#9bff00 100.5px,#2aff00 102.5px,#00ff1d 103.5px,#00ff50 104.5px,#00ff8d 106.5px,#00ff9a 107.5px,#00ff92 109.5px,#00ff7d 110.5px,#00ff3a 112.5px,#00ff03 115.5px,#49ff00 124.5px,#7bff00 128.5px,#b4ff00 131.5px,#df0 135.5px,#f5ff00 139.5px)"></i>
<i style="left:568px;background:linear-gradient(#0002ff 0.5px,#0012ff 4.5px,#004eff 10.5px,#0070ff 16.5px,#0091ff 33.5px,#00f4ff 51.5px,#0ff 56.5px,#0ff 65.5px,#0ff 71.5px,#00ffb3 73.5px,#00ff23 79.5px,#04ff00 81.5px,#37ff00 85.5px,#b2ff00 92.5px,#df0 96.5px,#d8ff00 99.5px,#bcff00 100.5px,#4dff00 102.5px,#07ff00 103.5px,#00ff2a 104.5px,#00ff65 106.5px,#00ff72 107.5px,#00ff6a 109.5px,#0f5 110.5px,#0f1 112.5px,#04ff00 113.5px,#28ff00 115.5px,#84ff00 125.5px,#9fff00 127.5px,#dbff00 130.5px,#ff0 133.5px,#ffd100 139.5px)"></i>
<i style="left:570px;background:linear-gradient(#0002ff 0.5px,#0012ff 4.5px,#004eff 10.5px,#0070ff 16.5px,#0091ff 33.5px,#00f4ff 51.5px,#0ff 56.5px,#0ff 65.5px,#0ff 72.5px,#00ffb3 74.5px,#00ff0b 81.5px,#0aff00 82.5px,#63ff00 88.5px,#b0ff00 92.5px,#df0 96.5px,#d8ff00 99.5px,#bdff00 100.5px,#4fff00 102.5px,#0aff00 103.5px,#00ff61 106.5px,#00ff6e 107.5px,#00ff65 109.5px,#00ff4f 110.5px,#00ff0b 112.5px,#0bff00 113.5px,#30ff00 115.5px,#91ff00 125.5px,#f8ff00 132.5px,#ffca00 139.5px)"></i>
<i style="left:572px;background:linear-gradient(#0002ff 0.5px,#0012ff 4.5px,#004eff 10.5px,#0070ff 16.5px,#0091ff 33.5px,#00f4ff 51.5px,#0ff 56.5px,#0ff 65.5px,#0ff 73.5px,#00ffb3 75.5px,#00ff0b 82.5px,#09ff00 83.5px,#b0ff00 93.5px,#d0ff00 97.5px,#c7ff00 99.5px,#abff00 100.5px,#38ff00 102.5px,#00ff10 103.5px,#0f4 104.5px,#00ff64 105.5px,#00ff82 106.5px,#00ff8e 107.5px,#00ff80 109.5px,#00ff68 110.5px,#00ff20 112.5px,#0dff00 114.5px,#6eff00 124.5px,#f3ff00 134.5px,#fffb00 136.5px,#ffe800 139.5px)"></i>
<i style="left:574px;background:linear-gradient(#0002ff 0.5px,#0012ff 4.5px,#004eff 10.5px,#0070ff 16.5px,#0091ff 33.5px,#00f4ff 51.5px,#0ff 56.5px,#0ff 65.5px,#0ff 73.5px,#00ffdf 74.5px,#00ffd3 75.5px,#00ffa7 76.5px,#00ff17 82.5px,#00ff04 83.5px,#0dff00 84.5px,#2bff00 85.5px,#a6ff00 92.5px,#d2ff00 96.5px,#cdff00 99.5px,#b4ff00 100.5px,#4cff00 102.5px,#0bff00 103.5px,#0f2 104.5px,#00ff58 106.5px,#0f6 107.5px,#00ff67 109.5px,#00ff57 110.5px,#00ff1a 112.5px,#00ff07 113.5px,#1cff00 115.5px,#78ff00 125.5px,#f8ff00 134.5px,#ffe400 139.5px)"></i>
<i style="left:576px;background:linear-gradient(#0002ff 0.5px,#0012ff 4.5px,#004eff 10.5px,#0070ff 16.5px,#0091ff 33.5px,#00f4ff 51.5px,#0ff 56.5px,#0ff 65.5px,#0ff 71.5px,#00ffdf 72.5px,#00ffd3 73.5px,#00ffa7 74.5px,#00ff2f 79.5px,#00ff07 81.5px,#0aff00 82.5px,#31ff00 85.5px,#b7ff00 93.5px,#d5ff00 97.5px,#caff00 99.5px,#adff00 100.5px,#37ff00 102.5px,#00ff14 103.5px,#00ff4b 104.5px,#00ff6c 105.5px,#00ff8b 106.5px,#00ff91 107.5px,#0f8 109.5px,#00ff70 110.5px,#00ff27 112.5px,#05ff00 114.5px,#6bff00 125.5px,#91ff00 128.5px,#c4ff00 131.5px,#e6ff00 134.5px,#fff700 139.5px)"></i>
<i style="left:578px;background:linear-gradient(#0002ff 0.5px,#0012ff 4.5px,#004eff 10.5px,#0070ff 16.5px,#0091ff 33.5px,#00f4ff 51.5px,#0ff 56.5px,#0ff 65.5px,#0ff 71.5px,#00ffb3 73.5px,#00ff0b 80.5px,#07ff00 81.5px,#3f0 85.5px,#b9ff00 93.5px,#d5ff00 97.5px,#c8ff00 99.5px,#a9ff00 100.5px,#29ff00 102.5px,#00ff28 103.5px,#00ff64 104.5px,#00ff8b 105.5px,#00ff9f 106.5px,#00ff9d 109.5px,#00ff2d 112.5px,#01ff00 114.5px,#6f0 125.5px,#8bff00 128.5px,#bfff00 131.5px,#dfff00 134.5px,#ff0 139.5px)"></i>
<i style="left:580px;background:linear-gradient(#0002ff 0.5px,#0012ff 4.5px,#004eff 10.5px,#0070ff 16.5px,#0091ff 33.5px,#00f4ff 51.5px,#0ff 56.5px,#0ff 65.5px,#0ff 73.5px,#00ffdf 74.5px,#00ffd3 75.5px,#00ffa7 76.5px,#00ff2f 81.5px,#08ff00 84.5px,#94ff00 92.5px,#beff00 97.5px,#b1ff00 99.5px,#90ff00 100.5px,#0dff00 102.5px,#00ff87 104.5px,#00ff9f 105.5px,#00ff9b 110.5px,#00ff45 112.5px,#00ff15 114.5px,#01ff00 116.5px,#50ff00 125.5px,#8eff00 129.5px,#c6ff00 134.5px,#e6ff00 139.5px)"></i>
<i style="left:582px;background:linear-gradient(#0002ff 0.5px,#0012ff 4.5px,#004eff 10.5px,#0070ff 16.5px,#0091ff 33.5px,#00f4ff 51.5px,#0ff 56.5px,#0ff 65.5px,#0ff 75.5px,#00ffb3 77.5px,#00ff0b 84.5px,#0dff00 85.5px,#27ff00 86.5px,#92ff00 92.5px,#bfff00 97.5px,#b3ff00 99.5px,#92ff00 100.5px,#0fff00 102.5px,#00ff46 103.5px,#00ff86 104.5px,#00ff9f 105.5px,#00ff9f 109.5px,#00ff94 110.5px,#00ff3c 112.5px,#00ff0b 114.5px,#05ff00 115.5px,#56ff00 124.5px,#d5ff00 134.5px,#f7ff00 139.5px)"></i>
<i style="left:584px;background:linear-gradient(#0002ff 0.5px,#0012ff 4.5px,#004eff 10.5px,#0070ff 16.5px,#0091ff 33.5px,#00f4ff 51.5px,#0ff 56.5px,#0ff 65.5px,#0ff 73.5px,#00ffbf 74.5px,#01ff00 82.5px,#26ff00 85.5px,#aeff00 93.5px,#cdff00 97.5px,#c2ff00 99.5px,#a4ff00 100.5px,#2bff00 102.5px,#0f2 103.5px,#00ff5a 104.5px,#00ff7d 105.5px,#00ff98 106.5px,#00ff9e 107.5px,#00ff94 109.5px,#00ff79 110.5px,#00ff2c 112.5px,#02ff00 114.5px,#60ff00 124.5px,#df0 134.5px,#ff0 139.5px)"></i>
<i style="left:586px;background:linear-gradient(#0002ff 0.5px,#0012ff 4.5px,#004eff 10.5px,#0070ff 16.5px,#0091ff 33.5px,#00f4ff 51.5px,#0ff 56.5px,#0ff 65.5px,#0ff 74.5px,#00ffbf 75.5px,#01ff00 83.5px,#9aff00 92.5px,#c3ff00 97.5px,#b9ff00 99.5px,#9dff00 100.5px,#2eff00 102.5px,#00ff18 103.5px,#00ff49 104.5px,#00ff85 106.5px,#00ff93 107.5px,#00ff8f 109.5px,#00ff7d 110.5px,#00ff3d 112.5px,#00ff15 114.5px,#00ff01 116.5px,#40ff00 124.5px,#b5ff00 134.5px,#d4ff00 139.5px)"></i>
<i style="left:588px;background:linear-gradient(#0002ff 0.5px,#0012ff 4.5px,#004eff 10.5px,#0070ff 16.5px,#0091ff 33.5px,#00f4ff 51.5px,#0ff 56.5px,#0ff 65.5px,#0ff 75.5px,#00ffbf 76.5px,#01ff00 84.5px,#2cff00 85.5px,#a3ff00 92.5px,#cbff00 96.5px,#c4ff00 99.5px,#a9ff00 100.5px,#78ff00 101.5px,#00ff04 103.5px,#00ff32 104.5px,#00ff6b 106.5px,#00ff79 107.5px,#00ff7a 109.5px,#00ff6a 110.5px,#00ff2e 112.5px,#00ff08 114.5px,#29ff00 120.5px,#59ff00 125.5px,#c4ff00 134.5px,#e4ff00 139.5px)"></i>
<i style="left:590px;background:linear-gradient(#0002ff 0.5px,#0012ff 4.5px,#004eff 10.5px,#0070ff 16.5px,#0091ff 33.5px,#00f4ff 51.5px,#0ff 56.5px,#0ff 65.5px,#0ff 75.5px,#00ffb3 77.5px,#00ff0b 84.5px,#0eff00 85.5px,#89ff00 92.5px,#b4ff00 97.5px,#af0 99.5px,#8eff00 100.5px,#1dff00 102.5px,#00ff2a 103.5px,#00ff5d 104.5px,#0f9 106.5px,#00ff9f 107.5px,#00ff9e 109.5px,#00ff8a 110.5px,#00ff47 112.5px,#00ff1e 114.5px,#00ff02 117.5px,#3bff00 124.5px,#b4ff00 134.5px,#d4ff00 139.5px)"></i>
<i style="left:592px;background:linear-gradient(#0002ff 0.5px,#0012ff 4.5px,#004eff 10.5px,#0070ff 16.5px,#0091ff 33.5px,#00f4ff 51.5px,#0ff 56.5px,#0ff 65.5px,#0ff 75.5px,#00ffbf 76.5px,#01ff00 84.5px,#27ff00 85.5px,#a1ff00 92.5px,#ceff00 97.5px,#c3ff00 99.5px,#a3ff00 100.5px,#25ff00 102.5px,#00ff2c 103.5px,#00ff69 104.5px,#00ff8f 105.5px,#00ff9f 106.5px,#00ff9e 109.5px,#00ff2b 112.5px,#05ff00 114.5px,#65ff00 124.5px,#e0ff00 134.5px,#fffc00 139.5px)"></i>
<i style="left:594px;background:linear-gradient(#0002ff 0.5px,#0012ff 4.5px,#004eff 10.5px,#0070ff 16.5px,#0091ff 33.5px,#00f4ff 51.5px,#0ff 56.5px,#0ff 65.5px,#0ff 75.5px,#00ffbf 76.5px,#01ff00 84.5px,#3aff00 85.5px,#b2ff00 92.5px,#dbff00 96.5px,#d2ff00 99.5px,#b3ff00 100.5px,#39ff00 102.5px,#00ff15 103.5px,#00ff4e 104.5px,#00ff72 105.5px,#00ff8e 106.5px,#00ff94 107.5px,#00ff8a 109.5px,#00ff6e 110.5px,#00ff21 112.5px,#00ff0a 113.5px,#0cff00 114.5px,#67ff00 124.5px,#dcff00 134.5px,#fcff00 139.5px)"></i>
<i style="left:596px;background:linear-gradient(#0002ff 0.5px,#0012ff 4.5px,#004eff 10.5px,#0070ff 16.5px,#0091ff 33.5px,#00f4ff 51.5px,#0ff 56.5px,#0ff 65.5px,#0ff 74.5px,#00ffb3 76.5px,#00ff0b 83.5px,#10ff00 84.5px,#2bff00 85.5px,#a2ff00 92.5px,#cbff00 97.5px,#bfff00 99.5px,#a1ff00 100.5px,#29ff00 102.5px,#00ff24 103.5px,#00ff5b 104.5px,#00ff7e 105.5px,#00ff9b 106.5px,#00ff9f 107.5px,#00ff9a 109.5px,#00ff81 110.5px,#00ff37 112.5px,#02ff00 115.5px,#4bff00 124.5px,#c6ff00 134.5px,#e5ff00 139.5px)"></i>
<i style="left:598px;background:linear-gradient(#0002ff 0.5px,#0012ff 4.5px,#004eff 10.5px,#0070ff 16.5px,#0091ff 33.5px,#00f4ff 51.5px,#0ff 56.5px,#0ff 65.5px,#0ff 74.5px,#00ffbf 75.5px,#00ff03 83.5px,#48ff00 88.5px,#a3ff00 93.5px,#c3ff00 97.5px,#baff00 99.5px,#9dff00 100.5px,#29ff00 102.5px,#00ff21 103.5px,#00ff57 104.5px,#0f7 105.5px,#00ff95 106.5px,#00ff9b 107.5px,#00ff91 109.5px,#0f7 110.5px,#00ff2d 112.5px,#01ff00 114.5px,#6fff00 125.5px,#efff00 134.5px,#ff0 136.5px,#ffec00 139.5px)"></i>
</div>
<svg width="945" height="720" viewBox="0 0 945 720">
<g fill="#000" shape-rendering="crispEdges">
<rect x="2" y="1" width="943" height="1"/>
<rect x="2" y="718" width="943" height="1"/>
<rect x="2" y="1" width="1" height="718"/>
<rect x="944" y="1" width="1" height="718"/>
<rect x="100" y="196" width="604" height="1"/>
<rect x="100" y="399" width="604" height="1"/>
<rect x="100" y="196" width="1" height="204"/>
<rect x="703" y="196" width="1" height="204"/>
<rect x="102" y="186" width="1" height="10"/>
<rect x="102" y="400" width="1" height="10"/>
<rect x="127" y="191" width="1" height="5"/>
<rect x="127" y="400" width="1" height="5"/>
<rect x="152" y="191" width="1" height="5"/>
<rect x="152" y="400" width="1" height="5"/>
<rect x="177" y="191" width="1" height="5"/>
<rect x="177" y="400" width="1" height="5"/>
<rect x="202" y="186" width="1" height="10"/>
<rect x="202" y="400" width="1" height="10"/>
<rect x="227" y="191" width="1" height="5"/>
<rect x="227" y="400" width="1" height="5"/>
<rect x="252" y="191" width="1" height="5"/>
<rect x="252" y="400" width="1" height="5"/>
<rect x="277" y="191" width="1" height="5"/>
<rect x="277" y="400" width="1" height="5"/>
<rect x="302" y="186" width="1" height="10"/>
<rect x="302" y="400" width="1" height="10"/>
<rect x="327" y="191" width="1" height="5"/>
<rect x="327" y="400" width="1" height="5"/>
<rect x="352" y="191" width="1" height="5"/>
<rect x="352" y="400" width="1" height="5"/>
<rect x="377" y="191" width="1" height="5"/>
<rect x="377" y="400" width="1" height="5"/>
<rect x="402" y="186" width="1" height="10"/>
<rect x="402" y="400" width="1" height="10"/>
<rect x="427" y="191" width="1" height="5"/>
<rect x="427" y="400" width="1" height="5"/>
<rect x="452" y="191" width="1" height="5"/>
<rect x="452" y="400" width="1" height="5"/>
<rect x="477" y="191" width="1" height="5"/>
<rect x="477" y="400" width="1" height="5"/>
<rect x="502" y="186" width="1" height="10"/>
<rect x="502" y="400" width="1" height="10"/>
<rect x="527" y="191" width="1" height="5"/>
<rect x="527" y="400" width="1" height="5"/>
<rect x="552" y="191" width="1" height="5"/>
<rect x="552" y="400" width="1" height="5"/>
<rect x="577" y="191" width="1" height="5"/>
<rect x="577" y="400" width="1" height="5"/>
<rect x="602" y="186" width="1" height="10"/>
<rect x="602" y="400" width="1" height="10"/>
<rect x="627" y="191" width="1" height="5"/>
<rect x="627" y="400" width="1" height="5"/>
<rect x="652" y="191" width="1" height="5"/>
<rect x="652" y="400" width="1" height="5"/>
<rect x="677" y="191" width="1" height="5"/>
<rect x="677" y="400" width="1" height="5"/>
<rect x="702" y="186" width="1" height="10"/>
<rect x="702" y="400" width="1" height="10"/>
<rect x="90" y="222" width="10" height="1"/>
<rect x="704" y="222" width="10" height="1"/>
<rect x="95" y="210" width="5" height="1"/>
<rect x="704" y="210" width="5" height="1"/>
<rect x="95" y="203" width="5" height="1"/>
<rect x="704" y="203" width="5" height="1"/>
<rect x="95" y="198" width="5" height="1"/>
<rect x="704" y="198" width="5" height="1"/>
<rect x="90" y="262" width="10" height="1"/>
<rect x="704" y="262" width="10" height="1"/>
<rect x="95" y="250" width="5" height="1"/>
<rect x="704" y="250" width="5" height="1"/>
<rect x="95" y="243" width="5" height="1"/>
<rect x="704" y="243" width="5" height="1"/>
<rect x="95" y="238" width="5" height="1"/>
<rect x="704" y="238" width="5" height="1"/>
<rect x="95" y="234" width="5" height="1"/>
<rect x="704" y="234" width="5" height="1"/>
<rect x="95" y="231" width="5" height="1"/>
<rect x="704" y="231" width="5" height="1"/>
<rect x="95" y="228" width="5" height="1"/>
<rect x="704" y="228" width="5" height="1"/>
<rect x="95" y="226" width="5" height="1"/>
<rect x="704" y="226" width="5" height="1"/>
<rect x="95" y="224" width="5" height="1"/>
<rect x="704" y="224" width="5" height="1"/>
<rect x="90" y="302" width="10" height="1"/>
<rect x="704" y="302" width="10" height="1"/>
<rect x="95" y="290" width="5" height="1"/>
<rect x="704" y="290" width="5" height="1"/>
<rect x="95" y="283" width="5" height="1"/>
<rect x="704" y="283" width="5" height="1"/>
<rect x="95" y="278" width="5" height="1"/>
<rect x="704" y="278" width="5" height="1"/>
<rect x="95" y="274" width="5" height="1"/>
<rect x="704" y="274" width="5" height="1"/>
<rect x="95" y="271" width="5" height="1"/>
<rect x="704" y="271" width="5" height="1"/>
<rect x="95" y="268" width="5" height="1"/>
<rect x="704" y="268" width="5" height="1"/>
<rect x="95" y="266" width="5" height="1"/>
<rect x="704" y="266" width="5" height="1"/>
<rect x="95" y="264" width="5" height="1"/>
<rect x="704" y="264" width="5" height="1"/>
<rect x="90" y="342" width="10" height="1"/>
<rect x="704" y="342" width="10" height="1"/>
<rect x="95" y="330" width="5" height="1"/>
<rect x="704" y="330" width="5" height="1"/>
<rect x="95" y="323" width="5" height="1"/>
<rect x="704" y="323" width="5" height="1"/>
<rect x="95" y="318" width="5" height="1"/>
<rect x="704" y="318" width="5" height="1"/>
<rect x="95" y="314" width="5" height="1"/>
<rect x="704" y="314" width="5" height="1"/>
<rect x="95" y="311" width="5" height="1"/>
<rect x="704" y="311" width="5" height="1"/>
<rect x="95" y="308" width="5" height="1"/>
<rect x="704" y="308" width="5" height="1"/>
<rect x="95" y="306" width="5" height="1"/>
<rect x="704" y="306" width="5" height="1"/>
<rect x="95" y="304" width="5" height="1"/>
<rect x="704" y="304" width="5" height="1"/>
<rect x="90" y="382" width="10" height="1"/>
<rect x="704" y="382" width="10" height="1"/>
<rect x="95" y="370" width="5" height="1"/>
<rect x="704" y="370" width="5" height="1"/>
<rect x="95" y="363" width="5" height="1"/>
<rect x="704" y="363" width="5" height="1"/>
<rect x="95" y="358" width="5" height="1"/>
<rect x="704" y="358" width="5" height="1"/>
<rect x="95" y="354" width="5" height="1"/>
<rect x="704" y="354" width="5" height="1"/>
<rect x="95" y="351" width="5" height="1"/>
<rect x="704" y="351" width="5" height="1"/>
<rect x="95" y="348" width="5" height="1"/>
<rect x="704" y="348" width="5" height="1"/>
<rect x="95" y="346" width="5" height="1"/>
<rect x="704" y="346" width="5" height="1"/>
<rect x="95" y="344" width="5" height="1"/>
<rect x="704" y="344" width="5" height="1"/>
<rect x="95" y="394" width="5" height="1"/>
<rect x="704" y="394" width="5" height="1"/>
<rect x="95" y="391" width="5" height="1"/>
<rect x="704" y="391" width="5" height="1"/>
<rect x="95" y="388" width="5" height="1"/>
<rect x="704" y="388" width="5" height="1"/>
<rect x="95" y="386" width="5" height="1"/>
<rect x="704" y="386" width="5" height="1"/>
<rect x="95" y="384" width="5" height="1"/>
<rect x="704" y="384" width="5" height="1"/>
<rect x="100" y="476" width="604" height="1"/>
<rect x="100" y="619" width="604" height="1"/>
<rect x="100" y="476" width="1" height="144"/>
<rect x="703" y="476" width="1" height="144"/>
<rect x="102" y="466" width="1" height="10"/>
<rect x="102" y="620" width="1" height="10"/>
<rect x="127" y="471" width="1" height="5"/>
<rect x="127" y="620" width="1" height="5"/>
<rect x="152" y="471" width="1" height="5"/>
<rect x="152" y="620" width="1" height="5"/>
<rect x="177" y="471" width="1" height="5"/>
<rect x="177" y="620" width="1" height="5"/>
<rect x="202" y="466" width="1" height="10"/>
<rect x="202" y="620" width="1" height="10"/>
<rect x="227" y="471" width="1" height="5"/>
<rect x="227" y="620" width="1" height="5"/>
<rect x="252" y="471" width="1" height="5"/>
<rect x="252" y="620" width="1" height="5"/>
<rect x="277" y="471" width="1" height="5"/>
<rect x="277" y="620" width="1" height="5"/>
<rect x="302" y="466" width="1" height="10"/>
<rect x="302" y="620" width="1" height="10"/>
<rect x="327" y="471" width="1" height="5"/>
<rect x="327" y="620" width="1" height="5"/>
<rect x="352" y="471" width="1" height="5"/>
<rect x="352" y="620" width="1" height="5"/>
<rect x="377" y="471" width="1" height="5"/>
<rect x="377" y="620" width="1" height="5"/>
<rect x="402" y="466" width="1" height="10"/>
<rect x="402" y="620" width="1" height="10"/>
<rect x="427" y="471" width="1" height="5"/>
<rect x="427" y="620" width="1" height="5"/>
<rect x="452" y="471" width="1" height="5"/>
<rect x="452" y="620" width="1" height="5"/>
<rect x="477" y="471" width="1" height="5"/>
<rect x="477" y="620" width="1" height="5"/>
<rect x="502" y="466" width="1" height="10"/>
<rect x="502" y="620" width="1" height="10"/>
<rect x="527" y="471" width="1" height="5"/>
<rect x="527" y="620" width="1" height="5"/>
<rect x="552" y="471" width="1" height="5"/>
<rect x="552" y="620" width="1" height="5"/>
<rect x="577" y="471" width="1" height="5"/>
<rect x="577" y="620" width="1" height="5"/>
<rect x="602" y="466" width="1" height="10"/>
<rect x="602" y="620" width="1" height="10"/>
<rect x="627" y="471" width="1" height="5"/>
<rect x="627" y="620" width="1" height="5"/>
<rect x="652" y="471" width="1" height="5"/>
<rect x="652" y="620" width="1" height="5"/>
<rect x="677" y="471" width="1" height="5"/>
<rect x="677" y="620" width="1" height="5"/>
<rect x="702" y="466" width="1" height="10"/>
<rect x="702" y="620" width="1" height="10"/>
<rect x="90" y="482" width="10" height="1"/>
<rect x="704" y="482" width="10" height="1"/>
<rect x="90" y="522" width="10" height="1"/>
<rect x="704" y="522" width="10" height="1"/>
<rect x="95" y="510" width="5" height="1"/>
<rect x="704" y="510" width="5" height="1"/>
<rect x="95" y="503" width="5" height="1"/>
<rect x="704" y="503" width="5" height="1"/>
<rect x="95" y="498" width="5" height="1"/>
<rect x="704" y="498" width="5" height="1"/>
<rect x="95" y="494" width="5" height="1"/>
<rect x="704" y="494" width="5" height="1"/>
<rect x="95" y="491" width="5" height="1"/>
<rect x="704" y="491" width="5" height="1"/>
<rect x="95" y="488" width="5" height="1"/>
<rect x="704" y="488" width="5" height="1"/>
<rect x="95" y="486" width="5" height="1"/>
<rect x="704" y="486" width="5" height="1"/>
<rect x="95" y="484" width="5" height="1"/>
<rect x="704" y="484" width="5" height="1"/>
<rect x="90" y="562" width="10" height="1"/>
<rect x="704" y="562" width="10" height="1"/>
<rect x="95" y="550" width="5" height="1"/>
<rect x="704" y="550" width="5" height="1"/>
<rect x="95" y="543" width="5" height="1"/>
<rect x="704" y="543" width="5" height="1"/>
<rect x="95" y="538" width="5" height="1"/>
<rect x="704" y="538" width="5" height="1"/>
<rect x="95" y="534" width="5" height="1"/>
<rect x="704" y="534" width="5" height="1"/>
<rect x="95" y="531" width="5" height="1"/>
<rect x="704" y="531" width="5" height="1"/>
<rect x="95" y="528" width="5" height="1"/>
<rect x="704" y="528" width="5" height="1"/>
<rect x="95" y="526" width="5" height="1"/>
<rect x="704" y="526" width="5" height="1"/>
<rect x="95" y="524" width="5" height="1"/>
<rect x="704" y="524" width="5" height="1"/>
<rect x="90" y="602" width="10" height="1"/>
<rect x="704" y="602" width="10" height="1"/>
<rect x="95" y="590" width="5" height="1"/>
<rect x="704" y="590" width="5" height="1"/>
<rect x="95" y="583" width="5" height="1"/>
<rect x="704" y="583" width="5" height="1"/>
<rect x="95" y="578" width="5" height="1"/>
<rect x="704" y="578" width="5" height="1"/>
<rect x="95" y="574" width="5" height="1"/>
<rect x="704" y="574" width="5" height="1"/>
<rect x="95" y="571" width="5" height="1"/>
<rect x="704" y="571" width="5" height="1"/>
<rect x="95" y="568" width="5" height="1"/>
<rect x="704" y="568" width="5" height="1"/>
<rect x="95" y="566" width="5" height="1"/>
<rect x="704" y="566" width="5" height="1"/>
<rect x="95" y="564" width="5" height="1"/>
<rect x="704" y="564" width="5" height="1"/>
<rect x="95" y="614" width="5" height="1"/>
<rect x="704" y="614" width="5" height="1"/>
<rect x="95" y="611" width="5" height="1"/>
<rect x="704" y="611" width="5" height="1"/>
<rect x="95" y="608" width="5" height="1"/>
<rect x="704" y="608" width="5" height="1"/>
<rect x="95" y="606" width="5" height="1"/>
<rect x="704" y="606" width="5" height="1"/>
<rect x="95" y="604" width="5" height="1"/>
<rect x="704" y="604" width="5" height="1"/>
<rect x="103" y="420" width="600" height="9"/>
<rect x="103" y="435" width="600" height="9"/>
<rect x="103" y="458" width="600" height="1"/>
<rect x="114" y="450" width="1" height="9"/>
<rect x="116" y="450" width="1" height="9"/>
<rect x="217" y="450" width="1" height="9"/>
<rect x="219" y="450" width="1" height="9"/>
<rect x="288" y="450" width="1" height="9"/>
<rect x="290" y="450" width="1" height="9"/>
<rect x="359" y="450" width="1" height="9"/>
<rect x="361" y="450" width="1" height="9"/>
<rect x="430" y="450" width="1" height="9"/>
<rect x="432" y="450" width="1" height="9"/>
<rect x="501" y="450" width="1" height="9"/>
<rect x="503" y="450" width="1" height="9"/>
<rect x="572" y="450" width="1" height="9"/>
<rect x="574" y="450" width="1" height="9"/>
<rect x="643" y="450" width="1" height="9"/>
<rect x="645" y="450" width="1" height="9"/>
<rect x="103" y="673" width="599" height="1"/>
<rect x="716" y="204" width="8" height="1"/>
<rect x="716" y="224" width="8" height="1"/>
<rect x="716" y="244" width="8" height="1"/>
<rect x="716" y="264" width="8" height="1"/>
<rect x="716" y="284" width="8" height="1"/>
<rect x="716" y="304" width="8" height="1"/>
<rect x="716" y="324" width="8" height="1"/>
<rect x="716" y="344" width="8" height="1"/>
<rect x="716" y="364" width="8" height="1"/>
<rect x="716" y="384" width="8" height="1"/>
<rect x="716" y="485" width="8" height="1"/>
<rect x="716" y="504" width="8" height="1"/>
<rect x="716" y="524" width="8" height="1"/>
<rect x="716" y="544" width="8" height="1"/>
<rect x="716" y="565" width="8" height="1"/>
<rect x="716" y="584" width="8" height="1"/>
<rect x="716" y="604" width="8" height="1"/>
<rect x="800" y="246" width="24" height="1"/>
<rect x="800" y="375" width="24" height="1"/>
<rect x="800" y="246" width="1" height="130"/>
<rect x="823" y="246" width="1" height="130"/>
<rect x="824" y="248" width="10" height="1"/>
<rect x="824" y="266" width="6" height="1"/>
<rect x="824" y="285" width="6" height="1"/>
<rect x="824" y="303" width="6" height="1"/>
<rect x="824" y="322" width="6" height="1"/>
<rect x="824" y="340" width="6" height="1"/>
<rect x="824" y="358" width="6" height="1"/>
<rect x="824" y="373" width="10" height="1"/>
<rect x="800" y="486" width="24" height="1"/>
<rect x="800" y="615" width="24" height="1"/>
<rect x="800" y="486" width="1" height="130"/>
<rect x="823" y="486" width="1" height="130"/>
<rect x="824" y="488" width="10" height="1"/>
<rect x="824" y="511" width="6" height="1"/>
<rect x="824" y="533" width="6" height="1"/>
<rect x="824" y="556" width="6" height="1"/>
<rect x="824" y="579" width="6" height="1"/>
<rect x="824" y="602" width="6" height="1"/>
<rect x="824" y="613" width="10" height="1"/>
</g>
<defs><linearGradient id="cb" x1="0" y1="0" x2="0" y2="1"><stop offset="0" stop-color="#f0f"/><stop offset=".2" stop-color="#f00"/><stop offset=".4" stop-color="#ff0"/><stop offset=".6" stop-color="#0f0"/><stop offset=".8" stop-color="#0ff"/><stop offset="1" stop-color="#00f"/></linearGradient></defs>
<rect x="802" y="248" width="20" height="126" fill="url(#cb)"/>
<rect x="802" y="488" width="20" height="126" fill="url(#cb)"/>
<defs><radialGradient id="d3"><stop offset="0" stop-color="#ff0"/><stop offset=".38" stop-color="#e0ff00"/><stop offset=".62" stop-color="#3f0" stop-opacity=".95"/><stop offset=".82" stop-color="#00ff80" stop-opacity=".6"/><stop offset="1" stop-color="#0ff" stop-opacity="0"/></radialGradient><radialGradient id="d2"><stop offset="0" stop-color="#d8ff00"/><stop offset=".3" stop-color="#b0ff00"/><stop offset=".55" stop-color="#40ff00" stop-opacity=".95"/><stop offset=".75" stop-color="#00ff70" stop-opacity=".6"/><stop offset="1" stop-color="#0ff" stop-opacity="0"/></radialGradient><radialGradient id="d1"><stop offset="0" stop-color="#20ff00" stop-opacity=".95"/><stop offset=".55" stop-color="#00ff90" stop-opacity=".55"/><stop offset="1" stop-color="#0ff" stop-opacity="0"/></radialGradient><radialGradient id="d0"><stop offset="0" stop-color="#00ff60" stop-opacity=".6"/><stop offset="1" stop-color="#0ff" stop-opacity="0"/></radialGradient></defs>
<ellipse cx="107.6" cy="254.4" rx="2.91" ry="5.3" fill="url(#d2)"/>
<ellipse cx="109.9" cy="254.4" rx="2.91" ry="5.3" fill="url(#d2)"/>
<ellipse cx="113.5" cy="254.4" rx="4.72" ry="5.6" fill="url(#d3)"/>
<ellipse cx="117.8" cy="254.4" rx="3.42" ry="5.3" fill="url(#d2)"/>
<ellipse cx="122.9" cy="254.4" rx="3.76" ry="5.3" fill="url(#d2)"/>
<ellipse cx="126.4" cy="254.4" rx="5.25" ry="5.6" fill="url(#d3)"/>
<ellipse cx="131.3" cy="254.4" rx="3.42" ry="5.3" fill="url(#d2)"/>
<ellipse cx="134.9" cy="254.4" rx="4.90" ry="5.6" fill="url(#d3)"/>
<ellipse cx="158.4" cy="254.4" rx="2.14" ry="5.0" fill="url(#d1)"/>
<ellipse cx="167.7" cy="254.4" rx="2.40" ry="5.3" fill="url(#d2)"/>
<ellipse cx="173.0" cy="254.4" rx="3.08" ry="5.3" fill="url(#d2)"/>
<ellipse cx="175.6" cy="254.4" rx="2.74" ry="5.3" fill="url(#d2)"/>
<ellipse cx="181.2" cy="254.4" rx="5.12" ry="5.3" fill="url(#d2)"/>
<ellipse cx="190.0" cy="254.4" rx="7.00" ry="5.6" fill="url(#d3)"/>
<ellipse cx="198.0" cy="254.4" rx="2.91" ry="5.3" fill="url(#d2)"/>
<ellipse cx="200.4" cy="254.4" rx="2.91" ry="5.3" fill="url(#d2)"/>
<ellipse cx="203.5" cy="254.4" rx="2.50" ry="5.0" fill="url(#d1)"/>
<ellipse cx="206.7" cy="254.4" rx="2.91" ry="5.3" fill="url(#d2)"/>
<ellipse cx="210.9" cy="254.4" rx="3.76" ry="5.3" fill="url(#d2)"/>
<ellipse cx="215.1" cy="254.4" rx="2.91" ry="5.3" fill="url(#d2)"/>
<ellipse cx="220.2" cy="254.4" rx="2.86" ry="5.0" fill="url(#d1)"/>
<ellipse cx="225.6" cy="254.4" rx="2.91" ry="5.3" fill="url(#d2)"/>
<ellipse cx="228.6" cy="254.4" rx="2.91" ry="5.3" fill="url(#d2)"/>
<ellipse cx="233.8" cy="254.4" rx="4.44" ry="5.3" fill="url(#d2)"/>
<ellipse cx="239.9" cy="254.4" rx="4.78" ry="5.3" fill="url(#d2)"/>
<ellipse cx="250.8" cy="254.4" rx="2.32" ry="5.0" fill="url(#d1)"/>
<ellipse cx="258.9" cy="254.4" rx="6.30" ry="5.6" fill="url(#d3)"/>
<ellipse cx="269.8" cy="254.4" rx="4.61" ry="5.3" fill="url(#d2)"/>
<ellipse cx="275.4" cy="254.4" rx="2.91" ry="5.3" fill="url(#d2)"/>
<ellipse cx="279.6" cy="254.4" rx="2.68" ry="5.0" fill="url(#d1)"/>
<ellipse cx="285.6" cy="254.4" rx="2.86" ry="4.6" fill="url(#d0)"/>
<ellipse cx="288.6" cy="254.4" rx="2.06" ry="5.3" fill="url(#d2)"/>
<ellipse cx="297.4" cy="254.4" rx="2.14" ry="5.0" fill="url(#d1)"/>
<ellipse cx="317.5" cy="254.4" rx="4.44" ry="5.3" fill="url(#d2)"/>
<ellipse cx="322.0" cy="254.4" rx="2.50" ry="5.0" fill="url(#d1)"/>
<ellipse cx="328.3" cy="254.4" rx="4.90" ry="5.6" fill="url(#d3)"/>
<ellipse cx="333.8" cy="254.4" rx="2.50" ry="4.6" fill="url(#d0)"/>
<ellipse cx="337.2" cy="254.4" rx="2.50" ry="4.6" fill="url(#d0)"/>
<ellipse cx="378.3" cy="254.4" rx="2.14" ry="5.0" fill="url(#d1)"/>
<ellipse cx="406.5" cy="254.4" rx="2.14" ry="5.0" fill="url(#d1)"/>
<ellipse cx="411.9" cy="254.4" rx="2.50" ry="4.6" fill="url(#d0)"/>
<ellipse cx="418.4" cy="254.4" rx="2.32" ry="5.0" fill="url(#d1)"/>
<ellipse cx="437.6" cy="254.4" rx="2.32" ry="5.0" fill="url(#d1)"/>
<ellipse cx="474.0" cy="254.4" rx="2.32" ry="5.0" fill="url(#d1)"/>
<ellipse cx="479.6" cy="254.4" rx="2.50" ry="4.6" fill="url(#d0)"/>
<ellipse cx="500.3" cy="254.4" rx="2.50" ry="5.0" fill="url(#d1)"/>
<ellipse cx="565.6" cy="254.4" rx="2.68" ry="5.0" fill="url(#d1)"/>
<ellipse cx="562.0" cy="254.4" rx="3.40" ry="4.6" fill="url(#d0)"/>
<ellipse cx="609.0" cy="254.4" rx="2.50" ry="4.6" fill="url(#d0)"/>
<ellipse cx="625.0" cy="254.4" rx="2.50" ry="4.6" fill="url(#d0)"/>
<ellipse cx="694.8" cy="254.4" rx="2.50" ry="4.6" fill="url(#d0)"/>
<polyline points="102.5,327.5 103.5,327.5 104.5,327.5 105.5,327.5 106.5,327.5 107.5,327.5 108.5,327.5 109.5,327.5 110.5,327.5 111.5,327.5 112.5,327.5 113.5,327.5 114.5,327.5 115.5,327.5 116.5,327.5 117.5,327.5 118.5,327.5 119.5,327.5 120.5,327.5 121.5,327.5 122.5,327.5 123.5,327.5 124.5,327.5 125.5,327.5 126.5,327.5 127.5,327.5 128.5,327.5 129.5,327.5 130.5,327.5 131.5,327.5 132.5,327.5 133.5,327.5 134.5,327.5 135.5,327.5 136.5,327.5 137.5,327.5 138.5,327.5 139.5,327.5 140.5,327.5 141.5,327.5 142.5,327.5 143.5,327.5 144.5,327.5 145.5,327.5 146.5,327.5 147.5,328.5 148.5,327.5 149.5,328.5 150.5,328.5 151.5,327.5 152.5,328.5 153.5,329.5 154.5,328.5 155.5,329.5 156.5,328.5 157.5,328.5 158.5,328.5 159.5,328.5 160.5,328.5 161.5,329.5 162.5,328.5 163.5,328.5 164.5,328.5 165.5,329.5 166.5,329.5 167.5,328.5 168.5,327.5 169.5,328.5 170.5,328.5 171.5,327.5 172.5,328.5 173.5,328.5 174.5,328.5 175.5,328.5 176.5,328.5 177.5,328.5 178.5,328.5 179.5,328.5 180.5,328.5 181.5,328.5 182.5,328.5 183.5,329.5 184.5,328.5 185.5,328.5 186.5,328.5 187.5,328.5 188.5,328.5 189.5,328.5 190.5,328.5 191.5,328.5 192.5,328.5 193.5,328.5 194.5,329.5 195.5,328.5 196.5,328.5 197.5,328.5 198.5,328.5 199.5,328.5 200.5,327.5 201.5,329.5 202.5,328.5 203.5,328.5 204.5,328.5 205.5,327.5 206.5,329.5 207.5,329.5 208.5,329.5 209.5,328.5 210.5,328.5 211.5,328.5 212.5,329.5 213.5,328.5 214.5,328.5 215.5,329.5 216.5,328.5 217.5,328.5 218.5,328.5 219.5,328.5 220.5,328.5 221.5,328.5 222.5,329.5 223.5,329.5 224.5,328.5 225.5,328.5 226.5,329.5 227.5,329.5 228.5,329.5 229.5,329.5 230.5,329.5 231.5,329.5 232.5,329.5 233.5,329.5 234.5,329.5 235.5,329.5 236.5,329.5 237.5,329.5 238.5,329.5 239.5,329.5 240.5,329.5 241.5,330.5 242.5,330.5 243.5,330.5 244.5,330.5 245.5,330.5 246.5,330.5 247.5,329.5 248.5,330.5 249.5,330.5 250.5,330.5 251.5,331.5 252.5,328.5 253.5,328.5 254.5,329.5 255.5,331.5 256.5,329.5 257.5,329.5 258.5,328.5 259.5,328.5 260.5,328.5 261.5,330.5 262.5,330.5 263.5,330.5 264.5,329.5 265.5,331.5 266.5,327.5 267.5,326.5 268.5,328.5 269.5,329.5 270.5,329.5 271.5,328.5 272.5,330.5 273.5,331.5 274.5,328.5 275.5,328.5 276.5,327.5 277.5,329.5 278.5,331.5 279.5,331.5 280.5,331.5 281.5,332.5 282.5,331.5 283.5,331.5 284.5,330.5 285.5,330.5 286.5,331.5 287.5,331.5 288.5,332.5 289.5,333.5 290.5,332.5 291.5,331.5 292.5,331.5 293.5,333.5 294.5,332.5 295.5,333.5 296.5,333.5 297.5,333.5 298.5,334.5 299.5,332.5 300.5,331.5 301.5,333.5 302.5,333.5 303.5,333.5 304.5,333.5 305.5,333.5 306.5,334.5 307.5,333.5 308.5,331.5 309.5,330.5 310.5,331.5 311.5,331.5 312.5,331.5 313.5,329.5 314.5,327.5 315.5,330.5 316.5,331.5 317.5,331.5 318.5,333.5 319.5,332.5 320.5,331.5 321.5,332.5 322.5,331.5 323.5,332.5 324.5,332.5 325.5,332.5 326.5,331.5 327.5,331.5 328.5,330.5 329.5,330.5 330.5,329.5 331.5,332.5 332.5,333.5 333.5,334.5 334.5,332.5 335.5,331.5 336.5,331.5 337.5,334.5 338.5,332.5 339.5,333.5 340.5,331.5 341.5,333.5 342.5,334.5 343.5,334.5 344.5,333.5 345.5,333.5 346.5,333.5 347.5,334.5 348.5,334.5 349.5,334.5 350.5,333.5 351.5,333.5 352.5,333.5 353.5,333.5 354.5,333.5 355.5,333.5 356.5,333.5 357.5,333.5 358.5,333.5 359.5,333.5 360.5,333.5 361.5,333.5 362.5,333.5 363.5,333.5 364.5,333.5 365.5,333.5 366.5,333.5 367.5,332.5 368.5,332.5 369.5,332.5 370.5,331.5 371.5,331.5 372.5,331.5 373.5,331.5 374.5,331.5 375.5,330.5 376.5,330.5 377.5,330.5 378.5,330.5 379.5,330.5 380.5,331.5 381.5,331.5 382.5,331.5 383.5,331.5 384.5,332.5 385.5,333.5 386.5,333.5 387.5,333.5 388.5,333.5 389.5,332.5 390.5,332.5 391.5,332.5 392.5,332.5 393.5,332.5 394.5,332.5 395.5,332.5 396.5,332.5 397.5,332.5 398.5,332.5 399.5,333.5 400.5,333.5 401.5,332.5 402.5,332.5 403.5,332.5 404.5,332.5 405.5,332.5 406.5,332.5 407.5,332.5 408.5,332.5 409.5,332.5 410.5,332.5 411.5,332.5 412.5,332.5 413.5,332.5 414.5,332.5 415.5,332.5 416.5,332.5 417.5,333.5 418.5,332.5 419.5,332.5 420.5,332.5 421.5,332.5 422.5,331.5 423.5,333.5 424.5,332.5 425.5,332.5 426.5,332.5 427.5,332.5 428.5,332.5 429.5,332.5 430.5,333.5 431.5,333.5 432.5,333.5 433.5,333.5 434.5,333.5 435.5,333.5 436.5,333.5 437.5,333.5 438.5,334.5 439.5,334.5 440.5,334.5 441.5,334.5 442.5,333.5 443.5,333.5 444.5,333.5 445.5,334.5 446.5,333.5 447.5,334.5 448.5,334.5 449.5,334.5 450.5,334.5 451.5,334.5 452.5,334.5 453.5,334.5 454.5,334.5 455.5,334.5 456.5,335.5 457.5,336.5 458.5,335.5 459.5,335.5 460.5,335.5 461.5,336.5 462.5,334.5 463.5,336.5 464.5,332.5 465.5,334.5 466.5,334.5 467.5,337.5 468.5,336.5 469.5,335.5 470.5,335.5 471.5,336.5 472.5,335.5 473.5,335.5 474.5,334.5 475.5,334.5 476.5,335.5 477.5,336.5 478.5,335.5 479.5,335.5 480.5,334.5 481.5,335.5 482.5,334.5 483.5,334.5 484.5,333.5 485.5,334.5 486.5,335.5 487.5,336.5 488.5,334.5 489.5,336.5 490.5,335.5 491.5,334.5 492.5,333.5 493.5,333.5 494.5,334.5 495.5,336.5 496.5,334.5 497.5,334.5 498.5,336.5 499.5,333.5 500.5,335.5 501.5,335.5 502.5,335.5 503.5,336.5 504.5,335.5 505.5,335.5 506.5,336.5 507.5,336.5 508.5,335.5 509.5,335.5 510.5,335.5 511.5,336.5 512.5,335.5 513.5,336.5 514.5,336.5 515.5,336.5 516.5,336.5 517.5,336.5 518.5,336.5 519.5,336.5 520.5,336.5 521.5,336.5 522.5,336.5 523.5,336.5 524.5,336.5 525.5,336.5 526.5,336.5 527.5,336.5 528.5,336.5 529.5,337.5 530.5,337.5 531.5,337.5 532.5,336.5 533.5,337.5 534.5,337.5 535.5,336.5 536.5,335.5 537.5,334.5 538.5,334.5 539.5,334.5 540.5,334.5 541.5,334.5 542.5,334.5 543.5,334.5 544.5,334.5 545.5,334.5 546.5,335.5 547.5,335.5 548.5,334.5 549.5,335.5 550.5,335.5 551.5,335.5 552.5,334.5 553.5,334.5 554.5,333.5 555.5,334.5 556.5,333.5 557.5,332.5 558.5,333.5 559.5,332.5 560.5,333.5 561.5,332.5 562.5,333.5 563.5,333.5 564.5,333.5 565.5,333.5 566.5,333.5 567.5,334.5 568.5,334.5 569.5,333.5 570.5,333.5 571.5,334.5 572.5,334.5 573.5,334.5 574.5,334.5 575.5,334.5 576.5,334.5 577.5,335.5 578.5,334.5 579.5,333.5 580.5,334.5 581.5,336.5 582.5,336.5 583.5,335.5 584.5,335.5 585.5,337.5 586.5,337.5 587.5,337.5 588.5,338.5 589.5,338.5 590.5,336.5 591.5,336.5 592.5,337.5 593.5,335.5 594.5,335.5 595.5,335.5 596.5,334.5 597.5,334.5 598.5,334.5 599.5,334.5 600.5,335.5 601.5,335.5 602.5,335.5 603.5,335.5 604.5,335.5 605.5,335.5 606.5,334.5 607.5,334.5 608.5,334.5 609.5,334.5 610.5,334.5 611.5,334.5 612.5,334.5 613.5,334.5 614.5,335.5 615.5,335.5 616.5,335.5 617.5,335.5 618.5,335.5 619.5,335.5 620.5,335.5 621.5,335.5 622.5,336.5 623.5,336.5 624.5,335.5 625.5,335.5 626.5,336.5 627.5,336.5 628.5,335.5 629.5,336.5 630.5,335.5 631.5,335.5 632.5,337.5 633.5,338.5 634.5,338.5 635.5,340.5 636.5,338.5 637.5,339.5 638.5,339.5 639.5,337.5 640.5,337.5 641.5,336.5 642.5,337.5 643.5,338.5 644.5,339.5 645.5,338.5 646.5,336.5 647.5,337.5 648.5,339.5 649.5,339.5 650.5,340.5 651.5,337.5 652.5,337.5 653.5,336.5 654.5,338.5 655.5,339.5 656.5,338.5 657.5,339.5 658.5,340.5 659.5,339.5 660.5,337.5 661.5,337.5 662.5,337.5 663.5,333.5 664.5,334.5 665.5,333.5 666.5,331.5 667.5,331.5 668.5,328.5 669.5,330.5 670.5,330.5 671.5,331.5 672.5,331.5 673.5,332.5 674.5,332.5 675.5,333.5 676.5,332.5 677.5,334.5 678.5,332.5 679.5,330.5 680.5,330.5 681.5,331.5 682.5,332.5 683.5,334.5 684.5,335.5 685.5,334.5 686.5,332.5 687.5,332.5 688.5,333.5 689.5,333.5 690.5,334.5 691.5,334.5 692.5,335.5 693.5,334.5 694.5,334.5 695.5,334.5 696.5,334.5 697.5,334.5 698.5,334.5 699.5,333.5 700.5,333.5 701.5,333.5" fill="none" stroke="#fff" stroke-width="3" stroke-linejoin="round" shape-rendering="crispEdges"/>
<polyline points="102.5,327.5 103.5,327.5 104.5,327.5 105.5,327.5 106.5,327.5 107.5,327.5 108.5,327.5 109.5,327.5 110.5,327.5 111.5,327.5 112.5,327.5 113.5,327.5 114.5,327.5 115.5,327.5 116.5,327.5 117.5,327.5 118.5,327.5 119.5,327.5 120.5,327.5 121.5,327.5 122.5,327.5 123.5,327.5 124.5,327.5 125.5,327.5 126.5,327.5 127.5,327.5 128.5,327.5 129.5,327.5 130.5,327.5 131.5,327.5 132.5,327.5 133.5,327.5 134.5,327.5 135.5,327.5 136.5,327.5 137.5,327.5 138.5,327.5 139.5,327.5 140.5,327.5 141.5,327.5 142.5,327.5 143.5,327.5 144.5,327.5 145.5,327.5 146.5,327.5 147.5,328.5 148.5,327.5 149.5,328.5 150.5,328.5 151.5,327.5 152.5,328.5 153.5,329.5 154.5,328.5 155.5,329.5 156.5,328.5 157.5,328.5 158.5,328.5 159.5,328.5 160.5,328.5 161.5,329.5 162.5,328.5 163.5,328.5 164.5,328.5 165.5,329.5 166.5,329.5 167.5,328.5 168.5,327.5 169.5,328.5 170.5,328.5 171.5,327.5 172.5,328.5 173.5,328.5 174.5,328.5 175.5,328.5 176.5,328.5 177.5,328.5 178.5,328.5 179.5,328.5 180.5,328.5 181.5,328.5 182.5,328.5 183.5,329.5 184.5,328.5 185.5,328.5 186.5,328.5 187.5,328.5 188.5,328.5 189.5,328.5 190.5,328.5 191.5,328.5 192.5,328.5 193.5,328.5 194.5,329.5 195.5,328.5 196.5,328.5 197.5,328.5 198.5,328.5 199.5,328.5 200.5,327.5 201.5,329.5 202.5,328.5 203.5,328.5 204.5,328.5 205.5,327.5 206.5,329.5 207.5,329.5 208.5,329.5 209.5,328.5 210.5,328.5 211.5,328.5 212.5,329.5 213.5,328.5 214.5,328.5 215.5,329.5 216.5,328.5 217.5,328.5 218.5,328.5 219.5,328.5 220.5,328.5 221.5,328.5 222.5,329.5 223.5,329.5 224.5,328.5 225.5,328.5 226.5,329.5 227.5,329.5 228.5,329.5 229.5,329.5 230.5,329.5 231.5,329.5 232.5,329.5 233.5,329.5 234.5,329.5 235.5,329.5 236.5,329.5 237.5,329.5 238.5,329.5 239.5,329.5 240.5,329.5 241.5,330.5 242.5,330.5 243.5,330.5 244.5,330.5 245.5,330.5 246.5,330.5 247.5,329.5 248.5,330.5 249.5,330.5 250.5,330.5 251.5,331.5 252.5,328.5 253.5,328.5 254.5,329.5 255.5,331.5 256.5,329.5 257.5,329.5 258.5,328.5 259.5,328.5 260.5,328.5 261.5,330.5 262.5,330.5 263.5,330.5 264.5,329.5 265.5,331.5 266.5,327.5 267.5,326.5 268.5,328.5 269.5,329.5 270.5,329.5 271.5,328.5 272.5,330.5 273.5,331.5 274.5,328.5 275.5,328.5 276.5,327.5 277.5,329.5 278.5,331.5 279.5,331.5 280.5,331.5 281.5,332.5 282.5,331.5 283.5,331.5 284.5,330.5 285.5,330.5 286.5,331.5 287.5,331.5 288.5,332.5 289.5,333.5 290.5,332.5 291.5,331.5 292.5,331.5 293.5,333.5 294.5,332.5 295.5,333.5 296.5,333.5 297.5,333.5 298.5,334.5 299.5,332.5 300.5,331.5 301.5,333.5 302.5,333.5 303.5,333.5 304.5,333.5 305.5,333.5 306.5,334.5 307.5,333.5 308.5,331.5 309.5,330.5 310.5,331.5 311.5,331.5 312.5,331.5 313.5,329.5 314.5,327.5 315.5,330.5 316.5,331.5 317.5,331.5 318.5,333.5 319.5,332.5 320.5,331.5 321.5,332.5 322.5,331.5 323.5,332.5 324.5,332.5 325.5,332.5 326.5,331.5 327.5,331.5 328.5,330.5 329.5,330.5 330.5,329.5 331.5,332.5 332.5,333.5 333.5,334.5 334.5,332.5 335.5,331.5 336.5,331.5 337.5,334.5 338.5,332.5 339.5,333.5 340.5,331.5 341.5,333.5 342.5,334.5 343.5,334.5 344.5,333.5 345.5,333.5 346.5,333.5 347.5,334.5 348.5,334.5 349.5,334.5 350.5,333.5 351.5,333.5 352.5,333.5 353.5,333.5 354.5,333.5 355.5,333.5 356.5,333.5 357.5,333.5 358.5,333.5 359.5,333.5 360.5,333.5 361.5,333.5 362.5,333.5 363.5,333.5 364.5,333.5 365.5,333.5 366.5,333.5 367.5,332.5 368.5,332.5 369.5,332.5 370.5,331.5 371.5,331.5 372.5,331.5 373.5,331.5 374.5,331.5 375.5,330.5 376.5,330.5 377.5,330.5 378.5,330.5 379.5,330.5 380.5,331.5 381.5,331.5 382.5,331.5 383.5,331.5 384.5,332.5 385.5,333.5 386.5,333.5 387.5,333.5 388.5,333.5 389.5,332.5 390.5,332.5 391.5,332.5 392.5,332.5 393.5,332.5 394.5,332.5 395.5,332.5 396.5,332.5 397.5,332.5 398.5,332.5 399.5,333.5 400.5,333.5 401.5,332.5 402.5,332.5 403.5,332.5 404.5,332.5 405.5,332.5 406.5,332.5 407.5,332.5 408.5,332.5 409.5,332.5 410.5,332.5 411.5,332.5 412.5,332.5 413.5,332.5 414.5,332.5 415.5,332.5 416.5,332.5 417.5,333.5 418.5,332.5 419.5,332.5 420.5,332.5 421.5,332.5 422.5,331.5 423.5,333.5 424.5,332.5 425.5,332.5 426.5,332.5 427.5,332.5 428.5,332.5 429.5,332.5 430.5,333.5 431.5,333.5 432.5,333.5 433.5,333.5 434.5,333.5 435.5,333.5 436.5,333.5 437.5,333.5 438.5,334.5 439.5,334.5 440.5,334.5 441.5,334.5 442.5,333.5 443.5,333.5 444.5,333.5 445.5,334.5 446.5,333.5 447.5,334.5 448.5,334.5 449.5,334.5 450.5,334.5 451.5,334.5 452.5,334.5 453.5,334.5 454.5,334.5 455.5,334.5 456.5,335.5 457.5,336.5 458.5,335.5 459.5,335.5 460.5,335.5 461.5,336.5 462.5,334.5 463.5,336.5 464.5,332.5 465.5,334.5 466.5,334.5 467.5,337.5 468.5,336.5 469.5,335.5 470.5,335.5 471.5,336.5 472.5,335.5 473.5,335.5 474.5,334.5 475.5,334.5 476.5,335.5 477.5,336.5 478.5,335.5 479.5,335.5 480.5,334.5 481.5,335.5 482.5,334.5 483.5,334.5 484.5,333.5 485.5,334.5 486.5,335.5 487.5,336.5 488.5,334.5 489.5,336.5 490.5,335.5 491.5,334.5 492.5,333.5 493.5,333.5 494.5,334.5 495.5,336.5 496.5,334.5 497.5,334.5 498.5,336.5 499.5,333.5 500.5,335.5 501.5,335.5 502.5,335.5 503.5,336.5 504.5,335.5 505.5,335.5 506.5,336.5 507.5,336.5 508.5,335.5 509.5,335.5 510.5,335.5 511.5,336.5 512.5,335.5 513.5,336.5 514.5,336.5 515.5,336.5 516.5,336.5 517.5,336.5 518.5,336.5 519.5,336.5 520.5,336.5 521.5,336.5 522.5,336.5 523.5,336.5 524.5,336.5 525.5,336.5 526.5,336.5 527.5,336.5 528.5,336.5 529.5,337.5 530.5,337.5 531.5,337.5 532.5,336.5 533.5,337.5 534.5,337.5 535.5,336.5 536.5,335.5 537.5,334.5 538.5,334.5 539.5,334.5 540.5,334.5 541.5,334.5 542.5,334.5 543.5,334.5 544.5,334.5 545.5,334.5 546.5,335.5 547.5,335.5 548.5,334.5 549.5,335.5 550.5,335.5 551.5,335.5 552.5,334.5 553.5,334.5 554.5,333.5 555.5,334.5 556.5,333.5 557.5,332.5 558.5,333.5 559.5,332.5 560.5,333.5 561.5,332.5 562.5,333.5 563.5,333.5 564.5,333.5 565.5,333.5 566.5,333.5 567.5,334.5 568.5,334.5 569.5,333.5 570.5,333.5 571.5,334.5 572.5,334.5 573.5,334.5 574.5,334.5 575.5,334.5 576.5,334.5 577.5,335.5 578.5,334.5 579.5,333.5 580.5,334.5 581.5,336.5 582.5,336.5 583.5,335.5 584.5,335.5 585.5,337.5 586.5,337.5 587.5,337.5 588.5,338.5 589.5,338.5 590.5,336.5 591.5,336.5 592.5,337.5 593.5,335.5 594.5,335.5 595.5,335.5 596.5,334.5 597.5,334.5 598.5,334.5 599.5,334.5 600.5,335.5 601.5,335.5 602.5,335.5 603.5,335.5 604.5,335.5 605.5,335.5 606.5,334.5 607.5,334.5 608.5,334.5 609.5,334.5 610.5,334.5 611.5,334.5 612.5,334.5 613.5,334.5 614.5,335.5 615.5,335.5 616.5,335.5 617.5,335.5 618.5,335.5 619.5,335.5 620.5,335.5 621.5,335.5 622.5,336.5 623.5,336.5 624.5,335.5 625.5,335.5 626.5,336.5 627.5,336.5 628.5,335.5 629.5,336.5 630.5,335.5 631.5,335.5 632.5,337.5 633.5,338.5 634.5,338.5 635.5,340.5 636.5,338.5 637.5,339.5 638.5,339.5 639.5,337.5 640.5,337.5 641.5,336.5 642.5,337.5 643.5,338.5 644.5,339.5 645.5,338.5 646.5,336.5 647.5,337.5 648.5,339.5 649.5,339.5 650.5,340.5 651.5,337.5 652.5,337.5 653.5,336.5 654.5,338.5 655.5,339.5 656.5,338.5 657.5,339.5 658.5,340.5 659.5,339.5 660.5,337.5 661.5,337.5 662.5,337.5 663.5,333.5 664.5,334.5 665.5,333.5 666.5,331.5 667.5,331.5 668.5,328.5 669.5,330.5 670.5,330.5 671.5,331.5 672.5,331.5 673.5,332.5 674.5,332.5 675.5,333.5 676.5,332.5 677.5,334.5 678.5,332.5 679.5,330.5 680.5,330.5 681.5,331.5 682.5,332.5 683.5,334.5 684.5,335.5 685.5,334.5 686.5,332.5 687.5,332.5 688.5,333.5 689.5,333.5 690.5,334.5 691.5,334.5 692.5,335.5 693.5,334.5 694.5,334.5 695.5,334.5 696.5,334.5 697.5,334.5 698.5,334.5 699.5,333.5 700.5,333.5 701.5,333.5" fill="none" stroke="#000" stroke-width="1" shape-rendering="crispEdges"/>
<polyline points="102.5,547.5 103.5,547.5 104.5,547.5 105.5,547.5 106.5,547.5 107.5,547.5 108.5,547.5 109.5,547.5 110.5,547.5 111.5,547.5 112.5,547.5 113.5,547.5 114.5,547.5 115.5,547.5 116.5,547.5 117.5,547.5 118.5,547.5 119.5,547.5 120.5,547.5 121.5,547.5 122.5,547.5 123.5,547.5 124.5,547.5 125.5,547.5 126.5,547.5 127.5,547.5 128.5,547.5 129.5,547.5 130.5,547.5 131.5,547.5 132.5,547.5 133.5,547.5 134.5,547.5 135.5,547.5 136.5,547.5 137.5,547.5 138.5,547.5 139.5,547.5 140.5,547.5 141.5,547.5 142.5,547.5 143.5,547.5 144.5,547.5 145.5,547.5 146.5,547.5 147.5,548.5 148.5,547.5 149.5,548.5 150.5,548.5 151.5,547.5 152.5,548.5 153.5,549.5 154.5,548.5 155.5,549.5 156.5,548.5 157.5,548.5 158.5,548.5 159.5,548.5 160.5,548.5 161.5,549.5 162.5,548.5 163.5,548.5 164.5,548.5 165.5,549.5 166.5,549.5 167.5,548.5 168.5,547.5 169.5,548.5 170.5,548.5 171.5,547.5 172.5,548.5 173.5,548.5 174.5,548.5 175.5,548.5 176.5,548.5 177.5,548.5 178.5,548.5 179.5,548.5 180.5,548.5 181.5,548.5 182.5,548.5 183.5,549.5 184.5,548.5 185.5,548.5 186.5,548.5 187.5,548.5 188.5,548.5 189.5,548.5 190.5,548.5 191.5,548.5 192.5,548.5 193.5,548.5 194.5,549.5 195.5,548.5 196.5,548.5 197.5,548.5 198.5,548.5 199.5,548.5 200.5,547.5 201.5,549.5 202.5,548.5 203.5,548.5 204.5,548.5 205.5,547.5 206.5,549.5 207.5,549.5 208.5,549.5 209.5,548.5 210.5,548.5 211.5,548.5 212.5,549.5 213.5,548.5 214.5,548.5 215.5,549.5 216.5,548.5 217.5,548.5 218.5,548.5 219.5,548.5 220.5,548.5 221.5,548.5 222.5,549.5 223.5,549.5 224.5,548.5 225.5,548.5 226.5,549.5 227.5,549.5 228.5,549.5 229.5,549.5 230.5,549.5 231.5,549.5 232.5,549.5 233.5,549.5 234.5,549.5 235.5,549.5 236.5,549.5 237.5,549.5 238.5,549.5 239.5,549.5 240.5,549.5 241.5,550.5 242.5,550.5 243.5,550.5 244.5,550.5 245.5,550.5 246.5,550.5 247.5,549.5 248.5,550.5 249.5,550.5 250.5,550.5 251.5,551.5 252.5,548.5 253.5,548.5 254.5,549.5 255.5,551.5 256.5,549.5 257.5,549.5 258.5,548.5 259.5,548.5 260.5,548.5 261.5,550.5 262.5,550.5 263.5,550.5 264.5,549.5 265.5,551.5 266.5,547.5 267.5,546.5 268.5,548.5 269.5,549.5 270.5,549.5 271.5,548.5 272.5,550.5 273.5,551.5 274.5,548.5 275.5,548.5 276.5,547.5 277.5,549.5 278.5,551.5 279.5,551.5 280.5,551.5 281.5,552.5 282.5,551.5 283.5,551.5 284.5,550.5 285.5,550.5 286.5,551.5 287.5,551.5 288.5,552.5 289.5,553.5 290.5,552.5 291.5,551.5 292.5,551.5 293.5,553.5 294.5,552.5 295.5,553.5 296.5,553.5 297.5,553.5 298.5,554.5 299.5,552.5 300.5,551.5 301.5,553.5 302.5,553.5 303.5,553.5 304.5,553.5 305.5,553.5 306.5,554.5 307.5,553.5 308.5,551.5 309.5,550.5 310.5,551.5 311.5,551.5 312.5,551.5 313.5,549.5 314.5,547.5 315.5,550.5 316.5,551.5 317.5,551.5 318.5,553.5 319.5,552.5 320.5,551.5 321.5,552.5 322.5,551.5 323.5,552.5 324.5,552.5 325.5,552.5 326.5,551.5 327.5,551.5 328.5,550.5 329.5,550.5 330.5,549.5 331.5,552.5 332.5,553.5 333.5,554.5 334.5,552.5 335.5,551.5 336.5,551.5 337.5,554.5 338.5,552.5 339.5,553.5 340.5,551.5 341.5,553.5 342.5,554.5 343.5,554.5 344.5,553.5 345.5,553.5 346.5,553.5 347.5,554.5 348.5,554.5 349.5,554.5 350.5,553.5 351.5,553.5 352.5,553.5 353.5,553.5 354.5,553.5 355.5,553.5 356.5,553.5 357.5,553.5 358.5,553.5 359.5,553.5 360.5,553.5 361.5,553.5 362.5,553.5 363.5,553.5 364.5,553.5 365.5,553.5 366.5,553.5 367.5,552.5 368.5,552.5 369.5,552.5 370.5,551.5 371.5,551.5 372.5,551.5 373.5,551.5 374.5,551.5 375.5,550.5 376.5,550.5 377.5,550.5 378.5,550.5 379.5,550.5 380.5,551.5 381.5,551.5 382.5,551.5 383.5,551.5 384.5,552.5 385.5,553.5 386.5,553.5 387.5,553.5 388.5,553.5 389.5,552.5 390.5,552.5 391.5,552.5 392.5,552.5 393.5,552.5 394.5,552.5 395.5,552.5 396.5,552.5 397.5,552.5 398.5,552.5 399.5,553.5 400.5,553.5 401.5,552.5 402.5,552.5 403.5,552.5 404.5,552.5 405.5,552.5 406.5,552.5 407.5,552.5 408.5,552.5 409.5,552.5 410.5,552.5 411.5,552.5 412.5,552.5 413.5,552.5 414.5,552.5 415.5,552.5 416.5,552.5 417.5,553.5 418.5,552.5 419.5,552.5 420.5,552.5 421.5,552.5 422.5,551.5 423.5,553.5 424.5,552.5 425.5,552.5 426.5,552.5 427.5,552.5 428.5,552.5 429.5,552.5 430.5,553.5 431.5,553.5 432.5,553.5 433.5,553.5 434.5,553.5 435.5,553.5 436.5,553.5 437.5,553.5 438.5,554.5 439.5,554.5 440.5,554.5 441.5,554.5 442.5,553.5 443.5,553.5 444.5,553.5 445.5,554.5 446.5,553.5 447.5,554.5 448.5,554.5 449.5,554.5 450.5,554.5 451.5,554.5 452.5,554.5 453.5,554.5 454.5,554.5 455.5,554.5 456.5,555.5 457.5,556.5 458.5,555.5 459.5,555.5 460.5,555.5 461.5,556.5 462.5,554.5 463.5,556.5 464.5,552.5 465.5,554.5 466.5,554.5 467.5,557.5 468.5,556.5 469.5,555.5 470.5,555.5 471.5,556.5 472.5,555.5 473.5,555.5 474.5,554.5 475.5,554.5 476.5,555.5 477.5,556.5 478.5,555.5 479.5,555.5 480.5,554.5 481.5,555.5 482.5,554.5 483.5,554.5 484.5,553.5 485.5,554.5 486.5,555.5 487.5,556.5 488.5,554.5 489.5,556.5 490.5,555.5 491.5,554.5 492.5,553.5 493.5,553.5 494.5,554.5 495.5,556.5 496.5,554.5 497.5,554.5 498.5,556.5 499.5,553.5 500.5,555.5 501.5,555.5 502.5,555.5 503.5,556.5 504.5,555.5 505.5,555.5 506.5,556.5 507.5,556.5 508.5,555.5 509.5,555.5 510.5,555.5 511.5,556.5 512.5,555.5 513.5,556.5 514.5,556.5 515.5,556.5 516.5,556.5 517.5,556.5 518.5,556.5 519.5,556.5 520.5,556.5 521.5,556.5 522.5,556.5 523.5,556.5 524.5,556.5 525.5,556.5 526.5,556.5 527.5,556.5 528.5,556.5 529.5,557.5 530.5,557.5 531.5,557.5 532.5,556.5 533.5,557.5 534.5,557.5 535.5,556.5 536.5,555.5 537.5,554.5 538.5,554.5 539.5,554.5 540.5,554.5 541.5,554.5 542.5,554.5 543.5,554.5 544.5,554.5 545.5,554.5 546.5,555.5 547.5,555.5 548.5,554.5 549.5,555.5 550.5,555.5 551.5,555.5 552.5,554.5 553.5,554.5 554.5,553.5 555.5,554.5 556.5,553.5 557.5,552.5 558.5,553.5 559.5,552.5 560.5,553.5 561.5,552.5 562.5,553.5 563.5,553.5 564.5,553.5 565.5,553.5 566.5,553.5 567.5,554.5 568.5,554.5 569.5,553.5 570.5,553.5 571.5,554.5 572.5,554.5 573.5,554.5 574.5,554.5 575.5,554.5 576.5,554.5 577.5,555.5 578.5,554.5 579.5,553.5 580.5,554.5 581.5,556.5 582.5,556.5 583.5,555.5 584.5,555.5 585.5,557.5 586.5,557.5 587.5,557.5 588.5,558.5 589.5,558.5 590.5,556.5 591.5,556.5 592.5,557.5 593.5,555.5 594.5,555.5 595.5,555.5 596.5,554.5 597.5,554.5 598.5,554.5 599.5,554.5 600.5,555.5 601.5,555.5 602.5,555.5 603.5,555.5 604.5,555.5 605.5,555.5 606.5,554.5 607.5,554.5 608.5,554.5 609.5,554.5 610.5,554.5 611.5,554.5 612.5,554.5 613.5,554.5 614.5,555.5 615.5,555.5 616.5,555.5 617.5,555.5 618.5,555.5 619.5,555.5 620.5,555.5 621.5,555.5 622.5,556.5 623.5,556.5 624.5,555.5 625.5,555.5 626.5,556.5 627.5,556.5 628.5,555.5 629.5,556.5 630.5,555.5 631.5,555.5 632.5,557.5 633.5,558.5 634.5,558.5 635.5,560.5 636.5,558.5 637.5,559.5 638.5,559.5 639.5,557.5 640.5,557.5 641.5,556.5 642.5,557.5 643.5,558.5 644.5,559.5 645.5,558.5 646.5,556.5 647.5,557.5 648.5,559.5 649.5,559.5 650.5,560.5 651.5,557.5 652.5,557.5 653.5,556.5 654.5,558.5 655.5,559.5 656.5,558.5 657.5,559.5 658.5,560.5 659.5,559.5 660.5,557.5 661.5,557.5 662.5,557.5 663.5,553.5 664.5,554.5 665.5,553.5 666.5,551.5 667.5,551.5 668.5,548.5 669.5,550.5 670.5,550.5 671.5,551.5 672.5,551.5 673.5,552.5 674.5,552.5 675.5,553.5 676.5,552.5 677.5,554.5 678.5,552.5 679.5,550.5 680.5,550.5 681.5,551.5 682.5,552.5 683.5,554.5 684.5,555.5 685.5,554.5 686.5,552.5 687.5,552.5 688.5,553.5 689.5,553.5 690.5,554.5 691.5,554.5 692.5,555.5 693.5,554.5 694.5,554.5 695.5,554.5 696.5,554.5 697.5,554.5 698.5,554.5 699.5,553.5 700.5,553.5 701.5,553.5" fill="none" stroke="#fff" stroke-width="3" stroke-linejoin="round" shape-rendering="crispEdges"/>
<polyline points="102.5,547.5 103.5,547.5 104.5,547.5 105.5,547.5 106.5,547.5 107.5,547.5 108.5,547.5 109.5,547.5 110.5,547.5 111.5,547.5 112.5,547.5 113.5,547.5 114.5,547.5 115.5,547.5 116.5,547.5 117.5,547.5 118.5,547.5 119.5,547.5 120.5,547.5 121.5,547.5 122.5,547.5 123.5,547.5 124.5,547.5 125.5,547.5 126.5,547.5 127.5,547.5 128.5,547.5 129.5,547.5 130.5,547.5 131.5,547.5 132.5,547.5 133.5,547.5 134.5,547.5 135.5,547.5 136.5,547.5 137.5,547.5 138.5,547.5 139.5,547.5 140.5,547.5 141.5,547.5 142.5,547.5 143.5,547.5 144.5,547.5 145.5,547.5 146.5,547.5 147.5,548.5 148.5,547.5 149.5,548.5 150.5,548.5 151.5,547.5 152.5,548.5 153.5,549.5 154.5,548.5 155.5,549.5 156.5,548.5 157.5,548.5 158.5,548.5 159.5,548.5 160.5,548.5 161.5,549.5 162.5,548.5 163.5,548.5 164.5,548.5 165.5,549.5 166.5,549.5 167.5,548.5 168.5,547.5 169.5,548.5 170.5,548.5 171.5,547.5 172.5,548.5 173.5,548.5 174.5,548.5 175.5,548.5 176.5,548.5 177.5,548.5 178.5,548.5 179.5,548.5 180.5,548.5 181.5,548.5 182.5,548.5 183.5,549.5 184.5,548.5 185.5,548.5 186.5,548.5 187.5,548.5 188.5,548.5 189.5,548.5 190.5,548.5 191.5,548.5 192.5,548.5 193.5,548.5 194.5,549.5 195.5,548.5 196.5,548.5 197.5,548.5 198.5,548.5 199.5,548.5 200.5,547.5 201.5,549.5 202.5,548.5 203.5,548.5 204.5,548.5 205.5,547.5 206.5,549.5 207.5,549.5 208.5,549.5 209.5,548.5 210.5,548.5 211.5,548.5 212.5,549.5 213.5,548.5 214.5,548.5 215.5,549.5 216.5,548.5 217.5,548.5 218.5,548.5 219.5,548.5 220.5,548.5 221.5,548.5 222.5,549.5 223.5,549.5 224.5,548.5 225.5,548.5 226.5,549.5 227.5,549.5 228.5,549.5 229.5,549.5 230.5,549.5 231.5,549.5 232.5,549.5 233.5,549.5 234.5,549.5 235.5,549.5 236.5,549.5 237.5,549.5 238.5,549.5 239.5,549.5 240.5,549.5 241.5,550.5 242.5,550.5 243.5,550.5 244.5,550.5 245.5,550.5 246.5,550.5 247.5,549.5 248.5,550.5 249.5,550.5 250.5,550.5 251.5,551.5 252.5,548.5 253.5,548.5 254.5,549.5 255.5,551.5 256.5,549.5 257.5,549.5 258.5,548.5 259.5,548.5 260.5,548.5 261.5,550.5 262.5,550.5 263.5,550.5 264.5,549.5 265.5,551.5 266.5,547.5 267.5,546.5 268.5,548.5 269.5,549.5 270.5,549.5 271.5,548.5 272.5,550.5 273.5,551.5 274.5,548.5 275.5,548.5 276.5,547.5 277.5,549.5 278.5,551.5 279.5,551.5 280.5,551.5 281.5,552.5 282.5,551.5 283.5,551.5 284.5,550.5 285.5,550.5 286.5,551.5 287.5,551.5 288.5,552.5 289.5,553.5 290.5,552.5 291.5,551.5 292.5,551.5 293.5,553.5 294.5,552.5 295.5,553.5 296.5,553.5 297.5,553.5 298.5,554.5 299.5,552.5 300.5,551.5 301.5,553.5 302.5,553.5 303.5,553.5 304.5,553.5 305.5,553.5 306.5,554.5 307.5,553.5 308.5,551.5 309.5,550.5 310.5,551.5 311.5,551.5 312.5,551.5 313.5,549.5 314.5,547.5 315.5,550.5 316.5,551.5 317.5,551.5 318.5,553.5 319.5,552.5 320.5,551.5 321.5,552.5 322.5,551.5 323.5,552.5 324.5,552.5 325.5,552.5 326.5,551.5 327.5,551.5 328.5,550.5 329.5,550.5 330.5,549.5 331.5,552.5 332.5,553.5 333.5,554.5 334.5,552.5 335.5,551.5 336.5,551.5 337.5,554.5 338.5,552.5 339.5,553.5 340.5,551.5 341.5,553.5 342.5,554.5 343.5,554.5 344.5,553.5 345.5,553.5 346.5,553.5 347.5,554.5 348.5,554.5 349.5,554.5 350.5,553.5 351.5,553.5 352.5,553.5 353.5,553.5 354.5,553.5 355.5,553.5 356.5,553.5 357.5,553.5 358.5,553.5 359.5,553.5 360.5,553.5 361.5,553.5 362.5,553.5 363.5,553.5 364.5,553.5 365.5,553.5 366.5,553.5 367.5,552.5 368.5,552.5 369.5,552.5 370.5,551.5 371.5,551.5 372.5,551.5 373.5,551.5 374.5,551.5 375.5,550.5 376.5,550.5 377.5,550.5 378.5,550.5 379.5,550.5 380.5,551.5 381.5,551.5 382.5,551.5 383.5,551.5 384.5,552.5 385.5,553.5 386.5,553.5 387.5,553.5 388.5,553.5 389.5,552.5 390.5,552.5 391.5,552.5 392.5,552.5 393.5,552.5 394.5,552.5 395.5,552.5 396.5,552.5 397.5,552.5 398.5,552.5 399.5,553.5 400.5,553.5 401.5,552.5 402.5,552.5 403.5,552.5 404.5,552.5 405.5,552.5 406.5,552.5 407.5,552.5 408.5,552.5 409.5,552.5 410.5,552.5 411.5,552.5 412.5,552.5 413.5,552.5 414.5,552.5 415.5,552.5 416.5,552.5 417.5,553.5 418.5,552.5 419.5,552.5 420.5,552.5 421.5,552.5 422.5,551.5 423.5,553.5 424.5,552.5 425.5,552.5 426.5,552.5 427.5,552.5 428.5,552.5 429.5,552.5 430.5,553.5 431.5,553.5 432.5,553.5 433.5,553.5 434.5,553.5 435.5,553.5 436.5,553.5 437.5,553.5 438.5,554.5 439.5,554.5 440.5,554.5 441.5,554.5 442.5,553.5 443.5,553.5 444.5,553.5 445.5,554.5 446.5,553.5 447.5,554.5 448.5,554.5 449.5,554.5 450.5,554.5 451.5,554.5 452.5,554.5 453.5,554.5 454.5,554.5 455.5,554.5 456.5,555.5 457.5,556.5 458.5,555.5 459.5,555.5 460.5,555.5 461.5,556.5 462.5,554.5 463.5,556.5 464.5,552.5 465.5,554.5 466.5,554.5 467.5,557.5 468.5,556.5 469.5,555.5 470.5,555.5 471.5,556.5 472.5,555.5 473.5,555.5 474.5,554.5 475.5,554.5 476.5,555.5 477.5,556.5 478.5,555.5 479.5,555.5 480.5,554.5 481.5,555.5 482.5,554.5 483.5,554.5 484.5,553.5 485.5,554.5 486.5,555.5 487.5,556.5 488.5,554.5 489.5,556.5 490.5,555.5 491.5,554.5 492.5,553.5 493.5,553.5 494.5,554.5 495.5,556.5 496.5,554.5 497.5,554.5 498.5,556.5 499.5,553.5 500.5,555.5 501.5,555.5 502.5,555.5 503.5,556.5 504.5,555.5 505.5,555.5 506.5,556.5 507.5,556.5 508.5,555.5 509.5,555.5 510.5,555.5 511.5,556.5 512.5,555.5 513.5,556.5 514.5,556.5 515.5,556.5 516.5,556.5 517.5,556.5 518.5,556.5 519.5,556.5 520.5,556.5 521.5,556.5 522.5,556.5 523.5,556.5 524.5,556.5 525.5,556.5 526.5,556.5 527.5,556.5 528.5,556.5 529.5,557.5 530.5,557.5 531.5,557.5 532.5,556.5 533.5,557.5 534.5,557.5 535.5,556.5 536.5,555.5 537.5,554.5 538.5,554.5 539.5,554.5 540.5,554.5 541.5,554.5 542.5,554.5 543.5,554.5 544.5,554.5 545.5,554.5 546.5,555.5 547.5,555.5 548.5,554.5 549.5,555.5 550.5,555.5 551.5,555.5 552.5,554.5 553.5,554.5 554.5,553.5 555.5,554.5 556.5,553.5 557.5,552.5 558.5,553.5 559.5,552.5 560.5,553.5 561.5,552.5 562.5,553.5 563.5,553.5 564.5,553.5 565.5,553.5 566.5,553.5 567.5,554.5 568.5,554.5 569.5,553.5 570.5,553.5 571.5,554.5 572.5,554.5 573.5,554.5 574.5,554.5 575.5,554.5 576.5,554.5 577.5,555.5 578.5,554.5 579.5,553.5 580.5,554.5 581.5,556.5 582.5,556.5 583.5,555.5 584.5,555.5 585.5,557.5 586.5,557.5 587.5,557.5 588.5,558.5 589.5,558.5 590.5,556.5 591.5,556.5 592.5,557.5 593.5,555.5 594.5,555.5 595.5,555.5 596.5,554.5 597.5,554.5 598.5,554.5 599.5,554.5 600.5,555.5 601.5,555.5 602.5,555.5 603.5,555.5 604.5,555.5 605.5,555.5 606.5,554.5 607.5,554.5 608.5,554.5 609.5,554.5 610.5,554.5 611.5,554.5 612.5,554.5 613.5,554.5 614.5,555.5 615.5,555.5 616.5,555.5 617.5,555.5 618.5,555.5 619.5,555.5 620.5,555.5 621.5,555.5 622.5,556.5 623.5,556.5 624.5,555.5 625.5,555.5 626.5,556.5 627.5,556.5 628.5,555.5 629.5,556.5 630.5,555.5 631.5,555.5 632.5,557.5 633.5,558.5 634.5,558.5 635.5,560.5 636.5,558.5 637.5,559.5 638.5,559.5 639.5,557.5 640.5,557.5 641.5,556.5 642.5,557.5 643.5,558.5 644.5,559.5 645.5,558.5 646.5,556.5 647.5,557.5 648.5,559.5 649.5,559.5 650.5,560.5 651.5,557.5 652.5,557.5 653.5,556.5 654.5,558.5 655.5,559.5 656.5,558.5 657.5,559.5 658.5,560.5 659.5,559.5 660.5,557.5 661.5,557.5 662.5,557.5 663.5,553.5 664.5,554.5 665.5,553.5 666.5,551.5 667.5,551.5 668.5,548.5 669.5,550.5 670.5,550.5 671.5,551.5 672.5,551.5 673.5,552.5 674.5,552.5 675.5,553.5 676.5,552.5 677.5,554.5 678.5,552.5 679.5,550.5 680.5,550.5 681.5,551.5 682.5,552.5 683.5,554.5 684.5,555.5 685.5,554.5 686.5,552.5 687.5,552.5 688.5,553.5 689.5,553.5 690.5,554.5 691.5,554.5 692.5,555.5 693.5,554.5 694.5,554.5 695.5,554.5 696.5,554.5 697.5,554.5 698.5,554.5 699.5,553.5 700.5,553.5 701.5,553.5" fill="none" stroke="#000" stroke-width="1" shape-rendering="crispEdges"/>
<g opacity=".999">
<text stroke="#000" stroke-width=".4" transform="translate(103.52,58.60) scale(0.8977,1)" font-size="21">The</text>
<text stroke="#000" stroke-width=".4" transform="translate(148.03,58.60) scale(0.9954,1)" font-size="21">University</text>
<text stroke="#000" stroke-width=".4" transform="translate(252.80,58.60) scale(1.0662,1)" font-size="21">of</text>
<text stroke="#000" stroke-width=".4" transform="translate(283.75,58.60) scale(0.9264,1)" font-size="21">Iowa</text>
<text transform="translate(351.12,58.60) scale(0.9070,1)" font-size="39.2" stroke="#fff" stroke-width="2">GEOTAIL</text>
<text transform="translate(525.73,58.60) scale(0.8877,1)" font-size="39.2" stroke="#fff" stroke-width="2">PWI</text>
<text transform="translate(615.72,58.60) scale(0.9147,1)" font-size="39.2" stroke="#fff" stroke-width="2">MCA</text>
<text transform="translate(128.89,87.10) scale(2.8231,1)" font-size="23.6" stroke="#fff" stroke-width="1">-</text>
<text transform="translate(102.33,89.10) scale(1.0898,1)" font-size="23.6" stroke="#fff" stroke-width="1">03</text>
<text transform="translate(150.54,89.10) scale(1.0822,1)" font-size="23.6" stroke="#fff" stroke-width="1">363</text>
<text transform="translate(206.21,89.10) scale(0.9348,1)" font-size="23.6" stroke="#fff" stroke-width="1">(DEC</text>
<text transform="translate(273.79,89.10) scale(1.1946,1)" font-size="23.6" stroke="#fff" stroke-width="1">29)</text>
<text transform="translate(326.81,89.10) scale(1.0985,1)" font-size="23.6" stroke="#fff" stroke-width="1">00:00:00</text>
<text transform="translate(441.45,89.10) scale(0.9024,1)" font-size="23.6" stroke="#fff" stroke-width="1">UT</text>
<text transform="translate(624.07,89.10) scale(1.0898,1)" font-size="23.6" stroke="#fff" stroke-width="1">24</text>
<text transform="translate(666.63,89.10) scale(1.1014,1)" font-size="23.6" stroke="#fff" stroke-width="1">hrs</text>
<text transform="translate(69.40,183.30) scale(1,1)" text-anchor="middle" x="5.00 17.90 30.80 43.70 56.60" font-size="23.2" stroke="#fff" stroke-width="0.95">00:00</text>
<text transform="translate(69.70,655.00) scale(1,1)" text-anchor="middle" x="5.00 17.90 30.80 43.70 56.60" font-size="23.2" stroke="#fff" stroke-width="0.95">00:00</text>
<text transform="translate(169.40,183.30) scale(1,1)" text-anchor="middle" x="5.00 17.90 30.80 43.70 56.60" font-size="23.2" stroke="#fff" stroke-width="0.95">04:00</text>
<text transform="translate(169.70,655.00) scale(1,1)" text-anchor="middle" x="5.00 17.90 30.80 43.70 56.60" font-size="23.2" stroke="#fff" stroke-width="0.95">04:00</text>
<text transform="translate(269.40,183.30) scale(1,1)" text-anchor="middle" x="5.00 17.90 30.80 43.70 56.60" font-size="23.2" stroke="#fff" stroke-width="0.95">08:00</text>
<text transform="translate(269.70,655.00) scale(1,1)" text-anchor="middle" x="5.00 17.90 30.80 43.70 56.60" font-size="23.2" stroke="#fff" stroke-width="0.95">08:00</text>
<text transform="translate(369.40,183.30) scale(1,1)" text-anchor="middle" x="5.00 17.90 30.80 43.70 56.60" font-size="23.2" stroke="#fff" stroke-width="0.95">12:00</text>
<text transform="translate(369.70,655.00) scale(1,1)" text-anchor="middle" x="5.00 17.90 30.80 43.70 56.60" font-size="23.2" stroke="#fff" stroke-width="0.95">12:00</text>
<text transform="translate(469.40,183.30) scale(1,1)" text-anchor="middle" x="5.00 17.90 30.80 43.70 56.60" font-size="23.2" stroke="#fff" stroke-width="0.95">16:00</text>
<text transform="translate(469.70,655.00) scale(1,1)" text-anchor="middle" x="5.00 17.90 30.80 43.70 56.60" font-size="23.2" stroke="#fff" stroke-width="0.95">16:00</text>
<text transform="translate(569.40,183.30) scale(1,1)" text-anchor="middle" x="5.00 17.90 30.80 43.70 56.60" font-size="23.2" stroke="#fff" stroke-width="0.95">20:00</text>
<text transform="translate(569.70,655.00) scale(1,1)" text-anchor="middle" x="5.00 17.90 30.80 43.70 56.60" font-size="23.2" stroke="#fff" stroke-width="0.95">20:00</text>
<text transform="translate(669.70,655.00) scale(1,1)" text-anchor="middle" x="5.00 17.90 30.80 43.70 56.60" font-size="23.2" stroke="#fff" stroke-width="0.95">00:00</text>
<text transform="translate(642.00,183.20) scale(1.0148,1)" font-size="16" stroke="#fff" stroke-width="0.35">U</text>
<text transform="translate(653.30,183.20) scale(0.6157,1)" font-size="16" stroke="#fff" stroke-width="0.35">T</text>
<text transform="translate(642.02,655.60) scale(0.9647,1)" font-size="16.8" stroke="#fff" stroke-width="0.35">U</text>
<text transform="translate(653.30,655.60) scale(0.5853,1)" font-size="16.8" stroke="#fff" stroke-width="0.35">T</text>
<text transform="translate(43.01,229.90) scale(0.5335,1)" font-size="21.4" stroke="#fff" stroke-width="0.5">1</text>
<text transform="translate(52.51,229.90) scale(0.8743,1)" font-size="21.4" stroke="#fff" stroke-width="0.55">0</text>
<text transform="translate(64.91,229.90) scale(0.8743,1)" font-size="21.4" stroke="#fff" stroke-width="0.55">0</text>
<text transform="translate(76.93,229.90) scale(0.7401,1)" font-size="21.4" stroke="#fff" stroke-width="0.55">K</text>
<text transform="translate(55.41,269.90) scale(0.5335,1)" font-size="21.4" stroke="#fff" stroke-width="0.5">1</text>
<text transform="translate(64.91,269.90) scale(0.8743,1)" font-size="21.4" stroke="#fff" stroke-width="0.55">0</text>
<text transform="translate(76.93,269.90) scale(0.7401,1)" font-size="21.4" stroke="#fff" stroke-width="0.55">K</text>
<text transform="translate(67.81,309.90) scale(0.5335,1)" font-size="21.4" stroke="#fff" stroke-width="0.5">1</text>
<text transform="translate(76.93,309.90) scale(0.7401,1)" font-size="21.4" stroke="#fff" stroke-width="0.55">K</text>
<text transform="translate(43.01,349.90) scale(0.5335,1)" font-size="21.4" stroke="#fff" stroke-width="0.5">1</text>
<text transform="translate(52.51,349.90) scale(0.8743,1)" font-size="21.4" stroke="#fff" stroke-width="0.55">0</text>
<text transform="translate(64.91,349.90) scale(0.8743,1)" font-size="21.4" stroke="#fff" stroke-width="0.55">0</text>
<text transform="translate(55.41,389.90) scale(0.5335,1)" font-size="21.4" stroke="#fff" stroke-width="0.5">1</text>
<text transform="translate(64.91,389.90) scale(0.8743,1)" font-size="21.4" stroke="#fff" stroke-width="0.55">0</text>
<text transform="translate(55.41,489.90) scale(0.5335,1)" font-size="21.4" stroke="#fff" stroke-width="0.5">1</text>
<text transform="translate(64.91,489.90) scale(0.8743,1)" font-size="21.4" stroke="#fff" stroke-width="0.55">0</text>
<text transform="translate(76.93,489.90) scale(0.7401,1)" font-size="21.4" stroke="#fff" stroke-width="0.55">K</text>
<text transform="translate(67.81,529.90) scale(0.5335,1)" font-size="21.4" stroke="#fff" stroke-width="0.5">1</text>
<text transform="translate(76.93,529.90) scale(0.7401,1)" font-size="21.4" stroke="#fff" stroke-width="0.55">K</text>
<text transform="translate(43.01,569.90) scale(0.5335,1)" font-size="21.4" stroke="#fff" stroke-width="0.5">1</text>
<text transform="translate(52.51,569.90) scale(0.8743,1)" font-size="21.4" stroke="#fff" stroke-width="0.55">0</text>
<text transform="translate(64.91,569.90) scale(0.8743,1)" font-size="21.4" stroke="#fff" stroke-width="0.55">0</text>
<text transform="translate(55.41,609.90) scale(0.5335,1)" font-size="21.4" stroke="#fff" stroke-width="0.5">1</text>
<text transform="translate(64.91,609.90) scale(0.8743,1)" font-size="21.4" stroke="#fff" stroke-width="0.55">0</text>
<text transform="translate(28.60,301.80) rotate(-90) scale(1,1.18)" text-anchor="middle" x="4.90 16.85 28.80 40.75 52.70" font-size="19.9" class="m" stroke="#fff" stroke-width="0.75">MCA-E</text>
<text transform="translate(28.60,578.40) rotate(-90) scale(1,1.18)" text-anchor="middle" x="4.90 16.85 28.80 40.75 52.70" font-size="19.9" class="m" stroke="#fff" stroke-width="0.75">MCA-B</text>
<text transform="translate(28.60,492.70) rotate(-90) scale(1,1.18)" text-anchor="middle" x="5.25" font-size="19.9" class="m" stroke="#fff" stroke-width="0.75">F</text>
<text transform="translate(28.60,478.00) rotate(-90) scale(1,1.03)" text-anchor="middle" x="4.70 16.15 27.60 39.05 50.50 61.95 73.40 84.85" font-size="17.6" class="m" stroke="#fff" stroke-width="0.5">REQUENCY</text>
<text transform="translate(28.60,372.20) rotate(-90) scale(1,1.18)" text-anchor="middle" x="3.25 15.15 27.05 38.95" font-size="19.9" class="m" stroke="#fff" stroke-width="0.75">(Hz)</text>
<text transform="translate(715.65,192.60) scale(1.0022,1)" font-size="11.8">Ne</text>
<text transform="translate(737.84,193.60) scale(0.9889,1)" font-size="12.4" stroke="#fff" stroke-width="0.05">(</text>
<text transform="translate(743.41,192.60) scale(1.0404,1)" font-size="11.8">cm</text>
<text transform="translate(760.70,189.30) scale(1.3257,1)" font-size="8.5" stroke="#fff" stroke-width="0.2">−</text>
<text transform="translate(767.44,189.00) scale(1.2991,1)" font-size="8.2" stroke="#fff" stroke-width="0.2">3</text>
<text transform="translate(773.52,193.60) scale(0.9271,1)" font-size="12.4" stroke="#fff" stroke-width="0.05">)</text>
<text transform="translate(731.36,209.50) scale(0.5479,1)" font-size="14" stroke="#fff" stroke-width="0.25">1</text>
<text transform="translate(737.26,209.50) scale(1.0819,1)" font-size="14" stroke="#fff" stroke-width="0.25">0</text>
<text transform="translate(746.38,205.50) scale(1.0741,1)" font-size="9.8">3</text>
<text transform="translate(731.36,229.50) scale(0.5479,1)" font-size="14" stroke="#fff" stroke-width="0.25">1</text>
<text transform="translate(737.26,229.50) scale(1.0819,1)" font-size="14" stroke="#fff" stroke-width="0.25">0</text>
<text transform="translate(746.25,225.50) scale(1.1213,1)" font-size="9.8">2</text>
<text transform="translate(731.36,249.50) scale(0.5479,1)" font-size="14" stroke="#fff" stroke-width="0.25">1</text>
<text transform="translate(737.26,249.50) scale(1.0819,1)" font-size="14" stroke="#fff" stroke-width="0.25">0</text>
<text transform="translate(745.94,245.50) scale(1.1729,1)" font-size="9.8">1</text>
<text transform="translate(731.36,269.50) scale(0.5479,1)" font-size="14" stroke="#fff" stroke-width="0.25">1</text>
<text transform="translate(737.26,269.50) scale(1.0819,1)" font-size="14" stroke="#fff" stroke-width="0.25">0</text>
<text transform="translate(746.38,265.50) scale(1.0629,1)" font-size="9.8">0</text>
<text transform="translate(731.36,289.50) scale(0.5479,1)" font-size="14" stroke="#fff" stroke-width="0.25">1</text>
<text transform="translate(737.26,289.50) scale(1.0819,1)" font-size="14" stroke="#fff" stroke-width="0.25">0</text>
<text transform="translate(746.80,285.70) scale(1.2588,1)" font-size="9.5">−</text>
<text transform="translate(753.50,285.50) scale(1.2198,1)" font-size="9.8">1</text>
<text transform="translate(731.36,309.50) scale(0.5479,1)" font-size="14" stroke="#fff" stroke-width="0.25">1</text>
<text transform="translate(737.26,309.50) scale(1.0819,1)" font-size="14" stroke="#fff" stroke-width="0.25">0</text>
<text transform="translate(746.80,305.70) scale(1.2588,1)" font-size="9.5">−</text>
<text transform="translate(753.83,305.50) scale(1.1662,1)" font-size="9.8">2</text>
<text transform="translate(731.36,329.50) scale(0.5479,1)" font-size="14" stroke="#fff" stroke-width="0.25">1</text>
<text transform="translate(737.26,329.50) scale(1.0819,1)" font-size="14" stroke="#fff" stroke-width="0.25">0</text>
<text transform="translate(746.80,325.70) scale(1.2588,1)" font-size="9.5">−</text>
<text transform="translate(753.96,325.50) scale(1.1171,1)" font-size="9.8">3</text>
<text transform="translate(731.36,349.50) scale(0.5479,1)" font-size="14" stroke="#fff" stroke-width="0.25">1</text>
<text transform="translate(737.26,349.50) scale(1.0819,1)" font-size="14" stroke="#fff" stroke-width="0.25">0</text>
<text transform="translate(746.80,345.70) scale(1.2588,1)" font-size="9.5">−</text>
<text transform="translate(754.19,345.50) scale(1.0507,1)" font-size="9.8">4</text>
<text transform="translate(731.36,369.50) scale(0.5479,1)" font-size="14" stroke="#fff" stroke-width="0.25">1</text>
<text transform="translate(737.26,369.50) scale(1.0819,1)" font-size="14" stroke="#fff" stroke-width="0.25">0</text>
<text transform="translate(746.80,365.70) scale(1.2588,1)" font-size="9.5">−</text>
<text transform="translate(753.96,365.50) scale(1.1171,1)" font-size="9.8">5</text>
<text transform="translate(731.36,389.50) scale(0.5479,1)" font-size="14" stroke="#fff" stroke-width="0.25">1</text>
<text transform="translate(737.26,389.50) scale(1.0819,1)" font-size="14" stroke="#fff" stroke-width="0.25">0</text>
<text transform="translate(746.80,385.70) scale(1.2588,1)" font-size="9.5">−</text>
<text transform="translate(753.84,385.50) scale(1.1411,1)" font-size="9.8">6</text>
<text transform="translate(716.04,472.60) scale(1.0494,1)" font-size="11.4">B</text>
<text transform="translate(731.64,473.60) scale(0.9889,1)" font-size="12.4" stroke="#fff" stroke-width="0.05">(</text>
<text transform="translate(736.67,472.60) scale(0.9909,1)" font-size="11.4">nT</text>
<text transform="translate(750.32,473.60) scale(0.9271,1)" font-size="12.4" stroke="#fff" stroke-width="0.05">)</text>
<text transform="translate(729.57,490.30) scale(1.0625,1)" font-size="14" stroke="#fff" stroke-width="0.25">3</text>
<text transform="translate(737.68,490.30) scale(1.0510,1)" font-size="14" stroke="#fff" stroke-width="0.25">0</text>
<text transform="translate(745.78,490.30) scale(1.0510,1)" font-size="14" stroke="#fff" stroke-width="0.25">0</text>
<text transform="translate(731.30,509.60) scale(0.5137,1)" font-size="14" stroke="#fff" stroke-width="0.25">1</text>
<text transform="translate(737.68,509.60) scale(1.0510,1)" font-size="14" stroke="#fff" stroke-width="0.25">0</text>
<text transform="translate(745.78,509.60) scale(1.0510,1)" font-size="14" stroke="#fff" stroke-width="0.25">0</text>
<text transform="translate(737.67,529.60) scale(1.0625,1)" font-size="14" stroke="#fff" stroke-width="0.25">3</text>
<text transform="translate(745.78,529.60) scale(1.0510,1)" font-size="14" stroke="#fff" stroke-width="0.25">0</text>
<text transform="translate(739.40,549.60) scale(0.5137,1)" font-size="14" stroke="#fff" stroke-width="0.25">1</text>
<text transform="translate(745.78,549.60) scale(1.0510,1)" font-size="14" stroke="#fff" stroke-width="0.25">0</text>
<text transform="translate(745.77,570.30) scale(1.0625,1)" font-size="14" stroke="#fff" stroke-width="0.25">3</text>
<text transform="translate(747.50,589.20) scale(0.5137,1)" font-size="14" stroke="#fff" stroke-width="0.25">1</text>
<text transform="translate(754.92,611.00) scale(1.2389,1)" font-size="14" stroke="#fff" stroke-width="0.2">.</text>
<text transform="translate(759.29,611.00) scale(1.0313,1)" font-size="14" stroke="#fff" stroke-width="0.25">3</text>
<text transform="translate(852.67,259.00) scale(1.0704,1)" font-size="14.4" stroke="#fff" stroke-width="0.25">9</text>
<text transform="translate(862.29,259.00) scale(1.3699,1)" font-size="14.4" stroke="#fff" stroke-width="0.2">.</text>
<text transform="translate(869.37,259.00) scale(1.0949,1)" font-size="14.4" stroke="#fff" stroke-width="0.25">2</text>
<text transform="translate(844.08,258.00) scale(1.2319,1)" font-size="12" stroke="#fff" stroke-width="0.3">−</text>
<text transform="translate(846.16,373.80) scale(0.5321,1)" font-size="14.4" stroke="#fff" stroke-width="0.25">1</text>
<text transform="translate(852.60,373.80) scale(1.0704,1)" font-size="14.4" stroke="#fff" stroke-width="0.25">6</text>
<text transform="translate(862.29,373.80) scale(1.3699,1)" font-size="14.4" stroke="#fff" stroke-width="0.2">.</text>
<text transform="translate(869.57,373.80) scale(1.0357,1)" font-size="14.4" stroke="#fff" stroke-width="0.25">0</text>
<text transform="translate(835.68,372.80) scale(1.2319,1)" font-size="12" stroke="#fff" stroke-width="0.3">−</text>
<text transform="translate(853.09,499.00) scale(0.9826,1)" font-size="14.4" stroke="#fff" stroke-width="0.25">4</text>
<text transform="translate(862.29,499.00) scale(1.3699,1)" font-size="14.4" stroke="#fff" stroke-width="0.2">.</text>
<text transform="translate(869.37,499.00) scale(1.0949,1)" font-size="14.4" stroke="#fff" stroke-width="0.25">2</text>
<text transform="translate(844.08,498.00) scale(1.2319,1)" font-size="12" stroke="#fff" stroke-width="0.3">−</text>
<text transform="translate(852.67,613.60) scale(1.0704,1)" font-size="14.4" stroke="#fff" stroke-width="0.25">9</text>
<text transform="translate(862.29,613.60) scale(1.3699,1)" font-size="14.4" stroke="#fff" stroke-width="0.2">.</text>
<text transform="translate(869.37,613.60) scale(1.0949,1)" font-size="14.4" stroke="#fff" stroke-width="0.25">7</text>
<text transform="translate(844.08,612.60) scale(1.2319,1)" font-size="12" stroke="#fff" stroke-width="0.3">−</text>
<text transform="translate(792.90,395.08) rotate(-90) scale(1.0364,1)" font-size="21" stroke="#fff" stroke-width="0.7">log</text>
<text transform="translate(797.50,361.84) rotate(-90) scale(0.5641,1)" font-size="14.2" stroke="#fff" stroke-width="0.15">1</text>
<text transform="translate(797.50,356.41) rotate(-90) scale(1.2601,1)" font-size="14.2" stroke="#fff" stroke-width="0.15">0</text>
<text transform="translate(793.80,332.17) rotate(-90) scale(1.2506,1)" font-size="22.5" stroke="#fff" stroke-width="0.925">(</text>
<text transform="translate(792.90,323.25) rotate(-90) scale(0.6942,1)" font-size="21" stroke="#fff" stroke-width="0.79">V</text>
<text transform="translate(784.70,311.16) rotate(-90) scale(1.0224,1)" font-size="13.6" stroke="#fff" stroke-width="0.124">2</text>
<text transform="translate(797.50,302.10) rotate(-90) scale(1.7986,1)" font-size="30" stroke="#fff" stroke-width="1.45">/</text>
<text transform="translate(792.90,287.57) rotate(-90) scale(1.1940,1)" font-size="20" stroke="#fff" stroke-width="0.7">m</text>
<text transform="translate(784.70,266.07) rotate(-90) scale(0.9070,1)" font-size="13.6" stroke="#fff" stroke-width="0.124">2</text>
<text transform="translate(797.50,257.63) rotate(-90) scale(1.6978,1)" font-size="30" stroke="#fff" stroke-width="1.45">/</text>
<text transform="translate(792.90,242.71) rotate(-90) scale(0.9207,1)" font-size="21" stroke="#fff" stroke-width="0.79">H</text>
<text transform="translate(792.90,227.67) rotate(-90) scale(1.0133,1)" font-size="20" stroke="#fff" stroke-width="0.7">z</text>
<text transform="translate(793.80,216.03) rotate(-90) scale(1.0918,1)" font-size="22.5" stroke="#fff" stroke-width="0.925">)</text>
<text transform="translate(792.90,626.58) rotate(-90) scale(1.0364,1)" font-size="21" stroke="#fff" stroke-width="0.7">log</text>
<text transform="translate(797.50,593.34) rotate(-90) scale(0.5641,1)" font-size="14.2" stroke="#fff" stroke-width="0.15">1</text>
<text transform="translate(797.50,587.91) rotate(-90) scale(1.2601,1)" font-size="14.2" stroke="#fff" stroke-width="0.15">0</text>
<text transform="translate(793.80,564.18) rotate(-90) scale(1.0918,1)" font-size="22.5" stroke="#fff" stroke-width="0.925">(</text>
<text transform="translate(792.90,554.83) rotate(-90) scale(0.9872,1)" font-size="20" stroke="#fff" stroke-width="0.7">n</text>
<text transform="translate(792.90,542.88) rotate(-90) scale(0.9571,1)" font-size="21" stroke="#fff" stroke-width="0.79">T</text>
<text transform="translate(784.70,531.07) rotate(-90) scale(1.0389,1)" font-size="13.6" stroke="#fff" stroke-width="0.124">2</text>
<text transform="translate(797.50,522.50) rotate(-90) scale(1.7986,1)" font-size="30" stroke="#fff" stroke-width="1.45">/</text>
<text transform="translate(792.90,507.27) rotate(-90) scale(0.9480,1)" font-size="21" stroke="#fff" stroke-width="0.79">H</text>
<text transform="translate(792.90,492.69) rotate(-90) scale(1.1200,1)" font-size="20" stroke="#fff" stroke-width="0.7">z</text>
<text transform="translate(793.80,480.16) rotate(-90) scale(0.9727,1)" font-size="22.5" stroke="#fff" stroke-width="0.925">)</text>
<text transform="translate(711.90,428.30) scale(1,1.08)" text-anchor="middle" x="2.70 9.12 15.54" font-size="10.7" class="m">ANT</text>
<text transform="translate(711.90,428.30) scale(1,1.08)" text-anchor="middle" x="28.38 34.80 41.22 47.64 54.06 60.48 66.90" font-size="10.7" class="m">EX+BX:|</text>
<text transform="translate(711.90,428.30) scale(1,1.08)" text-anchor="middle" x="79.74 86.16 92.58 99.00 105.42 111.84 118.26" font-size="10.7" class="m">EY+BZ:_</text>
<text transform="translate(711.90,443.40) scale(1,1.08)" text-anchor="middle" x="2.70 9.12 15.54" font-size="10.7" class="m">WFC</text>
<text transform="translate(711.90,443.40) scale(1,1.08)" text-anchor="middle" x="28.38 34.80 41.22 47.64" font-size="10.7" class="m">ME:|</text>
<text transform="translate(711.90,443.40) scale(1,1.08)" text-anchor="middle" x="79.74 86.16 92.58 99.00" font-size="10.7" class="m">DI:_</text>
<text transform="translate(711.90,458.60) scale(1,1.08)" text-anchor="middle" x="2.70 9.12 15.54" font-size="10.7" class="m">MEM</text>
<text transform="translate(711.90,458.60) scale(1,1.08)" text-anchor="middle" x="28.38 34.80 41.22 47.64" font-size="10.7" class="m">WR:|</text>
<text transform="translate(711.90,458.60) scale(1,1.08)" text-anchor="middle" x="79.74 86.16 92.58 99.00" font-size="10.7" class="m">RD:_</text>
<text transform="translate(712.60,673.90) scale(1,1.08)" text-anchor="middle" x="2.70 9.12" font-size="10.7" class="m">SC</text>
<text transform="translate(712.60,673.90) scale(1,1.08)" text-anchor="middle" x="21.96 28.38 34.80 41.22 47.64" font-size="10.7" class="m">MGF:|</text>
<text transform="translate(782.60,673.90) scale(1,1.08)" text-anchor="middle" x="2.70 9.12 15.54 21.96 28.38" font-size="10.7" class="m">PWI:_</text>
<text transform="translate(101.90,708.40) scale(1,0.95)" text-anchor="middle" x="3.20 11.80 20.40 29.00 37.60 46.20" font-size="12.4" class="m" stroke="#fff" stroke-width="0.15">EDITOR</text>
<text transform="translate(162.10,708.40) scale(1,1.07)" text-anchor="middle" x="3.50" font-size="14.2" class="m" stroke="#fff" stroke-width="0.2">B</text>
<text transform="translate(201.70,708.40) scale(1,1.07)" text-anchor="middle" x="3.50 12.03 20.56 29.09 37.62 46.15 54.68 63.21 71.74 80.27 88.80 97.33 105.86 114.39 122.92 131.45 139.98 148.51 157.04 165.57 174.10 182.63 191.16 199.69 208.22 216.75 225.28 233.81 242.34 250.87 259.40 267.93 276.46 284.99 293.52 302.05 310.58 319.11 327.64 336.17 344.70 353.23 361.76 370.29 378.82 387.35 395.88 404.41 412.94 421.47 430.00 438.53 447.06 455.59" font-size="14.2" class="m" stroke="#fff" stroke-width="0.2">MDBVAX$DKB3<tspan font-family="Liberation Sans">0</tspan><tspan font-family="Liberation Sans">0</tspan>:[DATA.GE.SD]GE_SD_NUL_2<tspan font-family="Liberation Sans">0</tspan><tspan font-family="Liberation Sans">0</tspan>31229_V<tspan font-family="Liberation Sans">0</tspan>1.S<tspan font-family="Liberation Sans">0</tspan>1;1</text>
<text transform="translate(801.60,708.60) scale(1,1.07)" text-anchor="middle" x="3.50" font-size="14.2" class="m" stroke="#fff" stroke-width="0.2">F</text>
<text transform="translate(810.40,708.60) scale(1,0.95)" text-anchor="middle" x="3.20" font-size="12.4" class="m" stroke="#fff" stroke-width="0.15">G</text>
<text transform="translate(818.80,708.60) scale(1,1.07)" text-anchor="middle" x="3.50 12.10 20.70 29.30" font-size="14.2" class="m" stroke="#fff" stroke-width="0.2">:WBW</text>
<text transform="translate(941.80,419.80) rotate(-90) scale(1,1.07)" text-anchor="middle" x="3.50 12.10 20.70 29.30 37.90 46.50 55.10 63.70 72.30" font-size="14.2" class="m" stroke="#fff" stroke-width="0.2">PROCESSED</text>
<text transform="translate(941.80,419.80) rotate(-90) scale(1,1.07)" text-anchor="middle" x="89.50 98.10 106.70 115.30 123.90 132.50 141.10 149.70 158.30" font-size="14.2" class="m" stroke="#fff" stroke-width="0.2">11-JAN-<tspan font-family="Liberation Sans">0</tspan>1</text>
<text transform="translate(941.80,419.80) rotate(-90) scale(1,1.07)" text-anchor="middle" x="184.10 192.70 201.30 209.90 218.50" font-size="14.2" class="m" stroke="#fff" stroke-width="0.2">21:35</text>
<text transform="translate(941.80,618.40) rotate(-90) scale(1,1.07)" text-anchor="middle" x="3.50 12.10 20.70 29.30 37.90 46.50" font-size="14.2" class="m" stroke="#fff" stroke-width="0.2">GTLSPC</text>
<text transform="translate(941.80,618.40) rotate(-90) scale(1,1.07)" text-anchor="middle" x="72.30 80.90 89.50 98.10" font-size="14.2" class="m" stroke="#fff" stroke-width="0.2">V1.9</text>
<text transform="translate(942.60,715.20) rotate(-90) scale(1,1)" text-anchor="middle" x="2.50 8.70 14.90 21.10 27.30 33.50" font-size="10.2" class="m">SMOOTH</text>
<text transform="translate(942.60,671.80) rotate(-90) scale(1,1)" text-anchor="middle" x="2.50 8.70" font-size="11.2" class="m">11</text>
</g>
</svg>
</body></html>
